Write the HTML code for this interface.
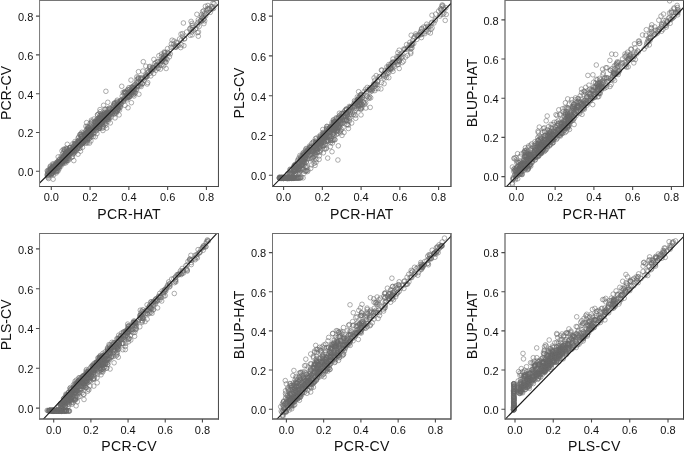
<!DOCTYPE html><html><head><meta charset="utf-8"><style>html,body{margin:0;padding:0;background:#fff;overflow:hidden}svg{display:block;will-change:transform}text{font-family:"Liberation Sans", sans-serif}</style></head><body>
<svg width="685" height="453" viewBox="0 0 685 453">
<rect width="685" height="453" fill="#fff"/>
<clipPath id="c0"><rect x="39.55" y="0.45" width="178.90" height="186.05"/></clipPath>
<g clip-path="url(#c0)">
<path d="M77.0 140.2a2.3 2.3 0 1 0 4.6 0a2.3 2.3 0 1 0-4.6 0M125.3 96.9a2.3 2.3 0 1 0 4.6 0a2.3 2.3 0 1 0-4.6 0M189.9 25.5a2.3 2.3 0 1 0 4.6 0a2.3 2.3 0 1 0-4.6 0M151.5 67.7a2.3 2.3 0 1 0 4.6 0a2.3 2.3 0 1 0-4.6 0M54.6 167.3a2.3 2.3 0 1 0 4.6 0a2.3 2.3 0 1 0-4.6 0M62.2 159.2a2.3 2.3 0 1 0 4.6 0a2.3 2.3 0 1 0-4.6 0M95.1 126.6a2.3 2.3 0 1 0 4.6 0a2.3 2.3 0 1 0-4.6 0M76.0 146.8a2.3 2.3 0 1 0 4.6 0a2.3 2.3 0 1 0-4.6 0M67.7 147.5a2.3 2.3 0 1 0 4.6 0a2.3 2.3 0 1 0-4.6 0M66.4 150.8a2.3 2.3 0 1 0 4.6 0a2.3 2.3 0 1 0-4.6 0M121.7 93.7a2.3 2.3 0 1 0 4.6 0a2.3 2.3 0 1 0-4.6 0M84.5 137.0a2.3 2.3 0 1 0 4.6 0a2.3 2.3 0 1 0-4.6 0M53.3 171.7a2.3 2.3 0 1 0 4.6 0a2.3 2.3 0 1 0-4.6 0M199.3 14.7a2.3 2.3 0 1 0 4.6 0a2.3 2.3 0 1 0-4.6 0M199.0 16.9a2.3 2.3 0 1 0 4.6 0a2.3 2.3 0 1 0-4.6 0M75.6 145.8a2.3 2.3 0 1 0 4.6 0a2.3 2.3 0 1 0-4.6 0M70.9 149.0a2.3 2.3 0 1 0 4.6 0a2.3 2.3 0 1 0-4.6 0M48.1 166.1a2.3 2.3 0 1 0 4.6 0a2.3 2.3 0 1 0-4.6 0M48.3 169.3a2.3 2.3 0 1 0 4.6 0a2.3 2.3 0 1 0-4.6 0M136.1 78.6a2.3 2.3 0 1 0 4.6 0a2.3 2.3 0 1 0-4.6 0M52.6 170.0a2.3 2.3 0 1 0 4.6 0a2.3 2.3 0 1 0-4.6 0M80.1 143.5a2.3 2.3 0 1 0 4.6 0a2.3 2.3 0 1 0-4.6 0M108.5 112.3a2.3 2.3 0 1 0 4.6 0a2.3 2.3 0 1 0-4.6 0M97.9 111.7a2.3 2.3 0 1 0 4.6 0a2.3 2.3 0 1 0-4.6 0M132.0 88.6a2.3 2.3 0 1 0 4.6 0a2.3 2.3 0 1 0-4.6 0M159.2 60.3a2.3 2.3 0 1 0 4.6 0a2.3 2.3 0 1 0-4.6 0M60.7 161.3a2.3 2.3 0 1 0 4.6 0a2.3 2.3 0 1 0-4.6 0M110.2 107.0a2.3 2.3 0 1 0 4.6 0a2.3 2.3 0 1 0-4.6 0M55.3 164.2a2.3 2.3 0 1 0 4.6 0a2.3 2.3 0 1 0-4.6 0M108.8 108.8a2.3 2.3 0 1 0 4.6 0a2.3 2.3 0 1 0-4.6 0M68.1 147.8a2.3 2.3 0 1 0 4.6 0a2.3 2.3 0 1 0-4.6 0M103.4 109.5a2.3 2.3 0 1 0 4.6 0a2.3 2.3 0 1 0-4.6 0M49.4 172.7a2.3 2.3 0 1 0 4.6 0a2.3 2.3 0 1 0-4.6 0M201.3 10.8a2.3 2.3 0 1 0 4.6 0a2.3 2.3 0 1 0-4.6 0M63.1 153.9a2.3 2.3 0 1 0 4.6 0a2.3 2.3 0 1 0-4.6 0M129.2 91.0a2.3 2.3 0 1 0 4.6 0a2.3 2.3 0 1 0-4.6 0M122.9 92.4a2.3 2.3 0 1 0 4.6 0a2.3 2.3 0 1 0-4.6 0M105.8 121.3a2.3 2.3 0 1 0 4.6 0a2.3 2.3 0 1 0-4.6 0M201.7 18.6a2.3 2.3 0 1 0 4.6 0a2.3 2.3 0 1 0-4.6 0M85.4 142.8a2.3 2.3 0 1 0 4.6 0a2.3 2.3 0 1 0-4.6 0M68.7 152.4a2.3 2.3 0 1 0 4.6 0a2.3 2.3 0 1 0-4.6 0M62.8 159.2a2.3 2.3 0 1 0 4.6 0a2.3 2.3 0 1 0-4.6 0M62.2 149.2a2.3 2.3 0 1 0 4.6 0a2.3 2.3 0 1 0-4.6 0M112.4 108.3a2.3 2.3 0 1 0 4.6 0a2.3 2.3 0 1 0-4.6 0M59.3 161.5a2.3 2.3 0 1 0 4.6 0a2.3 2.3 0 1 0-4.6 0M72.5 145.2a2.3 2.3 0 1 0 4.6 0a2.3 2.3 0 1 0-4.6 0M86.1 134.8a2.3 2.3 0 1 0 4.6 0a2.3 2.3 0 1 0-4.6 0M112.6 102.7a2.3 2.3 0 1 0 4.6 0a2.3 2.3 0 1 0-4.6 0M205.5 9.9a2.3 2.3 0 1 0 4.6 0a2.3 2.3 0 1 0-4.6 0M179.1 40.2a2.3 2.3 0 1 0 4.6 0a2.3 2.3 0 1 0-4.6 0M70.2 149.1a2.3 2.3 0 1 0 4.6 0a2.3 2.3 0 1 0-4.6 0M134.8 81.9a2.3 2.3 0 1 0 4.6 0a2.3 2.3 0 1 0-4.6 0M167.1 56.8a2.3 2.3 0 1 0 4.6 0a2.3 2.3 0 1 0-4.6 0M89.3 131.3a2.3 2.3 0 1 0 4.6 0a2.3 2.3 0 1 0-4.6 0M55.7 167.2a2.3 2.3 0 1 0 4.6 0a2.3 2.3 0 1 0-4.6 0M87.2 138.4a2.3 2.3 0 1 0 4.6 0a2.3 2.3 0 1 0-4.6 0M145.3 70.2a2.3 2.3 0 1 0 4.6 0a2.3 2.3 0 1 0-4.6 0M49.3 173.1a2.3 2.3 0 1 0 4.6 0a2.3 2.3 0 1 0-4.6 0M119.9 96.1a2.3 2.3 0 1 0 4.6 0a2.3 2.3 0 1 0-4.6 0M81.5 142.3a2.3 2.3 0 1 0 4.6 0a2.3 2.3 0 1 0-4.6 0M91.0 127.4a2.3 2.3 0 1 0 4.6 0a2.3 2.3 0 1 0-4.6 0M138.5 82.3a2.3 2.3 0 1 0 4.6 0a2.3 2.3 0 1 0-4.6 0M56.8 168.9a2.3 2.3 0 1 0 4.6 0a2.3 2.3 0 1 0-4.6 0M105.8 113.1a2.3 2.3 0 1 0 4.6 0a2.3 2.3 0 1 0-4.6 0M92.3 121.6a2.3 2.3 0 1 0 4.6 0a2.3 2.3 0 1 0-4.6 0M50.4 167.9a2.3 2.3 0 1 0 4.6 0a2.3 2.3 0 1 0-4.6 0M64.7 148.8a2.3 2.3 0 1 0 4.6 0a2.3 2.3 0 1 0-4.6 0M88.8 134.8a2.3 2.3 0 1 0 4.6 0a2.3 2.3 0 1 0-4.6 0M71.3 149.6a2.3 2.3 0 1 0 4.6 0a2.3 2.3 0 1 0-4.6 0M93.1 125.6a2.3 2.3 0 1 0 4.6 0a2.3 2.3 0 1 0-4.6 0M54.0 164.0a2.3 2.3 0 1 0 4.6 0a2.3 2.3 0 1 0-4.6 0M55.8 164.1a2.3 2.3 0 1 0 4.6 0a2.3 2.3 0 1 0-4.6 0M133.1 92.8a2.3 2.3 0 1 0 4.6 0a2.3 2.3 0 1 0-4.6 0M51.6 168.8a2.3 2.3 0 1 0 4.6 0a2.3 2.3 0 1 0-4.6 0M50.2 168.9a2.3 2.3 0 1 0 4.6 0a2.3 2.3 0 1 0-4.6 0M148.7 70.2a2.3 2.3 0 1 0 4.6 0a2.3 2.3 0 1 0-4.6 0M64.4 152.3a2.3 2.3 0 1 0 4.6 0a2.3 2.3 0 1 0-4.6 0M148.1 68.1a2.3 2.3 0 1 0 4.6 0a2.3 2.3 0 1 0-4.6 0M209.9 8.9a2.3 2.3 0 1 0 4.6 0a2.3 2.3 0 1 0-4.6 0M169.0 44.0a2.3 2.3 0 1 0 4.6 0a2.3 2.3 0 1 0-4.6 0M85.8 135.1a2.3 2.3 0 1 0 4.6 0a2.3 2.3 0 1 0-4.6 0M127.4 89.2a2.3 2.3 0 1 0 4.6 0a2.3 2.3 0 1 0-4.6 0M66.8 155.0a2.3 2.3 0 1 0 4.6 0a2.3 2.3 0 1 0-4.6 0M125.0 90.9a2.3 2.3 0 1 0 4.6 0a2.3 2.3 0 1 0-4.6 0M102.8 117.8a2.3 2.3 0 1 0 4.6 0a2.3 2.3 0 1 0-4.6 0M108.8 112.8a2.3 2.3 0 1 0 4.6 0a2.3 2.3 0 1 0-4.6 0M76.5 140.0a2.3 2.3 0 1 0 4.6 0a2.3 2.3 0 1 0-4.6 0M95.4 114.8a2.3 2.3 0 1 0 4.6 0a2.3 2.3 0 1 0-4.6 0M97.4 127.0a2.3 2.3 0 1 0 4.6 0a2.3 2.3 0 1 0-4.6 0M114.9 100.2a2.3 2.3 0 1 0 4.6 0a2.3 2.3 0 1 0-4.6 0M100.4 122.6a2.3 2.3 0 1 0 4.6 0a2.3 2.3 0 1 0-4.6 0M110.4 112.3a2.3 2.3 0 1 0 4.6 0a2.3 2.3 0 1 0-4.6 0M104.3 128.1a2.3 2.3 0 1 0 4.6 0a2.3 2.3 0 1 0-4.6 0M93.6 130.0a2.3 2.3 0 1 0 4.6 0a2.3 2.3 0 1 0-4.6 0M174.5 45.6a2.3 2.3 0 1 0 4.6 0a2.3 2.3 0 1 0-4.6 0M161.1 57.8a2.3 2.3 0 1 0 4.6 0a2.3 2.3 0 1 0-4.6 0M99.3 118.9a2.3 2.3 0 1 0 4.6 0a2.3 2.3 0 1 0-4.6 0M189.8 34.9a2.3 2.3 0 1 0 4.6 0a2.3 2.3 0 1 0-4.6 0M57.9 161.8a2.3 2.3 0 1 0 4.6 0a2.3 2.3 0 1 0-4.6 0M55.9 156.9a2.3 2.3 0 1 0 4.6 0a2.3 2.3 0 1 0-4.6 0M82.6 137.2a2.3 2.3 0 1 0 4.6 0a2.3 2.3 0 1 0-4.6 0M107.7 109.1a2.3 2.3 0 1 0 4.6 0a2.3 2.3 0 1 0-4.6 0M104.0 116.1a2.3 2.3 0 1 0 4.6 0a2.3 2.3 0 1 0-4.6 0M58.9 162.5a2.3 2.3 0 1 0 4.6 0a2.3 2.3 0 1 0-4.6 0M52.3 168.6a2.3 2.3 0 1 0 4.6 0a2.3 2.3 0 1 0-4.6 0M96.0 121.1a2.3 2.3 0 1 0 4.6 0a2.3 2.3 0 1 0-4.6 0M188.8 21.4a2.3 2.3 0 1 0 4.6 0a2.3 2.3 0 1 0-4.6 0M178.7 34.1a2.3 2.3 0 1 0 4.6 0a2.3 2.3 0 1 0-4.6 0M99.8 122.8a2.3 2.3 0 1 0 4.6 0a2.3 2.3 0 1 0-4.6 0M75.8 138.1a2.3 2.3 0 1 0 4.6 0a2.3 2.3 0 1 0-4.6 0M81.8 139.6a2.3 2.3 0 1 0 4.6 0a2.3 2.3 0 1 0-4.6 0M60.3 158.3a2.3 2.3 0 1 0 4.6 0a2.3 2.3 0 1 0-4.6 0M96.5 122.1a2.3 2.3 0 1 0 4.6 0a2.3 2.3 0 1 0-4.6 0M85.4 135.1a2.3 2.3 0 1 0 4.6 0a2.3 2.3 0 1 0-4.6 0M80.0 136.1a2.3 2.3 0 1 0 4.6 0a2.3 2.3 0 1 0-4.6 0M50.3 171.2a2.3 2.3 0 1 0 4.6 0a2.3 2.3 0 1 0-4.6 0M61.2 155.8a2.3 2.3 0 1 0 4.6 0a2.3 2.3 0 1 0-4.6 0M59.4 158.1a2.3 2.3 0 1 0 4.6 0a2.3 2.3 0 1 0-4.6 0M67.4 147.9a2.3 2.3 0 1 0 4.6 0a2.3 2.3 0 1 0-4.6 0M106.1 109.9a2.3 2.3 0 1 0 4.6 0a2.3 2.3 0 1 0-4.6 0M83.0 140.9a2.3 2.3 0 1 0 4.6 0a2.3 2.3 0 1 0-4.6 0M103.6 91.3a2.3 2.3 0 1 0 4.6 0a2.3 2.3 0 1 0-4.6 0M101.6 116.4a2.3 2.3 0 1 0 4.6 0a2.3 2.3 0 1 0-4.6 0M85.8 134.3a2.3 2.3 0 1 0 4.6 0a2.3 2.3 0 1 0-4.6 0M117.8 101.4a2.3 2.3 0 1 0 4.6 0a2.3 2.3 0 1 0-4.6 0M47.1 173.1a2.3 2.3 0 1 0 4.6 0a2.3 2.3 0 1 0-4.6 0M102.2 118.4a2.3 2.3 0 1 0 4.6 0a2.3 2.3 0 1 0-4.6 0M189.4 32.1a2.3 2.3 0 1 0 4.6 0a2.3 2.3 0 1 0-4.6 0M202.4 20.8a2.3 2.3 0 1 0 4.6 0a2.3 2.3 0 1 0-4.6 0M50.2 171.1a2.3 2.3 0 1 0 4.6 0a2.3 2.3 0 1 0-4.6 0M59.3 161.5a2.3 2.3 0 1 0 4.6 0a2.3 2.3 0 1 0-4.6 0M65.8 158.1a2.3 2.3 0 1 0 4.6 0a2.3 2.3 0 1 0-4.6 0M84.8 136.5a2.3 2.3 0 1 0 4.6 0a2.3 2.3 0 1 0-4.6 0M144.2 75.5a2.3 2.3 0 1 0 4.6 0a2.3 2.3 0 1 0-4.6 0M66.7 150.5a2.3 2.3 0 1 0 4.6 0a2.3 2.3 0 1 0-4.6 0M96.9 119.1a2.3 2.3 0 1 0 4.6 0a2.3 2.3 0 1 0-4.6 0M70.3 150.7a2.3 2.3 0 1 0 4.6 0a2.3 2.3 0 1 0-4.6 0M52.4 166.5a2.3 2.3 0 1 0 4.6 0a2.3 2.3 0 1 0-4.6 0M57.2 159.6a2.3 2.3 0 1 0 4.6 0a2.3 2.3 0 1 0-4.6 0M65.9 160.4a2.3 2.3 0 1 0 4.6 0a2.3 2.3 0 1 0-4.6 0M60.4 159.9a2.3 2.3 0 1 0 4.6 0a2.3 2.3 0 1 0-4.6 0M48.6 174.5a2.3 2.3 0 1 0 4.6 0a2.3 2.3 0 1 0-4.6 0M111.1 105.9a2.3 2.3 0 1 0 4.6 0a2.3 2.3 0 1 0-4.6 0M83.7 136.2a2.3 2.3 0 1 0 4.6 0a2.3 2.3 0 1 0-4.6 0M89.1 120.2a2.3 2.3 0 1 0 4.6 0a2.3 2.3 0 1 0-4.6 0M63.2 152.1a2.3 2.3 0 1 0 4.6 0a2.3 2.3 0 1 0-4.6 0M100.3 120.8a2.3 2.3 0 1 0 4.6 0a2.3 2.3 0 1 0-4.6 0M134.9 86.3a2.3 2.3 0 1 0 4.6 0a2.3 2.3 0 1 0-4.6 0M72.1 147.8a2.3 2.3 0 1 0 4.6 0a2.3 2.3 0 1 0-4.6 0M52.5 165.8a2.3 2.3 0 1 0 4.6 0a2.3 2.3 0 1 0-4.6 0M95.6 121.5a2.3 2.3 0 1 0 4.6 0a2.3 2.3 0 1 0-4.6 0M181.6 45.7a2.3 2.3 0 1 0 4.6 0a2.3 2.3 0 1 0-4.6 0M64.8 153.8a2.3 2.3 0 1 0 4.6 0a2.3 2.3 0 1 0-4.6 0M63.4 161.4a2.3 2.3 0 1 0 4.6 0a2.3 2.3 0 1 0-4.6 0M148.9 70.3a2.3 2.3 0 1 0 4.6 0a2.3 2.3 0 1 0-4.6 0M169.8 40.2a2.3 2.3 0 1 0 4.6 0a2.3 2.3 0 1 0-4.6 0M150.2 69.5a2.3 2.3 0 1 0 4.6 0a2.3 2.3 0 1 0-4.6 0M51.0 169.9a2.3 2.3 0 1 0 4.6 0a2.3 2.3 0 1 0-4.6 0M86.3 129.4a2.3 2.3 0 1 0 4.6 0a2.3 2.3 0 1 0-4.6 0M135.8 78.9a2.3 2.3 0 1 0 4.6 0a2.3 2.3 0 1 0-4.6 0M54.8 168.6a2.3 2.3 0 1 0 4.6 0a2.3 2.3 0 1 0-4.6 0M116.0 105.2a2.3 2.3 0 1 0 4.6 0a2.3 2.3 0 1 0-4.6 0M83.8 133.3a2.3 2.3 0 1 0 4.6 0a2.3 2.3 0 1 0-4.6 0M82.4 134.0a2.3 2.3 0 1 0 4.6 0a2.3 2.3 0 1 0-4.6 0M100.9 125.8a2.3 2.3 0 1 0 4.6 0a2.3 2.3 0 1 0-4.6 0M51.5 169.4a2.3 2.3 0 1 0 4.6 0a2.3 2.3 0 1 0-4.6 0M106.7 116.8a2.3 2.3 0 1 0 4.6 0a2.3 2.3 0 1 0-4.6 0M55.3 170.6a2.3 2.3 0 1 0 4.6 0a2.3 2.3 0 1 0-4.6 0M54.4 162.8a2.3 2.3 0 1 0 4.6 0a2.3 2.3 0 1 0-4.6 0M94.6 133.6a2.3 2.3 0 1 0 4.6 0a2.3 2.3 0 1 0-4.6 0M130.7 88.7a2.3 2.3 0 1 0 4.6 0a2.3 2.3 0 1 0-4.6 0M69.5 151.0a2.3 2.3 0 1 0 4.6 0a2.3 2.3 0 1 0-4.6 0M80.6 142.5a2.3 2.3 0 1 0 4.6 0a2.3 2.3 0 1 0-4.6 0M121.1 99.6a2.3 2.3 0 1 0 4.6 0a2.3 2.3 0 1 0-4.6 0M55.6 161.5a2.3 2.3 0 1 0 4.6 0a2.3 2.3 0 1 0-4.6 0M72.8 143.4a2.3 2.3 0 1 0 4.6 0a2.3 2.3 0 1 0-4.6 0M154.9 64.9a2.3 2.3 0 1 0 4.6 0a2.3 2.3 0 1 0-4.6 0M73.3 147.7a2.3 2.3 0 1 0 4.6 0a2.3 2.3 0 1 0-4.6 0M129.9 87.7a2.3 2.3 0 1 0 4.6 0a2.3 2.3 0 1 0-4.6 0M131.8 87.8a2.3 2.3 0 1 0 4.6 0a2.3 2.3 0 1 0-4.6 0M101.6 119.9a2.3 2.3 0 1 0 4.6 0a2.3 2.3 0 1 0-4.6 0M53.7 164.3a2.3 2.3 0 1 0 4.6 0a2.3 2.3 0 1 0-4.6 0M70.1 150.6a2.3 2.3 0 1 0 4.6 0a2.3 2.3 0 1 0-4.6 0M181.1 23.0a2.3 2.3 0 1 0 4.6 0a2.3 2.3 0 1 0-4.6 0M86.1 128.6a2.3 2.3 0 1 0 4.6 0a2.3 2.3 0 1 0-4.6 0M49.4 170.0a2.3 2.3 0 1 0 4.6 0a2.3 2.3 0 1 0-4.6 0M84.9 140.7a2.3 2.3 0 1 0 4.6 0a2.3 2.3 0 1 0-4.6 0M85.1 132.6a2.3 2.3 0 1 0 4.6 0a2.3 2.3 0 1 0-4.6 0M56.6 167.6a2.3 2.3 0 1 0 4.6 0a2.3 2.3 0 1 0-4.6 0M108.0 122.9a2.3 2.3 0 1 0 4.6 0a2.3 2.3 0 1 0-4.6 0M92.5 132.2a2.3 2.3 0 1 0 4.6 0a2.3 2.3 0 1 0-4.6 0M78.2 151.2a2.3 2.3 0 1 0 4.6 0a2.3 2.3 0 1 0-4.6 0M51.0 165.3a2.3 2.3 0 1 0 4.6 0a2.3 2.3 0 1 0-4.6 0M115.9 109.2a2.3 2.3 0 1 0 4.6 0a2.3 2.3 0 1 0-4.6 0M62.5 160.0a2.3 2.3 0 1 0 4.6 0a2.3 2.3 0 1 0-4.6 0M127.7 91.8a2.3 2.3 0 1 0 4.6 0a2.3 2.3 0 1 0-4.6 0M57.2 159.4a2.3 2.3 0 1 0 4.6 0a2.3 2.3 0 1 0-4.6 0M115.0 105.6a2.3 2.3 0 1 0 4.6 0a2.3 2.3 0 1 0-4.6 0M102.0 114.2a2.3 2.3 0 1 0 4.6 0a2.3 2.3 0 1 0-4.6 0M103.6 119.6a2.3 2.3 0 1 0 4.6 0a2.3 2.3 0 1 0-4.6 0M45.6 176.1a2.3 2.3 0 1 0 4.6 0a2.3 2.3 0 1 0-4.6 0M60.5 153.6a2.3 2.3 0 1 0 4.6 0a2.3 2.3 0 1 0-4.6 0M57.9 161.9a2.3 2.3 0 1 0 4.6 0a2.3 2.3 0 1 0-4.6 0M147.3 67.0a2.3 2.3 0 1 0 4.6 0a2.3 2.3 0 1 0-4.6 0M97.7 115.3a2.3 2.3 0 1 0 4.6 0a2.3 2.3 0 1 0-4.6 0M97.3 126.2a2.3 2.3 0 1 0 4.6 0a2.3 2.3 0 1 0-4.6 0M62.7 160.6a2.3 2.3 0 1 0 4.6 0a2.3 2.3 0 1 0-4.6 0M145.9 71.9a2.3 2.3 0 1 0 4.6 0a2.3 2.3 0 1 0-4.6 0M52.9 167.8a2.3 2.3 0 1 0 4.6 0a2.3 2.3 0 1 0-4.6 0M124.8 96.0a2.3 2.3 0 1 0 4.6 0a2.3 2.3 0 1 0-4.6 0M85.4 138.2a2.3 2.3 0 1 0 4.6 0a2.3 2.3 0 1 0-4.6 0M119.0 100.6a2.3 2.3 0 1 0 4.6 0a2.3 2.3 0 1 0-4.6 0M211.2 -0.6a2.3 2.3 0 1 0 4.6 0a2.3 2.3 0 1 0-4.6 0M118.1 100.6a2.3 2.3 0 1 0 4.6 0a2.3 2.3 0 1 0-4.6 0M78.7 144.7a2.3 2.3 0 1 0 4.6 0a2.3 2.3 0 1 0-4.6 0M127.1 96.8a2.3 2.3 0 1 0 4.6 0a2.3 2.3 0 1 0-4.6 0M88.8 130.5a2.3 2.3 0 1 0 4.6 0a2.3 2.3 0 1 0-4.6 0M94.6 123.8a2.3 2.3 0 1 0 4.6 0a2.3 2.3 0 1 0-4.6 0M84.2 137.6a2.3 2.3 0 1 0 4.6 0a2.3 2.3 0 1 0-4.6 0M93.1 128.6a2.3 2.3 0 1 0 4.6 0a2.3 2.3 0 1 0-4.6 0M72.5 148.9a2.3 2.3 0 1 0 4.6 0a2.3 2.3 0 1 0-4.6 0M137.8 84.0a2.3 2.3 0 1 0 4.6 0a2.3 2.3 0 1 0-4.6 0M61.9 163.2a2.3 2.3 0 1 0 4.6 0a2.3 2.3 0 1 0-4.6 0M75.9 142.5a2.3 2.3 0 1 0 4.6 0a2.3 2.3 0 1 0-4.6 0M60.0 161.5a2.3 2.3 0 1 0 4.6 0a2.3 2.3 0 1 0-4.6 0M64.7 152.0a2.3 2.3 0 1 0 4.6 0a2.3 2.3 0 1 0-4.6 0M49.6 171.5a2.3 2.3 0 1 0 4.6 0a2.3 2.3 0 1 0-4.6 0M55.6 171.2a2.3 2.3 0 1 0 4.6 0a2.3 2.3 0 1 0-4.6 0M76.6 142.3a2.3 2.3 0 1 0 4.6 0a2.3 2.3 0 1 0-4.6 0M76.4 137.1a2.3 2.3 0 1 0 4.6 0a2.3 2.3 0 1 0-4.6 0M180.3 33.7a2.3 2.3 0 1 0 4.6 0a2.3 2.3 0 1 0-4.6 0M104.8 112.1a2.3 2.3 0 1 0 4.6 0a2.3 2.3 0 1 0-4.6 0M165.3 48.6a2.3 2.3 0 1 0 4.6 0a2.3 2.3 0 1 0-4.6 0M125.0 97.3a2.3 2.3 0 1 0 4.6 0a2.3 2.3 0 1 0-4.6 0M70.0 150.2a2.3 2.3 0 1 0 4.6 0a2.3 2.3 0 1 0-4.6 0M61.1 149.4a2.3 2.3 0 1 0 4.6 0a2.3 2.3 0 1 0-4.6 0M121.2 98.4a2.3 2.3 0 1 0 4.6 0a2.3 2.3 0 1 0-4.6 0M89.8 131.1a2.3 2.3 0 1 0 4.6 0a2.3 2.3 0 1 0-4.6 0M46.3 178.5a2.3 2.3 0 1 0 4.6 0a2.3 2.3 0 1 0-4.6 0M140.5 71.1a2.3 2.3 0 1 0 4.6 0a2.3 2.3 0 1 0-4.6 0M56.1 163.0a2.3 2.3 0 1 0 4.6 0a2.3 2.3 0 1 0-4.6 0M134.4 89.5a2.3 2.3 0 1 0 4.6 0a2.3 2.3 0 1 0-4.6 0M111.8 103.9a2.3 2.3 0 1 0 4.6 0a2.3 2.3 0 1 0-4.6 0M70.1 147.4a2.3 2.3 0 1 0 4.6 0a2.3 2.3 0 1 0-4.6 0M201.6 23.6a2.3 2.3 0 1 0 4.6 0a2.3 2.3 0 1 0-4.6 0M97.0 120.4a2.3 2.3 0 1 0 4.6 0a2.3 2.3 0 1 0-4.6 0M85.1 126.3a2.3 2.3 0 1 0 4.6 0a2.3 2.3 0 1 0-4.6 0M198.3 20.9a2.3 2.3 0 1 0 4.6 0a2.3 2.3 0 1 0-4.6 0M53.0 167.6a2.3 2.3 0 1 0 4.6 0a2.3 2.3 0 1 0-4.6 0M51.3 164.0a2.3 2.3 0 1 0 4.6 0a2.3 2.3 0 1 0-4.6 0M114.8 106.1a2.3 2.3 0 1 0 4.6 0a2.3 2.3 0 1 0-4.6 0M60.1 164.0a2.3 2.3 0 1 0 4.6 0a2.3 2.3 0 1 0-4.6 0M162.1 52.8a2.3 2.3 0 1 0 4.6 0a2.3 2.3 0 1 0-4.6 0M102.2 122.2a2.3 2.3 0 1 0 4.6 0a2.3 2.3 0 1 0-4.6 0M87.2 143.1a2.3 2.3 0 1 0 4.6 0a2.3 2.3 0 1 0-4.6 0M177.3 39.0a2.3 2.3 0 1 0 4.6 0a2.3 2.3 0 1 0-4.6 0M106.6 108.4a2.3 2.3 0 1 0 4.6 0a2.3 2.3 0 1 0-4.6 0M50.2 170.8a2.3 2.3 0 1 0 4.6 0a2.3 2.3 0 1 0-4.6 0M168.6 47.3a2.3 2.3 0 1 0 4.6 0a2.3 2.3 0 1 0-4.6 0M96.1 118.4a2.3 2.3 0 1 0 4.6 0a2.3 2.3 0 1 0-4.6 0M80.3 140.8a2.3 2.3 0 1 0 4.6 0a2.3 2.3 0 1 0-4.6 0M88.0 134.0a2.3 2.3 0 1 0 4.6 0a2.3 2.3 0 1 0-4.6 0M162.4 59.2a2.3 2.3 0 1 0 4.6 0a2.3 2.3 0 1 0-4.6 0M45.0 170.7a2.3 2.3 0 1 0 4.6 0a2.3 2.3 0 1 0-4.6 0M97.0 119.2a2.3 2.3 0 1 0 4.6 0a2.3 2.3 0 1 0-4.6 0M50.8 168.9a2.3 2.3 0 1 0 4.6 0a2.3 2.3 0 1 0-4.6 0M125.4 96.1a2.3 2.3 0 1 0 4.6 0a2.3 2.3 0 1 0-4.6 0M124.5 99.9a2.3 2.3 0 1 0 4.6 0a2.3 2.3 0 1 0-4.6 0M100.2 124.1a2.3 2.3 0 1 0 4.6 0a2.3 2.3 0 1 0-4.6 0M81.1 142.5a2.3 2.3 0 1 0 4.6 0a2.3 2.3 0 1 0-4.6 0M207.9 12.4a2.3 2.3 0 1 0 4.6 0a2.3 2.3 0 1 0-4.6 0M133.0 84.5a2.3 2.3 0 1 0 4.6 0a2.3 2.3 0 1 0-4.6 0M50.7 173.0a2.3 2.3 0 1 0 4.6 0a2.3 2.3 0 1 0-4.6 0M135.6 86.0a2.3 2.3 0 1 0 4.6 0a2.3 2.3 0 1 0-4.6 0M46.6 172.7a2.3 2.3 0 1 0 4.6 0a2.3 2.3 0 1 0-4.6 0M91.2 128.8a2.3 2.3 0 1 0 4.6 0a2.3 2.3 0 1 0-4.6 0M201.2 19.4a2.3 2.3 0 1 0 4.6 0a2.3 2.3 0 1 0-4.6 0M160.0 59.6a2.3 2.3 0 1 0 4.6 0a2.3 2.3 0 1 0-4.6 0M138.2 78.2a2.3 2.3 0 1 0 4.6 0a2.3 2.3 0 1 0-4.6 0M107.4 108.0a2.3 2.3 0 1 0 4.6 0a2.3 2.3 0 1 0-4.6 0M50.2 167.3a2.3 2.3 0 1 0 4.6 0a2.3 2.3 0 1 0-4.6 0M88.9 136.6a2.3 2.3 0 1 0 4.6 0a2.3 2.3 0 1 0-4.6 0M79.8 142.3a2.3 2.3 0 1 0 4.6 0a2.3 2.3 0 1 0-4.6 0M211.3 8.4a2.3 2.3 0 1 0 4.6 0a2.3 2.3 0 1 0-4.6 0M85.9 127.6a2.3 2.3 0 1 0 4.6 0a2.3 2.3 0 1 0-4.6 0M165.0 59.2a2.3 2.3 0 1 0 4.6 0a2.3 2.3 0 1 0-4.6 0M139.4 79.4a2.3 2.3 0 1 0 4.6 0a2.3 2.3 0 1 0-4.6 0M174.1 42.3a2.3 2.3 0 1 0 4.6 0a2.3 2.3 0 1 0-4.6 0M182.2 38.5a2.3 2.3 0 1 0 4.6 0a2.3 2.3 0 1 0-4.6 0M55.6 161.5a2.3 2.3 0 1 0 4.6 0a2.3 2.3 0 1 0-4.6 0M156.6 55.7a2.3 2.3 0 1 0 4.6 0a2.3 2.3 0 1 0-4.6 0M162.3 60.9a2.3 2.3 0 1 0 4.6 0a2.3 2.3 0 1 0-4.6 0M90.9 125.3a2.3 2.3 0 1 0 4.6 0a2.3 2.3 0 1 0-4.6 0M156.1 68.3a2.3 2.3 0 1 0 4.6 0a2.3 2.3 0 1 0-4.6 0M196.2 32.0a2.3 2.3 0 1 0 4.6 0a2.3 2.3 0 1 0-4.6 0M105.7 119.2a2.3 2.3 0 1 0 4.6 0a2.3 2.3 0 1 0-4.6 0M82.1 134.1a2.3 2.3 0 1 0 4.6 0a2.3 2.3 0 1 0-4.6 0M87.8 123.6a2.3 2.3 0 1 0 4.6 0a2.3 2.3 0 1 0-4.6 0M91.3 132.9a2.3 2.3 0 1 0 4.6 0a2.3 2.3 0 1 0-4.6 0M122.6 98.0a2.3 2.3 0 1 0 4.6 0a2.3 2.3 0 1 0-4.6 0M79.5 142.7a2.3 2.3 0 1 0 4.6 0a2.3 2.3 0 1 0-4.6 0M93.4 127.7a2.3 2.3 0 1 0 4.6 0a2.3 2.3 0 1 0-4.6 0M114.2 104.6a2.3 2.3 0 1 0 4.6 0a2.3 2.3 0 1 0-4.6 0M78.9 141.1a2.3 2.3 0 1 0 4.6 0a2.3 2.3 0 1 0-4.6 0M70.6 151.4a2.3 2.3 0 1 0 4.6 0a2.3 2.3 0 1 0-4.6 0M179.3 44.9a2.3 2.3 0 1 0 4.6 0a2.3 2.3 0 1 0-4.6 0M69.6 151.9a2.3 2.3 0 1 0 4.6 0a2.3 2.3 0 1 0-4.6 0M195.5 22.4a2.3 2.3 0 1 0 4.6 0a2.3 2.3 0 1 0-4.6 0M87.9 135.4a2.3 2.3 0 1 0 4.6 0a2.3 2.3 0 1 0-4.6 0M72.7 141.5a2.3 2.3 0 1 0 4.6 0a2.3 2.3 0 1 0-4.6 0M132.2 85.0a2.3 2.3 0 1 0 4.6 0a2.3 2.3 0 1 0-4.6 0M188.0 28.2a2.3 2.3 0 1 0 4.6 0a2.3 2.3 0 1 0-4.6 0M109.6 114.3a2.3 2.3 0 1 0 4.6 0a2.3 2.3 0 1 0-4.6 0M54.2 170.8a2.3 2.3 0 1 0 4.6 0a2.3 2.3 0 1 0-4.6 0M87.8 130.2a2.3 2.3 0 1 0 4.6 0a2.3 2.3 0 1 0-4.6 0M96.9 128.2a2.3 2.3 0 1 0 4.6 0a2.3 2.3 0 1 0-4.6 0M123.5 92.2a2.3 2.3 0 1 0 4.6 0a2.3 2.3 0 1 0-4.6 0M141.0 61.7a2.3 2.3 0 1 0 4.6 0a2.3 2.3 0 1 0-4.6 0M65.2 156.0a2.3 2.3 0 1 0 4.6 0a2.3 2.3 0 1 0-4.6 0M60.2 159.0a2.3 2.3 0 1 0 4.6 0a2.3 2.3 0 1 0-4.6 0M95.2 114.8a2.3 2.3 0 1 0 4.6 0a2.3 2.3 0 1 0-4.6 0M111.8 113.9a2.3 2.3 0 1 0 4.6 0a2.3 2.3 0 1 0-4.6 0M79.5 138.5a2.3 2.3 0 1 0 4.6 0a2.3 2.3 0 1 0-4.6 0M126.7 87.6a2.3 2.3 0 1 0 4.6 0a2.3 2.3 0 1 0-4.6 0M85.7 138.3a2.3 2.3 0 1 0 4.6 0a2.3 2.3 0 1 0-4.6 0M127.8 96.4a2.3 2.3 0 1 0 4.6 0a2.3 2.3 0 1 0-4.6 0M78.3 143.2a2.3 2.3 0 1 0 4.6 0a2.3 2.3 0 1 0-4.6 0M100.4 120.3a2.3 2.3 0 1 0 4.6 0a2.3 2.3 0 1 0-4.6 0M87.5 131.9a2.3 2.3 0 1 0 4.6 0a2.3 2.3 0 1 0-4.6 0M67.2 151.5a2.3 2.3 0 1 0 4.6 0a2.3 2.3 0 1 0-4.6 0M101.8 124.4a2.3 2.3 0 1 0 4.6 0a2.3 2.3 0 1 0-4.6 0M82.7 141.5a2.3 2.3 0 1 0 4.6 0a2.3 2.3 0 1 0-4.6 0M68.5 152.3a2.3 2.3 0 1 0 4.6 0a2.3 2.3 0 1 0-4.6 0M199.5 21.2a2.3 2.3 0 1 0 4.6 0a2.3 2.3 0 1 0-4.6 0M78.6 145.0a2.3 2.3 0 1 0 4.6 0a2.3 2.3 0 1 0-4.6 0M205.2 8.5a2.3 2.3 0 1 0 4.6 0a2.3 2.3 0 1 0-4.6 0M50.9 171.1a2.3 2.3 0 1 0 4.6 0a2.3 2.3 0 1 0-4.6 0M122.2 92.3a2.3 2.3 0 1 0 4.6 0a2.3 2.3 0 1 0-4.6 0M90.1 128.1a2.3 2.3 0 1 0 4.6 0a2.3 2.3 0 1 0-4.6 0M137.8 85.6a2.3 2.3 0 1 0 4.6 0a2.3 2.3 0 1 0-4.6 0M152.2 63.9a2.3 2.3 0 1 0 4.6 0a2.3 2.3 0 1 0-4.6 0M87.0 129.8a2.3 2.3 0 1 0 4.6 0a2.3 2.3 0 1 0-4.6 0M160.0 64.5a2.3 2.3 0 1 0 4.6 0a2.3 2.3 0 1 0-4.6 0M61.1 156.6a2.3 2.3 0 1 0 4.6 0a2.3 2.3 0 1 0-4.6 0M143.2 75.1a2.3 2.3 0 1 0 4.6 0a2.3 2.3 0 1 0-4.6 0M101.8 113.2a2.3 2.3 0 1 0 4.6 0a2.3 2.3 0 1 0-4.6 0M92.6 125.8a2.3 2.3 0 1 0 4.6 0a2.3 2.3 0 1 0-4.6 0M51.3 167.0a2.3 2.3 0 1 0 4.6 0a2.3 2.3 0 1 0-4.6 0M97.8 124.3a2.3 2.3 0 1 0 4.6 0a2.3 2.3 0 1 0-4.6 0M113.3 107.3a2.3 2.3 0 1 0 4.6 0a2.3 2.3 0 1 0-4.6 0M51.3 174.8a2.3 2.3 0 1 0 4.6 0a2.3 2.3 0 1 0-4.6 0M84.3 135.5a2.3 2.3 0 1 0 4.6 0a2.3 2.3 0 1 0-4.6 0M84.0 132.7a2.3 2.3 0 1 0 4.6 0a2.3 2.3 0 1 0-4.6 0M98.9 119.3a2.3 2.3 0 1 0 4.6 0a2.3 2.3 0 1 0-4.6 0M74.5 149.1a2.3 2.3 0 1 0 4.6 0a2.3 2.3 0 1 0-4.6 0M67.0 151.4a2.3 2.3 0 1 0 4.6 0a2.3 2.3 0 1 0-4.6 0M110.3 109.3a2.3 2.3 0 1 0 4.6 0a2.3 2.3 0 1 0-4.6 0M116.8 114.9a2.3 2.3 0 1 0 4.6 0a2.3 2.3 0 1 0-4.6 0M117.4 106.4a2.3 2.3 0 1 0 4.6 0a2.3 2.3 0 1 0-4.6 0M52.1 169.4a2.3 2.3 0 1 0 4.6 0a2.3 2.3 0 1 0-4.6 0M103.1 119.3a2.3 2.3 0 1 0 4.6 0a2.3 2.3 0 1 0-4.6 0M161.5 57.9a2.3 2.3 0 1 0 4.6 0a2.3 2.3 0 1 0-4.6 0M81.8 135.6a2.3 2.3 0 1 0 4.6 0a2.3 2.3 0 1 0-4.6 0M144.9 76.4a2.3 2.3 0 1 0 4.6 0a2.3 2.3 0 1 0-4.6 0M178.4 47.6a2.3 2.3 0 1 0 4.6 0a2.3 2.3 0 1 0-4.6 0M200.2 18.0a2.3 2.3 0 1 0 4.6 0a2.3 2.3 0 1 0-4.6 0M83.1 139.8a2.3 2.3 0 1 0 4.6 0a2.3 2.3 0 1 0-4.6 0M120.8 92.5a2.3 2.3 0 1 0 4.6 0a2.3 2.3 0 1 0-4.6 0M163.6 62.2a2.3 2.3 0 1 0 4.6 0a2.3 2.3 0 1 0-4.6 0M79.3 136.2a2.3 2.3 0 1 0 4.6 0a2.3 2.3 0 1 0-4.6 0M90.4 129.8a2.3 2.3 0 1 0 4.6 0a2.3 2.3 0 1 0-4.6 0M171.8 41.1a2.3 2.3 0 1 0 4.6 0a2.3 2.3 0 1 0-4.6 0M58.4 164.3a2.3 2.3 0 1 0 4.6 0a2.3 2.3 0 1 0-4.6 0M63.5 156.0a2.3 2.3 0 1 0 4.6 0a2.3 2.3 0 1 0-4.6 0M134.5 82.8a2.3 2.3 0 1 0 4.6 0a2.3 2.3 0 1 0-4.6 0M102.6 113.9a2.3 2.3 0 1 0 4.6 0a2.3 2.3 0 1 0-4.6 0M55.9 168.2a2.3 2.3 0 1 0 4.6 0a2.3 2.3 0 1 0-4.6 0M108.5 112.3a2.3 2.3 0 1 0 4.6 0a2.3 2.3 0 1 0-4.6 0M57.4 161.4a2.3 2.3 0 1 0 4.6 0a2.3 2.3 0 1 0-4.6 0M133.7 89.4a2.3 2.3 0 1 0 4.6 0a2.3 2.3 0 1 0-4.6 0M71.0 146.5a2.3 2.3 0 1 0 4.6 0a2.3 2.3 0 1 0-4.6 0M83.5 136.2a2.3 2.3 0 1 0 4.6 0a2.3 2.3 0 1 0-4.6 0M161.3 55.1a2.3 2.3 0 1 0 4.6 0a2.3 2.3 0 1 0-4.6 0M80.5 143.4a2.3 2.3 0 1 0 4.6 0a2.3 2.3 0 1 0-4.6 0M108.8 117.2a2.3 2.3 0 1 0 4.6 0a2.3 2.3 0 1 0-4.6 0M64.0 158.9a2.3 2.3 0 1 0 4.6 0a2.3 2.3 0 1 0-4.6 0M54.2 164.0a2.3 2.3 0 1 0 4.6 0a2.3 2.3 0 1 0-4.6 0M155.1 61.5a2.3 2.3 0 1 0 4.6 0a2.3 2.3 0 1 0-4.6 0M86.0 132.1a2.3 2.3 0 1 0 4.6 0a2.3 2.3 0 1 0-4.6 0M129.4 90.6a2.3 2.3 0 1 0 4.6 0a2.3 2.3 0 1 0-4.6 0M61.5 152.0a2.3 2.3 0 1 0 4.6 0a2.3 2.3 0 1 0-4.6 0M114.8 107.1a2.3 2.3 0 1 0 4.6 0a2.3 2.3 0 1 0-4.6 0M52.0 170.8a2.3 2.3 0 1 0 4.6 0a2.3 2.3 0 1 0-4.6 0M83.7 143.4a2.3 2.3 0 1 0 4.6 0a2.3 2.3 0 1 0-4.6 0M57.4 166.1a2.3 2.3 0 1 0 4.6 0a2.3 2.3 0 1 0-4.6 0M117.5 104.5a2.3 2.3 0 1 0 4.6 0a2.3 2.3 0 1 0-4.6 0M160.9 58.1a2.3 2.3 0 1 0 4.6 0a2.3 2.3 0 1 0-4.6 0M145.5 72.9a2.3 2.3 0 1 0 4.6 0a2.3 2.3 0 1 0-4.6 0M95.8 127.0a2.3 2.3 0 1 0 4.6 0a2.3 2.3 0 1 0-4.6 0M101.5 114.7a2.3 2.3 0 1 0 4.6 0a2.3 2.3 0 1 0-4.6 0M67.4 147.6a2.3 2.3 0 1 0 4.6 0a2.3 2.3 0 1 0-4.6 0M70.3 149.2a2.3 2.3 0 1 0 4.6 0a2.3 2.3 0 1 0-4.6 0M168.0 53.9a2.3 2.3 0 1 0 4.6 0a2.3 2.3 0 1 0-4.6 0M159.2 60.9a2.3 2.3 0 1 0 4.6 0a2.3 2.3 0 1 0-4.6 0M61.5 157.1a2.3 2.3 0 1 0 4.6 0a2.3 2.3 0 1 0-4.6 0M196.0 36.2a2.3 2.3 0 1 0 4.6 0a2.3 2.3 0 1 0-4.6 0M93.4 127.3a2.3 2.3 0 1 0 4.6 0a2.3 2.3 0 1 0-4.6 0M127.0 96.7a2.3 2.3 0 1 0 4.6 0a2.3 2.3 0 1 0-4.6 0M100.5 121.8a2.3 2.3 0 1 0 4.6 0a2.3 2.3 0 1 0-4.6 0M117.9 106.3a2.3 2.3 0 1 0 4.6 0a2.3 2.3 0 1 0-4.6 0M96.6 118.1a2.3 2.3 0 1 0 4.6 0a2.3 2.3 0 1 0-4.6 0M74.3 145.3a2.3 2.3 0 1 0 4.6 0a2.3 2.3 0 1 0-4.6 0M88.2 135.3a2.3 2.3 0 1 0 4.6 0a2.3 2.3 0 1 0-4.6 0M58.8 156.4a2.3 2.3 0 1 0 4.6 0a2.3 2.3 0 1 0-4.6 0M136.6 94.2a2.3 2.3 0 1 0 4.6 0a2.3 2.3 0 1 0-4.6 0M159.2 54.1a2.3 2.3 0 1 0 4.6 0a2.3 2.3 0 1 0-4.6 0M49.0 173.6a2.3 2.3 0 1 0 4.6 0a2.3 2.3 0 1 0-4.6 0M139.0 78.6a2.3 2.3 0 1 0 4.6 0a2.3 2.3 0 1 0-4.6 0M132.1 91.4a2.3 2.3 0 1 0 4.6 0a2.3 2.3 0 1 0-4.6 0M110.7 109.7a2.3 2.3 0 1 0 4.6 0a2.3 2.3 0 1 0-4.6 0M153.6 62.5a2.3 2.3 0 1 0 4.6 0a2.3 2.3 0 1 0-4.6 0M67.9 151.0a2.3 2.3 0 1 0 4.6 0a2.3 2.3 0 1 0-4.6 0M96.9 127.8a2.3 2.3 0 1 0 4.6 0a2.3 2.3 0 1 0-4.6 0M163.3 55.3a2.3 2.3 0 1 0 4.6 0a2.3 2.3 0 1 0-4.6 0M104.8 118.4a2.3 2.3 0 1 0 4.6 0a2.3 2.3 0 1 0-4.6 0M117.2 110.1a2.3 2.3 0 1 0 4.6 0a2.3 2.3 0 1 0-4.6 0M80.2 147.3a2.3 2.3 0 1 0 4.6 0a2.3 2.3 0 1 0-4.6 0M76.5 142.7a2.3 2.3 0 1 0 4.6 0a2.3 2.3 0 1 0-4.6 0M122.6 97.9a2.3 2.3 0 1 0 4.6 0a2.3 2.3 0 1 0-4.6 0M116.4 103.1a2.3 2.3 0 1 0 4.6 0a2.3 2.3 0 1 0-4.6 0M87.2 134.3a2.3 2.3 0 1 0 4.6 0a2.3 2.3 0 1 0-4.6 0M66.5 153.6a2.3 2.3 0 1 0 4.6 0a2.3 2.3 0 1 0-4.6 0M131.7 96.0a2.3 2.3 0 1 0 4.6 0a2.3 2.3 0 1 0-4.6 0M75.1 143.8a2.3 2.3 0 1 0 4.6 0a2.3 2.3 0 1 0-4.6 0M68.5 152.8a2.3 2.3 0 1 0 4.6 0a2.3 2.3 0 1 0-4.6 0M48.1 169.6a2.3 2.3 0 1 0 4.6 0a2.3 2.3 0 1 0-4.6 0M101.3 115.4a2.3 2.3 0 1 0 4.6 0a2.3 2.3 0 1 0-4.6 0M144.9 84.0a2.3 2.3 0 1 0 4.6 0a2.3 2.3 0 1 0-4.6 0M145.4 82.5a2.3 2.3 0 1 0 4.6 0a2.3 2.3 0 1 0-4.6 0M50.8 179.2a2.3 2.3 0 1 0 4.6 0a2.3 2.3 0 1 0-4.6 0M52.5 168.2a2.3 2.3 0 1 0 4.6 0a2.3 2.3 0 1 0-4.6 0M94.0 127.0a2.3 2.3 0 1 0 4.6 0a2.3 2.3 0 1 0-4.6 0M68.2 153.0a2.3 2.3 0 1 0 4.6 0a2.3 2.3 0 1 0-4.6 0M56.6 164.7a2.3 2.3 0 1 0 4.6 0a2.3 2.3 0 1 0-4.6 0M87.3 138.3a2.3 2.3 0 1 0 4.6 0a2.3 2.3 0 1 0-4.6 0M124.4 95.2a2.3 2.3 0 1 0 4.6 0a2.3 2.3 0 1 0-4.6 0M195.1 32.6a2.3 2.3 0 1 0 4.6 0a2.3 2.3 0 1 0-4.6 0M65.6 153.3a2.3 2.3 0 1 0 4.6 0a2.3 2.3 0 1 0-4.6 0M80.4 142.5a2.3 2.3 0 1 0 4.6 0a2.3 2.3 0 1 0-4.6 0M97.2 126.4a2.3 2.3 0 1 0 4.6 0a2.3 2.3 0 1 0-4.6 0M187.8 35.3a2.3 2.3 0 1 0 4.6 0a2.3 2.3 0 1 0-4.6 0M159.1 56.8a2.3 2.3 0 1 0 4.6 0a2.3 2.3 0 1 0-4.6 0M77.4 148.1a2.3 2.3 0 1 0 4.6 0a2.3 2.3 0 1 0-4.6 0M166.5 53.4a2.3 2.3 0 1 0 4.6 0a2.3 2.3 0 1 0-4.6 0M135.0 87.1a2.3 2.3 0 1 0 4.6 0a2.3 2.3 0 1 0-4.6 0M126.6 95.2a2.3 2.3 0 1 0 4.6 0a2.3 2.3 0 1 0-4.6 0M174.4 43.0a2.3 2.3 0 1 0 4.6 0a2.3 2.3 0 1 0-4.6 0M113.8 102.8a2.3 2.3 0 1 0 4.6 0a2.3 2.3 0 1 0-4.6 0M129.4 94.5a2.3 2.3 0 1 0 4.6 0a2.3 2.3 0 1 0-4.6 0M104.1 115.3a2.3 2.3 0 1 0 4.6 0a2.3 2.3 0 1 0-4.6 0M147.6 73.4a2.3 2.3 0 1 0 4.6 0a2.3 2.3 0 1 0-4.6 0M64.3 151.8a2.3 2.3 0 1 0 4.6 0a2.3 2.3 0 1 0-4.6 0M67.7 150.4a2.3 2.3 0 1 0 4.6 0a2.3 2.3 0 1 0-4.6 0M102.0 118.3a2.3 2.3 0 1 0 4.6 0a2.3 2.3 0 1 0-4.6 0M87.9 130.1a2.3 2.3 0 1 0 4.6 0a2.3 2.3 0 1 0-4.6 0M52.5 165.0a2.3 2.3 0 1 0 4.6 0a2.3 2.3 0 1 0-4.6 0M118.3 102.4a2.3 2.3 0 1 0 4.6 0a2.3 2.3 0 1 0-4.6 0M95.0 118.8a2.3 2.3 0 1 0 4.6 0a2.3 2.3 0 1 0-4.6 0M93.2 122.4a2.3 2.3 0 1 0 4.6 0a2.3 2.3 0 1 0-4.6 0M70.9 152.4a2.3 2.3 0 1 0 4.6 0a2.3 2.3 0 1 0-4.6 0M79.8 143.6a2.3 2.3 0 1 0 4.6 0a2.3 2.3 0 1 0-4.6 0M76.4 145.8a2.3 2.3 0 1 0 4.6 0a2.3 2.3 0 1 0-4.6 0M59.8 161.9a2.3 2.3 0 1 0 4.6 0a2.3 2.3 0 1 0-4.6 0M87.9 130.3a2.3 2.3 0 1 0 4.6 0a2.3 2.3 0 1 0-4.6 0M204.1 10.3a2.3 2.3 0 1 0 4.6 0a2.3 2.3 0 1 0-4.6 0M67.8 154.1a2.3 2.3 0 1 0 4.6 0a2.3 2.3 0 1 0-4.6 0M51.1 166.0a2.3 2.3 0 1 0 4.6 0a2.3 2.3 0 1 0-4.6 0M95.0 125.1a2.3 2.3 0 1 0 4.6 0a2.3 2.3 0 1 0-4.6 0M64.8 149.2a2.3 2.3 0 1 0 4.6 0a2.3 2.3 0 1 0-4.6 0M136.4 82.1a2.3 2.3 0 1 0 4.6 0a2.3 2.3 0 1 0-4.6 0M99.6 119.3a2.3 2.3 0 1 0 4.6 0a2.3 2.3 0 1 0-4.6 0M83.3 134.4a2.3 2.3 0 1 0 4.6 0a2.3 2.3 0 1 0-4.6 0M101.0 116.6a2.3 2.3 0 1 0 4.6 0a2.3 2.3 0 1 0-4.6 0M125.8 90.0a2.3 2.3 0 1 0 4.6 0a2.3 2.3 0 1 0-4.6 0M75.7 154.2a2.3 2.3 0 1 0 4.6 0a2.3 2.3 0 1 0-4.6 0M138.8 86.5a2.3 2.3 0 1 0 4.6 0a2.3 2.3 0 1 0-4.6 0M101.6 119.5a2.3 2.3 0 1 0 4.6 0a2.3 2.3 0 1 0-4.6 0M103.6 116.1a2.3 2.3 0 1 0 4.6 0a2.3 2.3 0 1 0-4.6 0M45.1 174.3a2.3 2.3 0 1 0 4.6 0a2.3 2.3 0 1 0-4.6 0M60.6 162.0a2.3 2.3 0 1 0 4.6 0a2.3 2.3 0 1 0-4.6 0M136.0 77.4a2.3 2.3 0 1 0 4.6 0a2.3 2.3 0 1 0-4.6 0M98.7 116.4a2.3 2.3 0 1 0 4.6 0a2.3 2.3 0 1 0-4.6 0M128.5 92.9a2.3 2.3 0 1 0 4.6 0a2.3 2.3 0 1 0-4.6 0M85.6 134.0a2.3 2.3 0 1 0 4.6 0a2.3 2.3 0 1 0-4.6 0M97.0 128.5a2.3 2.3 0 1 0 4.6 0a2.3 2.3 0 1 0-4.6 0M45.4 171.4a2.3 2.3 0 1 0 4.6 0a2.3 2.3 0 1 0-4.6 0M123.4 93.0a2.3 2.3 0 1 0 4.6 0a2.3 2.3 0 1 0-4.6 0M77.9 141.4a2.3 2.3 0 1 0 4.6 0a2.3 2.3 0 1 0-4.6 0M63.6 155.6a2.3 2.3 0 1 0 4.6 0a2.3 2.3 0 1 0-4.6 0M75.7 142.9a2.3 2.3 0 1 0 4.6 0a2.3 2.3 0 1 0-4.6 0M88.2 136.0a2.3 2.3 0 1 0 4.6 0a2.3 2.3 0 1 0-4.6 0M159.7 61.3a2.3 2.3 0 1 0 4.6 0a2.3 2.3 0 1 0-4.6 0M70.4 150.5a2.3 2.3 0 1 0 4.6 0a2.3 2.3 0 1 0-4.6 0M50.2 164.1a2.3 2.3 0 1 0 4.6 0a2.3 2.3 0 1 0-4.6 0M92.6 127.4a2.3 2.3 0 1 0 4.6 0a2.3 2.3 0 1 0-4.6 0M62.3 155.3a2.3 2.3 0 1 0 4.6 0a2.3 2.3 0 1 0-4.6 0M44.8 175.3a2.3 2.3 0 1 0 4.6 0a2.3 2.3 0 1 0-4.6 0M119.4 86.3a2.3 2.3 0 1 0 4.6 0a2.3 2.3 0 1 0-4.6 0M114.6 101.4a2.3 2.3 0 1 0 4.6 0a2.3 2.3 0 1 0-4.6 0M65.9 155.0a2.3 2.3 0 1 0 4.6 0a2.3 2.3 0 1 0-4.6 0M78.7 136.7a2.3 2.3 0 1 0 4.6 0a2.3 2.3 0 1 0-4.6 0M94.6 122.2a2.3 2.3 0 1 0 4.6 0a2.3 2.3 0 1 0-4.6 0M61.3 157.7a2.3 2.3 0 1 0 4.6 0a2.3 2.3 0 1 0-4.6 0M196.0 19.8a2.3 2.3 0 1 0 4.6 0a2.3 2.3 0 1 0-4.6 0M49.2 173.7a2.3 2.3 0 1 0 4.6 0a2.3 2.3 0 1 0-4.6 0M84.7 139.4a2.3 2.3 0 1 0 4.6 0a2.3 2.3 0 1 0-4.6 0M103.6 125.3a2.3 2.3 0 1 0 4.6 0a2.3 2.3 0 1 0-4.6 0M202.2 13.2a2.3 2.3 0 1 0 4.6 0a2.3 2.3 0 1 0-4.6 0M97.6 119.0a2.3 2.3 0 1 0 4.6 0a2.3 2.3 0 1 0-4.6 0M92.6 128.0a2.3 2.3 0 1 0 4.6 0a2.3 2.3 0 1 0-4.6 0M83.1 135.5a2.3 2.3 0 1 0 4.6 0a2.3 2.3 0 1 0-4.6 0M119.2 99.6a2.3 2.3 0 1 0 4.6 0a2.3 2.3 0 1 0-4.6 0M89.4 132.0a2.3 2.3 0 1 0 4.6 0a2.3 2.3 0 1 0-4.6 0M84.3 122.6a2.3 2.3 0 1 0 4.6 0a2.3 2.3 0 1 0-4.6 0M157.9 63.6a2.3 2.3 0 1 0 4.6 0a2.3 2.3 0 1 0-4.6 0M94.0 121.0a2.3 2.3 0 1 0 4.6 0a2.3 2.3 0 1 0-4.6 0M56.9 162.0a2.3 2.3 0 1 0 4.6 0a2.3 2.3 0 1 0-4.6 0M153.4 65.6a2.3 2.3 0 1 0 4.6 0a2.3 2.3 0 1 0-4.6 0M99.2 116.7a2.3 2.3 0 1 0 4.6 0a2.3 2.3 0 1 0-4.6 0M125.8 97.0a2.3 2.3 0 1 0 4.6 0a2.3 2.3 0 1 0-4.6 0M79.4 139.7a2.3 2.3 0 1 0 4.6 0a2.3 2.3 0 1 0-4.6 0M97.8 118.0a2.3 2.3 0 1 0 4.6 0a2.3 2.3 0 1 0-4.6 0M111.8 103.4a2.3 2.3 0 1 0 4.6 0a2.3 2.3 0 1 0-4.6 0M106.7 115.4a2.3 2.3 0 1 0 4.6 0a2.3 2.3 0 1 0-4.6 0M196.9 26.4a2.3 2.3 0 1 0 4.6 0a2.3 2.3 0 1 0-4.6 0M114.0 113.0a2.3 2.3 0 1 0 4.6 0a2.3 2.3 0 1 0-4.6 0M114.4 107.9a2.3 2.3 0 1 0 4.6 0a2.3 2.3 0 1 0-4.6 0M162.6 55.9a2.3 2.3 0 1 0 4.6 0a2.3 2.3 0 1 0-4.6 0M131.1 86.1a2.3 2.3 0 1 0 4.6 0a2.3 2.3 0 1 0-4.6 0M97.7 109.6a2.3 2.3 0 1 0 4.6 0a2.3 2.3 0 1 0-4.6 0M130.5 89.0a2.3 2.3 0 1 0 4.6 0a2.3 2.3 0 1 0-4.6 0M61.4 160.8a2.3 2.3 0 1 0 4.6 0a2.3 2.3 0 1 0-4.6 0M62.5 161.1a2.3 2.3 0 1 0 4.6 0a2.3 2.3 0 1 0-4.6 0M201.4 15.9a2.3 2.3 0 1 0 4.6 0a2.3 2.3 0 1 0-4.6 0M70.1 156.7a2.3 2.3 0 1 0 4.6 0a2.3 2.3 0 1 0-4.6 0M50.1 168.0a2.3 2.3 0 1 0 4.6 0a2.3 2.3 0 1 0-4.6 0M60.9 159.6a2.3 2.3 0 1 0 4.6 0a2.3 2.3 0 1 0-4.6 0M134.4 79.8a2.3 2.3 0 1 0 4.6 0a2.3 2.3 0 1 0-4.6 0M69.5 157.2a2.3 2.3 0 1 0 4.6 0a2.3 2.3 0 1 0-4.6 0M49.2 168.1a2.3 2.3 0 1 0 4.6 0a2.3 2.3 0 1 0-4.6 0M111.9 111.2a2.3 2.3 0 1 0 4.6 0a2.3 2.3 0 1 0-4.6 0M195.0 25.7a2.3 2.3 0 1 0 4.6 0a2.3 2.3 0 1 0-4.6 0M105.6 116.8a2.3 2.3 0 1 0 4.6 0a2.3 2.3 0 1 0-4.6 0M107.1 117.6a2.3 2.3 0 1 0 4.6 0a2.3 2.3 0 1 0-4.6 0M139.7 83.7a2.3 2.3 0 1 0 4.6 0a2.3 2.3 0 1 0-4.6 0M88.6 140.9a2.3 2.3 0 1 0 4.6 0a2.3 2.3 0 1 0-4.6 0M96.7 119.7a2.3 2.3 0 1 0 4.6 0a2.3 2.3 0 1 0-4.6 0M82.4 134.1a2.3 2.3 0 1 0 4.6 0a2.3 2.3 0 1 0-4.6 0M149.0 71.8a2.3 2.3 0 1 0 4.6 0a2.3 2.3 0 1 0-4.6 0M139.8 83.9a2.3 2.3 0 1 0 4.6 0a2.3 2.3 0 1 0-4.6 0M135.7 86.0a2.3 2.3 0 1 0 4.6 0a2.3 2.3 0 1 0-4.6 0M84.7 136.1a2.3 2.3 0 1 0 4.6 0a2.3 2.3 0 1 0-4.6 0M84.6 134.3a2.3 2.3 0 1 0 4.6 0a2.3 2.3 0 1 0-4.6 0M68.6 153.1a2.3 2.3 0 1 0 4.6 0a2.3 2.3 0 1 0-4.6 0M66.1 153.7a2.3 2.3 0 1 0 4.6 0a2.3 2.3 0 1 0-4.6 0M165.8 53.2a2.3 2.3 0 1 0 4.6 0a2.3 2.3 0 1 0-4.6 0M114.6 111.3a2.3 2.3 0 1 0 4.6 0a2.3 2.3 0 1 0-4.6 0M45.8 172.2a2.3 2.3 0 1 0 4.6 0a2.3 2.3 0 1 0-4.6 0M203.6 13.6a2.3 2.3 0 1 0 4.6 0a2.3 2.3 0 1 0-4.6 0M122.7 105.4a2.3 2.3 0 1 0 4.6 0a2.3 2.3 0 1 0-4.6 0M87.0 134.2a2.3 2.3 0 1 0 4.6 0a2.3 2.3 0 1 0-4.6 0M86.6 132.2a2.3 2.3 0 1 0 4.6 0a2.3 2.3 0 1 0-4.6 0M52.6 166.4a2.3 2.3 0 1 0 4.6 0a2.3 2.3 0 1 0-4.6 0M74.4 144.3a2.3 2.3 0 1 0 4.6 0a2.3 2.3 0 1 0-4.6 0M85.5 139.2a2.3 2.3 0 1 0 4.6 0a2.3 2.3 0 1 0-4.6 0M77.5 148.3a2.3 2.3 0 1 0 4.6 0a2.3 2.3 0 1 0-4.6 0M109.7 112.2a2.3 2.3 0 1 0 4.6 0a2.3 2.3 0 1 0-4.6 0M150.3 67.8a2.3 2.3 0 1 0 4.6 0a2.3 2.3 0 1 0-4.6 0M72.1 148.4a2.3 2.3 0 1 0 4.6 0a2.3 2.3 0 1 0-4.6 0M126.2 97.8a2.3 2.3 0 1 0 4.6 0a2.3 2.3 0 1 0-4.6 0M205.6 5.5a2.3 2.3 0 1 0 4.6 0a2.3 2.3 0 1 0-4.6 0M102.9 118.2a2.3 2.3 0 1 0 4.6 0a2.3 2.3 0 1 0-4.6 0M71.3 146.3a2.3 2.3 0 1 0 4.6 0a2.3 2.3 0 1 0-4.6 0M72.2 150.9a2.3 2.3 0 1 0 4.6 0a2.3 2.3 0 1 0-4.6 0M105.9 117.6a2.3 2.3 0 1 0 4.6 0a2.3 2.3 0 1 0-4.6 0M85.8 138.0a2.3 2.3 0 1 0 4.6 0a2.3 2.3 0 1 0-4.6 0M88.1 126.2a2.3 2.3 0 1 0 4.6 0a2.3 2.3 0 1 0-4.6 0M59.8 162.9a2.3 2.3 0 1 0 4.6 0a2.3 2.3 0 1 0-4.6 0M194.6 14.3a2.3 2.3 0 1 0 4.6 0a2.3 2.3 0 1 0-4.6 0M121.3 101.3a2.3 2.3 0 1 0 4.6 0a2.3 2.3 0 1 0-4.6 0M77.4 141.5a2.3 2.3 0 1 0 4.6 0a2.3 2.3 0 1 0-4.6 0M63.2 153.1a2.3 2.3 0 1 0 4.6 0a2.3 2.3 0 1 0-4.6 0M146.8 71.3a2.3 2.3 0 1 0 4.6 0a2.3 2.3 0 1 0-4.6 0M129.8 92.0a2.3 2.3 0 1 0 4.6 0a2.3 2.3 0 1 0-4.6 0M78.9 135.7a2.3 2.3 0 1 0 4.6 0a2.3 2.3 0 1 0-4.6 0M87.5 134.2a2.3 2.3 0 1 0 4.6 0a2.3 2.3 0 1 0-4.6 0M143.1 77.1a2.3 2.3 0 1 0 4.6 0a2.3 2.3 0 1 0-4.6 0M75.0 141.6a2.3 2.3 0 1 0 4.6 0a2.3 2.3 0 1 0-4.6 0M95.9 121.0a2.3 2.3 0 1 0 4.6 0a2.3 2.3 0 1 0-4.6 0M112.2 104.2a2.3 2.3 0 1 0 4.6 0a2.3 2.3 0 1 0-4.6 0M95.4 122.8a2.3 2.3 0 1 0 4.6 0a2.3 2.3 0 1 0-4.6 0M99.3 123.2a2.3 2.3 0 1 0 4.6 0a2.3 2.3 0 1 0-4.6 0M98.7 114.7a2.3 2.3 0 1 0 4.6 0a2.3 2.3 0 1 0-4.6 0M67.3 152.3a2.3 2.3 0 1 0 4.6 0a2.3 2.3 0 1 0-4.6 0M90.9 136.6a2.3 2.3 0 1 0 4.6 0a2.3 2.3 0 1 0-4.6 0M45.7 177.5a2.3 2.3 0 1 0 4.6 0a2.3 2.3 0 1 0-4.6 0M62.4 150.7a2.3 2.3 0 1 0 4.6 0a2.3 2.3 0 1 0-4.6 0M111.3 111.8a2.3 2.3 0 1 0 4.6 0a2.3 2.3 0 1 0-4.6 0M116.5 102.8a2.3 2.3 0 1 0 4.6 0a2.3 2.3 0 1 0-4.6 0M106.6 119.1a2.3 2.3 0 1 0 4.6 0a2.3 2.3 0 1 0-4.6 0M49.7 168.1a2.3 2.3 0 1 0 4.6 0a2.3 2.3 0 1 0-4.6 0M96.4 125.9a2.3 2.3 0 1 0 4.6 0a2.3 2.3 0 1 0-4.6 0M105.2 112.6a2.3 2.3 0 1 0 4.6 0a2.3 2.3 0 1 0-4.6 0M79.4 138.3a2.3 2.3 0 1 0 4.6 0a2.3 2.3 0 1 0-4.6 0M106.7 113.4a2.3 2.3 0 1 0 4.6 0a2.3 2.3 0 1 0-4.6 0M71.6 151.0a2.3 2.3 0 1 0 4.6 0a2.3 2.3 0 1 0-4.6 0M130.1 92.7a2.3 2.3 0 1 0 4.6 0a2.3 2.3 0 1 0-4.6 0M72.7 148.2a2.3 2.3 0 1 0 4.6 0a2.3 2.3 0 1 0-4.6 0M163.8 68.5a2.3 2.3 0 1 0 4.6 0a2.3 2.3 0 1 0-4.6 0M54.0 172.9a2.3 2.3 0 1 0 4.6 0a2.3 2.3 0 1 0-4.6 0M111.9 105.5a2.3 2.3 0 1 0 4.6 0a2.3 2.3 0 1 0-4.6 0M105.9 114.8a2.3 2.3 0 1 0 4.6 0a2.3 2.3 0 1 0-4.6 0M77.7 145.3a2.3 2.3 0 1 0 4.6 0a2.3 2.3 0 1 0-4.6 0M156.1 61.7a2.3 2.3 0 1 0 4.6 0a2.3 2.3 0 1 0-4.6 0M58.5 166.4a2.3 2.3 0 1 0 4.6 0a2.3 2.3 0 1 0-4.6 0M76.1 146.3a2.3 2.3 0 1 0 4.6 0a2.3 2.3 0 1 0-4.6 0M94.6 123.3a2.3 2.3 0 1 0 4.6 0a2.3 2.3 0 1 0-4.6 0M180.5 36.2a2.3 2.3 0 1 0 4.6 0a2.3 2.3 0 1 0-4.6 0M143.5 66.2a2.3 2.3 0 1 0 4.6 0a2.3 2.3 0 1 0-4.6 0M161.8 57.0a2.3 2.3 0 1 0 4.6 0a2.3 2.3 0 1 0-4.6 0M189.8 23.4a2.3 2.3 0 1 0 4.6 0a2.3 2.3 0 1 0-4.6 0M93.8 127.3a2.3 2.3 0 1 0 4.6 0a2.3 2.3 0 1 0-4.6 0M141.0 78.6a2.3 2.3 0 1 0 4.6 0a2.3 2.3 0 1 0-4.6 0M173.8 47.2a2.3 2.3 0 1 0 4.6 0a2.3 2.3 0 1 0-4.6 0M151.4 73.4a2.3 2.3 0 1 0 4.6 0a2.3 2.3 0 1 0-4.6 0M81.8 140.5a2.3 2.3 0 1 0 4.6 0a2.3 2.3 0 1 0-4.6 0M46.8 174.7a2.3 2.3 0 1 0 4.6 0a2.3 2.3 0 1 0-4.6 0M122.4 91.6a2.3 2.3 0 1 0 4.6 0a2.3 2.3 0 1 0-4.6 0M92.8 126.9a2.3 2.3 0 1 0 4.6 0a2.3 2.3 0 1 0-4.6 0M76.1 141.2a2.3 2.3 0 1 0 4.6 0a2.3 2.3 0 1 0-4.6 0M148.5 75.9a2.3 2.3 0 1 0 4.6 0a2.3 2.3 0 1 0-4.6 0M93.3 125.3a2.3 2.3 0 1 0 4.6 0a2.3 2.3 0 1 0-4.6 0M81.2 133.0a2.3 2.3 0 1 0 4.6 0a2.3 2.3 0 1 0-4.6 0M114.1 110.1a2.3 2.3 0 1 0 4.6 0a2.3 2.3 0 1 0-4.6 0M66.3 158.0a2.3 2.3 0 1 0 4.6 0a2.3 2.3 0 1 0-4.6 0M130.6 87.2a2.3 2.3 0 1 0 4.6 0a2.3 2.3 0 1 0-4.6 0M158.1 69.1a2.3 2.3 0 1 0 4.6 0a2.3 2.3 0 1 0-4.6 0M73.2 146.8a2.3 2.3 0 1 0 4.6 0a2.3 2.3 0 1 0-4.6 0M54.5 164.2a2.3 2.3 0 1 0 4.6 0a2.3 2.3 0 1 0-4.6 0M62.5 149.8a2.3 2.3 0 1 0 4.6 0a2.3 2.3 0 1 0-4.6 0M131.1 94.7a2.3 2.3 0 1 0 4.6 0a2.3 2.3 0 1 0-4.6 0M59.7 158.0a2.3 2.3 0 1 0 4.6 0a2.3 2.3 0 1 0-4.6 0M89.4 124.0a2.3 2.3 0 1 0 4.6 0a2.3 2.3 0 1 0-4.6 0M88.1 130.6a2.3 2.3 0 1 0 4.6 0a2.3 2.3 0 1 0-4.6 0M115.1 107.4a2.3 2.3 0 1 0 4.6 0a2.3 2.3 0 1 0-4.6 0M45.6 175.4a2.3 2.3 0 1 0 4.6 0a2.3 2.3 0 1 0-4.6 0M100.6 130.5a2.3 2.3 0 1 0 4.6 0a2.3 2.3 0 1 0-4.6 0M99.0 122.5a2.3 2.3 0 1 0 4.6 0a2.3 2.3 0 1 0-4.6 0M104.8 116.5a2.3 2.3 0 1 0 4.6 0a2.3 2.3 0 1 0-4.6 0M75.4 148.4a2.3 2.3 0 1 0 4.6 0a2.3 2.3 0 1 0-4.6 0M155.4 68.0a2.3 2.3 0 1 0 4.6 0a2.3 2.3 0 1 0-4.6 0M64.1 154.2a2.3 2.3 0 1 0 4.6 0a2.3 2.3 0 1 0-4.6 0M121.2 100.5a2.3 2.3 0 1 0 4.6 0a2.3 2.3 0 1 0-4.6 0M79.0 141.0a2.3 2.3 0 1 0 4.6 0a2.3 2.3 0 1 0-4.6 0M87.3 131.2a2.3 2.3 0 1 0 4.6 0a2.3 2.3 0 1 0-4.6 0M72.2 152.4a2.3 2.3 0 1 0 4.6 0a2.3 2.3 0 1 0-4.6 0M105.5 102.3a2.3 2.3 0 1 0 4.6 0a2.3 2.3 0 1 0-4.6 0M85.1 129.4a2.3 2.3 0 1 0 4.6 0a2.3 2.3 0 1 0-4.6 0M106.7 112.6a2.3 2.3 0 1 0 4.6 0a2.3 2.3 0 1 0-4.6 0M56.8 161.9a2.3 2.3 0 1 0 4.6 0a2.3 2.3 0 1 0-4.6 0M51.2 169.8a2.3 2.3 0 1 0 4.6 0a2.3 2.3 0 1 0-4.6 0M69.9 150.2a2.3 2.3 0 1 0 4.6 0a2.3 2.3 0 1 0-4.6 0M151.9 68.8a2.3 2.3 0 1 0 4.6 0a2.3 2.3 0 1 0-4.6 0M73.5 150.3a2.3 2.3 0 1 0 4.6 0a2.3 2.3 0 1 0-4.6 0M70.5 143.8a2.3 2.3 0 1 0 4.6 0a2.3 2.3 0 1 0-4.6 0M69.5 149.6a2.3 2.3 0 1 0 4.6 0a2.3 2.3 0 1 0-4.6 0M79.4 140.5a2.3 2.3 0 1 0 4.6 0a2.3 2.3 0 1 0-4.6 0M65.1 157.3a2.3 2.3 0 1 0 4.6 0a2.3 2.3 0 1 0-4.6 0M63.6 162.8a2.3 2.3 0 1 0 4.6 0a2.3 2.3 0 1 0-4.6 0M210.0 6.8a2.3 2.3 0 1 0 4.6 0a2.3 2.3 0 1 0-4.6 0M84.2 142.0a2.3 2.3 0 1 0 4.6 0a2.3 2.3 0 1 0-4.6 0M94.6 120.6a2.3 2.3 0 1 0 4.6 0a2.3 2.3 0 1 0-4.6 0M84.6 130.9a2.3 2.3 0 1 0 4.6 0a2.3 2.3 0 1 0-4.6 0M78.7 134.5a2.3 2.3 0 1 0 4.6 0a2.3 2.3 0 1 0-4.6 0M101.3 127.5a2.3 2.3 0 1 0 4.6 0a2.3 2.3 0 1 0-4.6 0M103.3 123.5a2.3 2.3 0 1 0 4.6 0a2.3 2.3 0 1 0-4.6 0M124.1 92.7a2.3 2.3 0 1 0 4.6 0a2.3 2.3 0 1 0-4.6 0M54.5 166.1a2.3 2.3 0 1 0 4.6 0a2.3 2.3 0 1 0-4.6 0M102.8 119.4a2.3 2.3 0 1 0 4.6 0a2.3 2.3 0 1 0-4.6 0M57.5 161.0a2.3 2.3 0 1 0 4.6 0a2.3 2.3 0 1 0-4.6 0M72.0 143.8a2.3 2.3 0 1 0 4.6 0a2.3 2.3 0 1 0-4.6 0M184.3 32.0a2.3 2.3 0 1 0 4.6 0a2.3 2.3 0 1 0-4.6 0M132.0 93.6a2.3 2.3 0 1 0 4.6 0a2.3 2.3 0 1 0-4.6 0M70.8 154.1a2.3 2.3 0 1 0 4.6 0a2.3 2.3 0 1 0-4.6 0M94.4 119.8a2.3 2.3 0 1 0 4.6 0a2.3 2.3 0 1 0-4.6 0M162.8 52.8a2.3 2.3 0 1 0 4.6 0a2.3 2.3 0 1 0-4.6 0M67.0 153.3a2.3 2.3 0 1 0 4.6 0a2.3 2.3 0 1 0-4.6 0M49.7 171.4a2.3 2.3 0 1 0 4.6 0a2.3 2.3 0 1 0-4.6 0M92.7 122.2a2.3 2.3 0 1 0 4.6 0a2.3 2.3 0 1 0-4.6 0M58.9 162.6a2.3 2.3 0 1 0 4.6 0a2.3 2.3 0 1 0-4.6 0M64.6 153.3a2.3 2.3 0 1 0 4.6 0a2.3 2.3 0 1 0-4.6 0M104.0 113.4a2.3 2.3 0 1 0 4.6 0a2.3 2.3 0 1 0-4.6 0M83.6 126.3a2.3 2.3 0 1 0 4.6 0a2.3 2.3 0 1 0-4.6 0M132.2 89.5a2.3 2.3 0 1 0 4.6 0a2.3 2.3 0 1 0-4.6 0M62.5 157.6a2.3 2.3 0 1 0 4.6 0a2.3 2.3 0 1 0-4.6 0M200.3 11.7a2.3 2.3 0 1 0 4.6 0a2.3 2.3 0 1 0-4.6 0M71.5 160.6a2.3 2.3 0 1 0 4.6 0a2.3 2.3 0 1 0-4.6 0M86.0 127.9a2.3 2.3 0 1 0 4.6 0a2.3 2.3 0 1 0-4.6 0M95.0 121.0a2.3 2.3 0 1 0 4.6 0a2.3 2.3 0 1 0-4.6 0M118.6 103.8a2.3 2.3 0 1 0 4.6 0a2.3 2.3 0 1 0-4.6 0M115.3 102.2a2.3 2.3 0 1 0 4.6 0a2.3 2.3 0 1 0-4.6 0M127.4 91.5a2.3 2.3 0 1 0 4.6 0a2.3 2.3 0 1 0-4.6 0M110.0 113.4a2.3 2.3 0 1 0 4.6 0a2.3 2.3 0 1 0-4.6 0M144.3 76.6a2.3 2.3 0 1 0 4.6 0a2.3 2.3 0 1 0-4.6 0M56.3 162.5a2.3 2.3 0 1 0 4.6 0a2.3 2.3 0 1 0-4.6 0M158.7 65.3a2.3 2.3 0 1 0 4.6 0a2.3 2.3 0 1 0-4.6 0M48.2 167.9a2.3 2.3 0 1 0 4.6 0a2.3 2.3 0 1 0-4.6 0M165.2 52.2a2.3 2.3 0 1 0 4.6 0a2.3 2.3 0 1 0-4.6 0M189.8 29.5a2.3 2.3 0 1 0 4.6 0a2.3 2.3 0 1 0-4.6 0M88.9 130.0a2.3 2.3 0 1 0 4.6 0a2.3 2.3 0 1 0-4.6 0M45.4 173.6a2.3 2.3 0 1 0 4.6 0a2.3 2.3 0 1 0-4.6 0M61.0 159.0a2.3 2.3 0 1 0 4.6 0a2.3 2.3 0 1 0-4.6 0M89.2 121.7a2.3 2.3 0 1 0 4.6 0a2.3 2.3 0 1 0-4.6 0M131.3 89.5a2.3 2.3 0 1 0 4.6 0a2.3 2.3 0 1 0-4.6 0M78.8 133.9a2.3 2.3 0 1 0 4.6 0a2.3 2.3 0 1 0-4.6 0M85.6 137.2a2.3 2.3 0 1 0 4.6 0a2.3 2.3 0 1 0-4.6 0M47.9 166.9a2.3 2.3 0 1 0 4.6 0a2.3 2.3 0 1 0-4.6 0M210.7 3.0a2.3 2.3 0 1 0 4.6 0a2.3 2.3 0 1 0-4.6 0M161.9 52.0a2.3 2.3 0 1 0 4.6 0a2.3 2.3 0 1 0-4.6 0M83.4 138.0a2.3 2.3 0 1 0 4.6 0a2.3 2.3 0 1 0-4.6 0M193.1 29.0a2.3 2.3 0 1 0 4.6 0a2.3 2.3 0 1 0-4.6 0M53.9 162.7a2.3 2.3 0 1 0 4.6 0a2.3 2.3 0 1 0-4.6 0M48.1 171.5a2.3 2.3 0 1 0 4.6 0a2.3 2.3 0 1 0-4.6 0M112.4 113.6a2.3 2.3 0 1 0 4.6 0a2.3 2.3 0 1 0-4.6 0M73.6 144.3a2.3 2.3 0 1 0 4.6 0a2.3 2.3 0 1 0-4.6 0M58.1 162.3a2.3 2.3 0 1 0 4.6 0a2.3 2.3 0 1 0-4.6 0M94.3 125.3a2.3 2.3 0 1 0 4.6 0a2.3 2.3 0 1 0-4.6 0M64.5 160.2a2.3 2.3 0 1 0 4.6 0a2.3 2.3 0 1 0-4.6 0M64.5 154.4a2.3 2.3 0 1 0 4.6 0a2.3 2.3 0 1 0-4.6 0M54.8 166.6a2.3 2.3 0 1 0 4.6 0a2.3 2.3 0 1 0-4.6 0M116.1 108.1a2.3 2.3 0 1 0 4.6 0a2.3 2.3 0 1 0-4.6 0M80.9 139.7a2.3 2.3 0 1 0 4.6 0a2.3 2.3 0 1 0-4.6 0M61.8 159.5a2.3 2.3 0 1 0 4.6 0a2.3 2.3 0 1 0-4.6 0M77.5 134.7a2.3 2.3 0 1 0 4.6 0a2.3 2.3 0 1 0-4.6 0M80.9 140.0a2.3 2.3 0 1 0 4.6 0a2.3 2.3 0 1 0-4.6 0M96.7 113.6a2.3 2.3 0 1 0 4.6 0a2.3 2.3 0 1 0-4.6 0M99.1 121.1a2.3 2.3 0 1 0 4.6 0a2.3 2.3 0 1 0-4.6 0M88.3 129.3a2.3 2.3 0 1 0 4.6 0a2.3 2.3 0 1 0-4.6 0M99.1 115.1a2.3 2.3 0 1 0 4.6 0a2.3 2.3 0 1 0-4.6 0M130.9 92.9a2.3 2.3 0 1 0 4.6 0a2.3 2.3 0 1 0-4.6 0M64.0 148.2a2.3 2.3 0 1 0 4.6 0a2.3 2.3 0 1 0-4.6 0M99.5 122.5a2.3 2.3 0 1 0 4.6 0a2.3 2.3 0 1 0-4.6 0M64.1 153.4a2.3 2.3 0 1 0 4.6 0a2.3 2.3 0 1 0-4.6 0M49.3 174.9a2.3 2.3 0 1 0 4.6 0a2.3 2.3 0 1 0-4.6 0M71.0 148.4a2.3 2.3 0 1 0 4.6 0a2.3 2.3 0 1 0-4.6 0M105.0 114.0a2.3 2.3 0 1 0 4.6 0a2.3 2.3 0 1 0-4.6 0M136.2 71.7a2.3 2.3 0 1 0 4.6 0a2.3 2.3 0 1 0-4.6 0M141.6 80.2a2.3 2.3 0 1 0 4.6 0a2.3 2.3 0 1 0-4.6 0M106.1 116.8a2.3 2.3 0 1 0 4.6 0a2.3 2.3 0 1 0-4.6 0M176.1 45.6a2.3 2.3 0 1 0 4.6 0a2.3 2.3 0 1 0-4.6 0M147.5 66.4a2.3 2.3 0 1 0 4.6 0a2.3 2.3 0 1 0-4.6 0M52.0 169.8a2.3 2.3 0 1 0 4.6 0a2.3 2.3 0 1 0-4.6 0M59.9 157.1a2.3 2.3 0 1 0 4.6 0a2.3 2.3 0 1 0-4.6 0M98.0 124.2a2.3 2.3 0 1 0 4.6 0a2.3 2.3 0 1 0-4.6 0M50.4 170.2a2.3 2.3 0 1 0 4.6 0a2.3 2.3 0 1 0-4.6 0M103.8 114.3a2.3 2.3 0 1 0 4.6 0a2.3 2.3 0 1 0-4.6 0M104.9 109.3a2.3 2.3 0 1 0 4.6 0a2.3 2.3 0 1 0-4.6 0M84.4 133.6a2.3 2.3 0 1 0 4.6 0a2.3 2.3 0 1 0-4.6 0M88.3 134.1a2.3 2.3 0 1 0 4.6 0a2.3 2.3 0 1 0-4.6 0M134.5 76.9a2.3 2.3 0 1 0 4.6 0a2.3 2.3 0 1 0-4.6 0M100.1 114.7a2.3 2.3 0 1 0 4.6 0a2.3 2.3 0 1 0-4.6 0M85.2 132.8a2.3 2.3 0 1 0 4.6 0a2.3 2.3 0 1 0-4.6 0M128.7 80.1a2.3 2.3 0 1 0 4.6 0a2.3 2.3 0 1 0-4.6 0M105.5 115.2a2.3 2.3 0 1 0 4.6 0a2.3 2.3 0 1 0-4.6 0M93.6 122.9a2.3 2.3 0 1 0 4.6 0a2.3 2.3 0 1 0-4.6 0M116.0 109.0a2.3 2.3 0 1 0 4.6 0a2.3 2.3 0 1 0-4.6 0M64.1 156.6a2.3 2.3 0 1 0 4.6 0a2.3 2.3 0 1 0-4.6 0M63.7 154.4a2.3 2.3 0 1 0 4.6 0a2.3 2.3 0 1 0-4.6 0M115.2 104.7a2.3 2.3 0 1 0 4.6 0a2.3 2.3 0 1 0-4.6 0M103.7 117.0a2.3 2.3 0 1 0 4.6 0a2.3 2.3 0 1 0-4.6 0M131.0 91.4a2.3 2.3 0 1 0 4.6 0a2.3 2.3 0 1 0-4.6 0M198.0 20.8a2.3 2.3 0 1 0 4.6 0a2.3 2.3 0 1 0-4.6 0M113.5 112.0a2.3 2.3 0 1 0 4.6 0a2.3 2.3 0 1 0-4.6 0M116.0 105.7a2.3 2.3 0 1 0 4.6 0a2.3 2.3 0 1 0-4.6 0M104.7 114.3a2.3 2.3 0 1 0 4.6 0a2.3 2.3 0 1 0-4.6 0M113.1 111.6a2.3 2.3 0 1 0 4.6 0a2.3 2.3 0 1 0-4.6 0M187.5 29.0a2.3 2.3 0 1 0 4.6 0a2.3 2.3 0 1 0-4.6 0M65.1 155.8a2.3 2.3 0 1 0 4.6 0a2.3 2.3 0 1 0-4.6 0M189.9 27.4a2.3 2.3 0 1 0 4.6 0a2.3 2.3 0 1 0-4.6 0M106.6 111.1a2.3 2.3 0 1 0 4.6 0a2.3 2.3 0 1 0-4.6 0M203.5 15.7a2.3 2.3 0 1 0 4.6 0a2.3 2.3 0 1 0-4.6 0M160.1 60.8a2.3 2.3 0 1 0 4.6 0a2.3 2.3 0 1 0-4.6 0M88.2 132.7a2.3 2.3 0 1 0 4.6 0a2.3 2.3 0 1 0-4.6 0M161.4 65.8a2.3 2.3 0 1 0 4.6 0a2.3 2.3 0 1 0-4.6 0M93.0 136.8a2.3 2.3 0 1 0 4.6 0a2.3 2.3 0 1 0-4.6 0M170.8 46.9a2.3 2.3 0 1 0 4.6 0a2.3 2.3 0 1 0-4.6 0M84.6 128.8a2.3 2.3 0 1 0 4.6 0a2.3 2.3 0 1 0-4.6 0M102.7 112.5a2.3 2.3 0 1 0 4.6 0a2.3 2.3 0 1 0-4.6 0M66.5 154.3a2.3 2.3 0 1 0 4.6 0a2.3 2.3 0 1 0-4.6 0M63.4 155.6a2.3 2.3 0 1 0 4.6 0a2.3 2.3 0 1 0-4.6 0M59.7 150.9a2.3 2.3 0 1 0 4.6 0a2.3 2.3 0 1 0-4.6 0M126.9 95.3a2.3 2.3 0 1 0 4.6 0a2.3 2.3 0 1 0-4.6 0M86.1 127.2a2.3 2.3 0 1 0 4.6 0a2.3 2.3 0 1 0-4.6 0M173.2 47.1a2.3 2.3 0 1 0 4.6 0a2.3 2.3 0 1 0-4.6 0M134.5 85.0a2.3 2.3 0 1 0 4.6 0a2.3 2.3 0 1 0-4.6 0M127.5 92.2a2.3 2.3 0 1 0 4.6 0a2.3 2.3 0 1 0-4.6 0M51.5 167.1a2.3 2.3 0 1 0 4.6 0a2.3 2.3 0 1 0-4.6 0M79.7 140.3a2.3 2.3 0 1 0 4.6 0a2.3 2.3 0 1 0-4.6 0M115.8 106.4a2.3 2.3 0 1 0 4.6 0a2.3 2.3 0 1 0-4.6 0M62.0 160.7a2.3 2.3 0 1 0 4.6 0a2.3 2.3 0 1 0-4.6 0M66.9 156.2a2.3 2.3 0 1 0 4.6 0a2.3 2.3 0 1 0-4.6 0M111.2 109.5a2.3 2.3 0 1 0 4.6 0a2.3 2.3 0 1 0-4.6 0M83.7 130.7a2.3 2.3 0 1 0 4.6 0a2.3 2.3 0 1 0-4.6 0M161.1 58.6a2.3 2.3 0 1 0 4.6 0a2.3 2.3 0 1 0-4.6 0M89.4 122.4a2.3 2.3 0 1 0 4.6 0a2.3 2.3 0 1 0-4.6 0M104.8 120.3a2.3 2.3 0 1 0 4.6 0a2.3 2.3 0 1 0-4.6 0M82.8 136.8a2.3 2.3 0 1 0 4.6 0a2.3 2.3 0 1 0-4.6 0M49.7 167.3a2.3 2.3 0 1 0 4.6 0a2.3 2.3 0 1 0-4.6 0M67.0 149.6a2.3 2.3 0 1 0 4.6 0a2.3 2.3 0 1 0-4.6 0M64.8 160.8a2.3 2.3 0 1 0 4.6 0a2.3 2.3 0 1 0-4.6 0M60.5 160.5a2.3 2.3 0 1 0 4.6 0a2.3 2.3 0 1 0-4.6 0M194.7 24.4a2.3 2.3 0 1 0 4.6 0a2.3 2.3 0 1 0-4.6 0M203.1 6.3a2.3 2.3 0 1 0 4.6 0a2.3 2.3 0 1 0-4.6 0M161.2 58.5a2.3 2.3 0 1 0 4.6 0a2.3 2.3 0 1 0-4.6 0M115.0 110.3a2.3 2.3 0 1 0 4.6 0a2.3 2.3 0 1 0-4.6 0M84.7 135.0a2.3 2.3 0 1 0 4.6 0a2.3 2.3 0 1 0-4.6 0M118.5 104.4a2.3 2.3 0 1 0 4.6 0a2.3 2.3 0 1 0-4.6 0M72.7 144.3a2.3 2.3 0 1 0 4.6 0a2.3 2.3 0 1 0-4.6 0M122.9 98.8a2.3 2.3 0 1 0 4.6 0a2.3 2.3 0 1 0-4.6 0M76.8 144.9a2.3 2.3 0 1 0 4.6 0a2.3 2.3 0 1 0-4.6 0M125.7 107.8a2.3 2.3 0 1 0 4.6 0a2.3 2.3 0 1 0-4.6 0M125.4 89.5a2.3 2.3 0 1 0 4.6 0a2.3 2.3 0 1 0-4.6 0M143.6 77.4a2.3 2.3 0 1 0 4.6 0a2.3 2.3 0 1 0-4.6 0M96.4 123.1a2.3 2.3 0 1 0 4.6 0a2.3 2.3 0 1 0-4.6 0M91.7 119.0a2.3 2.3 0 1 0 4.6 0a2.3 2.3 0 1 0-4.6 0M89.2 134.1a2.3 2.3 0 1 0 4.6 0a2.3 2.3 0 1 0-4.6 0M150.3 67.5a2.3 2.3 0 1 0 4.6 0a2.3 2.3 0 1 0-4.6 0M95.9 122.1a2.3 2.3 0 1 0 4.6 0a2.3 2.3 0 1 0-4.6 0M67.4 158.9a2.3 2.3 0 1 0 4.6 0a2.3 2.3 0 1 0-4.6 0M70.8 153.7a2.3 2.3 0 1 0 4.6 0a2.3 2.3 0 1 0-4.6 0M61.2 157.4a2.3 2.3 0 1 0 4.6 0a2.3 2.3 0 1 0-4.6 0M208.9 6.6a2.3 2.3 0 1 0 4.6 0a2.3 2.3 0 1 0-4.6 0M73.4 143.5a2.3 2.3 0 1 0 4.6 0a2.3 2.3 0 1 0-4.6 0M79.5 132.3a2.3 2.3 0 1 0 4.6 0a2.3 2.3 0 1 0-4.6 0M57.0 166.1a2.3 2.3 0 1 0 4.6 0a2.3 2.3 0 1 0-4.6 0M115.5 109.3a2.3 2.3 0 1 0 4.6 0a2.3 2.3 0 1 0-4.6 0M86.4 131.7a2.3 2.3 0 1 0 4.6 0a2.3 2.3 0 1 0-4.6 0M107.9 112.3a2.3 2.3 0 1 0 4.6 0a2.3 2.3 0 1 0-4.6 0M206.6 8.8a2.3 2.3 0 1 0 4.6 0a2.3 2.3 0 1 0-4.6 0M66.8 154.2a2.3 2.3 0 1 0 4.6 0a2.3 2.3 0 1 0-4.6 0M151.6 59.4a2.3 2.3 0 1 0 4.6 0a2.3 2.3 0 1 0-4.6 0M130.3 86.9a2.3 2.3 0 1 0 4.6 0a2.3 2.3 0 1 0-4.6 0M80.1 141.6a2.3 2.3 0 1 0 4.6 0a2.3 2.3 0 1 0-4.6 0M59.0 161.9a2.3 2.3 0 1 0 4.6 0a2.3 2.3 0 1 0-4.6 0M48.9 168.4a2.3 2.3 0 1 0 4.6 0a2.3 2.3 0 1 0-4.6 0M104.2 119.4a2.3 2.3 0 1 0 4.6 0a2.3 2.3 0 1 0-4.6 0M200.0 17.7a2.3 2.3 0 1 0 4.6 0a2.3 2.3 0 1 0-4.6 0M60.9 159.5a2.3 2.3 0 1 0 4.6 0a2.3 2.3 0 1 0-4.6 0M207.0 8.5a2.3 2.3 0 1 0 4.6 0a2.3 2.3 0 1 0-4.6 0M64.1 155.5a2.3 2.3 0 1 0 4.6 0a2.3 2.3 0 1 0-4.6 0M76.2 144.2a2.3 2.3 0 1 0 4.6 0a2.3 2.3 0 1 0-4.6 0M182.3 38.9a2.3 2.3 0 1 0 4.6 0a2.3 2.3 0 1 0-4.6 0M129.1 102.7a2.3 2.3 0 1 0 4.6 0a2.3 2.3 0 1 0-4.6 0M100.9 116.7a2.3 2.3 0 1 0 4.6 0a2.3 2.3 0 1 0-4.6 0M99.3 113.6a2.3 2.3 0 1 0 4.6 0a2.3 2.3 0 1 0-4.6 0M107.9 113.7a2.3 2.3 0 1 0 4.6 0a2.3 2.3 0 1 0-4.6 0M157.7 62.2a2.3 2.3 0 1 0 4.6 0a2.3 2.3 0 1 0-4.6 0M90.8 134.2a2.3 2.3 0 1 0 4.6 0a2.3 2.3 0 1 0-4.6 0M171.5 44.2a2.3 2.3 0 1 0 4.6 0a2.3 2.3 0 1 0-4.6 0M63.0 153.6a2.3 2.3 0 1 0 4.6 0a2.3 2.3 0 1 0-4.6 0M49.6 173.0a2.3 2.3 0 1 0 4.6 0a2.3 2.3 0 1 0-4.6 0M97.2 117.5a2.3 2.3 0 1 0 4.6 0a2.3 2.3 0 1 0-4.6 0M57.8 162.7a2.3 2.3 0 1 0 4.6 0a2.3 2.3 0 1 0-4.6 0M51.7 166.8a2.3 2.3 0 1 0 4.6 0a2.3 2.3 0 1 0-4.6 0M59.0 160.6a2.3 2.3 0 1 0 4.6 0a2.3 2.3 0 1 0-4.6 0M65.0 144.3a2.3 2.3 0 1 0 4.6 0a2.3 2.3 0 1 0-4.6 0M46.3 169.9a2.3 2.3 0 1 0 4.6 0a2.3 2.3 0 1 0-4.6 0M127.1 93.0a2.3 2.3 0 1 0 4.6 0a2.3 2.3 0 1 0-4.6 0M163.8 58.5a2.3 2.3 0 1 0 4.6 0a2.3 2.3 0 1 0-4.6 0M104.7 113.4a2.3 2.3 0 1 0 4.6 0a2.3 2.3 0 1 0-4.6 0M98.1 121.5a2.3 2.3 0 1 0 4.6 0a2.3 2.3 0 1 0-4.6 0M56.2 161.3a2.3 2.3 0 1 0 4.6 0a2.3 2.3 0 1 0-4.6 0M153.5 70.3a2.3 2.3 0 1 0 4.6 0a2.3 2.3 0 1 0-4.6 0M129.1 92.5a2.3 2.3 0 1 0 4.6 0a2.3 2.3 0 1 0-4.6 0M119.3 101.2a2.3 2.3 0 1 0 4.6 0a2.3 2.3 0 1 0-4.6 0M125.6 93.3a2.3 2.3 0 1 0 4.6 0a2.3 2.3 0 1 0-4.6 0M124.5 98.0a2.3 2.3 0 1 0 4.6 0a2.3 2.3 0 1 0-4.6 0M84.7 134.4a2.3 2.3 0 1 0 4.6 0a2.3 2.3 0 1 0-4.6 0M101.3 105.3a2.3 2.3 0 1 0 4.6 0a2.3 2.3 0 1 0-4.6 0M83.4 134.8a2.3 2.3 0 1 0 4.6 0a2.3 2.3 0 1 0-4.6 0M47.7 169.5a2.3 2.3 0 1 0 4.6 0a2.3 2.3 0 1 0-4.6 0M99.9 117.4a2.3 2.3 0 1 0 4.6 0a2.3 2.3 0 1 0-4.6 0M49.7 171.2a2.3 2.3 0 1 0 4.6 0a2.3 2.3 0 1 0-4.6 0M58.1 163.3a2.3 2.3 0 1 0 4.6 0a2.3 2.3 0 1 0-4.6 0M53.6 171.1a2.3 2.3 0 1 0 4.6 0a2.3 2.3 0 1 0-4.6 0M154.2 65.5a2.3 2.3 0 1 0 4.6 0a2.3 2.3 0 1 0-4.6 0M129.1 87.2a2.3 2.3 0 1 0 4.6 0a2.3 2.3 0 1 0-4.6 0M86.7 129.2a2.3 2.3 0 1 0 4.6 0a2.3 2.3 0 1 0-4.6 0M129.5 90.6a2.3 2.3 0 1 0 4.6 0a2.3 2.3 0 1 0-4.6 0M59.5 161.5a2.3 2.3 0 1 0 4.6 0a2.3 2.3 0 1 0-4.6 0M47.8 173.4a2.3 2.3 0 1 0 4.6 0a2.3 2.3 0 1 0-4.6 0M163.4 61.9a2.3 2.3 0 1 0 4.6 0a2.3 2.3 0 1 0-4.6 0M58.0 162.6a2.3 2.3 0 1 0 4.6 0a2.3 2.3 0 1 0-4.6 0M103.2 115.5a2.3 2.3 0 1 0 4.6 0a2.3 2.3 0 1 0-4.6 0M63.6 160.8a2.3 2.3 0 1 0 4.6 0a2.3 2.3 0 1 0-4.6 0M85.8 130.4a2.3 2.3 0 1 0 4.6 0a2.3 2.3 0 1 0-4.6 0M94.9 126.3a2.3 2.3 0 1 0 4.6 0a2.3 2.3 0 1 0-4.6 0M81.6 141.1a2.3 2.3 0 1 0 4.6 0a2.3 2.3 0 1 0-4.6 0M53.8 164.8a2.3 2.3 0 1 0 4.6 0a2.3 2.3 0 1 0-4.6 0M78.0 134.4a2.3 2.3 0 1 0 4.6 0a2.3 2.3 0 1 0-4.6 0M70.8 149.4a2.3 2.3 0 1 0 4.6 0a2.3 2.3 0 1 0-4.6 0M98.9 115.7a2.3 2.3 0 1 0 4.6 0a2.3 2.3 0 1 0-4.6 0M199.1 20.4a2.3 2.3 0 1 0 4.6 0a2.3 2.3 0 1 0-4.6 0M118.0 107.4a2.3 2.3 0 1 0 4.6 0a2.3 2.3 0 1 0-4.6 0M112.7 108.4a2.3 2.3 0 1 0 4.6 0a2.3 2.3 0 1 0-4.6 0M102.6 109.1a2.3 2.3 0 1 0 4.6 0a2.3 2.3 0 1 0-4.6 0M154.8 65.9a2.3 2.3 0 1 0 4.6 0a2.3 2.3 0 1 0-4.6 0M99.7 128.3a2.3 2.3 0 1 0 4.6 0a2.3 2.3 0 1 0-4.6 0M76.2 143.1a2.3 2.3 0 1 0 4.6 0a2.3 2.3 0 1 0-4.6 0M72.0 150.5a2.3 2.3 0 1 0 4.6 0a2.3 2.3 0 1 0-4.6 0M73.1 151.8a2.3 2.3 0 1 0 4.6 0a2.3 2.3 0 1 0-4.6 0M140.2 83.5a2.3 2.3 0 1 0 4.6 0a2.3 2.3 0 1 0-4.6 0M143.5 76.2a2.3 2.3 0 1 0 4.6 0a2.3 2.3 0 1 0-4.6 0M97.6 125.6a2.3 2.3 0 1 0 4.6 0a2.3 2.3 0 1 0-4.6 0M67.7 153.7a2.3 2.3 0 1 0 4.6 0a2.3 2.3 0 1 0-4.6 0M54.6 167.0a2.3 2.3 0 1 0 4.6 0a2.3 2.3 0 1 0-4.6 0M97.3 128.0a2.3 2.3 0 1 0 4.6 0a2.3 2.3 0 1 0-4.6 0M47.4 170.0a2.3 2.3 0 1 0 4.6 0a2.3 2.3 0 1 0-4.6 0M173.3 46.6a2.3 2.3 0 1 0 4.6 0a2.3 2.3 0 1 0-4.6 0M58.1 164.3a2.3 2.3 0 1 0 4.6 0a2.3 2.3 0 1 0-4.6 0M91.2 130.5a2.3 2.3 0 1 0 4.6 0a2.3 2.3 0 1 0-4.6 0M63.0 157.9a2.3 2.3 0 1 0 4.6 0a2.3 2.3 0 1 0-4.6 0M127.0 93.2a2.3 2.3 0 1 0 4.6 0a2.3 2.3 0 1 0-4.6 0M102.6 114.4a2.3 2.3 0 1 0 4.6 0a2.3 2.3 0 1 0-4.6 0M94.3 130.5a2.3 2.3 0 1 0 4.6 0a2.3 2.3 0 1 0-4.6 0M73.1 146.8a2.3 2.3 0 1 0 4.6 0a2.3 2.3 0 1 0-4.6 0M96.2 128.3a2.3 2.3 0 1 0 4.6 0a2.3 2.3 0 1 0-4.6 0M51.6 169.8a2.3 2.3 0 1 0 4.6 0a2.3 2.3 0 1 0-4.6 0M191.2 30.3a2.3 2.3 0 1 0 4.6 0a2.3 2.3 0 1 0-4.6 0M58.6 162.5a2.3 2.3 0 1 0 4.6 0a2.3 2.3 0 1 0-4.6 0M75.9 140.9a2.3 2.3 0 1 0 4.6 0a2.3 2.3 0 1 0-4.6 0M76.5 141.8a2.3 2.3 0 1 0 4.6 0a2.3 2.3 0 1 0-4.6 0M112.7 117.9a2.3 2.3 0 1 0 4.6 0a2.3 2.3 0 1 0-4.6 0M49.4 173.3a2.3 2.3 0 1 0 4.6 0a2.3 2.3 0 1 0-4.6 0M211.8 3.7a2.3 2.3 0 1 0 4.6 0a2.3 2.3 0 1 0-4.6 0M53.2 165.3a2.3 2.3 0 1 0 4.6 0a2.3 2.3 0 1 0-4.6 0M139.7 77.5a2.3 2.3 0 1 0 4.6 0a2.3 2.3 0 1 0-4.6 0M75.4 148.0a2.3 2.3 0 1 0 4.6 0a2.3 2.3 0 1 0-4.6 0M59.8 163.1a2.3 2.3 0 1 0 4.6 0a2.3 2.3 0 1 0-4.6 0M98.4 120.9a2.3 2.3 0 1 0 4.6 0a2.3 2.3 0 1 0-4.6 0M64.4 153.9a2.3 2.3 0 1 0 4.6 0a2.3 2.3 0 1 0-4.6 0M65.0 153.8a2.3 2.3 0 1 0 4.6 0a2.3 2.3 0 1 0-4.6 0M150.1 69.0a2.3 2.3 0 1 0 4.6 0a2.3 2.3 0 1 0-4.6 0" fill="none" stroke="#6a6a6a" stroke-width="0.55"/>
</g>
<g clip-path="url(#c0)"><line x1="-6.87" y1="229.50" x2="283.98" y2="-61.50" stroke="#181818" stroke-width="1.1"/></g>
<line x1="39.55" y1="-0.05" x2="39.55" y2="187.05" stroke="#7a7a7a" stroke-width="1.00"/>
<line x1="218.45" y1="-0.05" x2="218.45" y2="187.05" stroke="#444" stroke-width="1.00"/>
<line x1="39.55" y1="0.45" x2="218.45" y2="0.45" stroke="#6e6e6e" stroke-width="1.00"/>
<line x1="39.55" y1="186.50" x2="218.45" y2="186.50" stroke="#484848" stroke-width="1.10"/>
<path d="M51.30 186.50v3.6M39.55 171.30h-3.6M90.08 186.50v3.6M39.55 132.50h-3.6M128.86 186.50v3.6M39.55 93.70h-3.6M167.64 186.50v3.6M39.55 54.90h-3.6M206.42 186.50v3.6M39.55 16.10h-3.6" stroke="#4a4a4a" stroke-width="1.1" fill="none"/>
<text x="51.30" y="201.10" font-size="11.0" fill="#111" text-anchor="middle">0.0</text>
<text x="33.25" y="176.15" font-size="11.0" fill="#111" text-anchor="end">0.0</text>
<text x="90.08" y="201.10" font-size="11.0" fill="#111" text-anchor="middle">0.2</text>
<text x="33.25" y="137.35" font-size="11.0" fill="#111" text-anchor="end">0.2</text>
<text x="128.86" y="201.10" font-size="11.0" fill="#111" text-anchor="middle">0.4</text>
<text x="33.25" y="98.55" font-size="11.0" fill="#111" text-anchor="end">0.4</text>
<text x="167.64" y="201.10" font-size="11.0" fill="#111" text-anchor="middle">0.6</text>
<text x="33.25" y="59.75" font-size="11.0" fill="#111" text-anchor="end">0.6</text>
<text x="206.42" y="201.10" font-size="11.0" fill="#111" text-anchor="middle">0.8</text>
<text x="33.25" y="20.95" font-size="11.0" fill="#111" text-anchor="end">0.8</text>
<text x="129.15" y="218.70" font-size="14.1" fill="#111" text-anchor="middle" letter-spacing="0.3">PCR-HAT</text>
<text transform="translate(11.25 92.97) rotate(-90)" font-size="14.1" fill="#111" text-anchor="middle">PCR-CV</text>
<clipPath id="c1"><rect x="272.50" y="0.45" width="178.45" height="186.05"/></clipPath>
<g clip-path="url(#c1)">
<path d="M285.8 177.8a2.3 2.3 0 1 0 4.6 0a2.3 2.3 0 1 0-4.6 0M306.2 150.9a2.3 2.3 0 1 0 4.6 0a2.3 2.3 0 1 0-4.6 0M278.5 178.0a2.3 2.3 0 1 0 4.6 0a2.3 2.3 0 1 0-4.6 0M354.9 105.5a2.3 2.3 0 1 0 4.6 0a2.3 2.3 0 1 0-4.6 0M329.5 130.3a2.3 2.3 0 1 0 4.6 0a2.3 2.3 0 1 0-4.6 0M439.9 4.9a2.3 2.3 0 1 0 4.6 0a2.3 2.3 0 1 0-4.6 0M289.3 177.7a2.3 2.3 0 1 0 4.6 0a2.3 2.3 0 1 0-4.6 0M309.8 149.2a2.3 2.3 0 1 0 4.6 0a2.3 2.3 0 1 0-4.6 0M319.2 140.9a2.3 2.3 0 1 0 4.6 0a2.3 2.3 0 1 0-4.6 0M340.3 119.3a2.3 2.3 0 1 0 4.6 0a2.3 2.3 0 1 0-4.6 0M415.0 35.3a2.3 2.3 0 1 0 4.6 0a2.3 2.3 0 1 0-4.6 0M321.4 135.6a2.3 2.3 0 1 0 4.6 0a2.3 2.3 0 1 0-4.6 0M320.0 145.6a2.3 2.3 0 1 0 4.6 0a2.3 2.3 0 1 0-4.6 0M336.8 121.1a2.3 2.3 0 1 0 4.6 0a2.3 2.3 0 1 0-4.6 0M396.7 60.8a2.3 2.3 0 1 0 4.6 0a2.3 2.3 0 1 0-4.6 0M317.5 147.4a2.3 2.3 0 1 0 4.6 0a2.3 2.3 0 1 0-4.6 0M285.7 177.7a2.3 2.3 0 1 0 4.6 0a2.3 2.3 0 1 0-4.6 0M341.2 116.9a2.3 2.3 0 1 0 4.6 0a2.3 2.3 0 1 0-4.6 0M313.7 162.3a2.3 2.3 0 1 0 4.6 0a2.3 2.3 0 1 0-4.6 0M396.9 68.5a2.3 2.3 0 1 0 4.6 0a2.3 2.3 0 1 0-4.6 0M292.9 173.2a2.3 2.3 0 1 0 4.6 0a2.3 2.3 0 1 0-4.6 0M296.7 163.5a2.3 2.3 0 1 0 4.6 0a2.3 2.3 0 1 0-4.6 0M333.7 122.8a2.3 2.3 0 1 0 4.6 0a2.3 2.3 0 1 0-4.6 0M283.7 177.8a2.3 2.3 0 1 0 4.6 0a2.3 2.3 0 1 0-4.6 0M314.5 149.8a2.3 2.3 0 1 0 4.6 0a2.3 2.3 0 1 0-4.6 0M337.4 127.7a2.3 2.3 0 1 0 4.6 0a2.3 2.3 0 1 0-4.6 0M297.2 173.0a2.3 2.3 0 1 0 4.6 0a2.3 2.3 0 1 0-4.6 0M355.9 101.3a2.3 2.3 0 1 0 4.6 0a2.3 2.3 0 1 0-4.6 0M410.3 40.6a2.3 2.3 0 1 0 4.6 0a2.3 2.3 0 1 0-4.6 0M365.0 87.4a2.3 2.3 0 1 0 4.6 0a2.3 2.3 0 1 0-4.6 0M291.7 171.5a2.3 2.3 0 1 0 4.6 0a2.3 2.3 0 1 0-4.6 0M301.5 157.4a2.3 2.3 0 1 0 4.6 0a2.3 2.3 0 1 0-4.6 0M335.0 124.9a2.3 2.3 0 1 0 4.6 0a2.3 2.3 0 1 0-4.6 0M283.4 178.1a2.3 2.3 0 1 0 4.6 0a2.3 2.3 0 1 0-4.6 0M334.1 121.7a2.3 2.3 0 1 0 4.6 0a2.3 2.3 0 1 0-4.6 0M283.1 177.8a2.3 2.3 0 1 0 4.6 0a2.3 2.3 0 1 0-4.6 0M375.4 80.9a2.3 2.3 0 1 0 4.6 0a2.3 2.3 0 1 0-4.6 0M325.7 131.8a2.3 2.3 0 1 0 4.6 0a2.3 2.3 0 1 0-4.6 0M305.2 150.8a2.3 2.3 0 1 0 4.6 0a2.3 2.3 0 1 0-4.6 0M313.8 147.8a2.3 2.3 0 1 0 4.6 0a2.3 2.3 0 1 0-4.6 0M329.6 128.5a2.3 2.3 0 1 0 4.6 0a2.3 2.3 0 1 0-4.6 0M345.7 117.2a2.3 2.3 0 1 0 4.6 0a2.3 2.3 0 1 0-4.6 0M305.0 153.4a2.3 2.3 0 1 0 4.6 0a2.3 2.3 0 1 0-4.6 0M353.9 103.6a2.3 2.3 0 1 0 4.6 0a2.3 2.3 0 1 0-4.6 0M317.7 137.8a2.3 2.3 0 1 0 4.6 0a2.3 2.3 0 1 0-4.6 0M281.4 178.1a2.3 2.3 0 1 0 4.6 0a2.3 2.3 0 1 0-4.6 0M289.2 169.9a2.3 2.3 0 1 0 4.6 0a2.3 2.3 0 1 0-4.6 0M348.5 109.9a2.3 2.3 0 1 0 4.6 0a2.3 2.3 0 1 0-4.6 0M341.1 114.0a2.3 2.3 0 1 0 4.6 0a2.3 2.3 0 1 0-4.6 0M307.5 155.2a2.3 2.3 0 1 0 4.6 0a2.3 2.3 0 1 0-4.6 0M301.6 160.5a2.3 2.3 0 1 0 4.6 0a2.3 2.3 0 1 0-4.6 0M355.9 101.0a2.3 2.3 0 1 0 4.6 0a2.3 2.3 0 1 0-4.6 0M279.9 177.7a2.3 2.3 0 1 0 4.6 0a2.3 2.3 0 1 0-4.6 0M294.0 178.1a2.3 2.3 0 1 0 4.6 0a2.3 2.3 0 1 0-4.6 0M285.6 178.3a2.3 2.3 0 1 0 4.6 0a2.3 2.3 0 1 0-4.6 0M299.3 160.7a2.3 2.3 0 1 0 4.6 0a2.3 2.3 0 1 0-4.6 0M356.4 108.5a2.3 2.3 0 1 0 4.6 0a2.3 2.3 0 1 0-4.6 0M313.8 147.8a2.3 2.3 0 1 0 4.6 0a2.3 2.3 0 1 0-4.6 0M367.2 89.8a2.3 2.3 0 1 0 4.6 0a2.3 2.3 0 1 0-4.6 0M296.0 168.9a2.3 2.3 0 1 0 4.6 0a2.3 2.3 0 1 0-4.6 0M443.9 14.4a2.3 2.3 0 1 0 4.6 0a2.3 2.3 0 1 0-4.6 0M289.7 178.0a2.3 2.3 0 1 0 4.6 0a2.3 2.3 0 1 0-4.6 0M286.5 178.1a2.3 2.3 0 1 0 4.6 0a2.3 2.3 0 1 0-4.6 0M345.4 121.8a2.3 2.3 0 1 0 4.6 0a2.3 2.3 0 1 0-4.6 0M330.0 129.7a2.3 2.3 0 1 0 4.6 0a2.3 2.3 0 1 0-4.6 0M289.8 173.8a2.3 2.3 0 1 0 4.6 0a2.3 2.3 0 1 0-4.6 0M294.7 177.9a2.3 2.3 0 1 0 4.6 0a2.3 2.3 0 1 0-4.6 0M322.0 134.4a2.3 2.3 0 1 0 4.6 0a2.3 2.3 0 1 0-4.6 0M330.9 133.7a2.3 2.3 0 1 0 4.6 0a2.3 2.3 0 1 0-4.6 0M351.6 114.3a2.3 2.3 0 1 0 4.6 0a2.3 2.3 0 1 0-4.6 0M323.9 135.4a2.3 2.3 0 1 0 4.6 0a2.3 2.3 0 1 0-4.6 0M331.5 121.9a2.3 2.3 0 1 0 4.6 0a2.3 2.3 0 1 0-4.6 0M282.1 177.7a2.3 2.3 0 1 0 4.6 0a2.3 2.3 0 1 0-4.6 0M373.9 75.6a2.3 2.3 0 1 0 4.6 0a2.3 2.3 0 1 0-4.6 0M314.5 145.4a2.3 2.3 0 1 0 4.6 0a2.3 2.3 0 1 0-4.6 0M428.7 29.4a2.3 2.3 0 1 0 4.6 0a2.3 2.3 0 1 0-4.6 0M328.2 127.5a2.3 2.3 0 1 0 4.6 0a2.3 2.3 0 1 0-4.6 0M440.6 14.4a2.3 2.3 0 1 0 4.6 0a2.3 2.3 0 1 0-4.6 0M328.4 140.6a2.3 2.3 0 1 0 4.6 0a2.3 2.3 0 1 0-4.6 0M318.5 139.0a2.3 2.3 0 1 0 4.6 0a2.3 2.3 0 1 0-4.6 0M386.5 66.3a2.3 2.3 0 1 0 4.6 0a2.3 2.3 0 1 0-4.6 0M432.9 19.1a2.3 2.3 0 1 0 4.6 0a2.3 2.3 0 1 0-4.6 0M308.4 168.4a2.3 2.3 0 1 0 4.6 0a2.3 2.3 0 1 0-4.6 0M336.0 120.8a2.3 2.3 0 1 0 4.6 0a2.3 2.3 0 1 0-4.6 0M305.3 171.5a2.3 2.3 0 1 0 4.6 0a2.3 2.3 0 1 0-4.6 0M279.4 178.3a2.3 2.3 0 1 0 4.6 0a2.3 2.3 0 1 0-4.6 0M334.9 123.7a2.3 2.3 0 1 0 4.6 0a2.3 2.3 0 1 0-4.6 0M304.6 167.8a2.3 2.3 0 1 0 4.6 0a2.3 2.3 0 1 0-4.6 0M339.1 129.5a2.3 2.3 0 1 0 4.6 0a2.3 2.3 0 1 0-4.6 0M359.7 104.6a2.3 2.3 0 1 0 4.6 0a2.3 2.3 0 1 0-4.6 0M291.8 177.8a2.3 2.3 0 1 0 4.6 0a2.3 2.3 0 1 0-4.6 0M324.9 133.8a2.3 2.3 0 1 0 4.6 0a2.3 2.3 0 1 0-4.6 0M367.5 87.6a2.3 2.3 0 1 0 4.6 0a2.3 2.3 0 1 0-4.6 0M302.9 157.8a2.3 2.3 0 1 0 4.6 0a2.3 2.3 0 1 0-4.6 0M284.1 177.6a2.3 2.3 0 1 0 4.6 0a2.3 2.3 0 1 0-4.6 0M296.4 166.5a2.3 2.3 0 1 0 4.6 0a2.3 2.3 0 1 0-4.6 0M324.5 129.4a2.3 2.3 0 1 0 4.6 0a2.3 2.3 0 1 0-4.6 0M325.4 158.1a2.3 2.3 0 1 0 4.6 0a2.3 2.3 0 1 0-4.6 0M322.7 135.9a2.3 2.3 0 1 0 4.6 0a2.3 2.3 0 1 0-4.6 0M338.1 121.1a2.3 2.3 0 1 0 4.6 0a2.3 2.3 0 1 0-4.6 0M345.2 115.1a2.3 2.3 0 1 0 4.6 0a2.3 2.3 0 1 0-4.6 0M281.5 178.4a2.3 2.3 0 1 0 4.6 0a2.3 2.3 0 1 0-4.6 0M395.0 64.7a2.3 2.3 0 1 0 4.6 0a2.3 2.3 0 1 0-4.6 0M312.0 156.0a2.3 2.3 0 1 0 4.6 0a2.3 2.3 0 1 0-4.6 0M301.9 158.8a2.3 2.3 0 1 0 4.6 0a2.3 2.3 0 1 0-4.6 0M286.8 178.2a2.3 2.3 0 1 0 4.6 0a2.3 2.3 0 1 0-4.6 0M339.2 117.5a2.3 2.3 0 1 0 4.6 0a2.3 2.3 0 1 0-4.6 0M292.9 178.1a2.3 2.3 0 1 0 4.6 0a2.3 2.3 0 1 0-4.6 0M333.8 125.2a2.3 2.3 0 1 0 4.6 0a2.3 2.3 0 1 0-4.6 0M301.2 161.3a2.3 2.3 0 1 0 4.6 0a2.3 2.3 0 1 0-4.6 0M311.3 145.8a2.3 2.3 0 1 0 4.6 0a2.3 2.3 0 1 0-4.6 0M299.6 165.6a2.3 2.3 0 1 0 4.6 0a2.3 2.3 0 1 0-4.6 0M333.9 117.8a2.3 2.3 0 1 0 4.6 0a2.3 2.3 0 1 0-4.6 0M305.5 158.5a2.3 2.3 0 1 0 4.6 0a2.3 2.3 0 1 0-4.6 0M289.4 178.5a2.3 2.3 0 1 0 4.6 0a2.3 2.3 0 1 0-4.6 0M311.6 147.4a2.3 2.3 0 1 0 4.6 0a2.3 2.3 0 1 0-4.6 0M288.9 177.7a2.3 2.3 0 1 0 4.6 0a2.3 2.3 0 1 0-4.6 0M323.6 137.3a2.3 2.3 0 1 0 4.6 0a2.3 2.3 0 1 0-4.6 0M368.4 89.4a2.3 2.3 0 1 0 4.6 0a2.3 2.3 0 1 0-4.6 0M330.1 143.0a2.3 2.3 0 1 0 4.6 0a2.3 2.3 0 1 0-4.6 0M328.0 127.0a2.3 2.3 0 1 0 4.6 0a2.3 2.3 0 1 0-4.6 0M283.7 177.4a2.3 2.3 0 1 0 4.6 0a2.3 2.3 0 1 0-4.6 0M287.7 178.0a2.3 2.3 0 1 0 4.6 0a2.3 2.3 0 1 0-4.6 0M310.7 142.3a2.3 2.3 0 1 0 4.6 0a2.3 2.3 0 1 0-4.6 0M282.6 177.9a2.3 2.3 0 1 0 4.6 0a2.3 2.3 0 1 0-4.6 0M300.4 157.0a2.3 2.3 0 1 0 4.6 0a2.3 2.3 0 1 0-4.6 0M303.9 157.4a2.3 2.3 0 1 0 4.6 0a2.3 2.3 0 1 0-4.6 0M332.6 139.8a2.3 2.3 0 1 0 4.6 0a2.3 2.3 0 1 0-4.6 0M305.0 152.4a2.3 2.3 0 1 0 4.6 0a2.3 2.3 0 1 0-4.6 0M296.5 163.1a2.3 2.3 0 1 0 4.6 0a2.3 2.3 0 1 0-4.6 0M326.9 135.5a2.3 2.3 0 1 0 4.6 0a2.3 2.3 0 1 0-4.6 0M381.8 78.1a2.3 2.3 0 1 0 4.6 0a2.3 2.3 0 1 0-4.6 0M356.2 99.5a2.3 2.3 0 1 0 4.6 0a2.3 2.3 0 1 0-4.6 0M398.6 57.9a2.3 2.3 0 1 0 4.6 0a2.3 2.3 0 1 0-4.6 0M349.4 123.0a2.3 2.3 0 1 0 4.6 0a2.3 2.3 0 1 0-4.6 0M371.8 84.7a2.3 2.3 0 1 0 4.6 0a2.3 2.3 0 1 0-4.6 0M314.3 143.1a2.3 2.3 0 1 0 4.6 0a2.3 2.3 0 1 0-4.6 0M323.6 132.7a2.3 2.3 0 1 0 4.6 0a2.3 2.3 0 1 0-4.6 0M338.0 117.5a2.3 2.3 0 1 0 4.6 0a2.3 2.3 0 1 0-4.6 0M327.5 128.4a2.3 2.3 0 1 0 4.6 0a2.3 2.3 0 1 0-4.6 0M384.5 66.9a2.3 2.3 0 1 0 4.6 0a2.3 2.3 0 1 0-4.6 0M281.2 178.1a2.3 2.3 0 1 0 4.6 0a2.3 2.3 0 1 0-4.6 0M399.8 62.6a2.3 2.3 0 1 0 4.6 0a2.3 2.3 0 1 0-4.6 0M359.1 108.9a2.3 2.3 0 1 0 4.6 0a2.3 2.3 0 1 0-4.6 0M277.4 178.0a2.3 2.3 0 1 0 4.6 0a2.3 2.3 0 1 0-4.6 0M334.0 125.4a2.3 2.3 0 1 0 4.6 0a2.3 2.3 0 1 0-4.6 0M344.9 124.5a2.3 2.3 0 1 0 4.6 0a2.3 2.3 0 1 0-4.6 0M284.5 177.6a2.3 2.3 0 1 0 4.6 0a2.3 2.3 0 1 0-4.6 0M281.6 177.8a2.3 2.3 0 1 0 4.6 0a2.3 2.3 0 1 0-4.6 0M321.0 133.9a2.3 2.3 0 1 0 4.6 0a2.3 2.3 0 1 0-4.6 0M301.7 173.4a2.3 2.3 0 1 0 4.6 0a2.3 2.3 0 1 0-4.6 0M285.3 178.3a2.3 2.3 0 1 0 4.6 0a2.3 2.3 0 1 0-4.6 0M405.5 47.7a2.3 2.3 0 1 0 4.6 0a2.3 2.3 0 1 0-4.6 0M302.0 154.0a2.3 2.3 0 1 0 4.6 0a2.3 2.3 0 1 0-4.6 0M329.4 126.8a2.3 2.3 0 1 0 4.6 0a2.3 2.3 0 1 0-4.6 0M287.9 177.8a2.3 2.3 0 1 0 4.6 0a2.3 2.3 0 1 0-4.6 0M369.6 87.7a2.3 2.3 0 1 0 4.6 0a2.3 2.3 0 1 0-4.6 0M385.9 72.0a2.3 2.3 0 1 0 4.6 0a2.3 2.3 0 1 0-4.6 0M323.2 135.9a2.3 2.3 0 1 0 4.6 0a2.3 2.3 0 1 0-4.6 0M329.0 127.3a2.3 2.3 0 1 0 4.6 0a2.3 2.3 0 1 0-4.6 0M424.3 29.7a2.3 2.3 0 1 0 4.6 0a2.3 2.3 0 1 0-4.6 0M324.2 148.1a2.3 2.3 0 1 0 4.6 0a2.3 2.3 0 1 0-4.6 0M288.9 178.0a2.3 2.3 0 1 0 4.6 0a2.3 2.3 0 1 0-4.6 0M292.9 165.4a2.3 2.3 0 1 0 4.6 0a2.3 2.3 0 1 0-4.6 0M302.1 155.1a2.3 2.3 0 1 0 4.6 0a2.3 2.3 0 1 0-4.6 0M327.9 126.5a2.3 2.3 0 1 0 4.6 0a2.3 2.3 0 1 0-4.6 0M325.5 131.2a2.3 2.3 0 1 0 4.6 0a2.3 2.3 0 1 0-4.6 0M293.1 167.6a2.3 2.3 0 1 0 4.6 0a2.3 2.3 0 1 0-4.6 0M429.8 27.9a2.3 2.3 0 1 0 4.6 0a2.3 2.3 0 1 0-4.6 0M391.4 62.0a2.3 2.3 0 1 0 4.6 0a2.3 2.3 0 1 0-4.6 0M329.9 124.0a2.3 2.3 0 1 0 4.6 0a2.3 2.3 0 1 0-4.6 0M291.7 169.2a2.3 2.3 0 1 0 4.6 0a2.3 2.3 0 1 0-4.6 0M298.7 168.8a2.3 2.3 0 1 0 4.6 0a2.3 2.3 0 1 0-4.6 0M342.9 116.9a2.3 2.3 0 1 0 4.6 0a2.3 2.3 0 1 0-4.6 0M329.7 151.7a2.3 2.3 0 1 0 4.6 0a2.3 2.3 0 1 0-4.6 0M301.0 154.3a2.3 2.3 0 1 0 4.6 0a2.3 2.3 0 1 0-4.6 0M317.1 148.5a2.3 2.3 0 1 0 4.6 0a2.3 2.3 0 1 0-4.6 0M278.4 177.5a2.3 2.3 0 1 0 4.6 0a2.3 2.3 0 1 0-4.6 0M310.8 157.7a2.3 2.3 0 1 0 4.6 0a2.3 2.3 0 1 0-4.6 0M373.5 85.0a2.3 2.3 0 1 0 4.6 0a2.3 2.3 0 1 0-4.6 0M286.3 177.6a2.3 2.3 0 1 0 4.6 0a2.3 2.3 0 1 0-4.6 0M340.3 120.7a2.3 2.3 0 1 0 4.6 0a2.3 2.3 0 1 0-4.6 0M282.6 177.8a2.3 2.3 0 1 0 4.6 0a2.3 2.3 0 1 0-4.6 0M357.5 100.4a2.3 2.3 0 1 0 4.6 0a2.3 2.3 0 1 0-4.6 0M300.3 168.8a2.3 2.3 0 1 0 4.6 0a2.3 2.3 0 1 0-4.6 0M285.4 173.6a2.3 2.3 0 1 0 4.6 0a2.3 2.3 0 1 0-4.6 0M285.4 177.9a2.3 2.3 0 1 0 4.6 0a2.3 2.3 0 1 0-4.6 0M308.2 151.5a2.3 2.3 0 1 0 4.6 0a2.3 2.3 0 1 0-4.6 0M339.4 116.8a2.3 2.3 0 1 0 4.6 0a2.3 2.3 0 1 0-4.6 0M344.7 124.5a2.3 2.3 0 1 0 4.6 0a2.3 2.3 0 1 0-4.6 0M299.0 159.8a2.3 2.3 0 1 0 4.6 0a2.3 2.3 0 1 0-4.6 0M332.7 122.1a2.3 2.3 0 1 0 4.6 0a2.3 2.3 0 1 0-4.6 0M358.7 95.8a2.3 2.3 0 1 0 4.6 0a2.3 2.3 0 1 0-4.6 0M438.3 14.5a2.3 2.3 0 1 0 4.6 0a2.3 2.3 0 1 0-4.6 0M293.5 170.5a2.3 2.3 0 1 0 4.6 0a2.3 2.3 0 1 0-4.6 0M291.4 178.0a2.3 2.3 0 1 0 4.6 0a2.3 2.3 0 1 0-4.6 0M343.5 112.9a2.3 2.3 0 1 0 4.6 0a2.3 2.3 0 1 0-4.6 0M338.7 122.3a2.3 2.3 0 1 0 4.6 0a2.3 2.3 0 1 0-4.6 0M322.9 137.6a2.3 2.3 0 1 0 4.6 0a2.3 2.3 0 1 0-4.6 0M279.9 178.1a2.3 2.3 0 1 0 4.6 0a2.3 2.3 0 1 0-4.6 0M345.7 112.4a2.3 2.3 0 1 0 4.6 0a2.3 2.3 0 1 0-4.6 0M288.2 169.1a2.3 2.3 0 1 0 4.6 0a2.3 2.3 0 1 0-4.6 0M336.1 117.9a2.3 2.3 0 1 0 4.6 0a2.3 2.3 0 1 0-4.6 0M312.7 165.4a2.3 2.3 0 1 0 4.6 0a2.3 2.3 0 1 0-4.6 0M344.3 109.3a2.3 2.3 0 1 0 4.6 0a2.3 2.3 0 1 0-4.6 0M375.5 81.9a2.3 2.3 0 1 0 4.6 0a2.3 2.3 0 1 0-4.6 0M303.6 159.0a2.3 2.3 0 1 0 4.6 0a2.3 2.3 0 1 0-4.6 0M341.5 116.2a2.3 2.3 0 1 0 4.6 0a2.3 2.3 0 1 0-4.6 0M370.3 89.1a2.3 2.3 0 1 0 4.6 0a2.3 2.3 0 1 0-4.6 0M309.8 157.9a2.3 2.3 0 1 0 4.6 0a2.3 2.3 0 1 0-4.6 0M283.3 178.0a2.3 2.3 0 1 0 4.6 0a2.3 2.3 0 1 0-4.6 0M287.8 173.5a2.3 2.3 0 1 0 4.6 0a2.3 2.3 0 1 0-4.6 0M354.4 101.8a2.3 2.3 0 1 0 4.6 0a2.3 2.3 0 1 0-4.6 0M277.3 178.3a2.3 2.3 0 1 0 4.6 0a2.3 2.3 0 1 0-4.6 0M371.2 84.1a2.3 2.3 0 1 0 4.6 0a2.3 2.3 0 1 0-4.6 0M309.8 152.3a2.3 2.3 0 1 0 4.6 0a2.3 2.3 0 1 0-4.6 0M312.9 154.5a2.3 2.3 0 1 0 4.6 0a2.3 2.3 0 1 0-4.6 0M443.6 7.7a2.3 2.3 0 1 0 4.6 0a2.3 2.3 0 1 0-4.6 0M300.7 162.9a2.3 2.3 0 1 0 4.6 0a2.3 2.3 0 1 0-4.6 0M290.9 177.8a2.3 2.3 0 1 0 4.6 0a2.3 2.3 0 1 0-4.6 0M321.7 134.0a2.3 2.3 0 1 0 4.6 0a2.3 2.3 0 1 0-4.6 0M367.8 88.8a2.3 2.3 0 1 0 4.6 0a2.3 2.3 0 1 0-4.6 0M352.3 103.9a2.3 2.3 0 1 0 4.6 0a2.3 2.3 0 1 0-4.6 0M327.0 136.0a2.3 2.3 0 1 0 4.6 0a2.3 2.3 0 1 0-4.6 0M362.5 104.2a2.3 2.3 0 1 0 4.6 0a2.3 2.3 0 1 0-4.6 0M346.3 110.2a2.3 2.3 0 1 0 4.6 0a2.3 2.3 0 1 0-4.6 0M283.6 178.3a2.3 2.3 0 1 0 4.6 0a2.3 2.3 0 1 0-4.6 0M440.6 5.7a2.3 2.3 0 1 0 4.6 0a2.3 2.3 0 1 0-4.6 0M310.5 150.5a2.3 2.3 0 1 0 4.6 0a2.3 2.3 0 1 0-4.6 0M357.2 104.2a2.3 2.3 0 1 0 4.6 0a2.3 2.3 0 1 0-4.6 0M298.1 170.5a2.3 2.3 0 1 0 4.6 0a2.3 2.3 0 1 0-4.6 0M315.3 152.0a2.3 2.3 0 1 0 4.6 0a2.3 2.3 0 1 0-4.6 0M308.7 146.1a2.3 2.3 0 1 0 4.6 0a2.3 2.3 0 1 0-4.6 0M291.9 167.8a2.3 2.3 0 1 0 4.6 0a2.3 2.3 0 1 0-4.6 0M361.0 102.1a2.3 2.3 0 1 0 4.6 0a2.3 2.3 0 1 0-4.6 0M358.0 106.0a2.3 2.3 0 1 0 4.6 0a2.3 2.3 0 1 0-4.6 0M338.9 116.7a2.3 2.3 0 1 0 4.6 0a2.3 2.3 0 1 0-4.6 0M306.1 156.4a2.3 2.3 0 1 0 4.6 0a2.3 2.3 0 1 0-4.6 0M358.2 109.3a2.3 2.3 0 1 0 4.6 0a2.3 2.3 0 1 0-4.6 0M315.6 143.0a2.3 2.3 0 1 0 4.6 0a2.3 2.3 0 1 0-4.6 0M299.8 156.4a2.3 2.3 0 1 0 4.6 0a2.3 2.3 0 1 0-4.6 0M277.1 178.1a2.3 2.3 0 1 0 4.6 0a2.3 2.3 0 1 0-4.6 0M291.0 178.3a2.3 2.3 0 1 0 4.6 0a2.3 2.3 0 1 0-4.6 0M298.2 177.3a2.3 2.3 0 1 0 4.6 0a2.3 2.3 0 1 0-4.6 0M294.0 170.8a2.3 2.3 0 1 0 4.6 0a2.3 2.3 0 1 0-4.6 0M301.5 165.6a2.3 2.3 0 1 0 4.6 0a2.3 2.3 0 1 0-4.6 0M386.6 72.6a2.3 2.3 0 1 0 4.6 0a2.3 2.3 0 1 0-4.6 0M390.6 63.5a2.3 2.3 0 1 0 4.6 0a2.3 2.3 0 1 0-4.6 0M325.5 140.7a2.3 2.3 0 1 0 4.6 0a2.3 2.3 0 1 0-4.6 0M395.6 52.7a2.3 2.3 0 1 0 4.6 0a2.3 2.3 0 1 0-4.6 0M389.8 62.6a2.3 2.3 0 1 0 4.6 0a2.3 2.3 0 1 0-4.6 0M329.9 140.5a2.3 2.3 0 1 0 4.6 0a2.3 2.3 0 1 0-4.6 0M299.5 165.4a2.3 2.3 0 1 0 4.6 0a2.3 2.3 0 1 0-4.6 0M277.1 177.2a2.3 2.3 0 1 0 4.6 0a2.3 2.3 0 1 0-4.6 0M413.4 33.9a2.3 2.3 0 1 0 4.6 0a2.3 2.3 0 1 0-4.6 0M292.1 165.4a2.3 2.3 0 1 0 4.6 0a2.3 2.3 0 1 0-4.6 0M365.9 97.6a2.3 2.3 0 1 0 4.6 0a2.3 2.3 0 1 0-4.6 0M305.7 151.8a2.3 2.3 0 1 0 4.6 0a2.3 2.3 0 1 0-4.6 0M352.2 100.7a2.3 2.3 0 1 0 4.6 0a2.3 2.3 0 1 0-4.6 0M356.2 99.1a2.3 2.3 0 1 0 4.6 0a2.3 2.3 0 1 0-4.6 0M305.3 149.1a2.3 2.3 0 1 0 4.6 0a2.3 2.3 0 1 0-4.6 0M299.0 160.3a2.3 2.3 0 1 0 4.6 0a2.3 2.3 0 1 0-4.6 0M396.2 64.4a2.3 2.3 0 1 0 4.6 0a2.3 2.3 0 1 0-4.6 0M280.2 178.0a2.3 2.3 0 1 0 4.6 0a2.3 2.3 0 1 0-4.6 0M355.3 102.1a2.3 2.3 0 1 0 4.6 0a2.3 2.3 0 1 0-4.6 0M285.4 177.9a2.3 2.3 0 1 0 4.6 0a2.3 2.3 0 1 0-4.6 0M304.0 170.8a2.3 2.3 0 1 0 4.6 0a2.3 2.3 0 1 0-4.6 0M284.7 177.8a2.3 2.3 0 1 0 4.6 0a2.3 2.3 0 1 0-4.6 0M335.0 123.4a2.3 2.3 0 1 0 4.6 0a2.3 2.3 0 1 0-4.6 0M320.8 137.0a2.3 2.3 0 1 0 4.6 0a2.3 2.3 0 1 0-4.6 0M331.2 132.5a2.3 2.3 0 1 0 4.6 0a2.3 2.3 0 1 0-4.6 0M312.5 149.2a2.3 2.3 0 1 0 4.6 0a2.3 2.3 0 1 0-4.6 0M347.2 110.3a2.3 2.3 0 1 0 4.6 0a2.3 2.3 0 1 0-4.6 0M419.1 34.6a2.3 2.3 0 1 0 4.6 0a2.3 2.3 0 1 0-4.6 0M421.4 27.0a2.3 2.3 0 1 0 4.6 0a2.3 2.3 0 1 0-4.6 0M318.3 150.3a2.3 2.3 0 1 0 4.6 0a2.3 2.3 0 1 0-4.6 0M369.7 91.0a2.3 2.3 0 1 0 4.6 0a2.3 2.3 0 1 0-4.6 0M439.2 9.6a2.3 2.3 0 1 0 4.6 0a2.3 2.3 0 1 0-4.6 0M364.3 96.1a2.3 2.3 0 1 0 4.6 0a2.3 2.3 0 1 0-4.6 0M332.5 122.0a2.3 2.3 0 1 0 4.6 0a2.3 2.3 0 1 0-4.6 0M343.9 112.9a2.3 2.3 0 1 0 4.6 0a2.3 2.3 0 1 0-4.6 0M334.2 134.5a2.3 2.3 0 1 0 4.6 0a2.3 2.3 0 1 0-4.6 0M347.7 107.5a2.3 2.3 0 1 0 4.6 0a2.3 2.3 0 1 0-4.6 0M312.0 151.1a2.3 2.3 0 1 0 4.6 0a2.3 2.3 0 1 0-4.6 0M290.5 178.3a2.3 2.3 0 1 0 4.6 0a2.3 2.3 0 1 0-4.6 0M279.2 177.4a2.3 2.3 0 1 0 4.6 0a2.3 2.3 0 1 0-4.6 0M394.7 61.3a2.3 2.3 0 1 0 4.6 0a2.3 2.3 0 1 0-4.6 0M311.8 163.3a2.3 2.3 0 1 0 4.6 0a2.3 2.3 0 1 0-4.6 0M334.1 128.2a2.3 2.3 0 1 0 4.6 0a2.3 2.3 0 1 0-4.6 0M303.9 148.5a2.3 2.3 0 1 0 4.6 0a2.3 2.3 0 1 0-4.6 0M324.4 128.7a2.3 2.3 0 1 0 4.6 0a2.3 2.3 0 1 0-4.6 0M438.2 8.7a2.3 2.3 0 1 0 4.6 0a2.3 2.3 0 1 0-4.6 0M317.9 138.9a2.3 2.3 0 1 0 4.6 0a2.3 2.3 0 1 0-4.6 0M429.3 22.4a2.3 2.3 0 1 0 4.6 0a2.3 2.3 0 1 0-4.6 0M298.5 158.7a2.3 2.3 0 1 0 4.6 0a2.3 2.3 0 1 0-4.6 0M329.9 130.0a2.3 2.3 0 1 0 4.6 0a2.3 2.3 0 1 0-4.6 0M295.7 170.2a2.3 2.3 0 1 0 4.6 0a2.3 2.3 0 1 0-4.6 0M319.2 138.5a2.3 2.3 0 1 0 4.6 0a2.3 2.3 0 1 0-4.6 0M331.2 139.1a2.3 2.3 0 1 0 4.6 0a2.3 2.3 0 1 0-4.6 0M307.2 146.0a2.3 2.3 0 1 0 4.6 0a2.3 2.3 0 1 0-4.6 0M297.1 169.4a2.3 2.3 0 1 0 4.6 0a2.3 2.3 0 1 0-4.6 0M438.6 9.9a2.3 2.3 0 1 0 4.6 0a2.3 2.3 0 1 0-4.6 0M326.1 129.2a2.3 2.3 0 1 0 4.6 0a2.3 2.3 0 1 0-4.6 0M314.0 140.4a2.3 2.3 0 1 0 4.6 0a2.3 2.3 0 1 0-4.6 0M347.0 106.4a2.3 2.3 0 1 0 4.6 0a2.3 2.3 0 1 0-4.6 0M283.5 178.1a2.3 2.3 0 1 0 4.6 0a2.3 2.3 0 1 0-4.6 0M367.8 90.1a2.3 2.3 0 1 0 4.6 0a2.3 2.3 0 1 0-4.6 0M303.2 156.9a2.3 2.3 0 1 0 4.6 0a2.3 2.3 0 1 0-4.6 0M315.7 148.3a2.3 2.3 0 1 0 4.6 0a2.3 2.3 0 1 0-4.6 0M290.5 177.9a2.3 2.3 0 1 0 4.6 0a2.3 2.3 0 1 0-4.6 0M298.0 177.9a2.3 2.3 0 1 0 4.6 0a2.3 2.3 0 1 0-4.6 0M332.4 129.5a2.3 2.3 0 1 0 4.6 0a2.3 2.3 0 1 0-4.6 0M291.2 170.0a2.3 2.3 0 1 0 4.6 0a2.3 2.3 0 1 0-4.6 0M442.9 20.4a2.3 2.3 0 1 0 4.6 0a2.3 2.3 0 1 0-4.6 0M326.0 135.7a2.3 2.3 0 1 0 4.6 0a2.3 2.3 0 1 0-4.6 0M409.5 45.4a2.3 2.3 0 1 0 4.6 0a2.3 2.3 0 1 0-4.6 0M407.8 48.5a2.3 2.3 0 1 0 4.6 0a2.3 2.3 0 1 0-4.6 0M331.1 125.0a2.3 2.3 0 1 0 4.6 0a2.3 2.3 0 1 0-4.6 0M332.2 121.3a2.3 2.3 0 1 0 4.6 0a2.3 2.3 0 1 0-4.6 0M391.4 64.8a2.3 2.3 0 1 0 4.6 0a2.3 2.3 0 1 0-4.6 0M331.4 120.2a2.3 2.3 0 1 0 4.6 0a2.3 2.3 0 1 0-4.6 0M332.2 135.1a2.3 2.3 0 1 0 4.6 0a2.3 2.3 0 1 0-4.6 0M352.1 112.4a2.3 2.3 0 1 0 4.6 0a2.3 2.3 0 1 0-4.6 0M285.4 177.4a2.3 2.3 0 1 0 4.6 0a2.3 2.3 0 1 0-4.6 0M319.5 140.8a2.3 2.3 0 1 0 4.6 0a2.3 2.3 0 1 0-4.6 0M285.1 178.4a2.3 2.3 0 1 0 4.6 0a2.3 2.3 0 1 0-4.6 0M293.0 165.5a2.3 2.3 0 1 0 4.6 0a2.3 2.3 0 1 0-4.6 0M431.6 23.1a2.3 2.3 0 1 0 4.6 0a2.3 2.3 0 1 0-4.6 0M307.1 147.6a2.3 2.3 0 1 0 4.6 0a2.3 2.3 0 1 0-4.6 0M299.8 165.3a2.3 2.3 0 1 0 4.6 0a2.3 2.3 0 1 0-4.6 0M426.0 32.0a2.3 2.3 0 1 0 4.6 0a2.3 2.3 0 1 0-4.6 0M289.9 177.9a2.3 2.3 0 1 0 4.6 0a2.3 2.3 0 1 0-4.6 0M286.2 178.0a2.3 2.3 0 1 0 4.6 0a2.3 2.3 0 1 0-4.6 0M343.9 109.0a2.3 2.3 0 1 0 4.6 0a2.3 2.3 0 1 0-4.6 0M290.8 177.9a2.3 2.3 0 1 0 4.6 0a2.3 2.3 0 1 0-4.6 0M302.2 162.9a2.3 2.3 0 1 0 4.6 0a2.3 2.3 0 1 0-4.6 0M374.8 84.6a2.3 2.3 0 1 0 4.6 0a2.3 2.3 0 1 0-4.6 0M301.7 154.0a2.3 2.3 0 1 0 4.6 0a2.3 2.3 0 1 0-4.6 0M335.7 129.0a2.3 2.3 0 1 0 4.6 0a2.3 2.3 0 1 0-4.6 0M334.1 118.5a2.3 2.3 0 1 0 4.6 0a2.3 2.3 0 1 0-4.6 0M328.6 136.1a2.3 2.3 0 1 0 4.6 0a2.3 2.3 0 1 0-4.6 0M282.1 177.8a2.3 2.3 0 1 0 4.6 0a2.3 2.3 0 1 0-4.6 0M369.4 90.2a2.3 2.3 0 1 0 4.6 0a2.3 2.3 0 1 0-4.6 0M344.5 119.3a2.3 2.3 0 1 0 4.6 0a2.3 2.3 0 1 0-4.6 0M286.0 178.4a2.3 2.3 0 1 0 4.6 0a2.3 2.3 0 1 0-4.6 0M320.0 136.9a2.3 2.3 0 1 0 4.6 0a2.3 2.3 0 1 0-4.6 0M316.8 159.4a2.3 2.3 0 1 0 4.6 0a2.3 2.3 0 1 0-4.6 0M388.4 69.4a2.3 2.3 0 1 0 4.6 0a2.3 2.3 0 1 0-4.6 0M303.3 154.3a2.3 2.3 0 1 0 4.6 0a2.3 2.3 0 1 0-4.6 0M358.2 99.8a2.3 2.3 0 1 0 4.6 0a2.3 2.3 0 1 0-4.6 0M357.8 100.1a2.3 2.3 0 1 0 4.6 0a2.3 2.3 0 1 0-4.6 0M330.7 140.3a2.3 2.3 0 1 0 4.6 0a2.3 2.3 0 1 0-4.6 0M331.0 119.9a2.3 2.3 0 1 0 4.6 0a2.3 2.3 0 1 0-4.6 0M307.7 147.7a2.3 2.3 0 1 0 4.6 0a2.3 2.3 0 1 0-4.6 0M336.8 124.8a2.3 2.3 0 1 0 4.6 0a2.3 2.3 0 1 0-4.6 0M298.7 160.4a2.3 2.3 0 1 0 4.6 0a2.3 2.3 0 1 0-4.6 0M340.7 127.5a2.3 2.3 0 1 0 4.6 0a2.3 2.3 0 1 0-4.6 0M428.1 33.0a2.3 2.3 0 1 0 4.6 0a2.3 2.3 0 1 0-4.6 0M361.8 103.0a2.3 2.3 0 1 0 4.6 0a2.3 2.3 0 1 0-4.6 0M332.4 139.5a2.3 2.3 0 1 0 4.6 0a2.3 2.3 0 1 0-4.6 0M422.4 33.7a2.3 2.3 0 1 0 4.6 0a2.3 2.3 0 1 0-4.6 0M315.1 141.9a2.3 2.3 0 1 0 4.6 0a2.3 2.3 0 1 0-4.6 0M313.1 146.2a2.3 2.3 0 1 0 4.6 0a2.3 2.3 0 1 0-4.6 0M419.5 28.4a2.3 2.3 0 1 0 4.6 0a2.3 2.3 0 1 0-4.6 0M285.2 178.2a2.3 2.3 0 1 0 4.6 0a2.3 2.3 0 1 0-4.6 0M353.3 103.2a2.3 2.3 0 1 0 4.6 0a2.3 2.3 0 1 0-4.6 0M302.2 171.2a2.3 2.3 0 1 0 4.6 0a2.3 2.3 0 1 0-4.6 0M334.8 131.3a2.3 2.3 0 1 0 4.6 0a2.3 2.3 0 1 0-4.6 0M320.6 133.0a2.3 2.3 0 1 0 4.6 0a2.3 2.3 0 1 0-4.6 0M284.3 177.8a2.3 2.3 0 1 0 4.6 0a2.3 2.3 0 1 0-4.6 0M433.4 14.1a2.3 2.3 0 1 0 4.6 0a2.3 2.3 0 1 0-4.6 0M348.4 106.7a2.3 2.3 0 1 0 4.6 0a2.3 2.3 0 1 0-4.6 0M409.8 43.9a2.3 2.3 0 1 0 4.6 0a2.3 2.3 0 1 0-4.6 0M375.7 88.6a2.3 2.3 0 1 0 4.6 0a2.3 2.3 0 1 0-4.6 0M284.1 177.8a2.3 2.3 0 1 0 4.6 0a2.3 2.3 0 1 0-4.6 0M307.2 149.8a2.3 2.3 0 1 0 4.6 0a2.3 2.3 0 1 0-4.6 0M286.9 178.0a2.3 2.3 0 1 0 4.6 0a2.3 2.3 0 1 0-4.6 0M415.9 35.7a2.3 2.3 0 1 0 4.6 0a2.3 2.3 0 1 0-4.6 0M316.4 141.6a2.3 2.3 0 1 0 4.6 0a2.3 2.3 0 1 0-4.6 0M291.2 177.4a2.3 2.3 0 1 0 4.6 0a2.3 2.3 0 1 0-4.6 0M299.7 159.2a2.3 2.3 0 1 0 4.6 0a2.3 2.3 0 1 0-4.6 0M300.9 157.1a2.3 2.3 0 1 0 4.6 0a2.3 2.3 0 1 0-4.6 0M360.0 97.4a2.3 2.3 0 1 0 4.6 0a2.3 2.3 0 1 0-4.6 0M294.0 168.0a2.3 2.3 0 1 0 4.6 0a2.3 2.3 0 1 0-4.6 0M349.6 107.2a2.3 2.3 0 1 0 4.6 0a2.3 2.3 0 1 0-4.6 0M346.9 118.5a2.3 2.3 0 1 0 4.6 0a2.3 2.3 0 1 0-4.6 0M335.6 160.0a2.3 2.3 0 1 0 4.6 0a2.3 2.3 0 1 0-4.6 0M388.1 68.4a2.3 2.3 0 1 0 4.6 0a2.3 2.3 0 1 0-4.6 0M296.7 166.9a2.3 2.3 0 1 0 4.6 0a2.3 2.3 0 1 0-4.6 0M419.2 29.2a2.3 2.3 0 1 0 4.6 0a2.3 2.3 0 1 0-4.6 0M300.7 157.2a2.3 2.3 0 1 0 4.6 0a2.3 2.3 0 1 0-4.6 0M284.8 178.0a2.3 2.3 0 1 0 4.6 0a2.3 2.3 0 1 0-4.6 0M327.9 140.3a2.3 2.3 0 1 0 4.6 0a2.3 2.3 0 1 0-4.6 0M337.1 120.5a2.3 2.3 0 1 0 4.6 0a2.3 2.3 0 1 0-4.6 0M338.8 124.4a2.3 2.3 0 1 0 4.6 0a2.3 2.3 0 1 0-4.6 0M278.0 178.3a2.3 2.3 0 1 0 4.6 0a2.3 2.3 0 1 0-4.6 0M309.4 154.5a2.3 2.3 0 1 0 4.6 0a2.3 2.3 0 1 0-4.6 0M300.8 177.9a2.3 2.3 0 1 0 4.6 0a2.3 2.3 0 1 0-4.6 0M363.4 102.7a2.3 2.3 0 1 0 4.6 0a2.3 2.3 0 1 0-4.6 0M320.0 138.9a2.3 2.3 0 1 0 4.6 0a2.3 2.3 0 1 0-4.6 0M304.5 166.4a2.3 2.3 0 1 0 4.6 0a2.3 2.3 0 1 0-4.6 0M351.7 103.3a2.3 2.3 0 1 0 4.6 0a2.3 2.3 0 1 0-4.6 0M322.5 139.8a2.3 2.3 0 1 0 4.6 0a2.3 2.3 0 1 0-4.6 0M411.5 43.5a2.3 2.3 0 1 0 4.6 0a2.3 2.3 0 1 0-4.6 0M296.2 169.9a2.3 2.3 0 1 0 4.6 0a2.3 2.3 0 1 0-4.6 0M381.8 83.7a2.3 2.3 0 1 0 4.6 0a2.3 2.3 0 1 0-4.6 0M358.1 95.0a2.3 2.3 0 1 0 4.6 0a2.3 2.3 0 1 0-4.6 0M360.2 97.3a2.3 2.3 0 1 0 4.6 0a2.3 2.3 0 1 0-4.6 0M340.0 123.6a2.3 2.3 0 1 0 4.6 0a2.3 2.3 0 1 0-4.6 0M320.2 139.9a2.3 2.3 0 1 0 4.6 0a2.3 2.3 0 1 0-4.6 0M315.0 149.9a2.3 2.3 0 1 0 4.6 0a2.3 2.3 0 1 0-4.6 0M379.6 70.1a2.3 2.3 0 1 0 4.6 0a2.3 2.3 0 1 0-4.6 0M295.3 162.1a2.3 2.3 0 1 0 4.6 0a2.3 2.3 0 1 0-4.6 0M281.0 178.6a2.3 2.3 0 1 0 4.6 0a2.3 2.3 0 1 0-4.6 0M368.4 97.8a2.3 2.3 0 1 0 4.6 0a2.3 2.3 0 1 0-4.6 0M297.6 155.5a2.3 2.3 0 1 0 4.6 0a2.3 2.3 0 1 0-4.6 0M322.3 140.3a2.3 2.3 0 1 0 4.6 0a2.3 2.3 0 1 0-4.6 0M322.3 133.9a2.3 2.3 0 1 0 4.6 0a2.3 2.3 0 1 0-4.6 0M284.9 177.6a2.3 2.3 0 1 0 4.6 0a2.3 2.3 0 1 0-4.6 0M328.0 146.7a2.3 2.3 0 1 0 4.6 0a2.3 2.3 0 1 0-4.6 0M287.4 173.7a2.3 2.3 0 1 0 4.6 0a2.3 2.3 0 1 0-4.6 0M358.9 94.3a2.3 2.3 0 1 0 4.6 0a2.3 2.3 0 1 0-4.6 0M317.0 155.9a2.3 2.3 0 1 0 4.6 0a2.3 2.3 0 1 0-4.6 0M352.7 101.6a2.3 2.3 0 1 0 4.6 0a2.3 2.3 0 1 0-4.6 0M280.7 177.9a2.3 2.3 0 1 0 4.6 0a2.3 2.3 0 1 0-4.6 0M372.2 83.8a2.3 2.3 0 1 0 4.6 0a2.3 2.3 0 1 0-4.6 0M436.3 11.1a2.3 2.3 0 1 0 4.6 0a2.3 2.3 0 1 0-4.6 0M294.3 165.4a2.3 2.3 0 1 0 4.6 0a2.3 2.3 0 1 0-4.6 0M344.2 115.2a2.3 2.3 0 1 0 4.6 0a2.3 2.3 0 1 0-4.6 0M378.6 88.9a2.3 2.3 0 1 0 4.6 0a2.3 2.3 0 1 0-4.6 0M303.8 170.9a2.3 2.3 0 1 0 4.6 0a2.3 2.3 0 1 0-4.6 0M296.8 178.1a2.3 2.3 0 1 0 4.6 0a2.3 2.3 0 1 0-4.6 0M426.3 26.8a2.3 2.3 0 1 0 4.6 0a2.3 2.3 0 1 0-4.6 0M321.3 145.5a2.3 2.3 0 1 0 4.6 0a2.3 2.3 0 1 0-4.6 0M295.6 164.2a2.3 2.3 0 1 0 4.6 0a2.3 2.3 0 1 0-4.6 0M335.4 124.4a2.3 2.3 0 1 0 4.6 0a2.3 2.3 0 1 0-4.6 0M286.8 178.1a2.3 2.3 0 1 0 4.6 0a2.3 2.3 0 1 0-4.6 0M321.7 135.7a2.3 2.3 0 1 0 4.6 0a2.3 2.3 0 1 0-4.6 0M290.8 177.8a2.3 2.3 0 1 0 4.6 0a2.3 2.3 0 1 0-4.6 0M302.2 161.6a2.3 2.3 0 1 0 4.6 0a2.3 2.3 0 1 0-4.6 0M408.7 45.5a2.3 2.3 0 1 0 4.6 0a2.3 2.3 0 1 0-4.6 0M301.1 161.1a2.3 2.3 0 1 0 4.6 0a2.3 2.3 0 1 0-4.6 0M318.8 136.3a2.3 2.3 0 1 0 4.6 0a2.3 2.3 0 1 0-4.6 0M323.2 143.7a2.3 2.3 0 1 0 4.6 0a2.3 2.3 0 1 0-4.6 0M324.9 137.0a2.3 2.3 0 1 0 4.6 0a2.3 2.3 0 1 0-4.6 0M299.3 164.5a2.3 2.3 0 1 0 4.6 0a2.3 2.3 0 1 0-4.6 0M360.5 95.3a2.3 2.3 0 1 0 4.6 0a2.3 2.3 0 1 0-4.6 0M290.5 178.1a2.3 2.3 0 1 0 4.6 0a2.3 2.3 0 1 0-4.6 0M286.3 178.0a2.3 2.3 0 1 0 4.6 0a2.3 2.3 0 1 0-4.6 0M356.5 100.6a2.3 2.3 0 1 0 4.6 0a2.3 2.3 0 1 0-4.6 0M356.5 106.6a2.3 2.3 0 1 0 4.6 0a2.3 2.3 0 1 0-4.6 0M297.7 178.0a2.3 2.3 0 1 0 4.6 0a2.3 2.3 0 1 0-4.6 0M337.6 118.4a2.3 2.3 0 1 0 4.6 0a2.3 2.3 0 1 0-4.6 0M300.1 156.0a2.3 2.3 0 1 0 4.6 0a2.3 2.3 0 1 0-4.6 0M338.2 121.2a2.3 2.3 0 1 0 4.6 0a2.3 2.3 0 1 0-4.6 0M283.3 178.1a2.3 2.3 0 1 0 4.6 0a2.3 2.3 0 1 0-4.6 0M328.1 139.1a2.3 2.3 0 1 0 4.6 0a2.3 2.3 0 1 0-4.6 0M315.2 144.7a2.3 2.3 0 1 0 4.6 0a2.3 2.3 0 1 0-4.6 0M352.9 105.7a2.3 2.3 0 1 0 4.6 0a2.3 2.3 0 1 0-4.6 0M334.9 121.9a2.3 2.3 0 1 0 4.6 0a2.3 2.3 0 1 0-4.6 0M358.3 108.4a2.3 2.3 0 1 0 4.6 0a2.3 2.3 0 1 0-4.6 0M359.8 104.3a2.3 2.3 0 1 0 4.6 0a2.3 2.3 0 1 0-4.6 0M289.4 177.9a2.3 2.3 0 1 0 4.6 0a2.3 2.3 0 1 0-4.6 0M287.5 177.8a2.3 2.3 0 1 0 4.6 0a2.3 2.3 0 1 0-4.6 0M317.8 152.1a2.3 2.3 0 1 0 4.6 0a2.3 2.3 0 1 0-4.6 0M364.3 91.3a2.3 2.3 0 1 0 4.6 0a2.3 2.3 0 1 0-4.6 0M289.6 173.6a2.3 2.3 0 1 0 4.6 0a2.3 2.3 0 1 0-4.6 0M336.6 127.2a2.3 2.3 0 1 0 4.6 0a2.3 2.3 0 1 0-4.6 0M303.8 155.8a2.3 2.3 0 1 0 4.6 0a2.3 2.3 0 1 0-4.6 0M322.6 138.0a2.3 2.3 0 1 0 4.6 0a2.3 2.3 0 1 0-4.6 0M332.0 130.3a2.3 2.3 0 1 0 4.6 0a2.3 2.3 0 1 0-4.6 0M300.7 153.0a2.3 2.3 0 1 0 4.6 0a2.3 2.3 0 1 0-4.6 0M309.3 164.9a2.3 2.3 0 1 0 4.6 0a2.3 2.3 0 1 0-4.6 0M353.0 110.6a2.3 2.3 0 1 0 4.6 0a2.3 2.3 0 1 0-4.6 0M317.5 141.2a2.3 2.3 0 1 0 4.6 0a2.3 2.3 0 1 0-4.6 0M341.7 132.5a2.3 2.3 0 1 0 4.6 0a2.3 2.3 0 1 0-4.6 0M295.4 178.0a2.3 2.3 0 1 0 4.6 0a2.3 2.3 0 1 0-4.6 0M293.3 165.3a2.3 2.3 0 1 0 4.6 0a2.3 2.3 0 1 0-4.6 0M280.3 178.1a2.3 2.3 0 1 0 4.6 0a2.3 2.3 0 1 0-4.6 0M408.5 52.0a2.3 2.3 0 1 0 4.6 0a2.3 2.3 0 1 0-4.6 0M314.2 146.3a2.3 2.3 0 1 0 4.6 0a2.3 2.3 0 1 0-4.6 0M355.4 105.6a2.3 2.3 0 1 0 4.6 0a2.3 2.3 0 1 0-4.6 0M327.3 131.1a2.3 2.3 0 1 0 4.6 0a2.3 2.3 0 1 0-4.6 0M342.2 116.0a2.3 2.3 0 1 0 4.6 0a2.3 2.3 0 1 0-4.6 0M278.8 177.7a2.3 2.3 0 1 0 4.6 0a2.3 2.3 0 1 0-4.6 0M297.5 165.7a2.3 2.3 0 1 0 4.6 0a2.3 2.3 0 1 0-4.6 0M277.3 177.3a2.3 2.3 0 1 0 4.6 0a2.3 2.3 0 1 0-4.6 0M384.5 73.5a2.3 2.3 0 1 0 4.6 0a2.3 2.3 0 1 0-4.6 0M285.7 178.1a2.3 2.3 0 1 0 4.6 0a2.3 2.3 0 1 0-4.6 0M286.4 178.3a2.3 2.3 0 1 0 4.6 0a2.3 2.3 0 1 0-4.6 0M292.4 177.6a2.3 2.3 0 1 0 4.6 0a2.3 2.3 0 1 0-4.6 0M366.9 89.4a2.3 2.3 0 1 0 4.6 0a2.3 2.3 0 1 0-4.6 0M321.9 133.0a2.3 2.3 0 1 0 4.6 0a2.3 2.3 0 1 0-4.6 0M307.7 146.7a2.3 2.3 0 1 0 4.6 0a2.3 2.3 0 1 0-4.6 0M390.5 62.1a2.3 2.3 0 1 0 4.6 0a2.3 2.3 0 1 0-4.6 0M318.4 143.1a2.3 2.3 0 1 0 4.6 0a2.3 2.3 0 1 0-4.6 0M373.8 83.5a2.3 2.3 0 1 0 4.6 0a2.3 2.3 0 1 0-4.6 0M330.8 131.5a2.3 2.3 0 1 0 4.6 0a2.3 2.3 0 1 0-4.6 0M408.9 35.2a2.3 2.3 0 1 0 4.6 0a2.3 2.3 0 1 0-4.6 0M315.6 141.3a2.3 2.3 0 1 0 4.6 0a2.3 2.3 0 1 0-4.6 0M310.2 151.5a2.3 2.3 0 1 0 4.6 0a2.3 2.3 0 1 0-4.6 0M283.1 177.9a2.3 2.3 0 1 0 4.6 0a2.3 2.3 0 1 0-4.6 0M318.0 145.0a2.3 2.3 0 1 0 4.6 0a2.3 2.3 0 1 0-4.6 0M315.0 152.4a2.3 2.3 0 1 0 4.6 0a2.3 2.3 0 1 0-4.6 0M335.9 121.4a2.3 2.3 0 1 0 4.6 0a2.3 2.3 0 1 0-4.6 0M314.1 148.6a2.3 2.3 0 1 0 4.6 0a2.3 2.3 0 1 0-4.6 0M384.2 77.5a2.3 2.3 0 1 0 4.6 0a2.3 2.3 0 1 0-4.6 0M289.2 171.8a2.3 2.3 0 1 0 4.6 0a2.3 2.3 0 1 0-4.6 0M295.0 178.1a2.3 2.3 0 1 0 4.6 0a2.3 2.3 0 1 0-4.6 0M379.2 82.6a2.3 2.3 0 1 0 4.6 0a2.3 2.3 0 1 0-4.6 0M285.4 177.5a2.3 2.3 0 1 0 4.6 0a2.3 2.3 0 1 0-4.6 0M288.1 173.3a2.3 2.3 0 1 0 4.6 0a2.3 2.3 0 1 0-4.6 0M379.1 70.2a2.3 2.3 0 1 0 4.6 0a2.3 2.3 0 1 0-4.6 0M294.4 167.5a2.3 2.3 0 1 0 4.6 0a2.3 2.3 0 1 0-4.6 0M387.8 66.9a2.3 2.3 0 1 0 4.6 0a2.3 2.3 0 1 0-4.6 0M306.8 150.9a2.3 2.3 0 1 0 4.6 0a2.3 2.3 0 1 0-4.6 0M334.8 119.0a2.3 2.3 0 1 0 4.6 0a2.3 2.3 0 1 0-4.6 0M339.7 135.4a2.3 2.3 0 1 0 4.6 0a2.3 2.3 0 1 0-4.6 0M329.4 129.6a2.3 2.3 0 1 0 4.6 0a2.3 2.3 0 1 0-4.6 0M324.2 134.3a2.3 2.3 0 1 0 4.6 0a2.3 2.3 0 1 0-4.6 0M356.3 91.7a2.3 2.3 0 1 0 4.6 0a2.3 2.3 0 1 0-4.6 0M367.9 107.4a2.3 2.3 0 1 0 4.6 0a2.3 2.3 0 1 0-4.6 0M289.4 173.8a2.3 2.3 0 1 0 4.6 0a2.3 2.3 0 1 0-4.6 0M429.7 15.2a2.3 2.3 0 1 0 4.6 0a2.3 2.3 0 1 0-4.6 0M367.3 96.7a2.3 2.3 0 1 0 4.6 0a2.3 2.3 0 1 0-4.6 0M319.1 144.1a2.3 2.3 0 1 0 4.6 0a2.3 2.3 0 1 0-4.6 0M295.3 160.3a2.3 2.3 0 1 0 4.6 0a2.3 2.3 0 1 0-4.6 0M324.3 128.2a2.3 2.3 0 1 0 4.6 0a2.3 2.3 0 1 0-4.6 0M300.8 161.7a2.3 2.3 0 1 0 4.6 0a2.3 2.3 0 1 0-4.6 0M390.7 59.0a2.3 2.3 0 1 0 4.6 0a2.3 2.3 0 1 0-4.6 0M328.4 127.1a2.3 2.3 0 1 0 4.6 0a2.3 2.3 0 1 0-4.6 0M331.2 124.3a2.3 2.3 0 1 0 4.6 0a2.3 2.3 0 1 0-4.6 0M310.5 151.3a2.3 2.3 0 1 0 4.6 0a2.3 2.3 0 1 0-4.6 0M328.8 127.9a2.3 2.3 0 1 0 4.6 0a2.3 2.3 0 1 0-4.6 0M303.7 149.2a2.3 2.3 0 1 0 4.6 0a2.3 2.3 0 1 0-4.6 0M414.5 39.4a2.3 2.3 0 1 0 4.6 0a2.3 2.3 0 1 0-4.6 0M313.4 146.8a2.3 2.3 0 1 0 4.6 0a2.3 2.3 0 1 0-4.6 0M386.5 77.7a2.3 2.3 0 1 0 4.6 0a2.3 2.3 0 1 0-4.6 0M326.9 132.5a2.3 2.3 0 1 0 4.6 0a2.3 2.3 0 1 0-4.6 0M437.6 16.1a2.3 2.3 0 1 0 4.6 0a2.3 2.3 0 1 0-4.6 0M291.0 177.6a2.3 2.3 0 1 0 4.6 0a2.3 2.3 0 1 0-4.6 0M313.3 142.4a2.3 2.3 0 1 0 4.6 0a2.3 2.3 0 1 0-4.6 0M388.0 65.9a2.3 2.3 0 1 0 4.6 0a2.3 2.3 0 1 0-4.6 0M286.5 178.2a2.3 2.3 0 1 0 4.6 0a2.3 2.3 0 1 0-4.6 0M324.8 131.2a2.3 2.3 0 1 0 4.6 0a2.3 2.3 0 1 0-4.6 0M309.3 143.7a2.3 2.3 0 1 0 4.6 0a2.3 2.3 0 1 0-4.6 0M342.5 110.7a2.3 2.3 0 1 0 4.6 0a2.3 2.3 0 1 0-4.6 0M288.8 177.5a2.3 2.3 0 1 0 4.6 0a2.3 2.3 0 1 0-4.6 0M326.7 128.9a2.3 2.3 0 1 0 4.6 0a2.3 2.3 0 1 0-4.6 0M295.3 167.3a2.3 2.3 0 1 0 4.6 0a2.3 2.3 0 1 0-4.6 0M365.0 96.3a2.3 2.3 0 1 0 4.6 0a2.3 2.3 0 1 0-4.6 0M373.3 88.6a2.3 2.3 0 1 0 4.6 0a2.3 2.3 0 1 0-4.6 0M390.4 68.9a2.3 2.3 0 1 0 4.6 0a2.3 2.3 0 1 0-4.6 0M369.9 88.5a2.3 2.3 0 1 0 4.6 0a2.3 2.3 0 1 0-4.6 0M324.0 141.1a2.3 2.3 0 1 0 4.6 0a2.3 2.3 0 1 0-4.6 0M291.1 178.2a2.3 2.3 0 1 0 4.6 0a2.3 2.3 0 1 0-4.6 0M286.3 178.3a2.3 2.3 0 1 0 4.6 0a2.3 2.3 0 1 0-4.6 0M304.7 155.4a2.3 2.3 0 1 0 4.6 0a2.3 2.3 0 1 0-4.6 0M309.4 159.0a2.3 2.3 0 1 0 4.6 0a2.3 2.3 0 1 0-4.6 0M366.8 98.4a2.3 2.3 0 1 0 4.6 0a2.3 2.3 0 1 0-4.6 0M320.5 138.8a2.3 2.3 0 1 0 4.6 0a2.3 2.3 0 1 0-4.6 0M395.9 56.8a2.3 2.3 0 1 0 4.6 0a2.3 2.3 0 1 0-4.6 0M290.9 177.6a2.3 2.3 0 1 0 4.6 0a2.3 2.3 0 1 0-4.6 0M285.5 178.0a2.3 2.3 0 1 0 4.6 0a2.3 2.3 0 1 0-4.6 0M295.1 169.6a2.3 2.3 0 1 0 4.6 0a2.3 2.3 0 1 0-4.6 0M363.5 108.0a2.3 2.3 0 1 0 4.6 0a2.3 2.3 0 1 0-4.6 0M330.8 126.7a2.3 2.3 0 1 0 4.6 0a2.3 2.3 0 1 0-4.6 0M396.2 60.0a2.3 2.3 0 1 0 4.6 0a2.3 2.3 0 1 0-4.6 0M330.6 134.4a2.3 2.3 0 1 0 4.6 0a2.3 2.3 0 1 0-4.6 0M327.4 128.7a2.3 2.3 0 1 0 4.6 0a2.3 2.3 0 1 0-4.6 0M324.6 126.4a2.3 2.3 0 1 0 4.6 0a2.3 2.3 0 1 0-4.6 0M288.4 173.5a2.3 2.3 0 1 0 4.6 0a2.3 2.3 0 1 0-4.6 0M324.7 141.2a2.3 2.3 0 1 0 4.6 0a2.3 2.3 0 1 0-4.6 0M321.1 152.8a2.3 2.3 0 1 0 4.6 0a2.3 2.3 0 1 0-4.6 0M277.9 178.1a2.3 2.3 0 1 0 4.6 0a2.3 2.3 0 1 0-4.6 0M410.1 43.8a2.3 2.3 0 1 0 4.6 0a2.3 2.3 0 1 0-4.6 0M335.4 130.6a2.3 2.3 0 1 0 4.6 0a2.3 2.3 0 1 0-4.6 0M339.0 113.6a2.3 2.3 0 1 0 4.6 0a2.3 2.3 0 1 0-4.6 0M357.2 104.9a2.3 2.3 0 1 0 4.6 0a2.3 2.3 0 1 0-4.6 0M312.8 149.1a2.3 2.3 0 1 0 4.6 0a2.3 2.3 0 1 0-4.6 0M283.2 177.3a2.3 2.3 0 1 0 4.6 0a2.3 2.3 0 1 0-4.6 0M347.7 107.3a2.3 2.3 0 1 0 4.6 0a2.3 2.3 0 1 0-4.6 0M347.1 120.9a2.3 2.3 0 1 0 4.6 0a2.3 2.3 0 1 0-4.6 0M346.8 109.4a2.3 2.3 0 1 0 4.6 0a2.3 2.3 0 1 0-4.6 0M320.7 135.9a2.3 2.3 0 1 0 4.6 0a2.3 2.3 0 1 0-4.6 0M335.5 133.4a2.3 2.3 0 1 0 4.6 0a2.3 2.3 0 1 0-4.6 0M277.7 177.7a2.3 2.3 0 1 0 4.6 0a2.3 2.3 0 1 0-4.6 0M292.7 164.6a2.3 2.3 0 1 0 4.6 0a2.3 2.3 0 1 0-4.6 0M304.0 162.1a2.3 2.3 0 1 0 4.6 0a2.3 2.3 0 1 0-4.6 0M286.3 177.6a2.3 2.3 0 1 0 4.6 0a2.3 2.3 0 1 0-4.6 0M328.6 129.6a2.3 2.3 0 1 0 4.6 0a2.3 2.3 0 1 0-4.6 0M396.8 58.1a2.3 2.3 0 1 0 4.6 0a2.3 2.3 0 1 0-4.6 0M285.2 177.5a2.3 2.3 0 1 0 4.6 0a2.3 2.3 0 1 0-4.6 0M383.2 75.8a2.3 2.3 0 1 0 4.6 0a2.3 2.3 0 1 0-4.6 0M331.1 134.0a2.3 2.3 0 1 0 4.6 0a2.3 2.3 0 1 0-4.6 0M359.3 98.7a2.3 2.3 0 1 0 4.6 0a2.3 2.3 0 1 0-4.6 0M342.9 113.0a2.3 2.3 0 1 0 4.6 0a2.3 2.3 0 1 0-4.6 0M358.2 98.0a2.3 2.3 0 1 0 4.6 0a2.3 2.3 0 1 0-4.6 0M289.4 177.8a2.3 2.3 0 1 0 4.6 0a2.3 2.3 0 1 0-4.6 0M287.3 173.5a2.3 2.3 0 1 0 4.6 0a2.3 2.3 0 1 0-4.6 0M292.6 178.1a2.3 2.3 0 1 0 4.6 0a2.3 2.3 0 1 0-4.6 0M325.4 131.3a2.3 2.3 0 1 0 4.6 0a2.3 2.3 0 1 0-4.6 0M336.0 145.8a2.3 2.3 0 1 0 4.6 0a2.3 2.3 0 1 0-4.6 0M287.1 178.4a2.3 2.3 0 1 0 4.6 0a2.3 2.3 0 1 0-4.6 0M322.3 136.5a2.3 2.3 0 1 0 4.6 0a2.3 2.3 0 1 0-4.6 0M418.4 31.3a2.3 2.3 0 1 0 4.6 0a2.3 2.3 0 1 0-4.6 0M287.6 178.4a2.3 2.3 0 1 0 4.6 0a2.3 2.3 0 1 0-4.6 0M409.7 47.8a2.3 2.3 0 1 0 4.6 0a2.3 2.3 0 1 0-4.6 0M333.3 127.9a2.3 2.3 0 1 0 4.6 0a2.3 2.3 0 1 0-4.6 0M282.5 177.7a2.3 2.3 0 1 0 4.6 0a2.3 2.3 0 1 0-4.6 0M394.8 58.5a2.3 2.3 0 1 0 4.6 0a2.3 2.3 0 1 0-4.6 0M281.7 178.3a2.3 2.3 0 1 0 4.6 0a2.3 2.3 0 1 0-4.6 0M342.9 119.5a2.3 2.3 0 1 0 4.6 0a2.3 2.3 0 1 0-4.6 0M311.7 160.2a2.3 2.3 0 1 0 4.6 0a2.3 2.3 0 1 0-4.6 0M344.1 120.5a2.3 2.3 0 1 0 4.6 0a2.3 2.3 0 1 0-4.6 0M323.9 135.5a2.3 2.3 0 1 0 4.6 0a2.3 2.3 0 1 0-4.6 0M331.1 123.9a2.3 2.3 0 1 0 4.6 0a2.3 2.3 0 1 0-4.6 0M339.3 117.7a2.3 2.3 0 1 0 4.6 0a2.3 2.3 0 1 0-4.6 0M316.6 141.4a2.3 2.3 0 1 0 4.6 0a2.3 2.3 0 1 0-4.6 0M298.6 156.3a2.3 2.3 0 1 0 4.6 0a2.3 2.3 0 1 0-4.6 0M285.4 178.2a2.3 2.3 0 1 0 4.6 0a2.3 2.3 0 1 0-4.6 0M346.1 128.5a2.3 2.3 0 1 0 4.6 0a2.3 2.3 0 1 0-4.6 0M320.6 134.9a2.3 2.3 0 1 0 4.6 0a2.3 2.3 0 1 0-4.6 0M343.7 109.5a2.3 2.3 0 1 0 4.6 0a2.3 2.3 0 1 0-4.6 0M313.5 152.3a2.3 2.3 0 1 0 4.6 0a2.3 2.3 0 1 0-4.6 0M343.3 117.4a2.3 2.3 0 1 0 4.6 0a2.3 2.3 0 1 0-4.6 0M292.2 171.1a2.3 2.3 0 1 0 4.6 0a2.3 2.3 0 1 0-4.6 0M300.2 163.0a2.3 2.3 0 1 0 4.6 0a2.3 2.3 0 1 0-4.6 0M372.5 90.6a2.3 2.3 0 1 0 4.6 0a2.3 2.3 0 1 0-4.6 0M290.4 171.5a2.3 2.3 0 1 0 4.6 0a2.3 2.3 0 1 0-4.6 0M417.7 33.1a2.3 2.3 0 1 0 4.6 0a2.3 2.3 0 1 0-4.6 0M289.6 177.9a2.3 2.3 0 1 0 4.6 0a2.3 2.3 0 1 0-4.6 0M318.8 146.1a2.3 2.3 0 1 0 4.6 0a2.3 2.3 0 1 0-4.6 0M277.1 178.2a2.3 2.3 0 1 0 4.6 0a2.3 2.3 0 1 0-4.6 0M323.5 148.9a2.3 2.3 0 1 0 4.6 0a2.3 2.3 0 1 0-4.6 0M322.1 148.9a2.3 2.3 0 1 0 4.6 0a2.3 2.3 0 1 0-4.6 0M312.2 152.8a2.3 2.3 0 1 0 4.6 0a2.3 2.3 0 1 0-4.6 0M309.4 150.8a2.3 2.3 0 1 0 4.6 0a2.3 2.3 0 1 0-4.6 0M300.3 161.5a2.3 2.3 0 1 0 4.6 0a2.3 2.3 0 1 0-4.6 0M345.2 115.0a2.3 2.3 0 1 0 4.6 0a2.3 2.3 0 1 0-4.6 0M322.4 137.8a2.3 2.3 0 1 0 4.6 0a2.3 2.3 0 1 0-4.6 0M355.5 102.0a2.3 2.3 0 1 0 4.6 0a2.3 2.3 0 1 0-4.6 0M420.6 33.5a2.3 2.3 0 1 0 4.6 0a2.3 2.3 0 1 0-4.6 0M321.0 136.3a2.3 2.3 0 1 0 4.6 0a2.3 2.3 0 1 0-4.6 0M285.2 178.1a2.3 2.3 0 1 0 4.6 0a2.3 2.3 0 1 0-4.6 0M329.9 128.4a2.3 2.3 0 1 0 4.6 0a2.3 2.3 0 1 0-4.6 0M301.5 155.4a2.3 2.3 0 1 0 4.6 0a2.3 2.3 0 1 0-4.6 0M289.8 177.6a2.3 2.3 0 1 0 4.6 0a2.3 2.3 0 1 0-4.6 0M316.7 141.9a2.3 2.3 0 1 0 4.6 0a2.3 2.3 0 1 0-4.6 0M339.0 122.9a2.3 2.3 0 1 0 4.6 0a2.3 2.3 0 1 0-4.6 0M335.0 128.3a2.3 2.3 0 1 0 4.6 0a2.3 2.3 0 1 0-4.6 0M291.7 178.1a2.3 2.3 0 1 0 4.6 0a2.3 2.3 0 1 0-4.6 0M331.8 127.0a2.3 2.3 0 1 0 4.6 0a2.3 2.3 0 1 0-4.6 0M425.3 26.3a2.3 2.3 0 1 0 4.6 0a2.3 2.3 0 1 0-4.6 0M327.1 132.4a2.3 2.3 0 1 0 4.6 0a2.3 2.3 0 1 0-4.6 0M291.6 166.5a2.3 2.3 0 1 0 4.6 0a2.3 2.3 0 1 0-4.6 0M320.5 129.5a2.3 2.3 0 1 0 4.6 0a2.3 2.3 0 1 0-4.6 0M305.0 151.0a2.3 2.3 0 1 0 4.6 0a2.3 2.3 0 1 0-4.6 0M348.1 107.7a2.3 2.3 0 1 0 4.6 0a2.3 2.3 0 1 0-4.6 0M288.5 177.7a2.3 2.3 0 1 0 4.6 0a2.3 2.3 0 1 0-4.6 0M300.3 159.9a2.3 2.3 0 1 0 4.6 0a2.3 2.3 0 1 0-4.6 0M306.0 149.8a2.3 2.3 0 1 0 4.6 0a2.3 2.3 0 1 0-4.6 0M294.1 166.8a2.3 2.3 0 1 0 4.6 0a2.3 2.3 0 1 0-4.6 0M344.4 120.5a2.3 2.3 0 1 0 4.6 0a2.3 2.3 0 1 0-4.6 0M331.8 130.4a2.3 2.3 0 1 0 4.6 0a2.3 2.3 0 1 0-4.6 0M427.7 26.5a2.3 2.3 0 1 0 4.6 0a2.3 2.3 0 1 0-4.6 0M308.1 147.7a2.3 2.3 0 1 0 4.6 0a2.3 2.3 0 1 0-4.6 0M278.9 177.6a2.3 2.3 0 1 0 4.6 0a2.3 2.3 0 1 0-4.6 0M297.1 164.0a2.3 2.3 0 1 0 4.6 0a2.3 2.3 0 1 0-4.6 0M356.5 97.5a2.3 2.3 0 1 0 4.6 0a2.3 2.3 0 1 0-4.6 0M357.2 96.8a2.3 2.3 0 1 0 4.6 0a2.3 2.3 0 1 0-4.6 0M332.6 128.5a2.3 2.3 0 1 0 4.6 0a2.3 2.3 0 1 0-4.6 0M305.6 153.5a2.3 2.3 0 1 0 4.6 0a2.3 2.3 0 1 0-4.6 0M371.8 77.9a2.3 2.3 0 1 0 4.6 0a2.3 2.3 0 1 0-4.6 0M353.4 118.3a2.3 2.3 0 1 0 4.6 0a2.3 2.3 0 1 0-4.6 0M298.8 159.6a2.3 2.3 0 1 0 4.6 0a2.3 2.3 0 1 0-4.6 0M298.4 157.9a2.3 2.3 0 1 0 4.6 0a2.3 2.3 0 1 0-4.6 0M336.5 116.5a2.3 2.3 0 1 0 4.6 0a2.3 2.3 0 1 0-4.6 0M352.6 107.1a2.3 2.3 0 1 0 4.6 0a2.3 2.3 0 1 0-4.6 0M313.2 138.6a2.3 2.3 0 1 0 4.6 0a2.3 2.3 0 1 0-4.6 0M285.6 177.9a2.3 2.3 0 1 0 4.6 0a2.3 2.3 0 1 0-4.6 0M288.7 173.8a2.3 2.3 0 1 0 4.6 0a2.3 2.3 0 1 0-4.6 0M340.8 122.3a2.3 2.3 0 1 0 4.6 0a2.3 2.3 0 1 0-4.6 0M314.9 143.9a2.3 2.3 0 1 0 4.6 0a2.3 2.3 0 1 0-4.6 0M283.6 177.7a2.3 2.3 0 1 0 4.6 0a2.3 2.3 0 1 0-4.6 0M412.2 36.8a2.3 2.3 0 1 0 4.6 0a2.3 2.3 0 1 0-4.6 0M301.8 163.1a2.3 2.3 0 1 0 4.6 0a2.3 2.3 0 1 0-4.6 0M296.2 177.9a2.3 2.3 0 1 0 4.6 0a2.3 2.3 0 1 0-4.6 0M332.3 133.1a2.3 2.3 0 1 0 4.6 0a2.3 2.3 0 1 0-4.6 0M325.5 139.8a2.3 2.3 0 1 0 4.6 0a2.3 2.3 0 1 0-4.6 0M317.9 139.8a2.3 2.3 0 1 0 4.6 0a2.3 2.3 0 1 0-4.6 0M291.1 169.1a2.3 2.3 0 1 0 4.6 0a2.3 2.3 0 1 0-4.6 0M373.2 84.6a2.3 2.3 0 1 0 4.6 0a2.3 2.3 0 1 0-4.6 0M280.3 177.7a2.3 2.3 0 1 0 4.6 0a2.3 2.3 0 1 0-4.6 0M297.9 166.2a2.3 2.3 0 1 0 4.6 0a2.3 2.3 0 1 0-4.6 0M392.8 62.1a2.3 2.3 0 1 0 4.6 0a2.3 2.3 0 1 0-4.6 0M280.0 177.1a2.3 2.3 0 1 0 4.6 0a2.3 2.3 0 1 0-4.6 0M289.1 177.4a2.3 2.3 0 1 0 4.6 0a2.3 2.3 0 1 0-4.6 0M329.3 138.2a2.3 2.3 0 1 0 4.6 0a2.3 2.3 0 1 0-4.6 0M280.9 178.1a2.3 2.3 0 1 0 4.6 0a2.3 2.3 0 1 0-4.6 0M388.6 68.4a2.3 2.3 0 1 0 4.6 0a2.3 2.3 0 1 0-4.6 0M324.5 134.9a2.3 2.3 0 1 0 4.6 0a2.3 2.3 0 1 0-4.6 0M296.1 177.8a2.3 2.3 0 1 0 4.6 0a2.3 2.3 0 1 0-4.6 0M304.0 162.0a2.3 2.3 0 1 0 4.6 0a2.3 2.3 0 1 0-4.6 0M313.9 142.6a2.3 2.3 0 1 0 4.6 0a2.3 2.3 0 1 0-4.6 0M441.1 7.9a2.3 2.3 0 1 0 4.6 0a2.3 2.3 0 1 0-4.6 0M302.9 150.8a2.3 2.3 0 1 0 4.6 0a2.3 2.3 0 1 0-4.6 0M344.2 109.9a2.3 2.3 0 1 0 4.6 0a2.3 2.3 0 1 0-4.6 0M287.6 169.6a2.3 2.3 0 1 0 4.6 0a2.3 2.3 0 1 0-4.6 0M332.6 128.8a2.3 2.3 0 1 0 4.6 0a2.3 2.3 0 1 0-4.6 0M361.9 91.4a2.3 2.3 0 1 0 4.6 0a2.3 2.3 0 1 0-4.6 0M325.3 135.0a2.3 2.3 0 1 0 4.6 0a2.3 2.3 0 1 0-4.6 0M277.2 177.8a2.3 2.3 0 1 0 4.6 0a2.3 2.3 0 1 0-4.6 0M327.3 132.7a2.3 2.3 0 1 0 4.6 0a2.3 2.3 0 1 0-4.6 0M334.0 127.2a2.3 2.3 0 1 0 4.6 0a2.3 2.3 0 1 0-4.6 0M423.3 31.4a2.3 2.3 0 1 0 4.6 0a2.3 2.3 0 1 0-4.6 0M355.1 99.6a2.3 2.3 0 1 0 4.6 0a2.3 2.3 0 1 0-4.6 0M314.0 143.8a2.3 2.3 0 1 0 4.6 0a2.3 2.3 0 1 0-4.6 0M317.8 145.9a2.3 2.3 0 1 0 4.6 0a2.3 2.3 0 1 0-4.6 0M284.7 178.6a2.3 2.3 0 1 0 4.6 0a2.3 2.3 0 1 0-4.6 0M346.1 125.1a2.3 2.3 0 1 0 4.6 0a2.3 2.3 0 1 0-4.6 0M309.3 147.3a2.3 2.3 0 1 0 4.6 0a2.3 2.3 0 1 0-4.6 0M409.0 48.5a2.3 2.3 0 1 0 4.6 0a2.3 2.3 0 1 0-4.6 0M417.8 34.7a2.3 2.3 0 1 0 4.6 0a2.3 2.3 0 1 0-4.6 0M413.8 35.4a2.3 2.3 0 1 0 4.6 0a2.3 2.3 0 1 0-4.6 0M355.2 99.6a2.3 2.3 0 1 0 4.6 0a2.3 2.3 0 1 0-4.6 0M281.6 178.2a2.3 2.3 0 1 0 4.6 0a2.3 2.3 0 1 0-4.6 0M291.9 165.8a2.3 2.3 0 1 0 4.6 0a2.3 2.3 0 1 0-4.6 0M296.5 158.1a2.3 2.3 0 1 0 4.6 0a2.3 2.3 0 1 0-4.6 0M338.2 123.4a2.3 2.3 0 1 0 4.6 0a2.3 2.3 0 1 0-4.6 0M296.6 168.7a2.3 2.3 0 1 0 4.6 0a2.3 2.3 0 1 0-4.6 0M312.2 146.7a2.3 2.3 0 1 0 4.6 0a2.3 2.3 0 1 0-4.6 0M391.9 66.5a2.3 2.3 0 1 0 4.6 0a2.3 2.3 0 1 0-4.6 0M287.9 173.0a2.3 2.3 0 1 0 4.6 0a2.3 2.3 0 1 0-4.6 0M298.1 163.5a2.3 2.3 0 1 0 4.6 0a2.3 2.3 0 1 0-4.6 0M388.9 68.5a2.3 2.3 0 1 0 4.6 0a2.3 2.3 0 1 0-4.6 0M338.2 130.7a2.3 2.3 0 1 0 4.6 0a2.3 2.3 0 1 0-4.6 0M291.0 170.8a2.3 2.3 0 1 0 4.6 0a2.3 2.3 0 1 0-4.6 0M396.9 50.2a2.3 2.3 0 1 0 4.6 0a2.3 2.3 0 1 0-4.6 0M332.1 124.5a2.3 2.3 0 1 0 4.6 0a2.3 2.3 0 1 0-4.6 0M343.8 120.3a2.3 2.3 0 1 0 4.6 0a2.3 2.3 0 1 0-4.6 0M359.5 107.3a2.3 2.3 0 1 0 4.6 0a2.3 2.3 0 1 0-4.6 0M335.7 127.9a2.3 2.3 0 1 0 4.6 0a2.3 2.3 0 1 0-4.6 0M307.6 149.5a2.3 2.3 0 1 0 4.6 0a2.3 2.3 0 1 0-4.6 0M336.8 131.4a2.3 2.3 0 1 0 4.6 0a2.3 2.3 0 1 0-4.6 0M401.4 49.1a2.3 2.3 0 1 0 4.6 0a2.3 2.3 0 1 0-4.6 0M317.7 139.1a2.3 2.3 0 1 0 4.6 0a2.3 2.3 0 1 0-4.6 0M363.3 89.3a2.3 2.3 0 1 0 4.6 0a2.3 2.3 0 1 0-4.6 0M319.6 142.6a2.3 2.3 0 1 0 4.6 0a2.3 2.3 0 1 0-4.6 0M400.1 56.8a2.3 2.3 0 1 0 4.6 0a2.3 2.3 0 1 0-4.6 0M424.4 24.2a2.3 2.3 0 1 0 4.6 0a2.3 2.3 0 1 0-4.6 0M344.4 114.1a2.3 2.3 0 1 0 4.6 0a2.3 2.3 0 1 0-4.6 0M350.3 112.2a2.3 2.3 0 1 0 4.6 0a2.3 2.3 0 1 0-4.6 0M405.2 55.4a2.3 2.3 0 1 0 4.6 0a2.3 2.3 0 1 0-4.6 0M402.5 49.2a2.3 2.3 0 1 0 4.6 0a2.3 2.3 0 1 0-4.6 0M386.6 68.7a2.3 2.3 0 1 0 4.6 0a2.3 2.3 0 1 0-4.6 0M302.3 158.8a2.3 2.3 0 1 0 4.6 0a2.3 2.3 0 1 0-4.6 0M311.1 156.8a2.3 2.3 0 1 0 4.6 0a2.3 2.3 0 1 0-4.6 0M284.4 178.2a2.3 2.3 0 1 0 4.6 0a2.3 2.3 0 1 0-4.6 0M287.0 177.7a2.3 2.3 0 1 0 4.6 0a2.3 2.3 0 1 0-4.6 0M382.6 70.9a2.3 2.3 0 1 0 4.6 0a2.3 2.3 0 1 0-4.6 0M407.1 45.0a2.3 2.3 0 1 0 4.6 0a2.3 2.3 0 1 0-4.6 0M305.4 150.7a2.3 2.3 0 1 0 4.6 0a2.3 2.3 0 1 0-4.6 0M328.3 142.7a2.3 2.3 0 1 0 4.6 0a2.3 2.3 0 1 0-4.6 0M350.6 105.6a2.3 2.3 0 1 0 4.6 0a2.3 2.3 0 1 0-4.6 0M282.4 177.6a2.3 2.3 0 1 0 4.6 0a2.3 2.3 0 1 0-4.6 0M326.6 129.3a2.3 2.3 0 1 0 4.6 0a2.3 2.3 0 1 0-4.6 0M284.9 177.5a2.3 2.3 0 1 0 4.6 0a2.3 2.3 0 1 0-4.6 0M314.2 145.1a2.3 2.3 0 1 0 4.6 0a2.3 2.3 0 1 0-4.6 0M300.8 159.4a2.3 2.3 0 1 0 4.6 0a2.3 2.3 0 1 0-4.6 0M313.0 143.0a2.3 2.3 0 1 0 4.6 0a2.3 2.3 0 1 0-4.6 0M281.7 177.5a2.3 2.3 0 1 0 4.6 0a2.3 2.3 0 1 0-4.6 0M293.7 163.9a2.3 2.3 0 1 0 4.6 0a2.3 2.3 0 1 0-4.6 0M411.4 38.1a2.3 2.3 0 1 0 4.6 0a2.3 2.3 0 1 0-4.6 0M284.9 178.2a2.3 2.3 0 1 0 4.6 0a2.3 2.3 0 1 0-4.6 0M281.2 178.3a2.3 2.3 0 1 0 4.6 0a2.3 2.3 0 1 0-4.6 0M293.6 173.3a2.3 2.3 0 1 0 4.6 0a2.3 2.3 0 1 0-4.6 0M278.2 178.2a2.3 2.3 0 1 0 4.6 0a2.3 2.3 0 1 0-4.6 0M316.7 151.6a2.3 2.3 0 1 0 4.6 0a2.3 2.3 0 1 0-4.6 0M385.1 70.5a2.3 2.3 0 1 0 4.6 0a2.3 2.3 0 1 0-4.6 0M343.9 112.7a2.3 2.3 0 1 0 4.6 0a2.3 2.3 0 1 0-4.6 0M429.6 23.1a2.3 2.3 0 1 0 4.6 0a2.3 2.3 0 1 0-4.6 0M381.6 76.3a2.3 2.3 0 1 0 4.6 0a2.3 2.3 0 1 0-4.6 0M327.6 127.5a2.3 2.3 0 1 0 4.6 0a2.3 2.3 0 1 0-4.6 0M395.0 62.3a2.3 2.3 0 1 0 4.6 0a2.3 2.3 0 1 0-4.6 0M299.1 161.3a2.3 2.3 0 1 0 4.6 0a2.3 2.3 0 1 0-4.6 0M316.8 143.7a2.3 2.3 0 1 0 4.6 0a2.3 2.3 0 1 0-4.6 0M282.3 178.1a2.3 2.3 0 1 0 4.6 0a2.3 2.3 0 1 0-4.6 0M336.5 126.0a2.3 2.3 0 1 0 4.6 0a2.3 2.3 0 1 0-4.6 0M325.7 132.2a2.3 2.3 0 1 0 4.6 0a2.3 2.3 0 1 0-4.6 0M307.8 158.4a2.3 2.3 0 1 0 4.6 0a2.3 2.3 0 1 0-4.6 0M320.8 132.3a2.3 2.3 0 1 0 4.6 0a2.3 2.3 0 1 0-4.6 0M344.5 113.0a2.3 2.3 0 1 0 4.6 0a2.3 2.3 0 1 0-4.6 0M404.3 44.6a2.3 2.3 0 1 0 4.6 0a2.3 2.3 0 1 0-4.6 0M399.7 53.8a2.3 2.3 0 1 0 4.6 0a2.3 2.3 0 1 0-4.6 0M320.9 146.7a2.3 2.3 0 1 0 4.6 0a2.3 2.3 0 1 0-4.6 0M376.9 76.6a2.3 2.3 0 1 0 4.6 0a2.3 2.3 0 1 0-4.6 0M348.2 117.3a2.3 2.3 0 1 0 4.6 0a2.3 2.3 0 1 0-4.6 0M316.7 143.6a2.3 2.3 0 1 0 4.6 0a2.3 2.3 0 1 0-4.6 0M372.3 86.5a2.3 2.3 0 1 0 4.6 0a2.3 2.3 0 1 0-4.6 0M319.9 140.0a2.3 2.3 0 1 0 4.6 0a2.3 2.3 0 1 0-4.6 0M337.1 113.2a2.3 2.3 0 1 0 4.6 0a2.3 2.3 0 1 0-4.6 0M328.7 130.2a2.3 2.3 0 1 0 4.6 0a2.3 2.3 0 1 0-4.6 0M331.5 121.9a2.3 2.3 0 1 0 4.6 0a2.3 2.3 0 1 0-4.6 0M281.8 177.6a2.3 2.3 0 1 0 4.6 0a2.3 2.3 0 1 0-4.6 0M284.0 178.1a2.3 2.3 0 1 0 4.6 0a2.3 2.3 0 1 0-4.6 0M299.2 177.3a2.3 2.3 0 1 0 4.6 0a2.3 2.3 0 1 0-4.6 0M293.5 177.9a2.3 2.3 0 1 0 4.6 0a2.3 2.3 0 1 0-4.6 0M296.7 159.7a2.3 2.3 0 1 0 4.6 0a2.3 2.3 0 1 0-4.6 0M304.7 154.5a2.3 2.3 0 1 0 4.6 0a2.3 2.3 0 1 0-4.6 0M303.7 152.5a2.3 2.3 0 1 0 4.6 0a2.3 2.3 0 1 0-4.6 0M286.2 174.0a2.3 2.3 0 1 0 4.6 0a2.3 2.3 0 1 0-4.6 0M334.1 126.3a2.3 2.3 0 1 0 4.6 0a2.3 2.3 0 1 0-4.6 0M350.6 107.2a2.3 2.3 0 1 0 4.6 0a2.3 2.3 0 1 0-4.6 0M358.7 114.9a2.3 2.3 0 1 0 4.6 0a2.3 2.3 0 1 0-4.6 0M381.2 74.1a2.3 2.3 0 1 0 4.6 0a2.3 2.3 0 1 0-4.6 0M332.8 122.9a2.3 2.3 0 1 0 4.6 0a2.3 2.3 0 1 0-4.6 0M357.3 102.9a2.3 2.3 0 1 0 4.6 0a2.3 2.3 0 1 0-4.6 0M368.0 91.8a2.3 2.3 0 1 0 4.6 0a2.3 2.3 0 1 0-4.6 0M288.6 178.0a2.3 2.3 0 1 0 4.6 0a2.3 2.3 0 1 0-4.6 0M396.9 61.5a2.3 2.3 0 1 0 4.6 0a2.3 2.3 0 1 0-4.6 0M346.0 111.6a2.3 2.3 0 1 0 4.6 0a2.3 2.3 0 1 0-4.6 0M388.8 63.8a2.3 2.3 0 1 0 4.6 0a2.3 2.3 0 1 0-4.6 0M296.9 171.9a2.3 2.3 0 1 0 4.6 0a2.3 2.3 0 1 0-4.6 0M341.1 117.2a2.3 2.3 0 1 0 4.6 0a2.3 2.3 0 1 0-4.6 0M306.0 150.6a2.3 2.3 0 1 0 4.6 0a2.3 2.3 0 1 0-4.6 0M333.9 125.9a2.3 2.3 0 1 0 4.6 0a2.3 2.3 0 1 0-4.6 0M302.9 166.7a2.3 2.3 0 1 0 4.6 0a2.3 2.3 0 1 0-4.6 0M332.5 122.0a2.3 2.3 0 1 0 4.6 0a2.3 2.3 0 1 0-4.6 0M322.3 136.5a2.3 2.3 0 1 0 4.6 0a2.3 2.3 0 1 0-4.6 0M372.6 80.5a2.3 2.3 0 1 0 4.6 0a2.3 2.3 0 1 0-4.6 0M292.6 170.6a2.3 2.3 0 1 0 4.6 0a2.3 2.3 0 1 0-4.6 0M338.0 132.8a2.3 2.3 0 1 0 4.6 0a2.3 2.3 0 1 0-4.6 0M287.1 178.0a2.3 2.3 0 1 0 4.6 0a2.3 2.3 0 1 0-4.6 0M318.3 135.0a2.3 2.3 0 1 0 4.6 0a2.3 2.3 0 1 0-4.6 0M330.5 129.7a2.3 2.3 0 1 0 4.6 0a2.3 2.3 0 1 0-4.6 0M327.6 128.6a2.3 2.3 0 1 0 4.6 0a2.3 2.3 0 1 0-4.6 0M397.8 54.2a2.3 2.3 0 1 0 4.6 0a2.3 2.3 0 1 0-4.6 0M404.6 49.2a2.3 2.3 0 1 0 4.6 0a2.3 2.3 0 1 0-4.6 0M403.3 57.0a2.3 2.3 0 1 0 4.6 0a2.3 2.3 0 1 0-4.6 0M377.2 77.2a2.3 2.3 0 1 0 4.6 0a2.3 2.3 0 1 0-4.6 0M390.7 71.3a2.3 2.3 0 1 0 4.6 0a2.3 2.3 0 1 0-4.6 0M281.7 177.6a2.3 2.3 0 1 0 4.6 0a2.3 2.3 0 1 0-4.6 0M386.3 69.7a2.3 2.3 0 1 0 4.6 0a2.3 2.3 0 1 0-4.6 0M327.1 137.0a2.3 2.3 0 1 0 4.6 0a2.3 2.3 0 1 0-4.6 0M394.6 56.7a2.3 2.3 0 1 0 4.6 0a2.3 2.3 0 1 0-4.6 0M311.3 141.8a2.3 2.3 0 1 0 4.6 0a2.3 2.3 0 1 0-4.6 0M309.1 151.1a2.3 2.3 0 1 0 4.6 0a2.3 2.3 0 1 0-4.6 0M305.8 159.0a2.3 2.3 0 1 0 4.6 0a2.3 2.3 0 1 0-4.6 0M305.6 170.0a2.3 2.3 0 1 0 4.6 0a2.3 2.3 0 1 0-4.6 0M296.0 173.6a2.3 2.3 0 1 0 4.6 0a2.3 2.3 0 1 0-4.6 0M419.1 37.6a2.3 2.3 0 1 0 4.6 0a2.3 2.3 0 1 0-4.6 0M333.9 127.5a2.3 2.3 0 1 0 4.6 0a2.3 2.3 0 1 0-4.6 0M299.7 164.0a2.3 2.3 0 1 0 4.6 0a2.3 2.3 0 1 0-4.6 0M358.7 94.6a2.3 2.3 0 1 0 4.6 0a2.3 2.3 0 1 0-4.6 0M408.4 53.6a2.3 2.3 0 1 0 4.6 0a2.3 2.3 0 1 0-4.6 0M352.4 106.2a2.3 2.3 0 1 0 4.6 0a2.3 2.3 0 1 0-4.6 0M302.7 158.8a2.3 2.3 0 1 0 4.6 0a2.3 2.3 0 1 0-4.6 0M314.2 138.1a2.3 2.3 0 1 0 4.6 0a2.3 2.3 0 1 0-4.6 0M303.7 151.4a2.3 2.3 0 1 0 4.6 0a2.3 2.3 0 1 0-4.6 0M339.8 113.4a2.3 2.3 0 1 0 4.6 0a2.3 2.3 0 1 0-4.6 0M423.3 27.2a2.3 2.3 0 1 0 4.6 0a2.3 2.3 0 1 0-4.6 0M294.3 168.3a2.3 2.3 0 1 0 4.6 0a2.3 2.3 0 1 0-4.6 0M316.9 136.4a2.3 2.3 0 1 0 4.6 0a2.3 2.3 0 1 0-4.6 0M332.1 122.1a2.3 2.3 0 1 0 4.6 0a2.3 2.3 0 1 0-4.6 0M356.1 105.6a2.3 2.3 0 1 0 4.6 0a2.3 2.3 0 1 0-4.6 0M291.0 172.8a2.3 2.3 0 1 0 4.6 0a2.3 2.3 0 1 0-4.6 0M301.4 154.8a2.3 2.3 0 1 0 4.6 0a2.3 2.3 0 1 0-4.6 0M303.1 171.0a2.3 2.3 0 1 0 4.6 0a2.3 2.3 0 1 0-4.6 0M297.8 167.5a2.3 2.3 0 1 0 4.6 0a2.3 2.3 0 1 0-4.6 0M332.0 124.2a2.3 2.3 0 1 0 4.6 0a2.3 2.3 0 1 0-4.6 0M356.9 99.4a2.3 2.3 0 1 0 4.6 0a2.3 2.3 0 1 0-4.6 0M285.0 177.3a2.3 2.3 0 1 0 4.6 0a2.3 2.3 0 1 0-4.6 0M323.6 133.3a2.3 2.3 0 1 0 4.6 0a2.3 2.3 0 1 0-4.6 0M315.9 143.7a2.3 2.3 0 1 0 4.6 0a2.3 2.3 0 1 0-4.6 0M349.1 114.5a2.3 2.3 0 1 0 4.6 0a2.3 2.3 0 1 0-4.6 0M381.2 75.2a2.3 2.3 0 1 0 4.6 0a2.3 2.3 0 1 0-4.6 0M419.0 31.9a2.3 2.3 0 1 0 4.6 0a2.3 2.3 0 1 0-4.6 0M284.0 178.0a2.3 2.3 0 1 0 4.6 0a2.3 2.3 0 1 0-4.6 0M433.0 20.4a2.3 2.3 0 1 0 4.6 0a2.3 2.3 0 1 0-4.6 0M324.6 126.5a2.3 2.3 0 1 0 4.6 0a2.3 2.3 0 1 0-4.6 0M322.0 142.0a2.3 2.3 0 1 0 4.6 0a2.3 2.3 0 1 0-4.6 0M307.4 149.5a2.3 2.3 0 1 0 4.6 0a2.3 2.3 0 1 0-4.6 0M319.4 138.2a2.3 2.3 0 1 0 4.6 0a2.3 2.3 0 1 0-4.6 0M409.1 45.1a2.3 2.3 0 1 0 4.6 0a2.3 2.3 0 1 0-4.6 0M284.4 177.7a2.3 2.3 0 1 0 4.6 0a2.3 2.3 0 1 0-4.6 0M311.8 153.6a2.3 2.3 0 1 0 4.6 0a2.3 2.3 0 1 0-4.6 0M317.2 141.1a2.3 2.3 0 1 0 4.6 0a2.3 2.3 0 1 0-4.6 0M334.1 130.7a2.3 2.3 0 1 0 4.6 0a2.3 2.3 0 1 0-4.6 0M328.3 128.5a2.3 2.3 0 1 0 4.6 0a2.3 2.3 0 1 0-4.6 0M389.5 67.3a2.3 2.3 0 1 0 4.6 0a2.3 2.3 0 1 0-4.6 0M321.4 142.2a2.3 2.3 0 1 0 4.6 0a2.3 2.3 0 1 0-4.6 0M282.6 177.5a2.3 2.3 0 1 0 4.6 0a2.3 2.3 0 1 0-4.6 0M401.2 61.2a2.3 2.3 0 1 0 4.6 0a2.3 2.3 0 1 0-4.6 0M385.8 67.8a2.3 2.3 0 1 0 4.6 0a2.3 2.3 0 1 0-4.6 0M344.2 113.3a2.3 2.3 0 1 0 4.6 0a2.3 2.3 0 1 0-4.6 0M322.6 145.4a2.3 2.3 0 1 0 4.6 0a2.3 2.3 0 1 0-4.6 0M441.7 9.4a2.3 2.3 0 1 0 4.6 0a2.3 2.3 0 1 0-4.6 0M287.5 177.8a2.3 2.3 0 1 0 4.6 0a2.3 2.3 0 1 0-4.6 0M301.1 169.2a2.3 2.3 0 1 0 4.6 0a2.3 2.3 0 1 0-4.6 0M313.1 142.2a2.3 2.3 0 1 0 4.6 0a2.3 2.3 0 1 0-4.6 0M288.0 177.9a2.3 2.3 0 1 0 4.6 0a2.3 2.3 0 1 0-4.6 0M325.6 141.6a2.3 2.3 0 1 0 4.6 0a2.3 2.3 0 1 0-4.6 0M291.5 177.5a2.3 2.3 0 1 0 4.6 0a2.3 2.3 0 1 0-4.6 0M441.7 13.0a2.3 2.3 0 1 0 4.6 0a2.3 2.3 0 1 0-4.6 0M319.0 143.1a2.3 2.3 0 1 0 4.6 0a2.3 2.3 0 1 0-4.6 0M348.2 112.2a2.3 2.3 0 1 0 4.6 0a2.3 2.3 0 1 0-4.6 0M281.8 177.4a2.3 2.3 0 1 0 4.6 0a2.3 2.3 0 1 0-4.6 0M336.4 117.9a2.3 2.3 0 1 0 4.6 0a2.3 2.3 0 1 0-4.6 0M342.1 119.8a2.3 2.3 0 1 0 4.6 0a2.3 2.3 0 1 0-4.6 0M358.0 101.9a2.3 2.3 0 1 0 4.6 0a2.3 2.3 0 1 0-4.6 0M341.6 112.2a2.3 2.3 0 1 0 4.6 0a2.3 2.3 0 1 0-4.6 0M358.3 104.4a2.3 2.3 0 1 0 4.6 0a2.3 2.3 0 1 0-4.6 0M317.5 139.0a2.3 2.3 0 1 0 4.6 0a2.3 2.3 0 1 0-4.6 0M354.4 108.5a2.3 2.3 0 1 0 4.6 0a2.3 2.3 0 1 0-4.6 0M299.7 164.9a2.3 2.3 0 1 0 4.6 0a2.3 2.3 0 1 0-4.6 0M416.2 35.4a2.3 2.3 0 1 0 4.6 0a2.3 2.3 0 1 0-4.6 0M337.5 115.4a2.3 2.3 0 1 0 4.6 0a2.3 2.3 0 1 0-4.6 0M439.6 6.3a2.3 2.3 0 1 0 4.6 0a2.3 2.3 0 1 0-4.6 0M315.0 149.1a2.3 2.3 0 1 0 4.6 0a2.3 2.3 0 1 0-4.6 0M326.8 128.7a2.3 2.3 0 1 0 4.6 0a2.3 2.3 0 1 0-4.6 0M299.4 159.1a2.3 2.3 0 1 0 4.6 0a2.3 2.3 0 1 0-4.6 0M315.8 146.8a2.3 2.3 0 1 0 4.6 0a2.3 2.3 0 1 0-4.6 0M347.4 115.0a2.3 2.3 0 1 0 4.6 0a2.3 2.3 0 1 0-4.6 0M295.5 172.8a2.3 2.3 0 1 0 4.6 0a2.3 2.3 0 1 0-4.6 0M361.6 102.0a2.3 2.3 0 1 0 4.6 0a2.3 2.3 0 1 0-4.6 0M310.4 153.8a2.3 2.3 0 1 0 4.6 0a2.3 2.3 0 1 0-4.6 0M278.2 178.3a2.3 2.3 0 1 0 4.6 0a2.3 2.3 0 1 0-4.6 0M402.7 49.3a2.3 2.3 0 1 0 4.6 0a2.3 2.3 0 1 0-4.6 0M292.1 171.3a2.3 2.3 0 1 0 4.6 0a2.3 2.3 0 1 0-4.6 0M313.8 154.9a2.3 2.3 0 1 0 4.6 0a2.3 2.3 0 1 0-4.6 0M301.1 153.0a2.3 2.3 0 1 0 4.6 0a2.3 2.3 0 1 0-4.6 0M353.2 115.3a2.3 2.3 0 1 0 4.6 0a2.3 2.3 0 1 0-4.6 0M329.7 122.6a2.3 2.3 0 1 0 4.6 0a2.3 2.3 0 1 0-4.6 0M355.3 104.8a2.3 2.3 0 1 0 4.6 0a2.3 2.3 0 1 0-4.6 0M279.1 178.4a2.3 2.3 0 1 0 4.6 0a2.3 2.3 0 1 0-4.6 0M397.0 60.3a2.3 2.3 0 1 0 4.6 0a2.3 2.3 0 1 0-4.6 0M407.6 42.3a2.3 2.3 0 1 0 4.6 0a2.3 2.3 0 1 0-4.6 0M313.7 159.7a2.3 2.3 0 1 0 4.6 0a2.3 2.3 0 1 0-4.6 0M334.7 124.7a2.3 2.3 0 1 0 4.6 0a2.3 2.3 0 1 0-4.6 0M287.8 177.6a2.3 2.3 0 1 0 4.6 0a2.3 2.3 0 1 0-4.6 0M306.2 151.8a2.3 2.3 0 1 0 4.6 0a2.3 2.3 0 1 0-4.6 0M291.7 169.6a2.3 2.3 0 1 0 4.6 0a2.3 2.3 0 1 0-4.6 0M340.3 113.8a2.3 2.3 0 1 0 4.6 0a2.3 2.3 0 1 0-4.6 0M284.5 177.7a2.3 2.3 0 1 0 4.6 0a2.3 2.3 0 1 0-4.6 0M317.6 137.5a2.3 2.3 0 1 0 4.6 0a2.3 2.3 0 1 0-4.6 0M308.3 148.6a2.3 2.3 0 1 0 4.6 0a2.3 2.3 0 1 0-4.6 0M287.5 177.6a2.3 2.3 0 1 0 4.6 0a2.3 2.3 0 1 0-4.6 0M331.4 127.1a2.3 2.3 0 1 0 4.6 0a2.3 2.3 0 1 0-4.6 0M397.5 56.0a2.3 2.3 0 1 0 4.6 0a2.3 2.3 0 1 0-4.6 0M297.2 161.9a2.3 2.3 0 1 0 4.6 0a2.3 2.3 0 1 0-4.6 0M386.5 64.6a2.3 2.3 0 1 0 4.6 0a2.3 2.3 0 1 0-4.6 0M355.0 97.0a2.3 2.3 0 1 0 4.6 0a2.3 2.3 0 1 0-4.6 0" fill="none" stroke="#6a6a6a" stroke-width="0.55"/>
</g>
<g clip-path="url(#c1)"><line x1="225.48" y1="235.00" x2="516.10" y2="-63.50" stroke="#181818" stroke-width="1.1"/></g>
<line x1="272.50" y1="-0.05" x2="272.50" y2="187.05" stroke="#727272" stroke-width="1.00"/>
<line x1="450.95" y1="-0.05" x2="450.95" y2="187.05" stroke="#505050" stroke-width="1.40"/>
<line x1="272.50" y1="0.45" x2="450.95" y2="0.45" stroke="#6e6e6e" stroke-width="1.00"/>
<line x1="272.50" y1="186.50" x2="450.95" y2="186.50" stroke="#484848" stroke-width="1.10"/>
<path d="M283.60 186.50v3.6M272.50 175.30h-3.6M322.35 186.50v3.6M272.50 135.50h-3.6M361.10 186.50v3.6M272.50 95.70h-3.6M399.85 186.50v3.6M272.50 55.90h-3.6M438.60 186.50v3.6M272.50 16.10h-3.6" stroke="#4a4a4a" stroke-width="1.1" fill="none"/>
<text x="283.60" y="201.10" font-size="11.0" fill="#111" text-anchor="middle">0.0</text>
<text x="266.20" y="180.15" font-size="11.0" fill="#111" text-anchor="end">0.0</text>
<text x="322.35" y="201.10" font-size="11.0" fill="#111" text-anchor="middle">0.2</text>
<text x="266.20" y="140.35" font-size="11.0" fill="#111" text-anchor="end">0.2</text>
<text x="361.10" y="201.10" font-size="11.0" fill="#111" text-anchor="middle">0.4</text>
<text x="266.20" y="100.55" font-size="11.0" fill="#111" text-anchor="end">0.4</text>
<text x="399.85" y="201.10" font-size="11.0" fill="#111" text-anchor="middle">0.6</text>
<text x="266.20" y="60.75" font-size="11.0" fill="#111" text-anchor="end">0.6</text>
<text x="438.60" y="201.10" font-size="11.0" fill="#111" text-anchor="middle">0.8</text>
<text x="266.20" y="20.95" font-size="11.0" fill="#111" text-anchor="end">0.8</text>
<text x="361.88" y="218.70" font-size="14.1" fill="#111" text-anchor="middle" letter-spacing="0.3">PCR-HAT</text>
<text transform="translate(244.20 92.97) rotate(-90)" font-size="14.1" fill="#111" text-anchor="middle">PLS-CV</text>
<clipPath id="c2"><rect x="505.00" y="0.45" width="178.50" height="186.05"/></clipPath>
<g clip-path="url(#c2)">
<path d="M587.8 98.7a2.3 2.3 0 1 0 4.6 0a2.3 2.3 0 1 0-4.6 0M608.8 84.5a2.3 2.3 0 1 0 4.6 0a2.3 2.3 0 1 0-4.6 0M568.4 115.5a2.3 2.3 0 1 0 4.6 0a2.3 2.3 0 1 0-4.6 0M643.9 46.1a2.3 2.3 0 1 0 4.6 0a2.3 2.3 0 1 0-4.6 0M565.0 126.1a2.3 2.3 0 1 0 4.6 0a2.3 2.3 0 1 0-4.6 0M574.7 105.5a2.3 2.3 0 1 0 4.6 0a2.3 2.3 0 1 0-4.6 0M570.4 108.8a2.3 2.3 0 1 0 4.6 0a2.3 2.3 0 1 0-4.6 0M616.6 62.3a2.3 2.3 0 1 0 4.6 0a2.3 2.3 0 1 0-4.6 0M568.4 121.5a2.3 2.3 0 1 0 4.6 0a2.3 2.3 0 1 0-4.6 0M525.0 161.6a2.3 2.3 0 1 0 4.6 0a2.3 2.3 0 1 0-4.6 0M565.1 113.5a2.3 2.3 0 1 0 4.6 0a2.3 2.3 0 1 0-4.6 0M526.5 166.9a2.3 2.3 0 1 0 4.6 0a2.3 2.3 0 1 0-4.6 0M561.3 131.1a2.3 2.3 0 1 0 4.6 0a2.3 2.3 0 1 0-4.6 0M575.7 105.3a2.3 2.3 0 1 0 4.6 0a2.3 2.3 0 1 0-4.6 0M531.0 158.1a2.3 2.3 0 1 0 4.6 0a2.3 2.3 0 1 0-4.6 0M610.1 76.6a2.3 2.3 0 1 0 4.6 0a2.3 2.3 0 1 0-4.6 0M554.2 139.3a2.3 2.3 0 1 0 4.6 0a2.3 2.3 0 1 0-4.6 0M517.2 168.6a2.3 2.3 0 1 0 4.6 0a2.3 2.3 0 1 0-4.6 0M596.4 93.7a2.3 2.3 0 1 0 4.6 0a2.3 2.3 0 1 0-4.6 0M572.1 114.8a2.3 2.3 0 1 0 4.6 0a2.3 2.3 0 1 0-4.6 0M513.2 177.9a2.3 2.3 0 1 0 4.6 0a2.3 2.3 0 1 0-4.6 0M549.7 141.3a2.3 2.3 0 1 0 4.6 0a2.3 2.3 0 1 0-4.6 0M523.0 164.1a2.3 2.3 0 1 0 4.6 0a2.3 2.3 0 1 0-4.6 0M562.3 124.6a2.3 2.3 0 1 0 4.6 0a2.3 2.3 0 1 0-4.6 0M513.0 170.2a2.3 2.3 0 1 0 4.6 0a2.3 2.3 0 1 0-4.6 0M595.3 96.9a2.3 2.3 0 1 0 4.6 0a2.3 2.3 0 1 0-4.6 0M525.2 166.0a2.3 2.3 0 1 0 4.6 0a2.3 2.3 0 1 0-4.6 0M526.0 169.1a2.3 2.3 0 1 0 4.6 0a2.3 2.3 0 1 0-4.6 0M560.3 133.4a2.3 2.3 0 1 0 4.6 0a2.3 2.3 0 1 0-4.6 0M563.1 113.2a2.3 2.3 0 1 0 4.6 0a2.3 2.3 0 1 0-4.6 0M593.8 79.3a2.3 2.3 0 1 0 4.6 0a2.3 2.3 0 1 0-4.6 0M562.6 123.4a2.3 2.3 0 1 0 4.6 0a2.3 2.3 0 1 0-4.6 0M650.6 32.9a2.3 2.3 0 1 0 4.6 0a2.3 2.3 0 1 0-4.6 0M566.4 125.2a2.3 2.3 0 1 0 4.6 0a2.3 2.3 0 1 0-4.6 0M583.4 92.7a2.3 2.3 0 1 0 4.6 0a2.3 2.3 0 1 0-4.6 0M629.2 49.3a2.3 2.3 0 1 0 4.6 0a2.3 2.3 0 1 0-4.6 0M545.5 141.6a2.3 2.3 0 1 0 4.6 0a2.3 2.3 0 1 0-4.6 0M565.3 127.3a2.3 2.3 0 1 0 4.6 0a2.3 2.3 0 1 0-4.6 0M649.0 27.5a2.3 2.3 0 1 0 4.6 0a2.3 2.3 0 1 0-4.6 0M540.8 148.2a2.3 2.3 0 1 0 4.6 0a2.3 2.3 0 1 0-4.6 0M534.9 143.7a2.3 2.3 0 1 0 4.6 0a2.3 2.3 0 1 0-4.6 0M585.7 98.1a2.3 2.3 0 1 0 4.6 0a2.3 2.3 0 1 0-4.6 0M526.3 146.0a2.3 2.3 0 1 0 4.6 0a2.3 2.3 0 1 0-4.6 0M590.6 74.8a2.3 2.3 0 1 0 4.6 0a2.3 2.3 0 1 0-4.6 0M571.5 104.3a2.3 2.3 0 1 0 4.6 0a2.3 2.3 0 1 0-4.6 0M611.7 73.4a2.3 2.3 0 1 0 4.6 0a2.3 2.3 0 1 0-4.6 0M627.8 59.0a2.3 2.3 0 1 0 4.6 0a2.3 2.3 0 1 0-4.6 0M522.6 156.5a2.3 2.3 0 1 0 4.6 0a2.3 2.3 0 1 0-4.6 0M585.2 103.1a2.3 2.3 0 1 0 4.6 0a2.3 2.3 0 1 0-4.6 0M526.7 158.7a2.3 2.3 0 1 0 4.6 0a2.3 2.3 0 1 0-4.6 0M513.2 171.2a2.3 2.3 0 1 0 4.6 0a2.3 2.3 0 1 0-4.6 0M524.3 165.4a2.3 2.3 0 1 0 4.6 0a2.3 2.3 0 1 0-4.6 0M566.4 122.6a2.3 2.3 0 1 0 4.6 0a2.3 2.3 0 1 0-4.6 0M572.5 114.8a2.3 2.3 0 1 0 4.6 0a2.3 2.3 0 1 0-4.6 0M515.7 173.0a2.3 2.3 0 1 0 4.6 0a2.3 2.3 0 1 0-4.6 0M512.5 174.5a2.3 2.3 0 1 0 4.6 0a2.3 2.3 0 1 0-4.6 0M542.1 137.6a2.3 2.3 0 1 0 4.6 0a2.3 2.3 0 1 0-4.6 0M537.2 147.0a2.3 2.3 0 1 0 4.6 0a2.3 2.3 0 1 0-4.6 0M577.9 95.8a2.3 2.3 0 1 0 4.6 0a2.3 2.3 0 1 0-4.6 0M536.4 156.2a2.3 2.3 0 1 0 4.6 0a2.3 2.3 0 1 0-4.6 0M519.2 171.4a2.3 2.3 0 1 0 4.6 0a2.3 2.3 0 1 0-4.6 0M581.8 108.0a2.3 2.3 0 1 0 4.6 0a2.3 2.3 0 1 0-4.6 0M542.3 131.1a2.3 2.3 0 1 0 4.6 0a2.3 2.3 0 1 0-4.6 0M521.6 163.4a2.3 2.3 0 1 0 4.6 0a2.3 2.3 0 1 0-4.6 0M525.0 159.5a2.3 2.3 0 1 0 4.6 0a2.3 2.3 0 1 0-4.6 0M517.5 167.0a2.3 2.3 0 1 0 4.6 0a2.3 2.3 0 1 0-4.6 0M586.7 98.4a2.3 2.3 0 1 0 4.6 0a2.3 2.3 0 1 0-4.6 0M543.4 135.6a2.3 2.3 0 1 0 4.6 0a2.3 2.3 0 1 0-4.6 0M536.3 152.4a2.3 2.3 0 1 0 4.6 0a2.3 2.3 0 1 0-4.6 0M537.6 151.3a2.3 2.3 0 1 0 4.6 0a2.3 2.3 0 1 0-4.6 0M517.8 167.1a2.3 2.3 0 1 0 4.6 0a2.3 2.3 0 1 0-4.6 0M548.1 144.8a2.3 2.3 0 1 0 4.6 0a2.3 2.3 0 1 0-4.6 0M523.1 157.1a2.3 2.3 0 1 0 4.6 0a2.3 2.3 0 1 0-4.6 0M552.8 132.4a2.3 2.3 0 1 0 4.6 0a2.3 2.3 0 1 0-4.6 0M547.4 134.1a2.3 2.3 0 1 0 4.6 0a2.3 2.3 0 1 0-4.6 0M567.0 125.0a2.3 2.3 0 1 0 4.6 0a2.3 2.3 0 1 0-4.6 0M538.4 152.3a2.3 2.3 0 1 0 4.6 0a2.3 2.3 0 1 0-4.6 0M603.8 85.1a2.3 2.3 0 1 0 4.6 0a2.3 2.3 0 1 0-4.6 0M557.0 130.3a2.3 2.3 0 1 0 4.6 0a2.3 2.3 0 1 0-4.6 0M519.6 169.1a2.3 2.3 0 1 0 4.6 0a2.3 2.3 0 1 0-4.6 0M562.2 128.3a2.3 2.3 0 1 0 4.6 0a2.3 2.3 0 1 0-4.6 0M521.2 162.1a2.3 2.3 0 1 0 4.6 0a2.3 2.3 0 1 0-4.6 0M550.3 139.4a2.3 2.3 0 1 0 4.6 0a2.3 2.3 0 1 0-4.6 0M663.8 25.4a2.3 2.3 0 1 0 4.6 0a2.3 2.3 0 1 0-4.6 0M520.6 164.9a2.3 2.3 0 1 0 4.6 0a2.3 2.3 0 1 0-4.6 0M567.6 119.0a2.3 2.3 0 1 0 4.6 0a2.3 2.3 0 1 0-4.6 0M567.6 113.0a2.3 2.3 0 1 0 4.6 0a2.3 2.3 0 1 0-4.6 0M644.9 42.2a2.3 2.3 0 1 0 4.6 0a2.3 2.3 0 1 0-4.6 0M625.6 58.8a2.3 2.3 0 1 0 4.6 0a2.3 2.3 0 1 0-4.6 0M559.7 122.9a2.3 2.3 0 1 0 4.6 0a2.3 2.3 0 1 0-4.6 0M636.1 52.0a2.3 2.3 0 1 0 4.6 0a2.3 2.3 0 1 0-4.6 0M565.5 119.7a2.3 2.3 0 1 0 4.6 0a2.3 2.3 0 1 0-4.6 0M628.5 57.5a2.3 2.3 0 1 0 4.6 0a2.3 2.3 0 1 0-4.6 0M528.0 158.8a2.3 2.3 0 1 0 4.6 0a2.3 2.3 0 1 0-4.6 0M568.3 119.7a2.3 2.3 0 1 0 4.6 0a2.3 2.3 0 1 0-4.6 0M537.8 152.6a2.3 2.3 0 1 0 4.6 0a2.3 2.3 0 1 0-4.6 0M528.3 164.3a2.3 2.3 0 1 0 4.6 0a2.3 2.3 0 1 0-4.6 0M592.6 87.0a2.3 2.3 0 1 0 4.6 0a2.3 2.3 0 1 0-4.6 0M518.8 164.2a2.3 2.3 0 1 0 4.6 0a2.3 2.3 0 1 0-4.6 0M559.7 126.6a2.3 2.3 0 1 0 4.6 0a2.3 2.3 0 1 0-4.6 0M574.5 110.2a2.3 2.3 0 1 0 4.6 0a2.3 2.3 0 1 0-4.6 0M562.1 130.2a2.3 2.3 0 1 0 4.6 0a2.3 2.3 0 1 0-4.6 0M543.9 120.8a2.3 2.3 0 1 0 4.6 0a2.3 2.3 0 1 0-4.6 0M589.2 97.6a2.3 2.3 0 1 0 4.6 0a2.3 2.3 0 1 0-4.6 0M590.4 104.6a2.3 2.3 0 1 0 4.6 0a2.3 2.3 0 1 0-4.6 0M539.0 153.6a2.3 2.3 0 1 0 4.6 0a2.3 2.3 0 1 0-4.6 0M669.8 12.4a2.3 2.3 0 1 0 4.6 0a2.3 2.3 0 1 0-4.6 0M542.5 135.6a2.3 2.3 0 1 0 4.6 0a2.3 2.3 0 1 0-4.6 0M671.6 8.9a2.3 2.3 0 1 0 4.6 0a2.3 2.3 0 1 0-4.6 0M550.5 136.3a2.3 2.3 0 1 0 4.6 0a2.3 2.3 0 1 0-4.6 0M551.6 134.7a2.3 2.3 0 1 0 4.6 0a2.3 2.3 0 1 0-4.6 0M596.8 88.6a2.3 2.3 0 1 0 4.6 0a2.3 2.3 0 1 0-4.6 0M542.5 146.6a2.3 2.3 0 1 0 4.6 0a2.3 2.3 0 1 0-4.6 0M622.5 56.6a2.3 2.3 0 1 0 4.6 0a2.3 2.3 0 1 0-4.6 0M536.2 152.4a2.3 2.3 0 1 0 4.6 0a2.3 2.3 0 1 0-4.6 0M620.6 66.3a2.3 2.3 0 1 0 4.6 0a2.3 2.3 0 1 0-4.6 0M591.6 89.6a2.3 2.3 0 1 0 4.6 0a2.3 2.3 0 1 0-4.6 0M645.7 40.2a2.3 2.3 0 1 0 4.6 0a2.3 2.3 0 1 0-4.6 0M517.0 171.7a2.3 2.3 0 1 0 4.6 0a2.3 2.3 0 1 0-4.6 0M594.8 84.2a2.3 2.3 0 1 0 4.6 0a2.3 2.3 0 1 0-4.6 0M545.6 132.9a2.3 2.3 0 1 0 4.6 0a2.3 2.3 0 1 0-4.6 0M656.5 20.2a2.3 2.3 0 1 0 4.6 0a2.3 2.3 0 1 0-4.6 0M517.5 169.1a2.3 2.3 0 1 0 4.6 0a2.3 2.3 0 1 0-4.6 0M543.0 139.8a2.3 2.3 0 1 0 4.6 0a2.3 2.3 0 1 0-4.6 0M524.2 158.8a2.3 2.3 0 1 0 4.6 0a2.3 2.3 0 1 0-4.6 0M615.2 70.0a2.3 2.3 0 1 0 4.6 0a2.3 2.3 0 1 0-4.6 0M582.6 103.6a2.3 2.3 0 1 0 4.6 0a2.3 2.3 0 1 0-4.6 0M519.0 166.0a2.3 2.3 0 1 0 4.6 0a2.3 2.3 0 1 0-4.6 0M563.2 114.4a2.3 2.3 0 1 0 4.6 0a2.3 2.3 0 1 0-4.6 0M535.1 146.4a2.3 2.3 0 1 0 4.6 0a2.3 2.3 0 1 0-4.6 0M514.1 170.6a2.3 2.3 0 1 0 4.6 0a2.3 2.3 0 1 0-4.6 0M591.9 91.4a2.3 2.3 0 1 0 4.6 0a2.3 2.3 0 1 0-4.6 0M579.5 106.1a2.3 2.3 0 1 0 4.6 0a2.3 2.3 0 1 0-4.6 0M564.4 119.9a2.3 2.3 0 1 0 4.6 0a2.3 2.3 0 1 0-4.6 0M641.8 49.0a2.3 2.3 0 1 0 4.6 0a2.3 2.3 0 1 0-4.6 0M525.5 157.2a2.3 2.3 0 1 0 4.6 0a2.3 2.3 0 1 0-4.6 0M571.2 116.6a2.3 2.3 0 1 0 4.6 0a2.3 2.3 0 1 0-4.6 0M547.0 146.0a2.3 2.3 0 1 0 4.6 0a2.3 2.3 0 1 0-4.6 0M527.0 160.8a2.3 2.3 0 1 0 4.6 0a2.3 2.3 0 1 0-4.6 0M584.2 103.5a2.3 2.3 0 1 0 4.6 0a2.3 2.3 0 1 0-4.6 0M527.6 164.8a2.3 2.3 0 1 0 4.6 0a2.3 2.3 0 1 0-4.6 0M528.5 166.1a2.3 2.3 0 1 0 4.6 0a2.3 2.3 0 1 0-4.6 0M521.7 165.0a2.3 2.3 0 1 0 4.6 0a2.3 2.3 0 1 0-4.6 0M658.0 27.9a2.3 2.3 0 1 0 4.6 0a2.3 2.3 0 1 0-4.6 0M547.4 133.8a2.3 2.3 0 1 0 4.6 0a2.3 2.3 0 1 0-4.6 0M652.5 26.9a2.3 2.3 0 1 0 4.6 0a2.3 2.3 0 1 0-4.6 0M604.3 87.1a2.3 2.3 0 1 0 4.6 0a2.3 2.3 0 1 0-4.6 0M538.2 138.4a2.3 2.3 0 1 0 4.6 0a2.3 2.3 0 1 0-4.6 0M551.2 139.8a2.3 2.3 0 1 0 4.6 0a2.3 2.3 0 1 0-4.6 0M623.7 55.9a2.3 2.3 0 1 0 4.6 0a2.3 2.3 0 1 0-4.6 0M593.3 83.0a2.3 2.3 0 1 0 4.6 0a2.3 2.3 0 1 0-4.6 0M615.0 61.8a2.3 2.3 0 1 0 4.6 0a2.3 2.3 0 1 0-4.6 0M550.0 134.7a2.3 2.3 0 1 0 4.6 0a2.3 2.3 0 1 0-4.6 0M561.7 124.1a2.3 2.3 0 1 0 4.6 0a2.3 2.3 0 1 0-4.6 0M542.7 140.6a2.3 2.3 0 1 0 4.6 0a2.3 2.3 0 1 0-4.6 0M661.4 20.4a2.3 2.3 0 1 0 4.6 0a2.3 2.3 0 1 0-4.6 0M619.9 62.8a2.3 2.3 0 1 0 4.6 0a2.3 2.3 0 1 0-4.6 0M535.5 137.7a2.3 2.3 0 1 0 4.6 0a2.3 2.3 0 1 0-4.6 0M565.2 124.0a2.3 2.3 0 1 0 4.6 0a2.3 2.3 0 1 0-4.6 0M627.6 58.6a2.3 2.3 0 1 0 4.6 0a2.3 2.3 0 1 0-4.6 0M571.7 109.3a2.3 2.3 0 1 0 4.6 0a2.3 2.3 0 1 0-4.6 0M512.3 170.4a2.3 2.3 0 1 0 4.6 0a2.3 2.3 0 1 0-4.6 0M566.5 117.1a2.3 2.3 0 1 0 4.6 0a2.3 2.3 0 1 0-4.6 0M541.9 144.4a2.3 2.3 0 1 0 4.6 0a2.3 2.3 0 1 0-4.6 0M536.1 145.4a2.3 2.3 0 1 0 4.6 0a2.3 2.3 0 1 0-4.6 0M534.8 149.7a2.3 2.3 0 1 0 4.6 0a2.3 2.3 0 1 0-4.6 0M548.0 137.4a2.3 2.3 0 1 0 4.6 0a2.3 2.3 0 1 0-4.6 0M578.9 99.1a2.3 2.3 0 1 0 4.6 0a2.3 2.3 0 1 0-4.6 0M648.1 38.1a2.3 2.3 0 1 0 4.6 0a2.3 2.3 0 1 0-4.6 0M530.0 159.3a2.3 2.3 0 1 0 4.6 0a2.3 2.3 0 1 0-4.6 0M596.6 87.8a2.3 2.3 0 1 0 4.6 0a2.3 2.3 0 1 0-4.6 0M559.4 129.1a2.3 2.3 0 1 0 4.6 0a2.3 2.3 0 1 0-4.6 0M550.5 131.4a2.3 2.3 0 1 0 4.6 0a2.3 2.3 0 1 0-4.6 0M521.7 152.7a2.3 2.3 0 1 0 4.6 0a2.3 2.3 0 1 0-4.6 0M572.3 113.3a2.3 2.3 0 1 0 4.6 0a2.3 2.3 0 1 0-4.6 0M540.6 149.3a2.3 2.3 0 1 0 4.6 0a2.3 2.3 0 1 0-4.6 0M522.9 166.8a2.3 2.3 0 1 0 4.6 0a2.3 2.3 0 1 0-4.6 0M526.3 154.9a2.3 2.3 0 1 0 4.6 0a2.3 2.3 0 1 0-4.6 0M546.0 138.5a2.3 2.3 0 1 0 4.6 0a2.3 2.3 0 1 0-4.6 0M518.8 165.7a2.3 2.3 0 1 0 4.6 0a2.3 2.3 0 1 0-4.6 0M579.8 103.6a2.3 2.3 0 1 0 4.6 0a2.3 2.3 0 1 0-4.6 0M587.5 89.1a2.3 2.3 0 1 0 4.6 0a2.3 2.3 0 1 0-4.6 0M579.7 114.4a2.3 2.3 0 1 0 4.6 0a2.3 2.3 0 1 0-4.6 0M579.1 107.8a2.3 2.3 0 1 0 4.6 0a2.3 2.3 0 1 0-4.6 0M577.8 102.5a2.3 2.3 0 1 0 4.6 0a2.3 2.3 0 1 0-4.6 0M611.0 71.7a2.3 2.3 0 1 0 4.6 0a2.3 2.3 0 1 0-4.6 0M565.0 114.8a2.3 2.3 0 1 0 4.6 0a2.3 2.3 0 1 0-4.6 0M524.9 169.9a2.3 2.3 0 1 0 4.6 0a2.3 2.3 0 1 0-4.6 0M559.4 124.5a2.3 2.3 0 1 0 4.6 0a2.3 2.3 0 1 0-4.6 0M676.4 10.2a2.3 2.3 0 1 0 4.6 0a2.3 2.3 0 1 0-4.6 0M524.7 160.0a2.3 2.3 0 1 0 4.6 0a2.3 2.3 0 1 0-4.6 0M589.7 98.7a2.3 2.3 0 1 0 4.6 0a2.3 2.3 0 1 0-4.6 0M527.5 158.9a2.3 2.3 0 1 0 4.6 0a2.3 2.3 0 1 0-4.6 0M628.5 49.1a2.3 2.3 0 1 0 4.6 0a2.3 2.3 0 1 0-4.6 0M539.7 150.7a2.3 2.3 0 1 0 4.6 0a2.3 2.3 0 1 0-4.6 0M520.1 168.5a2.3 2.3 0 1 0 4.6 0a2.3 2.3 0 1 0-4.6 0M610.8 79.1a2.3 2.3 0 1 0 4.6 0a2.3 2.3 0 1 0-4.6 0M604.6 77.8a2.3 2.3 0 1 0 4.6 0a2.3 2.3 0 1 0-4.6 0M571.8 104.3a2.3 2.3 0 1 0 4.6 0a2.3 2.3 0 1 0-4.6 0M555.4 131.4a2.3 2.3 0 1 0 4.6 0a2.3 2.3 0 1 0-4.6 0M593.1 87.6a2.3 2.3 0 1 0 4.6 0a2.3 2.3 0 1 0-4.6 0M625.8 59.7a2.3 2.3 0 1 0 4.6 0a2.3 2.3 0 1 0-4.6 0M675.7 11.4a2.3 2.3 0 1 0 4.6 0a2.3 2.3 0 1 0-4.6 0M557.6 130.7a2.3 2.3 0 1 0 4.6 0a2.3 2.3 0 1 0-4.6 0M535.6 140.2a2.3 2.3 0 1 0 4.6 0a2.3 2.3 0 1 0-4.6 0M522.3 168.2a2.3 2.3 0 1 0 4.6 0a2.3 2.3 0 1 0-4.6 0M528.6 158.3a2.3 2.3 0 1 0 4.6 0a2.3 2.3 0 1 0-4.6 0M615.9 74.5a2.3 2.3 0 1 0 4.6 0a2.3 2.3 0 1 0-4.6 0M597.2 78.4a2.3 2.3 0 1 0 4.6 0a2.3 2.3 0 1 0-4.6 0M593.0 92.5a2.3 2.3 0 1 0 4.6 0a2.3 2.3 0 1 0-4.6 0M549.3 140.9a2.3 2.3 0 1 0 4.6 0a2.3 2.3 0 1 0-4.6 0M526.5 161.2a2.3 2.3 0 1 0 4.6 0a2.3 2.3 0 1 0-4.6 0M565.2 107.9a2.3 2.3 0 1 0 4.6 0a2.3 2.3 0 1 0-4.6 0M548.8 124.4a2.3 2.3 0 1 0 4.6 0a2.3 2.3 0 1 0-4.6 0M522.1 166.0a2.3 2.3 0 1 0 4.6 0a2.3 2.3 0 1 0-4.6 0M599.5 83.3a2.3 2.3 0 1 0 4.6 0a2.3 2.3 0 1 0-4.6 0M591.2 94.7a2.3 2.3 0 1 0 4.6 0a2.3 2.3 0 1 0-4.6 0M640.2 35.0a2.3 2.3 0 1 0 4.6 0a2.3 2.3 0 1 0-4.6 0M547.3 132.8a2.3 2.3 0 1 0 4.6 0a2.3 2.3 0 1 0-4.6 0M536.7 151.6a2.3 2.3 0 1 0 4.6 0a2.3 2.3 0 1 0-4.6 0M562.7 107.8a2.3 2.3 0 1 0 4.6 0a2.3 2.3 0 1 0-4.6 0M584.9 105.0a2.3 2.3 0 1 0 4.6 0a2.3 2.3 0 1 0-4.6 0M599.8 81.5a2.3 2.3 0 1 0 4.6 0a2.3 2.3 0 1 0-4.6 0M604.7 67.7a2.3 2.3 0 1 0 4.6 0a2.3 2.3 0 1 0-4.6 0M535.3 154.0a2.3 2.3 0 1 0 4.6 0a2.3 2.3 0 1 0-4.6 0M529.9 162.5a2.3 2.3 0 1 0 4.6 0a2.3 2.3 0 1 0-4.6 0M523.8 155.7a2.3 2.3 0 1 0 4.6 0a2.3 2.3 0 1 0-4.6 0M515.3 153.7a2.3 2.3 0 1 0 4.6 0a2.3 2.3 0 1 0-4.6 0M523.5 167.9a2.3 2.3 0 1 0 4.6 0a2.3 2.3 0 1 0-4.6 0M609.4 54.1a2.3 2.3 0 1 0 4.6 0a2.3 2.3 0 1 0-4.6 0M523.2 161.3a2.3 2.3 0 1 0 4.6 0a2.3 2.3 0 1 0-4.6 0M648.9 28.5a2.3 2.3 0 1 0 4.6 0a2.3 2.3 0 1 0-4.6 0M612.4 74.4a2.3 2.3 0 1 0 4.6 0a2.3 2.3 0 1 0-4.6 0M566.7 117.0a2.3 2.3 0 1 0 4.6 0a2.3 2.3 0 1 0-4.6 0M521.8 151.9a2.3 2.3 0 1 0 4.6 0a2.3 2.3 0 1 0-4.6 0M575.9 98.9a2.3 2.3 0 1 0 4.6 0a2.3 2.3 0 1 0-4.6 0M515.5 162.2a2.3 2.3 0 1 0 4.6 0a2.3 2.3 0 1 0-4.6 0M562.4 116.7a2.3 2.3 0 1 0 4.6 0a2.3 2.3 0 1 0-4.6 0M535.7 152.0a2.3 2.3 0 1 0 4.6 0a2.3 2.3 0 1 0-4.6 0M565.9 107.9a2.3 2.3 0 1 0 4.6 0a2.3 2.3 0 1 0-4.6 0M675.5 12.6a2.3 2.3 0 1 0 4.6 0a2.3 2.3 0 1 0-4.6 0M655.9 31.7a2.3 2.3 0 1 0 4.6 0a2.3 2.3 0 1 0-4.6 0M589.0 90.3a2.3 2.3 0 1 0 4.6 0a2.3 2.3 0 1 0-4.6 0M517.3 169.9a2.3 2.3 0 1 0 4.6 0a2.3 2.3 0 1 0-4.6 0M548.3 140.5a2.3 2.3 0 1 0 4.6 0a2.3 2.3 0 1 0-4.6 0M561.5 127.4a2.3 2.3 0 1 0 4.6 0a2.3 2.3 0 1 0-4.6 0M521.8 159.3a2.3 2.3 0 1 0 4.6 0a2.3 2.3 0 1 0-4.6 0M615.7 72.4a2.3 2.3 0 1 0 4.6 0a2.3 2.3 0 1 0-4.6 0M533.4 156.1a2.3 2.3 0 1 0 4.6 0a2.3 2.3 0 1 0-4.6 0M518.3 169.2a2.3 2.3 0 1 0 4.6 0a2.3 2.3 0 1 0-4.6 0M545.1 129.8a2.3 2.3 0 1 0 4.6 0a2.3 2.3 0 1 0-4.6 0M575.9 106.1a2.3 2.3 0 1 0 4.6 0a2.3 2.3 0 1 0-4.6 0M527.0 166.0a2.3 2.3 0 1 0 4.6 0a2.3 2.3 0 1 0-4.6 0M532.2 150.3a2.3 2.3 0 1 0 4.6 0a2.3 2.3 0 1 0-4.6 0M562.3 121.5a2.3 2.3 0 1 0 4.6 0a2.3 2.3 0 1 0-4.6 0M566.6 119.7a2.3 2.3 0 1 0 4.6 0a2.3 2.3 0 1 0-4.6 0M542.2 139.9a2.3 2.3 0 1 0 4.6 0a2.3 2.3 0 1 0-4.6 0M539.1 138.6a2.3 2.3 0 1 0 4.6 0a2.3 2.3 0 1 0-4.6 0M547.8 140.2a2.3 2.3 0 1 0 4.6 0a2.3 2.3 0 1 0-4.6 0M524.5 165.5a2.3 2.3 0 1 0 4.6 0a2.3 2.3 0 1 0-4.6 0M571.7 106.0a2.3 2.3 0 1 0 4.6 0a2.3 2.3 0 1 0-4.6 0M514.1 176.2a2.3 2.3 0 1 0 4.6 0a2.3 2.3 0 1 0-4.6 0M668.6 19.1a2.3 2.3 0 1 0 4.6 0a2.3 2.3 0 1 0-4.6 0M560.7 127.4a2.3 2.3 0 1 0 4.6 0a2.3 2.3 0 1 0-4.6 0M581.2 101.0a2.3 2.3 0 1 0 4.6 0a2.3 2.3 0 1 0-4.6 0M536.8 148.0a2.3 2.3 0 1 0 4.6 0a2.3 2.3 0 1 0-4.6 0M522.1 167.7a2.3 2.3 0 1 0 4.6 0a2.3 2.3 0 1 0-4.6 0M637.4 43.3a2.3 2.3 0 1 0 4.6 0a2.3 2.3 0 1 0-4.6 0M532.9 159.7a2.3 2.3 0 1 0 4.6 0a2.3 2.3 0 1 0-4.6 0M516.8 162.6a2.3 2.3 0 1 0 4.6 0a2.3 2.3 0 1 0-4.6 0M528.7 152.9a2.3 2.3 0 1 0 4.6 0a2.3 2.3 0 1 0-4.6 0M516.1 162.4a2.3 2.3 0 1 0 4.6 0a2.3 2.3 0 1 0-4.6 0M582.2 91.6a2.3 2.3 0 1 0 4.6 0a2.3 2.3 0 1 0-4.6 0M614.8 67.5a2.3 2.3 0 1 0 4.6 0a2.3 2.3 0 1 0-4.6 0M526.1 157.3a2.3 2.3 0 1 0 4.6 0a2.3 2.3 0 1 0-4.6 0M513.7 157.6a2.3 2.3 0 1 0 4.6 0a2.3 2.3 0 1 0-4.6 0M557.2 132.9a2.3 2.3 0 1 0 4.6 0a2.3 2.3 0 1 0-4.6 0M564.2 131.1a2.3 2.3 0 1 0 4.6 0a2.3 2.3 0 1 0-4.6 0M634.0 52.6a2.3 2.3 0 1 0 4.6 0a2.3 2.3 0 1 0-4.6 0M538.4 153.2a2.3 2.3 0 1 0 4.6 0a2.3 2.3 0 1 0-4.6 0M542.0 127.8a2.3 2.3 0 1 0 4.6 0a2.3 2.3 0 1 0-4.6 0M551.8 131.5a2.3 2.3 0 1 0 4.6 0a2.3 2.3 0 1 0-4.6 0M622.7 66.2a2.3 2.3 0 1 0 4.6 0a2.3 2.3 0 1 0-4.6 0M548.5 139.9a2.3 2.3 0 1 0 4.6 0a2.3 2.3 0 1 0-4.6 0M522.1 156.9a2.3 2.3 0 1 0 4.6 0a2.3 2.3 0 1 0-4.6 0M519.7 166.9a2.3 2.3 0 1 0 4.6 0a2.3 2.3 0 1 0-4.6 0M592.5 96.5a2.3 2.3 0 1 0 4.6 0a2.3 2.3 0 1 0-4.6 0M671.6 16.9a2.3 2.3 0 1 0 4.6 0a2.3 2.3 0 1 0-4.6 0M555.6 134.4a2.3 2.3 0 1 0 4.6 0a2.3 2.3 0 1 0-4.6 0M618.6 64.9a2.3 2.3 0 1 0 4.6 0a2.3 2.3 0 1 0-4.6 0M542.0 151.5a2.3 2.3 0 1 0 4.6 0a2.3 2.3 0 1 0-4.6 0M562.7 119.7a2.3 2.3 0 1 0 4.6 0a2.3 2.3 0 1 0-4.6 0M551.7 133.3a2.3 2.3 0 1 0 4.6 0a2.3 2.3 0 1 0-4.6 0M588.1 94.0a2.3 2.3 0 1 0 4.6 0a2.3 2.3 0 1 0-4.6 0M528.9 156.8a2.3 2.3 0 1 0 4.6 0a2.3 2.3 0 1 0-4.6 0M552.7 131.5a2.3 2.3 0 1 0 4.6 0a2.3 2.3 0 1 0-4.6 0M524.1 160.5a2.3 2.3 0 1 0 4.6 0a2.3 2.3 0 1 0-4.6 0M513.9 168.4a2.3 2.3 0 1 0 4.6 0a2.3 2.3 0 1 0-4.6 0M561.4 121.2a2.3 2.3 0 1 0 4.6 0a2.3 2.3 0 1 0-4.6 0M612.3 80.4a2.3 2.3 0 1 0 4.6 0a2.3 2.3 0 1 0-4.6 0M515.6 166.4a2.3 2.3 0 1 0 4.6 0a2.3 2.3 0 1 0-4.6 0M538.3 152.9a2.3 2.3 0 1 0 4.6 0a2.3 2.3 0 1 0-4.6 0M522.2 164.4a2.3 2.3 0 1 0 4.6 0a2.3 2.3 0 1 0-4.6 0M513.9 168.0a2.3 2.3 0 1 0 4.6 0a2.3 2.3 0 1 0-4.6 0M518.0 164.4a2.3 2.3 0 1 0 4.6 0a2.3 2.3 0 1 0-4.6 0M596.4 96.5a2.3 2.3 0 1 0 4.6 0a2.3 2.3 0 1 0-4.6 0M565.4 125.5a2.3 2.3 0 1 0 4.6 0a2.3 2.3 0 1 0-4.6 0M556.1 129.2a2.3 2.3 0 1 0 4.6 0a2.3 2.3 0 1 0-4.6 0M564.0 108.0a2.3 2.3 0 1 0 4.6 0a2.3 2.3 0 1 0-4.6 0M627.6 56.3a2.3 2.3 0 1 0 4.6 0a2.3 2.3 0 1 0-4.6 0M547.0 134.1a2.3 2.3 0 1 0 4.6 0a2.3 2.3 0 1 0-4.6 0M671.5 16.6a2.3 2.3 0 1 0 4.6 0a2.3 2.3 0 1 0-4.6 0M538.7 149.0a2.3 2.3 0 1 0 4.6 0a2.3 2.3 0 1 0-4.6 0M564.8 117.7a2.3 2.3 0 1 0 4.6 0a2.3 2.3 0 1 0-4.6 0M520.4 171.2a2.3 2.3 0 1 0 4.6 0a2.3 2.3 0 1 0-4.6 0M573.0 99.8a2.3 2.3 0 1 0 4.6 0a2.3 2.3 0 1 0-4.6 0M573.2 97.9a2.3 2.3 0 1 0 4.6 0a2.3 2.3 0 1 0-4.6 0M664.9 21.5a2.3 2.3 0 1 0 4.6 0a2.3 2.3 0 1 0-4.6 0M611.0 73.2a2.3 2.3 0 1 0 4.6 0a2.3 2.3 0 1 0-4.6 0M537.6 148.8a2.3 2.3 0 1 0 4.6 0a2.3 2.3 0 1 0-4.6 0M549.8 143.0a2.3 2.3 0 1 0 4.6 0a2.3 2.3 0 1 0-4.6 0M525.9 147.6a2.3 2.3 0 1 0 4.6 0a2.3 2.3 0 1 0-4.6 0M519.1 168.2a2.3 2.3 0 1 0 4.6 0a2.3 2.3 0 1 0-4.6 0M538.5 145.6a2.3 2.3 0 1 0 4.6 0a2.3 2.3 0 1 0-4.6 0M541.6 149.8a2.3 2.3 0 1 0 4.6 0a2.3 2.3 0 1 0-4.6 0M553.3 137.3a2.3 2.3 0 1 0 4.6 0a2.3 2.3 0 1 0-4.6 0M551.2 134.2a2.3 2.3 0 1 0 4.6 0a2.3 2.3 0 1 0-4.6 0M584.9 90.9a2.3 2.3 0 1 0 4.6 0a2.3 2.3 0 1 0-4.6 0M617.0 70.3a2.3 2.3 0 1 0 4.6 0a2.3 2.3 0 1 0-4.6 0M675.4 14.8a2.3 2.3 0 1 0 4.6 0a2.3 2.3 0 1 0-4.6 0M517.3 168.8a2.3 2.3 0 1 0 4.6 0a2.3 2.3 0 1 0-4.6 0M510.7 179.4a2.3 2.3 0 1 0 4.6 0a2.3 2.3 0 1 0-4.6 0M540.5 140.0a2.3 2.3 0 1 0 4.6 0a2.3 2.3 0 1 0-4.6 0M574.5 107.7a2.3 2.3 0 1 0 4.6 0a2.3 2.3 0 1 0-4.6 0M517.8 156.5a2.3 2.3 0 1 0 4.6 0a2.3 2.3 0 1 0-4.6 0M563.0 128.7a2.3 2.3 0 1 0 4.6 0a2.3 2.3 0 1 0-4.6 0M538.1 149.7a2.3 2.3 0 1 0 4.6 0a2.3 2.3 0 1 0-4.6 0M554.5 125.7a2.3 2.3 0 1 0 4.6 0a2.3 2.3 0 1 0-4.6 0M550.4 142.9a2.3 2.3 0 1 0 4.6 0a2.3 2.3 0 1 0-4.6 0M675.7 -1.7a2.3 2.3 0 1 0 4.6 0a2.3 2.3 0 1 0-4.6 0M592.4 97.0a2.3 2.3 0 1 0 4.6 0a2.3 2.3 0 1 0-4.6 0M560.8 125.7a2.3 2.3 0 1 0 4.6 0a2.3 2.3 0 1 0-4.6 0M538.2 144.4a2.3 2.3 0 1 0 4.6 0a2.3 2.3 0 1 0-4.6 0M517.9 173.2a2.3 2.3 0 1 0 4.6 0a2.3 2.3 0 1 0-4.6 0M582.9 103.7a2.3 2.3 0 1 0 4.6 0a2.3 2.3 0 1 0-4.6 0M524.4 150.2a2.3 2.3 0 1 0 4.6 0a2.3 2.3 0 1 0-4.6 0M532.0 145.3a2.3 2.3 0 1 0 4.6 0a2.3 2.3 0 1 0-4.6 0M539.6 144.3a2.3 2.3 0 1 0 4.6 0a2.3 2.3 0 1 0-4.6 0M647.8 40.4a2.3 2.3 0 1 0 4.6 0a2.3 2.3 0 1 0-4.6 0M511.5 171.3a2.3 2.3 0 1 0 4.6 0a2.3 2.3 0 1 0-4.6 0M563.1 119.5a2.3 2.3 0 1 0 4.6 0a2.3 2.3 0 1 0-4.6 0M604.7 81.7a2.3 2.3 0 1 0 4.6 0a2.3 2.3 0 1 0-4.6 0M562.8 114.4a2.3 2.3 0 1 0 4.6 0a2.3 2.3 0 1 0-4.6 0M667.8 23.3a2.3 2.3 0 1 0 4.6 0a2.3 2.3 0 1 0-4.6 0M571.9 112.0a2.3 2.3 0 1 0 4.6 0a2.3 2.3 0 1 0-4.6 0M516.8 165.4a2.3 2.3 0 1 0 4.6 0a2.3 2.3 0 1 0-4.6 0M528.2 154.5a2.3 2.3 0 1 0 4.6 0a2.3 2.3 0 1 0-4.6 0M604.2 77.8a2.3 2.3 0 1 0 4.6 0a2.3 2.3 0 1 0-4.6 0M577.6 108.5a2.3 2.3 0 1 0 4.6 0a2.3 2.3 0 1 0-4.6 0M577.8 102.2a2.3 2.3 0 1 0 4.6 0a2.3 2.3 0 1 0-4.6 0M537.6 152.0a2.3 2.3 0 1 0 4.6 0a2.3 2.3 0 1 0-4.6 0M599.2 84.4a2.3 2.3 0 1 0 4.6 0a2.3 2.3 0 1 0-4.6 0M622.7 54.0a2.3 2.3 0 1 0 4.6 0a2.3 2.3 0 1 0-4.6 0M565.9 122.1a2.3 2.3 0 1 0 4.6 0a2.3 2.3 0 1 0-4.6 0M528.2 155.6a2.3 2.3 0 1 0 4.6 0a2.3 2.3 0 1 0-4.6 0M663.7 20.4a2.3 2.3 0 1 0 4.6 0a2.3 2.3 0 1 0-4.6 0M539.5 143.0a2.3 2.3 0 1 0 4.6 0a2.3 2.3 0 1 0-4.6 0M560.4 128.0a2.3 2.3 0 1 0 4.6 0a2.3 2.3 0 1 0-4.6 0M535.8 131.1a2.3 2.3 0 1 0 4.6 0a2.3 2.3 0 1 0-4.6 0M534.2 152.8a2.3 2.3 0 1 0 4.6 0a2.3 2.3 0 1 0-4.6 0M656.7 29.1a2.3 2.3 0 1 0 4.6 0a2.3 2.3 0 1 0-4.6 0M510.8 178.7a2.3 2.3 0 1 0 4.6 0a2.3 2.3 0 1 0-4.6 0M572.1 113.5a2.3 2.3 0 1 0 4.6 0a2.3 2.3 0 1 0-4.6 0M537.4 152.2a2.3 2.3 0 1 0 4.6 0a2.3 2.3 0 1 0-4.6 0M538.3 153.1a2.3 2.3 0 1 0 4.6 0a2.3 2.3 0 1 0-4.6 0M546.5 140.0a2.3 2.3 0 1 0 4.6 0a2.3 2.3 0 1 0-4.6 0M536.0 132.5a2.3 2.3 0 1 0 4.6 0a2.3 2.3 0 1 0-4.6 0M571.4 104.8a2.3 2.3 0 1 0 4.6 0a2.3 2.3 0 1 0-4.6 0M633.0 59.5a2.3 2.3 0 1 0 4.6 0a2.3 2.3 0 1 0-4.6 0M518.5 168.0a2.3 2.3 0 1 0 4.6 0a2.3 2.3 0 1 0-4.6 0M539.0 152.4a2.3 2.3 0 1 0 4.6 0a2.3 2.3 0 1 0-4.6 0M575.7 107.9a2.3 2.3 0 1 0 4.6 0a2.3 2.3 0 1 0-4.6 0M534.9 151.2a2.3 2.3 0 1 0 4.6 0a2.3 2.3 0 1 0-4.6 0M596.4 93.3a2.3 2.3 0 1 0 4.6 0a2.3 2.3 0 1 0-4.6 0M519.8 167.7a2.3 2.3 0 1 0 4.6 0a2.3 2.3 0 1 0-4.6 0M602.6 77.9a2.3 2.3 0 1 0 4.6 0a2.3 2.3 0 1 0-4.6 0M594.0 65.0a2.3 2.3 0 1 0 4.6 0a2.3 2.3 0 1 0-4.6 0M536.3 140.3a2.3 2.3 0 1 0 4.6 0a2.3 2.3 0 1 0-4.6 0M566.1 119.1a2.3 2.3 0 1 0 4.6 0a2.3 2.3 0 1 0-4.6 0M528.5 145.2a2.3 2.3 0 1 0 4.6 0a2.3 2.3 0 1 0-4.6 0M589.8 89.5a2.3 2.3 0 1 0 4.6 0a2.3 2.3 0 1 0-4.6 0M571.8 124.5a2.3 2.3 0 1 0 4.6 0a2.3 2.3 0 1 0-4.6 0M565.8 123.2a2.3 2.3 0 1 0 4.6 0a2.3 2.3 0 1 0-4.6 0M547.3 141.8a2.3 2.3 0 1 0 4.6 0a2.3 2.3 0 1 0-4.6 0M660.6 29.3a2.3 2.3 0 1 0 4.6 0a2.3 2.3 0 1 0-4.6 0M519.4 173.7a2.3 2.3 0 1 0 4.6 0a2.3 2.3 0 1 0-4.6 0M647.5 33.7a2.3 2.3 0 1 0 4.6 0a2.3 2.3 0 1 0-4.6 0M519.8 169.5a2.3 2.3 0 1 0 4.6 0a2.3 2.3 0 1 0-4.6 0M590.4 90.4a2.3 2.3 0 1 0 4.6 0a2.3 2.3 0 1 0-4.6 0M565.4 98.9a2.3 2.3 0 1 0 4.6 0a2.3 2.3 0 1 0-4.6 0M581.6 105.5a2.3 2.3 0 1 0 4.6 0a2.3 2.3 0 1 0-4.6 0M673.4 12.5a2.3 2.3 0 1 0 4.6 0a2.3 2.3 0 1 0-4.6 0M661.2 14.1a2.3 2.3 0 1 0 4.6 0a2.3 2.3 0 1 0-4.6 0M597.7 81.9a2.3 2.3 0 1 0 4.6 0a2.3 2.3 0 1 0-4.6 0M587.6 93.7a2.3 2.3 0 1 0 4.6 0a2.3 2.3 0 1 0-4.6 0M671.2 -1.4a2.3 2.3 0 1 0 4.6 0a2.3 2.3 0 1 0-4.6 0M595.1 90.8a2.3 2.3 0 1 0 4.6 0a2.3 2.3 0 1 0-4.6 0M613.0 74.5a2.3 2.3 0 1 0 4.6 0a2.3 2.3 0 1 0-4.6 0M671.8 7.9a2.3 2.3 0 1 0 4.6 0a2.3 2.3 0 1 0-4.6 0M565.6 120.2a2.3 2.3 0 1 0 4.6 0a2.3 2.3 0 1 0-4.6 0M568.5 121.0a2.3 2.3 0 1 0 4.6 0a2.3 2.3 0 1 0-4.6 0M569.2 119.2a2.3 2.3 0 1 0 4.6 0a2.3 2.3 0 1 0-4.6 0M544.8 148.0a2.3 2.3 0 1 0 4.6 0a2.3 2.3 0 1 0-4.6 0M586.6 85.2a2.3 2.3 0 1 0 4.6 0a2.3 2.3 0 1 0-4.6 0M544.9 116.0a2.3 2.3 0 1 0 4.6 0a2.3 2.3 0 1 0-4.6 0M564.1 116.1a2.3 2.3 0 1 0 4.6 0a2.3 2.3 0 1 0-4.6 0M555.6 135.3a2.3 2.3 0 1 0 4.6 0a2.3 2.3 0 1 0-4.6 0M537.9 144.7a2.3 2.3 0 1 0 4.6 0a2.3 2.3 0 1 0-4.6 0M517.3 169.3a2.3 2.3 0 1 0 4.6 0a2.3 2.3 0 1 0-4.6 0M514.4 173.5a2.3 2.3 0 1 0 4.6 0a2.3 2.3 0 1 0-4.6 0M522.7 155.7a2.3 2.3 0 1 0 4.6 0a2.3 2.3 0 1 0-4.6 0M565.9 109.2a2.3 2.3 0 1 0 4.6 0a2.3 2.3 0 1 0-4.6 0M566.9 104.0a2.3 2.3 0 1 0 4.6 0a2.3 2.3 0 1 0-4.6 0M565.3 113.3a2.3 2.3 0 1 0 4.6 0a2.3 2.3 0 1 0-4.6 0M533.6 145.4a2.3 2.3 0 1 0 4.6 0a2.3 2.3 0 1 0-4.6 0M597.8 93.6a2.3 2.3 0 1 0 4.6 0a2.3 2.3 0 1 0-4.6 0M559.5 119.5a2.3 2.3 0 1 0 4.6 0a2.3 2.3 0 1 0-4.6 0M655.0 33.3a2.3 2.3 0 1 0 4.6 0a2.3 2.3 0 1 0-4.6 0M675.1 9.7a2.3 2.3 0 1 0 4.6 0a2.3 2.3 0 1 0-4.6 0M517.8 161.6a2.3 2.3 0 1 0 4.6 0a2.3 2.3 0 1 0-4.6 0M535.6 140.7a2.3 2.3 0 1 0 4.6 0a2.3 2.3 0 1 0-4.6 0M533.6 151.1a2.3 2.3 0 1 0 4.6 0a2.3 2.3 0 1 0-4.6 0M591.2 87.4a2.3 2.3 0 1 0 4.6 0a2.3 2.3 0 1 0-4.6 0M543.3 145.0a2.3 2.3 0 1 0 4.6 0a2.3 2.3 0 1 0-4.6 0M563.1 102.8a2.3 2.3 0 1 0 4.6 0a2.3 2.3 0 1 0-4.6 0M606.3 80.7a2.3 2.3 0 1 0 4.6 0a2.3 2.3 0 1 0-4.6 0M540.8 142.2a2.3 2.3 0 1 0 4.6 0a2.3 2.3 0 1 0-4.6 0M616.2 70.9a2.3 2.3 0 1 0 4.6 0a2.3 2.3 0 1 0-4.6 0M559.6 126.3a2.3 2.3 0 1 0 4.6 0a2.3 2.3 0 1 0-4.6 0M550.2 138.5a2.3 2.3 0 1 0 4.6 0a2.3 2.3 0 1 0-4.6 0M622.8 61.9a2.3 2.3 0 1 0 4.6 0a2.3 2.3 0 1 0-4.6 0M554.9 138.0a2.3 2.3 0 1 0 4.6 0a2.3 2.3 0 1 0-4.6 0M540.6 145.3a2.3 2.3 0 1 0 4.6 0a2.3 2.3 0 1 0-4.6 0M524.9 167.1a2.3 2.3 0 1 0 4.6 0a2.3 2.3 0 1 0-4.6 0M569.5 102.7a2.3 2.3 0 1 0 4.6 0a2.3 2.3 0 1 0-4.6 0M541.0 142.2a2.3 2.3 0 1 0 4.6 0a2.3 2.3 0 1 0-4.6 0M523.0 160.0a2.3 2.3 0 1 0 4.6 0a2.3 2.3 0 1 0-4.6 0M515.3 174.3a2.3 2.3 0 1 0 4.6 0a2.3 2.3 0 1 0-4.6 0M524.0 156.7a2.3 2.3 0 1 0 4.6 0a2.3 2.3 0 1 0-4.6 0M560.9 129.4a2.3 2.3 0 1 0 4.6 0a2.3 2.3 0 1 0-4.6 0M572.0 108.5a2.3 2.3 0 1 0 4.6 0a2.3 2.3 0 1 0-4.6 0M514.1 171.2a2.3 2.3 0 1 0 4.6 0a2.3 2.3 0 1 0-4.6 0M530.5 155.5a2.3 2.3 0 1 0 4.6 0a2.3 2.3 0 1 0-4.6 0M521.1 165.3a2.3 2.3 0 1 0 4.6 0a2.3 2.3 0 1 0-4.6 0M615.1 62.8a2.3 2.3 0 1 0 4.6 0a2.3 2.3 0 1 0-4.6 0M614.2 63.5a2.3 2.3 0 1 0 4.6 0a2.3 2.3 0 1 0-4.6 0M615.3 66.4a2.3 2.3 0 1 0 4.6 0a2.3 2.3 0 1 0-4.6 0M598.3 86.0a2.3 2.3 0 1 0 4.6 0a2.3 2.3 0 1 0-4.6 0M544.8 142.8a2.3 2.3 0 1 0 4.6 0a2.3 2.3 0 1 0-4.6 0M539.9 142.4a2.3 2.3 0 1 0 4.6 0a2.3 2.3 0 1 0-4.6 0M565.7 128.1a2.3 2.3 0 1 0 4.6 0a2.3 2.3 0 1 0-4.6 0M579.3 92.6a2.3 2.3 0 1 0 4.6 0a2.3 2.3 0 1 0-4.6 0M599.0 88.0a2.3 2.3 0 1 0 4.6 0a2.3 2.3 0 1 0-4.6 0M632.2 43.9a2.3 2.3 0 1 0 4.6 0a2.3 2.3 0 1 0-4.6 0M595.1 79.7a2.3 2.3 0 1 0 4.6 0a2.3 2.3 0 1 0-4.6 0M549.8 128.9a2.3 2.3 0 1 0 4.6 0a2.3 2.3 0 1 0-4.6 0M632.8 47.9a2.3 2.3 0 1 0 4.6 0a2.3 2.3 0 1 0-4.6 0M548.1 138.9a2.3 2.3 0 1 0 4.6 0a2.3 2.3 0 1 0-4.6 0M584.4 96.9a2.3 2.3 0 1 0 4.6 0a2.3 2.3 0 1 0-4.6 0M519.4 174.4a2.3 2.3 0 1 0 4.6 0a2.3 2.3 0 1 0-4.6 0M661.1 23.2a2.3 2.3 0 1 0 4.6 0a2.3 2.3 0 1 0-4.6 0M551.0 142.5a2.3 2.3 0 1 0 4.6 0a2.3 2.3 0 1 0-4.6 0M582.9 100.2a2.3 2.3 0 1 0 4.6 0a2.3 2.3 0 1 0-4.6 0M546.4 134.6a2.3 2.3 0 1 0 4.6 0a2.3 2.3 0 1 0-4.6 0M667.2 13.0a2.3 2.3 0 1 0 4.6 0a2.3 2.3 0 1 0-4.6 0M529.0 154.3a2.3 2.3 0 1 0 4.6 0a2.3 2.3 0 1 0-4.6 0M537.6 144.9a2.3 2.3 0 1 0 4.6 0a2.3 2.3 0 1 0-4.6 0M625.3 52.2a2.3 2.3 0 1 0 4.6 0a2.3 2.3 0 1 0-4.6 0M537.7 148.0a2.3 2.3 0 1 0 4.6 0a2.3 2.3 0 1 0-4.6 0M605.9 78.1a2.3 2.3 0 1 0 4.6 0a2.3 2.3 0 1 0-4.6 0M573.0 113.7a2.3 2.3 0 1 0 4.6 0a2.3 2.3 0 1 0-4.6 0M524.1 165.1a2.3 2.3 0 1 0 4.6 0a2.3 2.3 0 1 0-4.6 0M547.9 135.9a2.3 2.3 0 1 0 4.6 0a2.3 2.3 0 1 0-4.6 0M527.3 154.2a2.3 2.3 0 1 0 4.6 0a2.3 2.3 0 1 0-4.6 0M536.0 155.2a2.3 2.3 0 1 0 4.6 0a2.3 2.3 0 1 0-4.6 0M539.4 150.6a2.3 2.3 0 1 0 4.6 0a2.3 2.3 0 1 0-4.6 0M631.9 56.4a2.3 2.3 0 1 0 4.6 0a2.3 2.3 0 1 0-4.6 0M644.0 29.7a2.3 2.3 0 1 0 4.6 0a2.3 2.3 0 1 0-4.6 0M624.6 54.2a2.3 2.3 0 1 0 4.6 0a2.3 2.3 0 1 0-4.6 0M562.9 128.3a2.3 2.3 0 1 0 4.6 0a2.3 2.3 0 1 0-4.6 0M522.8 152.4a2.3 2.3 0 1 0 4.6 0a2.3 2.3 0 1 0-4.6 0M523.2 168.9a2.3 2.3 0 1 0 4.6 0a2.3 2.3 0 1 0-4.6 0M522.5 170.0a2.3 2.3 0 1 0 4.6 0a2.3 2.3 0 1 0-4.6 0M602.2 88.3a2.3 2.3 0 1 0 4.6 0a2.3 2.3 0 1 0-4.6 0M528.0 154.9a2.3 2.3 0 1 0 4.6 0a2.3 2.3 0 1 0-4.6 0M607.6 60.4a2.3 2.3 0 1 0 4.6 0a2.3 2.3 0 1 0-4.6 0M526.9 155.2a2.3 2.3 0 1 0 4.6 0a2.3 2.3 0 1 0-4.6 0M604.5 79.2a2.3 2.3 0 1 0 4.6 0a2.3 2.3 0 1 0-4.6 0M546.1 142.5a2.3 2.3 0 1 0 4.6 0a2.3 2.3 0 1 0-4.6 0M540.4 144.3a2.3 2.3 0 1 0 4.6 0a2.3 2.3 0 1 0-4.6 0M571.0 120.0a2.3 2.3 0 1 0 4.6 0a2.3 2.3 0 1 0-4.6 0M519.3 164.7a2.3 2.3 0 1 0 4.6 0a2.3 2.3 0 1 0-4.6 0M673.9 12.8a2.3 2.3 0 1 0 4.6 0a2.3 2.3 0 1 0-4.6 0M534.9 156.3a2.3 2.3 0 1 0 4.6 0a2.3 2.3 0 1 0-4.6 0M515.5 169.4a2.3 2.3 0 1 0 4.6 0a2.3 2.3 0 1 0-4.6 0M538.2 137.5a2.3 2.3 0 1 0 4.6 0a2.3 2.3 0 1 0-4.6 0M520.1 162.9a2.3 2.3 0 1 0 4.6 0a2.3 2.3 0 1 0-4.6 0M516.8 172.6a2.3 2.3 0 1 0 4.6 0a2.3 2.3 0 1 0-4.6 0M518.3 174.0a2.3 2.3 0 1 0 4.6 0a2.3 2.3 0 1 0-4.6 0M514.8 176.1a2.3 2.3 0 1 0 4.6 0a2.3 2.3 0 1 0-4.6 0M573.8 115.7a2.3 2.3 0 1 0 4.6 0a2.3 2.3 0 1 0-4.6 0M597.6 92.9a2.3 2.3 0 1 0 4.6 0a2.3 2.3 0 1 0-4.6 0M561.6 125.6a2.3 2.3 0 1 0 4.6 0a2.3 2.3 0 1 0-4.6 0M543.1 142.7a2.3 2.3 0 1 0 4.6 0a2.3 2.3 0 1 0-4.6 0M612.3 73.4a2.3 2.3 0 1 0 4.6 0a2.3 2.3 0 1 0-4.6 0M547.1 137.1a2.3 2.3 0 1 0 4.6 0a2.3 2.3 0 1 0-4.6 0M588.1 96.1a2.3 2.3 0 1 0 4.6 0a2.3 2.3 0 1 0-4.6 0M566.6 118.6a2.3 2.3 0 1 0 4.6 0a2.3 2.3 0 1 0-4.6 0M545.6 141.5a2.3 2.3 0 1 0 4.6 0a2.3 2.3 0 1 0-4.6 0M569.1 115.3a2.3 2.3 0 1 0 4.6 0a2.3 2.3 0 1 0-4.6 0M517.1 170.9a2.3 2.3 0 1 0 4.6 0a2.3 2.3 0 1 0-4.6 0M532.6 151.2a2.3 2.3 0 1 0 4.6 0a2.3 2.3 0 1 0-4.6 0M545.9 142.6a2.3 2.3 0 1 0 4.6 0a2.3 2.3 0 1 0-4.6 0M535.2 147.0a2.3 2.3 0 1 0 4.6 0a2.3 2.3 0 1 0-4.6 0M582.0 109.2a2.3 2.3 0 1 0 4.6 0a2.3 2.3 0 1 0-4.6 0M595.7 90.0a2.3 2.3 0 1 0 4.6 0a2.3 2.3 0 1 0-4.6 0M512.0 158.0a2.3 2.3 0 1 0 4.6 0a2.3 2.3 0 1 0-4.6 0M575.9 107.3a2.3 2.3 0 1 0 4.6 0a2.3 2.3 0 1 0-4.6 0M571.3 106.6a2.3 2.3 0 1 0 4.6 0a2.3 2.3 0 1 0-4.6 0M565.6 115.0a2.3 2.3 0 1 0 4.6 0a2.3 2.3 0 1 0-4.6 0M553.7 114.7a2.3 2.3 0 1 0 4.6 0a2.3 2.3 0 1 0-4.6 0M567.1 115.7a2.3 2.3 0 1 0 4.6 0a2.3 2.3 0 1 0-4.6 0M555.9 128.7a2.3 2.3 0 1 0 4.6 0a2.3 2.3 0 1 0-4.6 0M558.6 132.5a2.3 2.3 0 1 0 4.6 0a2.3 2.3 0 1 0-4.6 0M513.8 174.6a2.3 2.3 0 1 0 4.6 0a2.3 2.3 0 1 0-4.6 0M675.1 12.9a2.3 2.3 0 1 0 4.6 0a2.3 2.3 0 1 0-4.6 0M580.4 104.2a2.3 2.3 0 1 0 4.6 0a2.3 2.3 0 1 0-4.6 0M546.5 135.1a2.3 2.3 0 1 0 4.6 0a2.3 2.3 0 1 0-4.6 0M561.2 126.6a2.3 2.3 0 1 0 4.6 0a2.3 2.3 0 1 0-4.6 0M523.9 163.9a2.3 2.3 0 1 0 4.6 0a2.3 2.3 0 1 0-4.6 0M578.8 104.7a2.3 2.3 0 1 0 4.6 0a2.3 2.3 0 1 0-4.6 0M570.5 115.2a2.3 2.3 0 1 0 4.6 0a2.3 2.3 0 1 0-4.6 0M629.9 56.7a2.3 2.3 0 1 0 4.6 0a2.3 2.3 0 1 0-4.6 0M596.4 86.6a2.3 2.3 0 1 0 4.6 0a2.3 2.3 0 1 0-4.6 0M537.7 144.8a2.3 2.3 0 1 0 4.6 0a2.3 2.3 0 1 0-4.6 0M667.3 0.8a2.3 2.3 0 1 0 4.6 0a2.3 2.3 0 1 0-4.6 0M542.1 144.0a2.3 2.3 0 1 0 4.6 0a2.3 2.3 0 1 0-4.6 0M536.3 155.9a2.3 2.3 0 1 0 4.6 0a2.3 2.3 0 1 0-4.6 0M534.1 149.7a2.3 2.3 0 1 0 4.6 0a2.3 2.3 0 1 0-4.6 0M523.1 154.3a2.3 2.3 0 1 0 4.6 0a2.3 2.3 0 1 0-4.6 0M627.9 54.7a2.3 2.3 0 1 0 4.6 0a2.3 2.3 0 1 0-4.6 0M524.8 152.2a2.3 2.3 0 1 0 4.6 0a2.3 2.3 0 1 0-4.6 0M631.2 54.2a2.3 2.3 0 1 0 4.6 0a2.3 2.3 0 1 0-4.6 0M512.7 174.9a2.3 2.3 0 1 0 4.6 0a2.3 2.3 0 1 0-4.6 0M530.8 159.3a2.3 2.3 0 1 0 4.6 0a2.3 2.3 0 1 0-4.6 0M557.7 115.0a2.3 2.3 0 1 0 4.6 0a2.3 2.3 0 1 0-4.6 0M551.9 137.8a2.3 2.3 0 1 0 4.6 0a2.3 2.3 0 1 0-4.6 0M656.8 30.1a2.3 2.3 0 1 0 4.6 0a2.3 2.3 0 1 0-4.6 0M540.8 149.7a2.3 2.3 0 1 0 4.6 0a2.3 2.3 0 1 0-4.6 0M547.8 142.0a2.3 2.3 0 1 0 4.6 0a2.3 2.3 0 1 0-4.6 0M526.1 162.8a2.3 2.3 0 1 0 4.6 0a2.3 2.3 0 1 0-4.6 0M659.3 26.4a2.3 2.3 0 1 0 4.6 0a2.3 2.3 0 1 0-4.6 0M643.6 35.3a2.3 2.3 0 1 0 4.6 0a2.3 2.3 0 1 0-4.6 0M551.2 132.0a2.3 2.3 0 1 0 4.6 0a2.3 2.3 0 1 0-4.6 0M510.1 167.0a2.3 2.3 0 1 0 4.6 0a2.3 2.3 0 1 0-4.6 0M595.8 83.0a2.3 2.3 0 1 0 4.6 0a2.3 2.3 0 1 0-4.6 0M557.8 129.3a2.3 2.3 0 1 0 4.6 0a2.3 2.3 0 1 0-4.6 0M653.3 30.2a2.3 2.3 0 1 0 4.6 0a2.3 2.3 0 1 0-4.6 0M584.2 96.9a2.3 2.3 0 1 0 4.6 0a2.3 2.3 0 1 0-4.6 0M540.1 146.5a2.3 2.3 0 1 0 4.6 0a2.3 2.3 0 1 0-4.6 0M612.4 73.4a2.3 2.3 0 1 0 4.6 0a2.3 2.3 0 1 0-4.6 0M514.1 174.5a2.3 2.3 0 1 0 4.6 0a2.3 2.3 0 1 0-4.6 0M526.8 154.9a2.3 2.3 0 1 0 4.6 0a2.3 2.3 0 1 0-4.6 0M575.3 106.4a2.3 2.3 0 1 0 4.6 0a2.3 2.3 0 1 0-4.6 0M526.7 164.6a2.3 2.3 0 1 0 4.6 0a2.3 2.3 0 1 0-4.6 0M542.2 141.4a2.3 2.3 0 1 0 4.6 0a2.3 2.3 0 1 0-4.6 0M520.2 165.8a2.3 2.3 0 1 0 4.6 0a2.3 2.3 0 1 0-4.6 0M575.8 98.4a2.3 2.3 0 1 0 4.6 0a2.3 2.3 0 1 0-4.6 0M519.8 168.3a2.3 2.3 0 1 0 4.6 0a2.3 2.3 0 1 0-4.6 0M525.6 154.4a2.3 2.3 0 1 0 4.6 0a2.3 2.3 0 1 0-4.6 0M511.7 169.0a2.3 2.3 0 1 0 4.6 0a2.3 2.3 0 1 0-4.6 0M582.8 102.6a2.3 2.3 0 1 0 4.6 0a2.3 2.3 0 1 0-4.6 0M537.6 147.3a2.3 2.3 0 1 0 4.6 0a2.3 2.3 0 1 0-4.6 0M548.5 137.3a2.3 2.3 0 1 0 4.6 0a2.3 2.3 0 1 0-4.6 0M552.4 134.8a2.3 2.3 0 1 0 4.6 0a2.3 2.3 0 1 0-4.6 0M588.9 94.2a2.3 2.3 0 1 0 4.6 0a2.3 2.3 0 1 0-4.6 0M515.2 173.1a2.3 2.3 0 1 0 4.6 0a2.3 2.3 0 1 0-4.6 0M554.3 122.0a2.3 2.3 0 1 0 4.6 0a2.3 2.3 0 1 0-4.6 0M546.2 126.7a2.3 2.3 0 1 0 4.6 0a2.3 2.3 0 1 0-4.6 0M557.7 128.9a2.3 2.3 0 1 0 4.6 0a2.3 2.3 0 1 0-4.6 0M584.9 97.4a2.3 2.3 0 1 0 4.6 0a2.3 2.3 0 1 0-4.6 0M517.6 174.1a2.3 2.3 0 1 0 4.6 0a2.3 2.3 0 1 0-4.6 0M557.5 114.3a2.3 2.3 0 1 0 4.6 0a2.3 2.3 0 1 0-4.6 0M547.8 131.8a2.3 2.3 0 1 0 4.6 0a2.3 2.3 0 1 0-4.6 0M586.0 93.3a2.3 2.3 0 1 0 4.6 0a2.3 2.3 0 1 0-4.6 0M613.7 64.8a2.3 2.3 0 1 0 4.6 0a2.3 2.3 0 1 0-4.6 0M520.0 163.9a2.3 2.3 0 1 0 4.6 0a2.3 2.3 0 1 0-4.6 0M524.5 164.7a2.3 2.3 0 1 0 4.6 0a2.3 2.3 0 1 0-4.6 0M528.3 160.5a2.3 2.3 0 1 0 4.6 0a2.3 2.3 0 1 0-4.6 0M565.5 120.6a2.3 2.3 0 1 0 4.6 0a2.3 2.3 0 1 0-4.6 0M558.8 133.8a2.3 2.3 0 1 0 4.6 0a2.3 2.3 0 1 0-4.6 0M561.2 122.7a2.3 2.3 0 1 0 4.6 0a2.3 2.3 0 1 0-4.6 0M607.9 70.2a2.3 2.3 0 1 0 4.6 0a2.3 2.3 0 1 0-4.6 0M541.9 138.9a2.3 2.3 0 1 0 4.6 0a2.3 2.3 0 1 0-4.6 0M659.3 24.2a2.3 2.3 0 1 0 4.6 0a2.3 2.3 0 1 0-4.6 0M533.6 156.7a2.3 2.3 0 1 0 4.6 0a2.3 2.3 0 1 0-4.6 0M537.6 146.7a2.3 2.3 0 1 0 4.6 0a2.3 2.3 0 1 0-4.6 0M512.0 168.8a2.3 2.3 0 1 0 4.6 0a2.3 2.3 0 1 0-4.6 0M614.4 65.0a2.3 2.3 0 1 0 4.6 0a2.3 2.3 0 1 0-4.6 0M635.4 50.8a2.3 2.3 0 1 0 4.6 0a2.3 2.3 0 1 0-4.6 0M532.8 157.8a2.3 2.3 0 1 0 4.6 0a2.3 2.3 0 1 0-4.6 0M576.7 103.2a2.3 2.3 0 1 0 4.6 0a2.3 2.3 0 1 0-4.6 0M557.0 135.4a2.3 2.3 0 1 0 4.6 0a2.3 2.3 0 1 0-4.6 0M594.8 89.7a2.3 2.3 0 1 0 4.6 0a2.3 2.3 0 1 0-4.6 0M652.3 34.2a2.3 2.3 0 1 0 4.6 0a2.3 2.3 0 1 0-4.6 0M601.2 82.9a2.3 2.3 0 1 0 4.6 0a2.3 2.3 0 1 0-4.6 0M545.6 143.1a2.3 2.3 0 1 0 4.6 0a2.3 2.3 0 1 0-4.6 0M529.4 155.7a2.3 2.3 0 1 0 4.6 0a2.3 2.3 0 1 0-4.6 0M584.4 100.6a2.3 2.3 0 1 0 4.6 0a2.3 2.3 0 1 0-4.6 0M531.0 154.7a2.3 2.3 0 1 0 4.6 0a2.3 2.3 0 1 0-4.6 0M552.5 138.3a2.3 2.3 0 1 0 4.6 0a2.3 2.3 0 1 0-4.6 0M541.1 128.6a2.3 2.3 0 1 0 4.6 0a2.3 2.3 0 1 0-4.6 0M587.8 100.6a2.3 2.3 0 1 0 4.6 0a2.3 2.3 0 1 0-4.6 0M521.9 160.3a2.3 2.3 0 1 0 4.6 0a2.3 2.3 0 1 0-4.6 0M617.0 71.3a2.3 2.3 0 1 0 4.6 0a2.3 2.3 0 1 0-4.6 0M576.1 101.3a2.3 2.3 0 1 0 4.6 0a2.3 2.3 0 1 0-4.6 0M532.4 156.3a2.3 2.3 0 1 0 4.6 0a2.3 2.3 0 1 0-4.6 0M521.0 160.9a2.3 2.3 0 1 0 4.6 0a2.3 2.3 0 1 0-4.6 0M655.1 30.2a2.3 2.3 0 1 0 4.6 0a2.3 2.3 0 1 0-4.6 0M540.7 146.2a2.3 2.3 0 1 0 4.6 0a2.3 2.3 0 1 0-4.6 0M557.6 135.3a2.3 2.3 0 1 0 4.6 0a2.3 2.3 0 1 0-4.6 0M515.0 166.9a2.3 2.3 0 1 0 4.6 0a2.3 2.3 0 1 0-4.6 0M588.4 100.5a2.3 2.3 0 1 0 4.6 0a2.3 2.3 0 1 0-4.6 0M536.9 136.0a2.3 2.3 0 1 0 4.6 0a2.3 2.3 0 1 0-4.6 0M594.2 85.2a2.3 2.3 0 1 0 4.6 0a2.3 2.3 0 1 0-4.6 0M590.5 90.9a2.3 2.3 0 1 0 4.6 0a2.3 2.3 0 1 0-4.6 0M646.3 38.1a2.3 2.3 0 1 0 4.6 0a2.3 2.3 0 1 0-4.6 0M550.7 124.4a2.3 2.3 0 1 0 4.6 0a2.3 2.3 0 1 0-4.6 0M511.0 177.3a2.3 2.3 0 1 0 4.6 0a2.3 2.3 0 1 0-4.6 0M519.9 174.5a2.3 2.3 0 1 0 4.6 0a2.3 2.3 0 1 0-4.6 0M565.5 126.0a2.3 2.3 0 1 0 4.6 0a2.3 2.3 0 1 0-4.6 0M555.6 123.8a2.3 2.3 0 1 0 4.6 0a2.3 2.3 0 1 0-4.6 0M518.3 172.0a2.3 2.3 0 1 0 4.6 0a2.3 2.3 0 1 0-4.6 0M583.3 102.7a2.3 2.3 0 1 0 4.6 0a2.3 2.3 0 1 0-4.6 0M541.1 142.2a2.3 2.3 0 1 0 4.6 0a2.3 2.3 0 1 0-4.6 0M574.0 102.8a2.3 2.3 0 1 0 4.6 0a2.3 2.3 0 1 0-4.6 0M525.6 168.9a2.3 2.3 0 1 0 4.6 0a2.3 2.3 0 1 0-4.6 0M532.6 141.8a2.3 2.3 0 1 0 4.6 0a2.3 2.3 0 1 0-4.6 0M532.7 150.2a2.3 2.3 0 1 0 4.6 0a2.3 2.3 0 1 0-4.6 0M581.6 91.2a2.3 2.3 0 1 0 4.6 0a2.3 2.3 0 1 0-4.6 0M513.6 176.6a2.3 2.3 0 1 0 4.6 0a2.3 2.3 0 1 0-4.6 0M581.1 108.0a2.3 2.3 0 1 0 4.6 0a2.3 2.3 0 1 0-4.6 0M515.4 178.7a2.3 2.3 0 1 0 4.6 0a2.3 2.3 0 1 0-4.6 0M565.2 116.6a2.3 2.3 0 1 0 4.6 0a2.3 2.3 0 1 0-4.6 0M526.9 161.6a2.3 2.3 0 1 0 4.6 0a2.3 2.3 0 1 0-4.6 0M664.9 23.1a2.3 2.3 0 1 0 4.6 0a2.3 2.3 0 1 0-4.6 0M510.1 184.3a2.3 2.3 0 1 0 4.6 0a2.3 2.3 0 1 0-4.6 0M585.6 75.4a2.3 2.3 0 1 0 4.6 0a2.3 2.3 0 1 0-4.6 0M542.0 142.9a2.3 2.3 0 1 0 4.6 0a2.3 2.3 0 1 0-4.6 0M542.4 147.4a2.3 2.3 0 1 0 4.6 0a2.3 2.3 0 1 0-4.6 0M562.5 121.3a2.3 2.3 0 1 0 4.6 0a2.3 2.3 0 1 0-4.6 0M611.2 73.1a2.3 2.3 0 1 0 4.6 0a2.3 2.3 0 1 0-4.6 0M575.5 107.2a2.3 2.3 0 1 0 4.6 0a2.3 2.3 0 1 0-4.6 0M560.2 108.8a2.3 2.3 0 1 0 4.6 0a2.3 2.3 0 1 0-4.6 0M578.8 103.7a2.3 2.3 0 1 0 4.6 0a2.3 2.3 0 1 0-4.6 0M528.5 156.6a2.3 2.3 0 1 0 4.6 0a2.3 2.3 0 1 0-4.6 0M600.4 87.5a2.3 2.3 0 1 0 4.6 0a2.3 2.3 0 1 0-4.6 0M648.0 36.8a2.3 2.3 0 1 0 4.6 0a2.3 2.3 0 1 0-4.6 0M624.7 61.6a2.3 2.3 0 1 0 4.6 0a2.3 2.3 0 1 0-4.6 0M569.2 110.1a2.3 2.3 0 1 0 4.6 0a2.3 2.3 0 1 0-4.6 0M524.2 156.3a2.3 2.3 0 1 0 4.6 0a2.3 2.3 0 1 0-4.6 0M517.8 172.0a2.3 2.3 0 1 0 4.6 0a2.3 2.3 0 1 0-4.6 0M597.9 82.9a2.3 2.3 0 1 0 4.6 0a2.3 2.3 0 1 0-4.6 0M591.9 94.3a2.3 2.3 0 1 0 4.6 0a2.3 2.3 0 1 0-4.6 0M565.1 125.9a2.3 2.3 0 1 0 4.6 0a2.3 2.3 0 1 0-4.6 0M612.0 66.0a2.3 2.3 0 1 0 4.6 0a2.3 2.3 0 1 0-4.6 0M575.6 107.6a2.3 2.3 0 1 0 4.6 0a2.3 2.3 0 1 0-4.6 0M586.9 92.8a2.3 2.3 0 1 0 4.6 0a2.3 2.3 0 1 0-4.6 0M599.0 87.0a2.3 2.3 0 1 0 4.6 0a2.3 2.3 0 1 0-4.6 0M538.8 146.3a2.3 2.3 0 1 0 4.6 0a2.3 2.3 0 1 0-4.6 0M630.6 59.2a2.3 2.3 0 1 0 4.6 0a2.3 2.3 0 1 0-4.6 0M636.2 41.1a2.3 2.3 0 1 0 4.6 0a2.3 2.3 0 1 0-4.6 0M529.2 162.3a2.3 2.3 0 1 0 4.6 0a2.3 2.3 0 1 0-4.6 0M569.6 99.6a2.3 2.3 0 1 0 4.6 0a2.3 2.3 0 1 0-4.6 0M518.1 164.5a2.3 2.3 0 1 0 4.6 0a2.3 2.3 0 1 0-4.6 0M559.5 133.6a2.3 2.3 0 1 0 4.6 0a2.3 2.3 0 1 0-4.6 0M567.3 116.0a2.3 2.3 0 1 0 4.6 0a2.3 2.3 0 1 0-4.6 0M569.1 114.4a2.3 2.3 0 1 0 4.6 0a2.3 2.3 0 1 0-4.6 0M566.8 120.1a2.3 2.3 0 1 0 4.6 0a2.3 2.3 0 1 0-4.6 0M552.9 127.0a2.3 2.3 0 1 0 4.6 0a2.3 2.3 0 1 0-4.6 0M596.4 86.6a2.3 2.3 0 1 0 4.6 0a2.3 2.3 0 1 0-4.6 0M530.1 157.9a2.3 2.3 0 1 0 4.6 0a2.3 2.3 0 1 0-4.6 0M610.4 75.5a2.3 2.3 0 1 0 4.6 0a2.3 2.3 0 1 0-4.6 0M581.3 104.8a2.3 2.3 0 1 0 4.6 0a2.3 2.3 0 1 0-4.6 0M574.5 111.3a2.3 2.3 0 1 0 4.6 0a2.3 2.3 0 1 0-4.6 0M547.7 131.9a2.3 2.3 0 1 0 4.6 0a2.3 2.3 0 1 0-4.6 0M534.8 157.2a2.3 2.3 0 1 0 4.6 0a2.3 2.3 0 1 0-4.6 0M647.0 44.9a2.3 2.3 0 1 0 4.6 0a2.3 2.3 0 1 0-4.6 0M535.7 148.5a2.3 2.3 0 1 0 4.6 0a2.3 2.3 0 1 0-4.6 0M513.9 160.0a2.3 2.3 0 1 0 4.6 0a2.3 2.3 0 1 0-4.6 0M547.3 136.0a2.3 2.3 0 1 0 4.6 0a2.3 2.3 0 1 0-4.6 0M595.4 86.2a2.3 2.3 0 1 0 4.6 0a2.3 2.3 0 1 0-4.6 0M553.1 132.6a2.3 2.3 0 1 0 4.6 0a2.3 2.3 0 1 0-4.6 0M517.8 168.0a2.3 2.3 0 1 0 4.6 0a2.3 2.3 0 1 0-4.6 0M613.4 54.4a2.3 2.3 0 1 0 4.6 0a2.3 2.3 0 1 0-4.6 0M550.9 133.9a2.3 2.3 0 1 0 4.6 0a2.3 2.3 0 1 0-4.6 0M524.9 165.2a2.3 2.3 0 1 0 4.6 0a2.3 2.3 0 1 0-4.6 0M523.1 147.8a2.3 2.3 0 1 0 4.6 0a2.3 2.3 0 1 0-4.6 0M530.0 161.3a2.3 2.3 0 1 0 4.6 0a2.3 2.3 0 1 0-4.6 0M532.6 147.8a2.3 2.3 0 1 0 4.6 0a2.3 2.3 0 1 0-4.6 0M525.8 159.8a2.3 2.3 0 1 0 4.6 0a2.3 2.3 0 1 0-4.6 0M529.9 150.9a2.3 2.3 0 1 0 4.6 0a2.3 2.3 0 1 0-4.6 0M553.8 127.9a2.3 2.3 0 1 0 4.6 0a2.3 2.3 0 1 0-4.6 0M536.1 155.3a2.3 2.3 0 1 0 4.6 0a2.3 2.3 0 1 0-4.6 0M519.2 154.0a2.3 2.3 0 1 0 4.6 0a2.3 2.3 0 1 0-4.6 0M662.8 25.4a2.3 2.3 0 1 0 4.6 0a2.3 2.3 0 1 0-4.6 0M652.7 34.9a2.3 2.3 0 1 0 4.6 0a2.3 2.3 0 1 0-4.6 0M659.3 31.2a2.3 2.3 0 1 0 4.6 0a2.3 2.3 0 1 0-4.6 0M625.9 59.1a2.3 2.3 0 1 0 4.6 0a2.3 2.3 0 1 0-4.6 0M573.4 108.7a2.3 2.3 0 1 0 4.6 0a2.3 2.3 0 1 0-4.6 0M549.5 130.1a2.3 2.3 0 1 0 4.6 0a2.3 2.3 0 1 0-4.6 0M562.7 112.9a2.3 2.3 0 1 0 4.6 0a2.3 2.3 0 1 0-4.6 0M648.9 33.4a2.3 2.3 0 1 0 4.6 0a2.3 2.3 0 1 0-4.6 0M536.5 143.7a2.3 2.3 0 1 0 4.6 0a2.3 2.3 0 1 0-4.6 0M546.4 143.4a2.3 2.3 0 1 0 4.6 0a2.3 2.3 0 1 0-4.6 0M541.1 145.1a2.3 2.3 0 1 0 4.6 0a2.3 2.3 0 1 0-4.6 0M556.2 129.7a2.3 2.3 0 1 0 4.6 0a2.3 2.3 0 1 0-4.6 0M631.5 62.9a2.3 2.3 0 1 0 4.6 0a2.3 2.3 0 1 0-4.6 0M556.7 123.8a2.3 2.3 0 1 0 4.6 0a2.3 2.3 0 1 0-4.6 0M531.2 147.0a2.3 2.3 0 1 0 4.6 0a2.3 2.3 0 1 0-4.6 0M532.7 160.0a2.3 2.3 0 1 0 4.6 0a2.3 2.3 0 1 0-4.6 0M518.9 164.2a2.3 2.3 0 1 0 4.6 0a2.3 2.3 0 1 0-4.6 0M550.0 139.1a2.3 2.3 0 1 0 4.6 0a2.3 2.3 0 1 0-4.6 0M524.6 153.7a2.3 2.3 0 1 0 4.6 0a2.3 2.3 0 1 0-4.6 0M563.3 126.8a2.3 2.3 0 1 0 4.6 0a2.3 2.3 0 1 0-4.6 0M537.5 141.9a2.3 2.3 0 1 0 4.6 0a2.3 2.3 0 1 0-4.6 0M547.0 137.4a2.3 2.3 0 1 0 4.6 0a2.3 2.3 0 1 0-4.6 0M608.3 70.3a2.3 2.3 0 1 0 4.6 0a2.3 2.3 0 1 0-4.6 0M597.3 84.0a2.3 2.3 0 1 0 4.6 0a2.3 2.3 0 1 0-4.6 0M595.4 87.7a2.3 2.3 0 1 0 4.6 0a2.3 2.3 0 1 0-4.6 0M620.2 59.0a2.3 2.3 0 1 0 4.6 0a2.3 2.3 0 1 0-4.6 0M558.0 122.7a2.3 2.3 0 1 0 4.6 0a2.3 2.3 0 1 0-4.6 0M528.0 150.3a2.3 2.3 0 1 0 4.6 0a2.3 2.3 0 1 0-4.6 0M670.2 18.3a2.3 2.3 0 1 0 4.6 0a2.3 2.3 0 1 0-4.6 0M545.9 136.3a2.3 2.3 0 1 0 4.6 0a2.3 2.3 0 1 0-4.6 0M627.3 55.7a2.3 2.3 0 1 0 4.6 0a2.3 2.3 0 1 0-4.6 0M674.8 5.4a2.3 2.3 0 1 0 4.6 0a2.3 2.3 0 1 0-4.6 0M578.1 110.6a2.3 2.3 0 1 0 4.6 0a2.3 2.3 0 1 0-4.6 0M514.0 168.3a2.3 2.3 0 1 0 4.6 0a2.3 2.3 0 1 0-4.6 0M541.0 139.5a2.3 2.3 0 1 0 4.6 0a2.3 2.3 0 1 0-4.6 0M600.5 82.8a2.3 2.3 0 1 0 4.6 0a2.3 2.3 0 1 0-4.6 0M562.7 124.7a2.3 2.3 0 1 0 4.6 0a2.3 2.3 0 1 0-4.6 0M545.2 135.5a2.3 2.3 0 1 0 4.6 0a2.3 2.3 0 1 0-4.6 0M514.5 162.8a2.3 2.3 0 1 0 4.6 0a2.3 2.3 0 1 0-4.6 0M542.7 135.4a2.3 2.3 0 1 0 4.6 0a2.3 2.3 0 1 0-4.6 0M539.6 152.6a2.3 2.3 0 1 0 4.6 0a2.3 2.3 0 1 0-4.6 0M528.7 148.7a2.3 2.3 0 1 0 4.6 0a2.3 2.3 0 1 0-4.6 0M634.2 53.9a2.3 2.3 0 1 0 4.6 0a2.3 2.3 0 1 0-4.6 0M580.4 109.2a2.3 2.3 0 1 0 4.6 0a2.3 2.3 0 1 0-4.6 0M519.6 166.7a2.3 2.3 0 1 0 4.6 0a2.3 2.3 0 1 0-4.6 0M516.2 171.8a2.3 2.3 0 1 0 4.6 0a2.3 2.3 0 1 0-4.6 0M519.8 163.5a2.3 2.3 0 1 0 4.6 0a2.3 2.3 0 1 0-4.6 0M591.6 94.4a2.3 2.3 0 1 0 4.6 0a2.3 2.3 0 1 0-4.6 0M590.4 97.9a2.3 2.3 0 1 0 4.6 0a2.3 2.3 0 1 0-4.6 0M545.3 135.6a2.3 2.3 0 1 0 4.6 0a2.3 2.3 0 1 0-4.6 0M526.2 168.0a2.3 2.3 0 1 0 4.6 0a2.3 2.3 0 1 0-4.6 0M546.9 137.5a2.3 2.3 0 1 0 4.6 0a2.3 2.3 0 1 0-4.6 0M522.7 150.5a2.3 2.3 0 1 0 4.6 0a2.3 2.3 0 1 0-4.6 0M571.0 110.7a2.3 2.3 0 1 0 4.6 0a2.3 2.3 0 1 0-4.6 0M517.9 173.4a2.3 2.3 0 1 0 4.6 0a2.3 2.3 0 1 0-4.6 0M668.8 12.6a2.3 2.3 0 1 0 4.6 0a2.3 2.3 0 1 0-4.6 0M611.4 74.8a2.3 2.3 0 1 0 4.6 0a2.3 2.3 0 1 0-4.6 0M599.0 90.1a2.3 2.3 0 1 0 4.6 0a2.3 2.3 0 1 0-4.6 0M608.7 78.3a2.3 2.3 0 1 0 4.6 0a2.3 2.3 0 1 0-4.6 0M517.4 171.0a2.3 2.3 0 1 0 4.6 0a2.3 2.3 0 1 0-4.6 0M548.0 134.9a2.3 2.3 0 1 0 4.6 0a2.3 2.3 0 1 0-4.6 0M619.7 63.7a2.3 2.3 0 1 0 4.6 0a2.3 2.3 0 1 0-4.6 0M548.0 141.4a2.3 2.3 0 1 0 4.6 0a2.3 2.3 0 1 0-4.6 0M637.0 41.2a2.3 2.3 0 1 0 4.6 0a2.3 2.3 0 1 0-4.6 0M528.5 157.2a2.3 2.3 0 1 0 4.6 0a2.3 2.3 0 1 0-4.6 0M557.6 133.7a2.3 2.3 0 1 0 4.6 0a2.3 2.3 0 1 0-4.6 0M565.3 116.1a2.3 2.3 0 1 0 4.6 0a2.3 2.3 0 1 0-4.6 0M528.0 164.8a2.3 2.3 0 1 0 4.6 0a2.3 2.3 0 1 0-4.6 0M550.2 134.7a2.3 2.3 0 1 0 4.6 0a2.3 2.3 0 1 0-4.6 0M567.1 121.8a2.3 2.3 0 1 0 4.6 0a2.3 2.3 0 1 0-4.6 0M544.1 142.6a2.3 2.3 0 1 0 4.6 0a2.3 2.3 0 1 0-4.6 0M644.4 44.0a2.3 2.3 0 1 0 4.6 0a2.3 2.3 0 1 0-4.6 0M675.2 7.5a2.3 2.3 0 1 0 4.6 0a2.3 2.3 0 1 0-4.6 0M601.0 73.0a2.3 2.3 0 1 0 4.6 0a2.3 2.3 0 1 0-4.6 0M567.8 121.0a2.3 2.3 0 1 0 4.6 0a2.3 2.3 0 1 0-4.6 0M609.2 79.8a2.3 2.3 0 1 0 4.6 0a2.3 2.3 0 1 0-4.6 0M535.4 143.6a2.3 2.3 0 1 0 4.6 0a2.3 2.3 0 1 0-4.6 0M595.8 83.9a2.3 2.3 0 1 0 4.6 0a2.3 2.3 0 1 0-4.6 0M542.1 131.7a2.3 2.3 0 1 0 4.6 0a2.3 2.3 0 1 0-4.6 0M509.9 183.0a2.3 2.3 0 1 0 4.6 0a2.3 2.3 0 1 0-4.6 0M666.8 17.6a2.3 2.3 0 1 0 4.6 0a2.3 2.3 0 1 0-4.6 0M623.7 64.6a2.3 2.3 0 1 0 4.6 0a2.3 2.3 0 1 0-4.6 0M543.7 140.8a2.3 2.3 0 1 0 4.6 0a2.3 2.3 0 1 0-4.6 0M564.9 127.1a2.3 2.3 0 1 0 4.6 0a2.3 2.3 0 1 0-4.6 0M571.7 112.3a2.3 2.3 0 1 0 4.6 0a2.3 2.3 0 1 0-4.6 0M533.3 153.5a2.3 2.3 0 1 0 4.6 0a2.3 2.3 0 1 0-4.6 0M591.2 82.3a2.3 2.3 0 1 0 4.6 0a2.3 2.3 0 1 0-4.6 0M583.4 87.3a2.3 2.3 0 1 0 4.6 0a2.3 2.3 0 1 0-4.6 0M570.3 106.6a2.3 2.3 0 1 0 4.6 0a2.3 2.3 0 1 0-4.6 0M532.6 148.1a2.3 2.3 0 1 0 4.6 0a2.3 2.3 0 1 0-4.6 0M523.8 152.8a2.3 2.3 0 1 0 4.6 0a2.3 2.3 0 1 0-4.6 0M570.9 116.3a2.3 2.3 0 1 0 4.6 0a2.3 2.3 0 1 0-4.6 0M595.7 92.1a2.3 2.3 0 1 0 4.6 0a2.3 2.3 0 1 0-4.6 0M579.2 89.1a2.3 2.3 0 1 0 4.6 0a2.3 2.3 0 1 0-4.6 0M560.7 124.4a2.3 2.3 0 1 0 4.6 0a2.3 2.3 0 1 0-4.6 0M544.3 144.5a2.3 2.3 0 1 0 4.6 0a2.3 2.3 0 1 0-4.6 0M575.2 101.5a2.3 2.3 0 1 0 4.6 0a2.3 2.3 0 1 0-4.6 0M558.1 136.0a2.3 2.3 0 1 0 4.6 0a2.3 2.3 0 1 0-4.6 0M572.0 118.3a2.3 2.3 0 1 0 4.6 0a2.3 2.3 0 1 0-4.6 0M546.3 142.8a2.3 2.3 0 1 0 4.6 0a2.3 2.3 0 1 0-4.6 0M581.8 102.9a2.3 2.3 0 1 0 4.6 0a2.3 2.3 0 1 0-4.6 0M538.7 146.5a2.3 2.3 0 1 0 4.6 0a2.3 2.3 0 1 0-4.6 0M549.0 134.9a2.3 2.3 0 1 0 4.6 0a2.3 2.3 0 1 0-4.6 0M534.0 153.1a2.3 2.3 0 1 0 4.6 0a2.3 2.3 0 1 0-4.6 0M602.4 78.2a2.3 2.3 0 1 0 4.6 0a2.3 2.3 0 1 0-4.6 0M541.3 149.4a2.3 2.3 0 1 0 4.6 0a2.3 2.3 0 1 0-4.6 0M548.5 136.9a2.3 2.3 0 1 0 4.6 0a2.3 2.3 0 1 0-4.6 0M516.0 171.9a2.3 2.3 0 1 0 4.6 0a2.3 2.3 0 1 0-4.6 0M593.8 93.3a2.3 2.3 0 1 0 4.6 0a2.3 2.3 0 1 0-4.6 0M531.6 152.4a2.3 2.3 0 1 0 4.6 0a2.3 2.3 0 1 0-4.6 0M523.4 161.8a2.3 2.3 0 1 0 4.6 0a2.3 2.3 0 1 0-4.6 0M527.7 153.5a2.3 2.3 0 1 0 4.6 0a2.3 2.3 0 1 0-4.6 0M543.1 150.2a2.3 2.3 0 1 0 4.6 0a2.3 2.3 0 1 0-4.6 0M561.1 120.5a2.3 2.3 0 1 0 4.6 0a2.3 2.3 0 1 0-4.6 0M577.5 113.3a2.3 2.3 0 1 0 4.6 0a2.3 2.3 0 1 0-4.6 0M536.2 152.7a2.3 2.3 0 1 0 4.6 0a2.3 2.3 0 1 0-4.6 0M649.2 31.4a2.3 2.3 0 1 0 4.6 0a2.3 2.3 0 1 0-4.6 0M636.9 43.5a2.3 2.3 0 1 0 4.6 0a2.3 2.3 0 1 0-4.6 0M523.0 165.0a2.3 2.3 0 1 0 4.6 0a2.3 2.3 0 1 0-4.6 0M511.1 178.6a2.3 2.3 0 1 0 4.6 0a2.3 2.3 0 1 0-4.6 0M646.3 41.7a2.3 2.3 0 1 0 4.6 0a2.3 2.3 0 1 0-4.6 0M556.1 120.9a2.3 2.3 0 1 0 4.6 0a2.3 2.3 0 1 0-4.6 0M521.5 166.4a2.3 2.3 0 1 0 4.6 0a2.3 2.3 0 1 0-4.6 0M666.6 18.3a2.3 2.3 0 1 0 4.6 0a2.3 2.3 0 1 0-4.6 0M515.0 173.4a2.3 2.3 0 1 0 4.6 0a2.3 2.3 0 1 0-4.6 0M538.9 145.6a2.3 2.3 0 1 0 4.6 0a2.3 2.3 0 1 0-4.6 0M534.4 146.7a2.3 2.3 0 1 0 4.6 0a2.3 2.3 0 1 0-4.6 0M521.4 167.8a2.3 2.3 0 1 0 4.6 0a2.3 2.3 0 1 0-4.6 0M537.7 139.8a2.3 2.3 0 1 0 4.6 0a2.3 2.3 0 1 0-4.6 0M581.6 101.2a2.3 2.3 0 1 0 4.6 0a2.3 2.3 0 1 0-4.6 0M545.0 136.3a2.3 2.3 0 1 0 4.6 0a2.3 2.3 0 1 0-4.6 0M539.0 145.9a2.3 2.3 0 1 0 4.6 0a2.3 2.3 0 1 0-4.6 0M555.5 130.0a2.3 2.3 0 1 0 4.6 0a2.3 2.3 0 1 0-4.6 0M626.8 58.3a2.3 2.3 0 1 0 4.6 0a2.3 2.3 0 1 0-4.6 0M540.7 136.5a2.3 2.3 0 1 0 4.6 0a2.3 2.3 0 1 0-4.6 0M567.2 129.4a2.3 2.3 0 1 0 4.6 0a2.3 2.3 0 1 0-4.6 0M527.4 161.6a2.3 2.3 0 1 0 4.6 0a2.3 2.3 0 1 0-4.6 0M522.7 150.9a2.3 2.3 0 1 0 4.6 0a2.3 2.3 0 1 0-4.6 0M560.9 111.6a2.3 2.3 0 1 0 4.6 0a2.3 2.3 0 1 0-4.6 0M614.2 73.4a2.3 2.3 0 1 0 4.6 0a2.3 2.3 0 1 0-4.6 0M540.4 145.8a2.3 2.3 0 1 0 4.6 0a2.3 2.3 0 1 0-4.6 0M600.6 80.6a2.3 2.3 0 1 0 4.6 0a2.3 2.3 0 1 0-4.6 0M552.8 134.7a2.3 2.3 0 1 0 4.6 0a2.3 2.3 0 1 0-4.6 0M668.4 19.7a2.3 2.3 0 1 0 4.6 0a2.3 2.3 0 1 0-4.6 0M548.9 127.6a2.3 2.3 0 1 0 4.6 0a2.3 2.3 0 1 0-4.6 0M555.0 129.4a2.3 2.3 0 1 0 4.6 0a2.3 2.3 0 1 0-4.6 0M559.3 128.5a2.3 2.3 0 1 0 4.6 0a2.3 2.3 0 1 0-4.6 0M553.7 134.5a2.3 2.3 0 1 0 4.6 0a2.3 2.3 0 1 0-4.6 0M518.4 170.4a2.3 2.3 0 1 0 4.6 0a2.3 2.3 0 1 0-4.6 0M555.4 125.7a2.3 2.3 0 1 0 4.6 0a2.3 2.3 0 1 0-4.6 0M533.4 143.4a2.3 2.3 0 1 0 4.6 0a2.3 2.3 0 1 0-4.6 0M567.5 114.2a2.3 2.3 0 1 0 4.6 0a2.3 2.3 0 1 0-4.6 0M511.7 158.6a2.3 2.3 0 1 0 4.6 0a2.3 2.3 0 1 0-4.6 0M559.1 132.7a2.3 2.3 0 1 0 4.6 0a2.3 2.3 0 1 0-4.6 0M566.4 119.8a2.3 2.3 0 1 0 4.6 0a2.3 2.3 0 1 0-4.6 0M551.9 122.3a2.3 2.3 0 1 0 4.6 0a2.3 2.3 0 1 0-4.6 0M596.0 89.1a2.3 2.3 0 1 0 4.6 0a2.3 2.3 0 1 0-4.6 0M537.0 152.1a2.3 2.3 0 1 0 4.6 0a2.3 2.3 0 1 0-4.6 0M540.3 151.0a2.3 2.3 0 1 0 4.6 0a2.3 2.3 0 1 0-4.6 0M597.1 87.9a2.3 2.3 0 1 0 4.6 0a2.3 2.3 0 1 0-4.6 0M520.5 165.2a2.3 2.3 0 1 0 4.6 0a2.3 2.3 0 1 0-4.6 0M600.3 69.2a2.3 2.3 0 1 0 4.6 0a2.3 2.3 0 1 0-4.6 0M600.6 74.7a2.3 2.3 0 1 0 4.6 0a2.3 2.3 0 1 0-4.6 0M558.0 130.4a2.3 2.3 0 1 0 4.6 0a2.3 2.3 0 1 0-4.6 0M578.5 102.1a2.3 2.3 0 1 0 4.6 0a2.3 2.3 0 1 0-4.6 0M597.4 85.4a2.3 2.3 0 1 0 4.6 0a2.3 2.3 0 1 0-4.6 0M592.4 97.5a2.3 2.3 0 1 0 4.6 0a2.3 2.3 0 1 0-4.6 0M539.9 132.4a2.3 2.3 0 1 0 4.6 0a2.3 2.3 0 1 0-4.6 0M559.4 122.9a2.3 2.3 0 1 0 4.6 0a2.3 2.3 0 1 0-4.6 0M598.0 79.9a2.3 2.3 0 1 0 4.6 0a2.3 2.3 0 1 0-4.6 0M531.9 152.8a2.3 2.3 0 1 0 4.6 0a2.3 2.3 0 1 0-4.6 0M524.3 166.4a2.3 2.3 0 1 0 4.6 0a2.3 2.3 0 1 0-4.6 0M566.3 116.2a2.3 2.3 0 1 0 4.6 0a2.3 2.3 0 1 0-4.6 0M566.2 126.5a2.3 2.3 0 1 0 4.6 0a2.3 2.3 0 1 0-4.6 0M664.6 21.9a2.3 2.3 0 1 0 4.6 0a2.3 2.3 0 1 0-4.6 0M603.5 67.8a2.3 2.3 0 1 0 4.6 0a2.3 2.3 0 1 0-4.6 0M647.4 38.2a2.3 2.3 0 1 0 4.6 0a2.3 2.3 0 1 0-4.6 0M669.1 11.1a2.3 2.3 0 1 0 4.6 0a2.3 2.3 0 1 0-4.6 0M529.2 156.2a2.3 2.3 0 1 0 4.6 0a2.3 2.3 0 1 0-4.6 0M570.5 107.7a2.3 2.3 0 1 0 4.6 0a2.3 2.3 0 1 0-4.6 0M609.8 68.6a2.3 2.3 0 1 0 4.6 0a2.3 2.3 0 1 0-4.6 0M588.0 96.6a2.3 2.3 0 1 0 4.6 0a2.3 2.3 0 1 0-4.6 0M607.6 86.5a2.3 2.3 0 1 0 4.6 0a2.3 2.3 0 1 0-4.6 0M532.8 157.2a2.3 2.3 0 1 0 4.6 0a2.3 2.3 0 1 0-4.6 0M551.5 139.8a2.3 2.3 0 1 0 4.6 0a2.3 2.3 0 1 0-4.6 0M554.8 115.6a2.3 2.3 0 1 0 4.6 0a2.3 2.3 0 1 0-4.6 0M628.9 54.9a2.3 2.3 0 1 0 4.6 0a2.3 2.3 0 1 0-4.6 0M545.1 146.2a2.3 2.3 0 1 0 4.6 0a2.3 2.3 0 1 0-4.6 0M533.4 148.3a2.3 2.3 0 1 0 4.6 0a2.3 2.3 0 1 0-4.6 0M518.8 163.7a2.3 2.3 0 1 0 4.6 0a2.3 2.3 0 1 0-4.6 0M599.0 88.5a2.3 2.3 0 1 0 4.6 0a2.3 2.3 0 1 0-4.6 0M537.6 145.3a2.3 2.3 0 1 0 4.6 0a2.3 2.3 0 1 0-4.6 0M564.4 111.7a2.3 2.3 0 1 0 4.6 0a2.3 2.3 0 1 0-4.6 0M537.0 127.1a2.3 2.3 0 1 0 4.6 0a2.3 2.3 0 1 0-4.6 0M513.8 169.5a2.3 2.3 0 1 0 4.6 0a2.3 2.3 0 1 0-4.6 0M513.2 179.6a2.3 2.3 0 1 0 4.6 0a2.3 2.3 0 1 0-4.6 0M664.0 27.1a2.3 2.3 0 1 0 4.6 0a2.3 2.3 0 1 0-4.6 0M555.5 129.3a2.3 2.3 0 1 0 4.6 0a2.3 2.3 0 1 0-4.6 0M529.4 143.9a2.3 2.3 0 1 0 4.6 0a2.3 2.3 0 1 0-4.6 0M612.7 68.7a2.3 2.3 0 1 0 4.6 0a2.3 2.3 0 1 0-4.6 0M556.5 109.8a2.3 2.3 0 1 0 4.6 0a2.3 2.3 0 1 0-4.6 0M581.6 94.6a2.3 2.3 0 1 0 4.6 0a2.3 2.3 0 1 0-4.6 0M558.8 124.0a2.3 2.3 0 1 0 4.6 0a2.3 2.3 0 1 0-4.6 0M547.5 140.8a2.3 2.3 0 1 0 4.6 0a2.3 2.3 0 1 0-4.6 0M517.7 164.5a2.3 2.3 0 1 0 4.6 0a2.3 2.3 0 1 0-4.6 0M547.6 144.8a2.3 2.3 0 1 0 4.6 0a2.3 2.3 0 1 0-4.6 0M537.3 152.9a2.3 2.3 0 1 0 4.6 0a2.3 2.3 0 1 0-4.6 0M601.4 87.0a2.3 2.3 0 1 0 4.6 0a2.3 2.3 0 1 0-4.6 0M658.7 16.1a2.3 2.3 0 1 0 4.6 0a2.3 2.3 0 1 0-4.6 0M547.2 130.4a2.3 2.3 0 1 0 4.6 0a2.3 2.3 0 1 0-4.6 0M649.5 24.8a2.3 2.3 0 1 0 4.6 0a2.3 2.3 0 1 0-4.6 0M545.4 146.0a2.3 2.3 0 1 0 4.6 0a2.3 2.3 0 1 0-4.6 0M526.9 161.4a2.3 2.3 0 1 0 4.6 0a2.3 2.3 0 1 0-4.6 0M551.9 129.5a2.3 2.3 0 1 0 4.6 0a2.3 2.3 0 1 0-4.6 0M577.4 111.9a2.3 2.3 0 1 0 4.6 0a2.3 2.3 0 1 0-4.6 0M595.6 85.3a2.3 2.3 0 1 0 4.6 0a2.3 2.3 0 1 0-4.6 0M555.7 123.4a2.3 2.3 0 1 0 4.6 0a2.3 2.3 0 1 0-4.6 0M615.1 73.2a2.3 2.3 0 1 0 4.6 0a2.3 2.3 0 1 0-4.6 0M517.7 167.2a2.3 2.3 0 1 0 4.6 0a2.3 2.3 0 1 0-4.6 0M527.9 155.4a2.3 2.3 0 1 0 4.6 0a2.3 2.3 0 1 0-4.6 0M543.7 149.8a2.3 2.3 0 1 0 4.6 0a2.3 2.3 0 1 0-4.6 0M570.3 107.4a2.3 2.3 0 1 0 4.6 0a2.3 2.3 0 1 0-4.6 0M624.2 67.1a2.3 2.3 0 1 0 4.6 0a2.3 2.3 0 1 0-4.6 0M562.8 132.5a2.3 2.3 0 1 0 4.6 0a2.3 2.3 0 1 0-4.6 0M536.2 142.9a2.3 2.3 0 1 0 4.6 0a2.3 2.3 0 1 0-4.6 0M599.2 86.4a2.3 2.3 0 1 0 4.6 0a2.3 2.3 0 1 0-4.6 0M526.3 159.3a2.3 2.3 0 1 0 4.6 0a2.3 2.3 0 1 0-4.6 0M626.0 60.4a2.3 2.3 0 1 0 4.6 0a2.3 2.3 0 1 0-4.6 0M549.9 139.6a2.3 2.3 0 1 0 4.6 0a2.3 2.3 0 1 0-4.6 0M568.8 112.4a2.3 2.3 0 1 0 4.6 0a2.3 2.3 0 1 0-4.6 0M533.0 149.8a2.3 2.3 0 1 0 4.6 0a2.3 2.3 0 1 0-4.6 0M573.4 108.1a2.3 2.3 0 1 0 4.6 0a2.3 2.3 0 1 0-4.6 0M570.1 120.2a2.3 2.3 0 1 0 4.6 0a2.3 2.3 0 1 0-4.6 0M659.5 24.9a2.3 2.3 0 1 0 4.6 0a2.3 2.3 0 1 0-4.6 0M625.9 66.9a2.3 2.3 0 1 0 4.6 0a2.3 2.3 0 1 0-4.6 0M541.1 146.1a2.3 2.3 0 1 0 4.6 0a2.3 2.3 0 1 0-4.6 0M544.7 142.3a2.3 2.3 0 1 0 4.6 0a2.3 2.3 0 1 0-4.6 0M547.9 137.5a2.3 2.3 0 1 0 4.6 0a2.3 2.3 0 1 0-4.6 0" fill="none" stroke="#6a6a6a" stroke-width="0.55"/>
</g>
<g clip-path="url(#c2)"><line x1="458.27" y1="235.37" x2="748.90" y2="-58.48" stroke="#181818" stroke-width="1.1"/></g>
<line x1="505.00" y1="-0.05" x2="505.00" y2="187.05" stroke="#888" stroke-width="1.60"/>
<line x1="683.50" y1="-0.05" x2="683.50" y2="187.05" stroke="#3a3a3a" stroke-width="1.00"/>
<line x1="505.00" y1="0.45" x2="683.50" y2="0.45" stroke="#6e6e6e" stroke-width="1.00"/>
<line x1="505.00" y1="186.50" x2="683.50" y2="186.50" stroke="#484848" stroke-width="1.10"/>
<path d="M516.40 186.50v3.6M505.00 176.60h-3.6M555.15 186.50v3.6M505.00 137.42h-3.6M593.90 186.50v3.6M505.00 98.24h-3.6M632.65 186.50v3.6M505.00 59.06h-3.6M671.40 186.50v3.6M505.00 19.88h-3.6" stroke="#4a4a4a" stroke-width="1.1" fill="none"/>
<text x="516.40" y="201.10" font-size="11.0" fill="#111" text-anchor="middle">0.0</text>
<text x="498.70" y="181.45" font-size="11.0" fill="#111" text-anchor="end">0.0</text>
<text x="555.15" y="201.10" font-size="11.0" fill="#111" text-anchor="middle">0.2</text>
<text x="498.70" y="142.27" font-size="11.0" fill="#111" text-anchor="end">0.2</text>
<text x="593.90" y="201.10" font-size="11.0" fill="#111" text-anchor="middle">0.4</text>
<text x="498.70" y="103.09" font-size="11.0" fill="#111" text-anchor="end">0.4</text>
<text x="632.65" y="201.10" font-size="11.0" fill="#111" text-anchor="middle">0.6</text>
<text x="498.70" y="63.91" font-size="11.0" fill="#111" text-anchor="end">0.6</text>
<text x="671.40" y="201.10" font-size="11.0" fill="#111" text-anchor="middle">0.8</text>
<text x="498.70" y="24.73" font-size="11.0" fill="#111" text-anchor="end">0.8</text>
<text x="594.40" y="218.70" font-size="14.1" fill="#111" text-anchor="middle" letter-spacing="0.3">PCR-HAT</text>
<text transform="translate(476.70 92.97) rotate(-90)" font-size="14.1" fill="#111" text-anchor="middle">BLUP-HAT</text>
<clipPath id="c3"><rect x="39.55" y="233.50" width="178.90" height="185.50"/></clipPath>
<g clip-path="url(#c3)">
<path d="M165.2 285.3a2.3 2.3 0 1 0 4.6 0a2.3 2.3 0 1 0-4.6 0M49.0 410.8a2.3 2.3 0 1 0 4.6 0a2.3 2.3 0 1 0-4.6 0M60.9 403.0a2.3 2.3 0 1 0 4.6 0a2.3 2.3 0 1 0-4.6 0M114.5 338.8a2.3 2.3 0 1 0 4.6 0a2.3 2.3 0 1 0-4.6 0M154.6 301.4a2.3 2.3 0 1 0 4.6 0a2.3 2.3 0 1 0-4.6 0M105.2 349.9a2.3 2.3 0 1 0 4.6 0a2.3 2.3 0 1 0-4.6 0M49.0 410.7a2.3 2.3 0 1 0 4.6 0a2.3 2.3 0 1 0-4.6 0M64.3 410.4a2.3 2.3 0 1 0 4.6 0a2.3 2.3 0 1 0-4.6 0M178.7 273.7a2.3 2.3 0 1 0 4.6 0a2.3 2.3 0 1 0-4.6 0M145.6 314.3a2.3 2.3 0 1 0 4.6 0a2.3 2.3 0 1 0-4.6 0M162.0 291.1a2.3 2.3 0 1 0 4.6 0a2.3 2.3 0 1 0-4.6 0M85.8 372.0a2.3 2.3 0 1 0 4.6 0a2.3 2.3 0 1 0-4.6 0M116.4 335.2a2.3 2.3 0 1 0 4.6 0a2.3 2.3 0 1 0-4.6 0M200.6 247.3a2.3 2.3 0 1 0 4.6 0a2.3 2.3 0 1 0-4.6 0M100.7 353.3a2.3 2.3 0 1 0 4.6 0a2.3 2.3 0 1 0-4.6 0M141.6 312.6a2.3 2.3 0 1 0 4.6 0a2.3 2.3 0 1 0-4.6 0M101.7 359.7a2.3 2.3 0 1 0 4.6 0a2.3 2.3 0 1 0-4.6 0M55.3 410.1a2.3 2.3 0 1 0 4.6 0a2.3 2.3 0 1 0-4.6 0M201.0 245.9a2.3 2.3 0 1 0 4.6 0a2.3 2.3 0 1 0-4.6 0M59.7 403.6a2.3 2.3 0 1 0 4.6 0a2.3 2.3 0 1 0-4.6 0M84.0 374.9a2.3 2.3 0 1 0 4.6 0a2.3 2.3 0 1 0-4.6 0M57.3 410.3a2.3 2.3 0 1 0 4.6 0a2.3 2.3 0 1 0-4.6 0M95.2 374.2a2.3 2.3 0 1 0 4.6 0a2.3 2.3 0 1 0-4.6 0M122.5 331.3a2.3 2.3 0 1 0 4.6 0a2.3 2.3 0 1 0-4.6 0M109.5 347.0a2.3 2.3 0 1 0 4.6 0a2.3 2.3 0 1 0-4.6 0M113.9 352.9a2.3 2.3 0 1 0 4.6 0a2.3 2.3 0 1 0-4.6 0M143.1 313.4a2.3 2.3 0 1 0 4.6 0a2.3 2.3 0 1 0-4.6 0M125.7 327.1a2.3 2.3 0 1 0 4.6 0a2.3 2.3 0 1 0-4.6 0M134.0 329.0a2.3 2.3 0 1 0 4.6 0a2.3 2.3 0 1 0-4.6 0M196.9 253.0a2.3 2.3 0 1 0 4.6 0a2.3 2.3 0 1 0-4.6 0M177.5 273.9a2.3 2.3 0 1 0 4.6 0a2.3 2.3 0 1 0-4.6 0M92.7 365.7a2.3 2.3 0 1 0 4.6 0a2.3 2.3 0 1 0-4.6 0M70.7 398.4a2.3 2.3 0 1 0 4.6 0a2.3 2.3 0 1 0-4.6 0M84.3 378.0a2.3 2.3 0 1 0 4.6 0a2.3 2.3 0 1 0-4.6 0M200.2 247.9a2.3 2.3 0 1 0 4.6 0a2.3 2.3 0 1 0-4.6 0M99.7 369.2a2.3 2.3 0 1 0 4.6 0a2.3 2.3 0 1 0-4.6 0M133.9 326.1a2.3 2.3 0 1 0 4.6 0a2.3 2.3 0 1 0-4.6 0M63.2 400.6a2.3 2.3 0 1 0 4.6 0a2.3 2.3 0 1 0-4.6 0M115.3 349.8a2.3 2.3 0 1 0 4.6 0a2.3 2.3 0 1 0-4.6 0M148.8 312.1a2.3 2.3 0 1 0 4.6 0a2.3 2.3 0 1 0-4.6 0M165.1 286.7a2.3 2.3 0 1 0 4.6 0a2.3 2.3 0 1 0-4.6 0M83.0 381.5a2.3 2.3 0 1 0 4.6 0a2.3 2.3 0 1 0-4.6 0M175.4 274.6a2.3 2.3 0 1 0 4.6 0a2.3 2.3 0 1 0-4.6 0M96.5 363.6a2.3 2.3 0 1 0 4.6 0a2.3 2.3 0 1 0-4.6 0M80.2 379.7a2.3 2.3 0 1 0 4.6 0a2.3 2.3 0 1 0-4.6 0M149.7 313.3a2.3 2.3 0 1 0 4.6 0a2.3 2.3 0 1 0-4.6 0M117.7 339.4a2.3 2.3 0 1 0 4.6 0a2.3 2.3 0 1 0-4.6 0M84.8 373.9a2.3 2.3 0 1 0 4.6 0a2.3 2.3 0 1 0-4.6 0M85.9 377.6a2.3 2.3 0 1 0 4.6 0a2.3 2.3 0 1 0-4.6 0M97.7 359.8a2.3 2.3 0 1 0 4.6 0a2.3 2.3 0 1 0-4.6 0M63.9 401.6a2.3 2.3 0 1 0 4.6 0a2.3 2.3 0 1 0-4.6 0M73.0 392.9a2.3 2.3 0 1 0 4.6 0a2.3 2.3 0 1 0-4.6 0M95.4 366.1a2.3 2.3 0 1 0 4.6 0a2.3 2.3 0 1 0-4.6 0M76.1 384.8a2.3 2.3 0 1 0 4.6 0a2.3 2.3 0 1 0-4.6 0M80.3 379.0a2.3 2.3 0 1 0 4.6 0a2.3 2.3 0 1 0-4.6 0M55.9 410.9a2.3 2.3 0 1 0 4.6 0a2.3 2.3 0 1 0-4.6 0M108.7 347.4a2.3 2.3 0 1 0 4.6 0a2.3 2.3 0 1 0-4.6 0M62.5 403.1a2.3 2.3 0 1 0 4.6 0a2.3 2.3 0 1 0-4.6 0M69.9 399.0a2.3 2.3 0 1 0 4.6 0a2.3 2.3 0 1 0-4.6 0M84.9 374.6a2.3 2.3 0 1 0 4.6 0a2.3 2.3 0 1 0-4.6 0M71.0 388.5a2.3 2.3 0 1 0 4.6 0a2.3 2.3 0 1 0-4.6 0M80.9 383.2a2.3 2.3 0 1 0 4.6 0a2.3 2.3 0 1 0-4.6 0M88.2 372.3a2.3 2.3 0 1 0 4.6 0a2.3 2.3 0 1 0-4.6 0M95.9 365.5a2.3 2.3 0 1 0 4.6 0a2.3 2.3 0 1 0-4.6 0M151.0 301.4a2.3 2.3 0 1 0 4.6 0a2.3 2.3 0 1 0-4.6 0M115.1 352.5a2.3 2.3 0 1 0 4.6 0a2.3 2.3 0 1 0-4.6 0M78.1 383.6a2.3 2.3 0 1 0 4.6 0a2.3 2.3 0 1 0-4.6 0M64.9 396.0a2.3 2.3 0 1 0 4.6 0a2.3 2.3 0 1 0-4.6 0M47.1 410.8a2.3 2.3 0 1 0 4.6 0a2.3 2.3 0 1 0-4.6 0M155.3 307.9a2.3 2.3 0 1 0 4.6 0a2.3 2.3 0 1 0-4.6 0M66.8 394.4a2.3 2.3 0 1 0 4.6 0a2.3 2.3 0 1 0-4.6 0M134.0 322.8a2.3 2.3 0 1 0 4.6 0a2.3 2.3 0 1 0-4.6 0M74.3 391.2a2.3 2.3 0 1 0 4.6 0a2.3 2.3 0 1 0-4.6 0M123.8 332.0a2.3 2.3 0 1 0 4.6 0a2.3 2.3 0 1 0-4.6 0M180.3 271.1a2.3 2.3 0 1 0 4.6 0a2.3 2.3 0 1 0-4.6 0M54.5 410.8a2.3 2.3 0 1 0 4.6 0a2.3 2.3 0 1 0-4.6 0M70.2 391.1a2.3 2.3 0 1 0 4.6 0a2.3 2.3 0 1 0-4.6 0M94.9 382.8a2.3 2.3 0 1 0 4.6 0a2.3 2.3 0 1 0-4.6 0M84.1 369.6a2.3 2.3 0 1 0 4.6 0a2.3 2.3 0 1 0-4.6 0M72.9 392.4a2.3 2.3 0 1 0 4.6 0a2.3 2.3 0 1 0-4.6 0M61.5 405.2a2.3 2.3 0 1 0 4.6 0a2.3 2.3 0 1 0-4.6 0M154.2 300.5a2.3 2.3 0 1 0 4.6 0a2.3 2.3 0 1 0-4.6 0M90.2 368.4a2.3 2.3 0 1 0 4.6 0a2.3 2.3 0 1 0-4.6 0M66.2 392.6a2.3 2.3 0 1 0 4.6 0a2.3 2.3 0 1 0-4.6 0M75.5 383.2a2.3 2.3 0 1 0 4.6 0a2.3 2.3 0 1 0-4.6 0M99.2 364.6a2.3 2.3 0 1 0 4.6 0a2.3 2.3 0 1 0-4.6 0M49.0 410.8a2.3 2.3 0 1 0 4.6 0a2.3 2.3 0 1 0-4.6 0M129.9 329.4a2.3 2.3 0 1 0 4.6 0a2.3 2.3 0 1 0-4.6 0M101.5 367.6a2.3 2.3 0 1 0 4.6 0a2.3 2.3 0 1 0-4.6 0M105.4 364.3a2.3 2.3 0 1 0 4.6 0a2.3 2.3 0 1 0-4.6 0M51.3 411.2a2.3 2.3 0 1 0 4.6 0a2.3 2.3 0 1 0-4.6 0M139.9 321.0a2.3 2.3 0 1 0 4.6 0a2.3 2.3 0 1 0-4.6 0M59.4 410.6a2.3 2.3 0 1 0 4.6 0a2.3 2.3 0 1 0-4.6 0M116.7 343.7a2.3 2.3 0 1 0 4.6 0a2.3 2.3 0 1 0-4.6 0M163.9 289.3a2.3 2.3 0 1 0 4.6 0a2.3 2.3 0 1 0-4.6 0M96.6 360.9a2.3 2.3 0 1 0 4.6 0a2.3 2.3 0 1 0-4.6 0M180.0 273.2a2.3 2.3 0 1 0 4.6 0a2.3 2.3 0 1 0-4.6 0M95.3 361.3a2.3 2.3 0 1 0 4.6 0a2.3 2.3 0 1 0-4.6 0M116.0 357.2a2.3 2.3 0 1 0 4.6 0a2.3 2.3 0 1 0-4.6 0M48.9 410.8a2.3 2.3 0 1 0 4.6 0a2.3 2.3 0 1 0-4.6 0M53.6 411.0a2.3 2.3 0 1 0 4.6 0a2.3 2.3 0 1 0-4.6 0M89.8 365.7a2.3 2.3 0 1 0 4.6 0a2.3 2.3 0 1 0-4.6 0M132.9 323.8a2.3 2.3 0 1 0 4.6 0a2.3 2.3 0 1 0-4.6 0M93.4 366.1a2.3 2.3 0 1 0 4.6 0a2.3 2.3 0 1 0-4.6 0M163.3 289.4a2.3 2.3 0 1 0 4.6 0a2.3 2.3 0 1 0-4.6 0M114.6 344.5a2.3 2.3 0 1 0 4.6 0a2.3 2.3 0 1 0-4.6 0M105.9 351.2a2.3 2.3 0 1 0 4.6 0a2.3 2.3 0 1 0-4.6 0M107.0 352.9a2.3 2.3 0 1 0 4.6 0a2.3 2.3 0 1 0-4.6 0M158.1 297.5a2.3 2.3 0 1 0 4.6 0a2.3 2.3 0 1 0-4.6 0M148.6 307.4a2.3 2.3 0 1 0 4.6 0a2.3 2.3 0 1 0-4.6 0M98.1 370.3a2.3 2.3 0 1 0 4.6 0a2.3 2.3 0 1 0-4.6 0M166.9 287.0a2.3 2.3 0 1 0 4.6 0a2.3 2.3 0 1 0-4.6 0M160.7 292.7a2.3 2.3 0 1 0 4.6 0a2.3 2.3 0 1 0-4.6 0M83.7 374.0a2.3 2.3 0 1 0 4.6 0a2.3 2.3 0 1 0-4.6 0M156.6 297.1a2.3 2.3 0 1 0 4.6 0a2.3 2.3 0 1 0-4.6 0M82.4 376.2a2.3 2.3 0 1 0 4.6 0a2.3 2.3 0 1 0-4.6 0M64.2 397.2a2.3 2.3 0 1 0 4.6 0a2.3 2.3 0 1 0-4.6 0M62.4 411.1a2.3 2.3 0 1 0 4.6 0a2.3 2.3 0 1 0-4.6 0M109.5 348.1a2.3 2.3 0 1 0 4.6 0a2.3 2.3 0 1 0-4.6 0M95.0 371.9a2.3 2.3 0 1 0 4.6 0a2.3 2.3 0 1 0-4.6 0M95.7 364.6a2.3 2.3 0 1 0 4.6 0a2.3 2.3 0 1 0-4.6 0M114.0 344.4a2.3 2.3 0 1 0 4.6 0a2.3 2.3 0 1 0-4.6 0M54.4 410.7a2.3 2.3 0 1 0 4.6 0a2.3 2.3 0 1 0-4.6 0M58.0 404.4a2.3 2.3 0 1 0 4.6 0a2.3 2.3 0 1 0-4.6 0M125.7 328.6a2.3 2.3 0 1 0 4.6 0a2.3 2.3 0 1 0-4.6 0M161.5 296.1a2.3 2.3 0 1 0 4.6 0a2.3 2.3 0 1 0-4.6 0M58.1 410.1a2.3 2.3 0 1 0 4.6 0a2.3 2.3 0 1 0-4.6 0M55.0 410.7a2.3 2.3 0 1 0 4.6 0a2.3 2.3 0 1 0-4.6 0M102.9 364.1a2.3 2.3 0 1 0 4.6 0a2.3 2.3 0 1 0-4.6 0M90.8 372.4a2.3 2.3 0 1 0 4.6 0a2.3 2.3 0 1 0-4.6 0M99.1 357.7a2.3 2.3 0 1 0 4.6 0a2.3 2.3 0 1 0-4.6 0M91.4 369.8a2.3 2.3 0 1 0 4.6 0a2.3 2.3 0 1 0-4.6 0M63.5 401.4a2.3 2.3 0 1 0 4.6 0a2.3 2.3 0 1 0-4.6 0M119.7 343.7a2.3 2.3 0 1 0 4.6 0a2.3 2.3 0 1 0-4.6 0M57.8 410.8a2.3 2.3 0 1 0 4.6 0a2.3 2.3 0 1 0-4.6 0M94.9 362.9a2.3 2.3 0 1 0 4.6 0a2.3 2.3 0 1 0-4.6 0M77.9 381.8a2.3 2.3 0 1 0 4.6 0a2.3 2.3 0 1 0-4.6 0M99.3 365.6a2.3 2.3 0 1 0 4.6 0a2.3 2.3 0 1 0-4.6 0M59.3 410.7a2.3 2.3 0 1 0 4.6 0a2.3 2.3 0 1 0-4.6 0M50.8 410.6a2.3 2.3 0 1 0 4.6 0a2.3 2.3 0 1 0-4.6 0M81.3 376.6a2.3 2.3 0 1 0 4.6 0a2.3 2.3 0 1 0-4.6 0M51.7 410.4a2.3 2.3 0 1 0 4.6 0a2.3 2.3 0 1 0-4.6 0M50.4 410.0a2.3 2.3 0 1 0 4.6 0a2.3 2.3 0 1 0-4.6 0M58.1 403.8a2.3 2.3 0 1 0 4.6 0a2.3 2.3 0 1 0-4.6 0M60.7 404.8a2.3 2.3 0 1 0 4.6 0a2.3 2.3 0 1 0-4.6 0M66.5 397.2a2.3 2.3 0 1 0 4.6 0a2.3 2.3 0 1 0-4.6 0M84.3 381.6a2.3 2.3 0 1 0 4.6 0a2.3 2.3 0 1 0-4.6 0M70.4 395.8a2.3 2.3 0 1 0 4.6 0a2.3 2.3 0 1 0-4.6 0M78.2 385.7a2.3 2.3 0 1 0 4.6 0a2.3 2.3 0 1 0-4.6 0M73.1 393.4a2.3 2.3 0 1 0 4.6 0a2.3 2.3 0 1 0-4.6 0M105.1 348.9a2.3 2.3 0 1 0 4.6 0a2.3 2.3 0 1 0-4.6 0M99.7 357.6a2.3 2.3 0 1 0 4.6 0a2.3 2.3 0 1 0-4.6 0M101.2 364.8a2.3 2.3 0 1 0 4.6 0a2.3 2.3 0 1 0-4.6 0M121.3 332.0a2.3 2.3 0 1 0 4.6 0a2.3 2.3 0 1 0-4.6 0M60.3 405.5a2.3 2.3 0 1 0 4.6 0a2.3 2.3 0 1 0-4.6 0M117.6 338.1a2.3 2.3 0 1 0 4.6 0a2.3 2.3 0 1 0-4.6 0M89.6 373.7a2.3 2.3 0 1 0 4.6 0a2.3 2.3 0 1 0-4.6 0M82.5 380.7a2.3 2.3 0 1 0 4.6 0a2.3 2.3 0 1 0-4.6 0M204.4 241.6a2.3 2.3 0 1 0 4.6 0a2.3 2.3 0 1 0-4.6 0M65.9 397.1a2.3 2.3 0 1 0 4.6 0a2.3 2.3 0 1 0-4.6 0M132.5 332.4a2.3 2.3 0 1 0 4.6 0a2.3 2.3 0 1 0-4.6 0M111.5 342.6a2.3 2.3 0 1 0 4.6 0a2.3 2.3 0 1 0-4.6 0M72.1 393.0a2.3 2.3 0 1 0 4.6 0a2.3 2.3 0 1 0-4.6 0M65.2 394.4a2.3 2.3 0 1 0 4.6 0a2.3 2.3 0 1 0-4.6 0M50.8 410.5a2.3 2.3 0 1 0 4.6 0a2.3 2.3 0 1 0-4.6 0M151.2 304.8a2.3 2.3 0 1 0 4.6 0a2.3 2.3 0 1 0-4.6 0M128.0 326.4a2.3 2.3 0 1 0 4.6 0a2.3 2.3 0 1 0-4.6 0M58.2 410.7a2.3 2.3 0 1 0 4.6 0a2.3 2.3 0 1 0-4.6 0M161.7 292.2a2.3 2.3 0 1 0 4.6 0a2.3 2.3 0 1 0-4.6 0M68.7 392.2a2.3 2.3 0 1 0 4.6 0a2.3 2.3 0 1 0-4.6 0M83.4 387.6a2.3 2.3 0 1 0 4.6 0a2.3 2.3 0 1 0-4.6 0M104.0 356.6a2.3 2.3 0 1 0 4.6 0a2.3 2.3 0 1 0-4.6 0M178.1 270.9a2.3 2.3 0 1 0 4.6 0a2.3 2.3 0 1 0-4.6 0M84.7 378.3a2.3 2.3 0 1 0 4.6 0a2.3 2.3 0 1 0-4.6 0M58.0 410.9a2.3 2.3 0 1 0 4.6 0a2.3 2.3 0 1 0-4.6 0M115.6 342.8a2.3 2.3 0 1 0 4.6 0a2.3 2.3 0 1 0-4.6 0M86.6 389.8a2.3 2.3 0 1 0 4.6 0a2.3 2.3 0 1 0-4.6 0M64.3 410.9a2.3 2.3 0 1 0 4.6 0a2.3 2.3 0 1 0-4.6 0M99.9 363.0a2.3 2.3 0 1 0 4.6 0a2.3 2.3 0 1 0-4.6 0M73.4 388.9a2.3 2.3 0 1 0 4.6 0a2.3 2.3 0 1 0-4.6 0M77.7 381.0a2.3 2.3 0 1 0 4.6 0a2.3 2.3 0 1 0-4.6 0M93.7 368.7a2.3 2.3 0 1 0 4.6 0a2.3 2.3 0 1 0-4.6 0M86.2 373.6a2.3 2.3 0 1 0 4.6 0a2.3 2.3 0 1 0-4.6 0M62.3 399.6a2.3 2.3 0 1 0 4.6 0a2.3 2.3 0 1 0-4.6 0M85.4 382.4a2.3 2.3 0 1 0 4.6 0a2.3 2.3 0 1 0-4.6 0M89.7 371.9a2.3 2.3 0 1 0 4.6 0a2.3 2.3 0 1 0-4.6 0M74.1 380.1a2.3 2.3 0 1 0 4.6 0a2.3 2.3 0 1 0-4.6 0M163.9 287.8a2.3 2.3 0 1 0 4.6 0a2.3 2.3 0 1 0-4.6 0M73.9 384.6a2.3 2.3 0 1 0 4.6 0a2.3 2.3 0 1 0-4.6 0M149.4 308.9a2.3 2.3 0 1 0 4.6 0a2.3 2.3 0 1 0-4.6 0M66.5 400.0a2.3 2.3 0 1 0 4.6 0a2.3 2.3 0 1 0-4.6 0M184.8 264.9a2.3 2.3 0 1 0 4.6 0a2.3 2.3 0 1 0-4.6 0M108.8 347.9a2.3 2.3 0 1 0 4.6 0a2.3 2.3 0 1 0-4.6 0M52.9 410.6a2.3 2.3 0 1 0 4.6 0a2.3 2.3 0 1 0-4.6 0M167.3 284.8a2.3 2.3 0 1 0 4.6 0a2.3 2.3 0 1 0-4.6 0M97.1 357.3a2.3 2.3 0 1 0 4.6 0a2.3 2.3 0 1 0-4.6 0M112.4 346.2a2.3 2.3 0 1 0 4.6 0a2.3 2.3 0 1 0-4.6 0M58.2 411.0a2.3 2.3 0 1 0 4.6 0a2.3 2.3 0 1 0-4.6 0M55.4 410.3a2.3 2.3 0 1 0 4.6 0a2.3 2.3 0 1 0-4.6 0M205.3 240.9a2.3 2.3 0 1 0 4.6 0a2.3 2.3 0 1 0-4.6 0M127.0 331.5a2.3 2.3 0 1 0 4.6 0a2.3 2.3 0 1 0-4.6 0M75.0 391.4a2.3 2.3 0 1 0 4.6 0a2.3 2.3 0 1 0-4.6 0M86.9 375.2a2.3 2.3 0 1 0 4.6 0a2.3 2.3 0 1 0-4.6 0M92.4 369.4a2.3 2.3 0 1 0 4.6 0a2.3 2.3 0 1 0-4.6 0M84.1 377.5a2.3 2.3 0 1 0 4.6 0a2.3 2.3 0 1 0-4.6 0M86.5 371.2a2.3 2.3 0 1 0 4.6 0a2.3 2.3 0 1 0-4.6 0M116.5 338.6a2.3 2.3 0 1 0 4.6 0a2.3 2.3 0 1 0-4.6 0M74.3 382.9a2.3 2.3 0 1 0 4.6 0a2.3 2.3 0 1 0-4.6 0M119.3 339.1a2.3 2.3 0 1 0 4.6 0a2.3 2.3 0 1 0-4.6 0M63.9 396.3a2.3 2.3 0 1 0 4.6 0a2.3 2.3 0 1 0-4.6 0M72.8 381.3a2.3 2.3 0 1 0 4.6 0a2.3 2.3 0 1 0-4.6 0M99.5 371.5a2.3 2.3 0 1 0 4.6 0a2.3 2.3 0 1 0-4.6 0M103.6 354.5a2.3 2.3 0 1 0 4.6 0a2.3 2.3 0 1 0-4.6 0M54.6 410.3a2.3 2.3 0 1 0 4.6 0a2.3 2.3 0 1 0-4.6 0M56.8 410.4a2.3 2.3 0 1 0 4.6 0a2.3 2.3 0 1 0-4.6 0M114.5 341.9a2.3 2.3 0 1 0 4.6 0a2.3 2.3 0 1 0-4.6 0M107.6 358.1a2.3 2.3 0 1 0 4.6 0a2.3 2.3 0 1 0-4.6 0M72.1 390.1a2.3 2.3 0 1 0 4.6 0a2.3 2.3 0 1 0-4.6 0M86.8 377.5a2.3 2.3 0 1 0 4.6 0a2.3 2.3 0 1 0-4.6 0M169.3 279.1a2.3 2.3 0 1 0 4.6 0a2.3 2.3 0 1 0-4.6 0M50.5 410.9a2.3 2.3 0 1 0 4.6 0a2.3 2.3 0 1 0-4.6 0M87.4 373.3a2.3 2.3 0 1 0 4.6 0a2.3 2.3 0 1 0-4.6 0M85.7 375.1a2.3 2.3 0 1 0 4.6 0a2.3 2.3 0 1 0-4.6 0M99.0 364.3a2.3 2.3 0 1 0 4.6 0a2.3 2.3 0 1 0-4.6 0M113.9 355.8a2.3 2.3 0 1 0 4.6 0a2.3 2.3 0 1 0-4.6 0M114.9 347.6a2.3 2.3 0 1 0 4.6 0a2.3 2.3 0 1 0-4.6 0M51.5 410.2a2.3 2.3 0 1 0 4.6 0a2.3 2.3 0 1 0-4.6 0M123.5 343.4a2.3 2.3 0 1 0 4.6 0a2.3 2.3 0 1 0-4.6 0M176.3 274.7a2.3 2.3 0 1 0 4.6 0a2.3 2.3 0 1 0-4.6 0M55.2 410.8a2.3 2.3 0 1 0 4.6 0a2.3 2.3 0 1 0-4.6 0M82.9 375.1a2.3 2.3 0 1 0 4.6 0a2.3 2.3 0 1 0-4.6 0M75.3 382.0a2.3 2.3 0 1 0 4.6 0a2.3 2.3 0 1 0-4.6 0M82.7 385.3a2.3 2.3 0 1 0 4.6 0a2.3 2.3 0 1 0-4.6 0M167.8 286.1a2.3 2.3 0 1 0 4.6 0a2.3 2.3 0 1 0-4.6 0M176.1 274.9a2.3 2.3 0 1 0 4.6 0a2.3 2.3 0 1 0-4.6 0M157.6 299.7a2.3 2.3 0 1 0 4.6 0a2.3 2.3 0 1 0-4.6 0M104.7 360.3a2.3 2.3 0 1 0 4.6 0a2.3 2.3 0 1 0-4.6 0M50.3 410.5a2.3 2.3 0 1 0 4.6 0a2.3 2.3 0 1 0-4.6 0M106.7 355.3a2.3 2.3 0 1 0 4.6 0a2.3 2.3 0 1 0-4.6 0M56.1 410.9a2.3 2.3 0 1 0 4.6 0a2.3 2.3 0 1 0-4.6 0M162.9 295.7a2.3 2.3 0 1 0 4.6 0a2.3 2.3 0 1 0-4.6 0M62.1 397.7a2.3 2.3 0 1 0 4.6 0a2.3 2.3 0 1 0-4.6 0M69.5 388.7a2.3 2.3 0 1 0 4.6 0a2.3 2.3 0 1 0-4.6 0M100.4 372.1a2.3 2.3 0 1 0 4.6 0a2.3 2.3 0 1 0-4.6 0M61.2 401.7a2.3 2.3 0 1 0 4.6 0a2.3 2.3 0 1 0-4.6 0M155.5 300.3a2.3 2.3 0 1 0 4.6 0a2.3 2.3 0 1 0-4.6 0M101.7 359.2a2.3 2.3 0 1 0 4.6 0a2.3 2.3 0 1 0-4.6 0M92.2 369.4a2.3 2.3 0 1 0 4.6 0a2.3 2.3 0 1 0-4.6 0M61.7 401.4a2.3 2.3 0 1 0 4.6 0a2.3 2.3 0 1 0-4.6 0M139.5 316.4a2.3 2.3 0 1 0 4.6 0a2.3 2.3 0 1 0-4.6 0M76.5 380.6a2.3 2.3 0 1 0 4.6 0a2.3 2.3 0 1 0-4.6 0M129.9 325.8a2.3 2.3 0 1 0 4.6 0a2.3 2.3 0 1 0-4.6 0M81.6 394.4a2.3 2.3 0 1 0 4.6 0a2.3 2.3 0 1 0-4.6 0M78.5 389.0a2.3 2.3 0 1 0 4.6 0a2.3 2.3 0 1 0-4.6 0M55.8 410.3a2.3 2.3 0 1 0 4.6 0a2.3 2.3 0 1 0-4.6 0M184.8 270.4a2.3 2.3 0 1 0 4.6 0a2.3 2.3 0 1 0-4.6 0M130.8 324.5a2.3 2.3 0 1 0 4.6 0a2.3 2.3 0 1 0-4.6 0M69.3 394.1a2.3 2.3 0 1 0 4.6 0a2.3 2.3 0 1 0-4.6 0M99.2 360.8a2.3 2.3 0 1 0 4.6 0a2.3 2.3 0 1 0-4.6 0M147.0 306.3a2.3 2.3 0 1 0 4.6 0a2.3 2.3 0 1 0-4.6 0M122.4 338.7a2.3 2.3 0 1 0 4.6 0a2.3 2.3 0 1 0-4.6 0M115.5 343.3a2.3 2.3 0 1 0 4.6 0a2.3 2.3 0 1 0-4.6 0M148.6 301.9a2.3 2.3 0 1 0 4.6 0a2.3 2.3 0 1 0-4.6 0M167.6 283.8a2.3 2.3 0 1 0 4.6 0a2.3 2.3 0 1 0-4.6 0M64.8 397.6a2.3 2.3 0 1 0 4.6 0a2.3 2.3 0 1 0-4.6 0M153.6 299.0a2.3 2.3 0 1 0 4.6 0a2.3 2.3 0 1 0-4.6 0M65.6 404.0a2.3 2.3 0 1 0 4.6 0a2.3 2.3 0 1 0-4.6 0M72.3 387.1a2.3 2.3 0 1 0 4.6 0a2.3 2.3 0 1 0-4.6 0M65.8 401.9a2.3 2.3 0 1 0 4.6 0a2.3 2.3 0 1 0-4.6 0M125.5 329.2a2.3 2.3 0 1 0 4.6 0a2.3 2.3 0 1 0-4.6 0M77.4 388.9a2.3 2.3 0 1 0 4.6 0a2.3 2.3 0 1 0-4.6 0M115.3 349.1a2.3 2.3 0 1 0 4.6 0a2.3 2.3 0 1 0-4.6 0M64.9 398.1a2.3 2.3 0 1 0 4.6 0a2.3 2.3 0 1 0-4.6 0M189.0 262.5a2.3 2.3 0 1 0 4.6 0a2.3 2.3 0 1 0-4.6 0M98.6 369.0a2.3 2.3 0 1 0 4.6 0a2.3 2.3 0 1 0-4.6 0M98.4 365.2a2.3 2.3 0 1 0 4.6 0a2.3 2.3 0 1 0-4.6 0M149.3 308.2a2.3 2.3 0 1 0 4.6 0a2.3 2.3 0 1 0-4.6 0M57.5 410.5a2.3 2.3 0 1 0 4.6 0a2.3 2.3 0 1 0-4.6 0M59.4 410.4a2.3 2.3 0 1 0 4.6 0a2.3 2.3 0 1 0-4.6 0M50.9 411.1a2.3 2.3 0 1 0 4.6 0a2.3 2.3 0 1 0-4.6 0M79.9 382.1a2.3 2.3 0 1 0 4.6 0a2.3 2.3 0 1 0-4.6 0M105.3 347.8a2.3 2.3 0 1 0 4.6 0a2.3 2.3 0 1 0-4.6 0M100.5 365.2a2.3 2.3 0 1 0 4.6 0a2.3 2.3 0 1 0-4.6 0M50.4 410.8a2.3 2.3 0 1 0 4.6 0a2.3 2.3 0 1 0-4.6 0M66.7 411.3a2.3 2.3 0 1 0 4.6 0a2.3 2.3 0 1 0-4.6 0M70.9 399.1a2.3 2.3 0 1 0 4.6 0a2.3 2.3 0 1 0-4.6 0M107.4 359.5a2.3 2.3 0 1 0 4.6 0a2.3 2.3 0 1 0-4.6 0M109.8 344.3a2.3 2.3 0 1 0 4.6 0a2.3 2.3 0 1 0-4.6 0M144.6 313.4a2.3 2.3 0 1 0 4.6 0a2.3 2.3 0 1 0-4.6 0M91.4 369.2a2.3 2.3 0 1 0 4.6 0a2.3 2.3 0 1 0-4.6 0M178.9 274.6a2.3 2.3 0 1 0 4.6 0a2.3 2.3 0 1 0-4.6 0M65.8 406.6a2.3 2.3 0 1 0 4.6 0a2.3 2.3 0 1 0-4.6 0M101.5 355.3a2.3 2.3 0 1 0 4.6 0a2.3 2.3 0 1 0-4.6 0M50.8 411.2a2.3 2.3 0 1 0 4.6 0a2.3 2.3 0 1 0-4.6 0M94.7 377.8a2.3 2.3 0 1 0 4.6 0a2.3 2.3 0 1 0-4.6 0M114.3 346.8a2.3 2.3 0 1 0 4.6 0a2.3 2.3 0 1 0-4.6 0M133.5 328.0a2.3 2.3 0 1 0 4.6 0a2.3 2.3 0 1 0-4.6 0M100.5 364.6a2.3 2.3 0 1 0 4.6 0a2.3 2.3 0 1 0-4.6 0M66.5 410.8a2.3 2.3 0 1 0 4.6 0a2.3 2.3 0 1 0-4.6 0M125.3 336.6a2.3 2.3 0 1 0 4.6 0a2.3 2.3 0 1 0-4.6 0M62.3 411.2a2.3 2.3 0 1 0 4.6 0a2.3 2.3 0 1 0-4.6 0M140.7 318.0a2.3 2.3 0 1 0 4.6 0a2.3 2.3 0 1 0-4.6 0M73.7 391.0a2.3 2.3 0 1 0 4.6 0a2.3 2.3 0 1 0-4.6 0M137.4 317.7a2.3 2.3 0 1 0 4.6 0a2.3 2.3 0 1 0-4.6 0M149.6 303.4a2.3 2.3 0 1 0 4.6 0a2.3 2.3 0 1 0-4.6 0M78.4 389.4a2.3 2.3 0 1 0 4.6 0a2.3 2.3 0 1 0-4.6 0M206.1 240.9a2.3 2.3 0 1 0 4.6 0a2.3 2.3 0 1 0-4.6 0M101.6 362.4a2.3 2.3 0 1 0 4.6 0a2.3 2.3 0 1 0-4.6 0M91.0 364.3a2.3 2.3 0 1 0 4.6 0a2.3 2.3 0 1 0-4.6 0M96.9 365.7a2.3 2.3 0 1 0 4.6 0a2.3 2.3 0 1 0-4.6 0M68.7 398.1a2.3 2.3 0 1 0 4.6 0a2.3 2.3 0 1 0-4.6 0M105.9 359.3a2.3 2.3 0 1 0 4.6 0a2.3 2.3 0 1 0-4.6 0M132.3 336.3a2.3 2.3 0 1 0 4.6 0a2.3 2.3 0 1 0-4.6 0M59.1 411.3a2.3 2.3 0 1 0 4.6 0a2.3 2.3 0 1 0-4.6 0M192.3 258.7a2.3 2.3 0 1 0 4.6 0a2.3 2.3 0 1 0-4.6 0M71.3 387.2a2.3 2.3 0 1 0 4.6 0a2.3 2.3 0 1 0-4.6 0M86.0 375.5a2.3 2.3 0 1 0 4.6 0a2.3 2.3 0 1 0-4.6 0M184.7 269.2a2.3 2.3 0 1 0 4.6 0a2.3 2.3 0 1 0-4.6 0M51.1 410.4a2.3 2.3 0 1 0 4.6 0a2.3 2.3 0 1 0-4.6 0M123.4 331.1a2.3 2.3 0 1 0 4.6 0a2.3 2.3 0 1 0-4.6 0M111.9 351.8a2.3 2.3 0 1 0 4.6 0a2.3 2.3 0 1 0-4.6 0M94.2 362.7a2.3 2.3 0 1 0 4.6 0a2.3 2.3 0 1 0-4.6 0M54.2 410.6a2.3 2.3 0 1 0 4.6 0a2.3 2.3 0 1 0-4.6 0M102.9 351.9a2.3 2.3 0 1 0 4.6 0a2.3 2.3 0 1 0-4.6 0M103.0 362.1a2.3 2.3 0 1 0 4.6 0a2.3 2.3 0 1 0-4.6 0M91.9 370.7a2.3 2.3 0 1 0 4.6 0a2.3 2.3 0 1 0-4.6 0M56.1 410.6a2.3 2.3 0 1 0 4.6 0a2.3 2.3 0 1 0-4.6 0M60.3 410.9a2.3 2.3 0 1 0 4.6 0a2.3 2.3 0 1 0-4.6 0M138.9 315.2a2.3 2.3 0 1 0 4.6 0a2.3 2.3 0 1 0-4.6 0M76.3 380.8a2.3 2.3 0 1 0 4.6 0a2.3 2.3 0 1 0-4.6 0M91.9 378.4a2.3 2.3 0 1 0 4.6 0a2.3 2.3 0 1 0-4.6 0M87.3 373.8a2.3 2.3 0 1 0 4.6 0a2.3 2.3 0 1 0-4.6 0M131.4 329.6a2.3 2.3 0 1 0 4.6 0a2.3 2.3 0 1 0-4.6 0M62.9 405.8a2.3 2.3 0 1 0 4.6 0a2.3 2.3 0 1 0-4.6 0M99.4 357.0a2.3 2.3 0 1 0 4.6 0a2.3 2.3 0 1 0-4.6 0M59.9 410.3a2.3 2.3 0 1 0 4.6 0a2.3 2.3 0 1 0-4.6 0M104.4 359.2a2.3 2.3 0 1 0 4.6 0a2.3 2.3 0 1 0-4.6 0M75.0 401.8a2.3 2.3 0 1 0 4.6 0a2.3 2.3 0 1 0-4.6 0M99.5 362.7a2.3 2.3 0 1 0 4.6 0a2.3 2.3 0 1 0-4.6 0M153.0 301.2a2.3 2.3 0 1 0 4.6 0a2.3 2.3 0 1 0-4.6 0M105.1 350.2a2.3 2.3 0 1 0 4.6 0a2.3 2.3 0 1 0-4.6 0M97.7 358.5a2.3 2.3 0 1 0 4.6 0a2.3 2.3 0 1 0-4.6 0M128.1 335.5a2.3 2.3 0 1 0 4.6 0a2.3 2.3 0 1 0-4.6 0M59.4 405.3a2.3 2.3 0 1 0 4.6 0a2.3 2.3 0 1 0-4.6 0M91.6 372.3a2.3 2.3 0 1 0 4.6 0a2.3 2.3 0 1 0-4.6 0M71.7 390.4a2.3 2.3 0 1 0 4.6 0a2.3 2.3 0 1 0-4.6 0M82.9 374.9a2.3 2.3 0 1 0 4.6 0a2.3 2.3 0 1 0-4.6 0M104.6 355.3a2.3 2.3 0 1 0 4.6 0a2.3 2.3 0 1 0-4.6 0M78.8 379.3a2.3 2.3 0 1 0 4.6 0a2.3 2.3 0 1 0-4.6 0M143.4 311.0a2.3 2.3 0 1 0 4.6 0a2.3 2.3 0 1 0-4.6 0M50.7 410.8a2.3 2.3 0 1 0 4.6 0a2.3 2.3 0 1 0-4.6 0M50.3 410.4a2.3 2.3 0 1 0 4.6 0a2.3 2.3 0 1 0-4.6 0M51.3 411.0a2.3 2.3 0 1 0 4.6 0a2.3 2.3 0 1 0-4.6 0M144.8 319.2a2.3 2.3 0 1 0 4.6 0a2.3 2.3 0 1 0-4.6 0M63.0 410.5a2.3 2.3 0 1 0 4.6 0a2.3 2.3 0 1 0-4.6 0M108.1 349.8a2.3 2.3 0 1 0 4.6 0a2.3 2.3 0 1 0-4.6 0M50.9 410.7a2.3 2.3 0 1 0 4.6 0a2.3 2.3 0 1 0-4.6 0M53.8 410.5a2.3 2.3 0 1 0 4.6 0a2.3 2.3 0 1 0-4.6 0M109.4 356.2a2.3 2.3 0 1 0 4.6 0a2.3 2.3 0 1 0-4.6 0M78.6 378.5a2.3 2.3 0 1 0 4.6 0a2.3 2.3 0 1 0-4.6 0M53.4 410.7a2.3 2.3 0 1 0 4.6 0a2.3 2.3 0 1 0-4.6 0M98.7 364.8a2.3 2.3 0 1 0 4.6 0a2.3 2.3 0 1 0-4.6 0M159.0 297.5a2.3 2.3 0 1 0 4.6 0a2.3 2.3 0 1 0-4.6 0M49.6 410.8a2.3 2.3 0 1 0 4.6 0a2.3 2.3 0 1 0-4.6 0M115.5 340.9a2.3 2.3 0 1 0 4.6 0a2.3 2.3 0 1 0-4.6 0M101.1 356.8a2.3 2.3 0 1 0 4.6 0a2.3 2.3 0 1 0-4.6 0M128.5 340.0a2.3 2.3 0 1 0 4.6 0a2.3 2.3 0 1 0-4.6 0M124.3 330.5a2.3 2.3 0 1 0 4.6 0a2.3 2.3 0 1 0-4.6 0M67.9 394.1a2.3 2.3 0 1 0 4.6 0a2.3 2.3 0 1 0-4.6 0M172.9 281.4a2.3 2.3 0 1 0 4.6 0a2.3 2.3 0 1 0-4.6 0M126.3 338.5a2.3 2.3 0 1 0 4.6 0a2.3 2.3 0 1 0-4.6 0M77.3 377.8a2.3 2.3 0 1 0 4.6 0a2.3 2.3 0 1 0-4.6 0M139.7 320.7a2.3 2.3 0 1 0 4.6 0a2.3 2.3 0 1 0-4.6 0M116.3 346.6a2.3 2.3 0 1 0 4.6 0a2.3 2.3 0 1 0-4.6 0M86.2 373.0a2.3 2.3 0 1 0 4.6 0a2.3 2.3 0 1 0-4.6 0M89.9 369.5a2.3 2.3 0 1 0 4.6 0a2.3 2.3 0 1 0-4.6 0M60.0 410.8a2.3 2.3 0 1 0 4.6 0a2.3 2.3 0 1 0-4.6 0M66.9 404.3a2.3 2.3 0 1 0 4.6 0a2.3 2.3 0 1 0-4.6 0M64.4 410.5a2.3 2.3 0 1 0 4.6 0a2.3 2.3 0 1 0-4.6 0M130.7 332.7a2.3 2.3 0 1 0 4.6 0a2.3 2.3 0 1 0-4.6 0M55.0 410.8a2.3 2.3 0 1 0 4.6 0a2.3 2.3 0 1 0-4.6 0M69.3 402.4a2.3 2.3 0 1 0 4.6 0a2.3 2.3 0 1 0-4.6 0M107.1 351.5a2.3 2.3 0 1 0 4.6 0a2.3 2.3 0 1 0-4.6 0M98.3 360.9a2.3 2.3 0 1 0 4.6 0a2.3 2.3 0 1 0-4.6 0M103.8 356.0a2.3 2.3 0 1 0 4.6 0a2.3 2.3 0 1 0-4.6 0M70.2 390.6a2.3 2.3 0 1 0 4.6 0a2.3 2.3 0 1 0-4.6 0M71.1 384.8a2.3 2.3 0 1 0 4.6 0a2.3 2.3 0 1 0-4.6 0M118.0 338.4a2.3 2.3 0 1 0 4.6 0a2.3 2.3 0 1 0-4.6 0M125.5 333.3a2.3 2.3 0 1 0 4.6 0a2.3 2.3 0 1 0-4.6 0M104.3 368.1a2.3 2.3 0 1 0 4.6 0a2.3 2.3 0 1 0-4.6 0M108.8 348.5a2.3 2.3 0 1 0 4.6 0a2.3 2.3 0 1 0-4.6 0M159.8 291.0a2.3 2.3 0 1 0 4.6 0a2.3 2.3 0 1 0-4.6 0M173.1 276.8a2.3 2.3 0 1 0 4.6 0a2.3 2.3 0 1 0-4.6 0M125.7 339.4a2.3 2.3 0 1 0 4.6 0a2.3 2.3 0 1 0-4.6 0M153.9 298.7a2.3 2.3 0 1 0 4.6 0a2.3 2.3 0 1 0-4.6 0M60.3 402.7a2.3 2.3 0 1 0 4.6 0a2.3 2.3 0 1 0-4.6 0M68.7 393.6a2.3 2.3 0 1 0 4.6 0a2.3 2.3 0 1 0-4.6 0M99.4 358.6a2.3 2.3 0 1 0 4.6 0a2.3 2.3 0 1 0-4.6 0M100.2 356.3a2.3 2.3 0 1 0 4.6 0a2.3 2.3 0 1 0-4.6 0M197.6 252.3a2.3 2.3 0 1 0 4.6 0a2.3 2.3 0 1 0-4.6 0M116.2 338.7a2.3 2.3 0 1 0 4.6 0a2.3 2.3 0 1 0-4.6 0M82.5 384.0a2.3 2.3 0 1 0 4.6 0a2.3 2.3 0 1 0-4.6 0M90.1 371.8a2.3 2.3 0 1 0 4.6 0a2.3 2.3 0 1 0-4.6 0M173.4 277.4a2.3 2.3 0 1 0 4.6 0a2.3 2.3 0 1 0-4.6 0M79.8 389.0a2.3 2.3 0 1 0 4.6 0a2.3 2.3 0 1 0-4.6 0M69.7 404.2a2.3 2.3 0 1 0 4.6 0a2.3 2.3 0 1 0-4.6 0M121.1 336.0a2.3 2.3 0 1 0 4.6 0a2.3 2.3 0 1 0-4.6 0M78.3 382.1a2.3 2.3 0 1 0 4.6 0a2.3 2.3 0 1 0-4.6 0M138.6 313.1a2.3 2.3 0 1 0 4.6 0a2.3 2.3 0 1 0-4.6 0M188.7 260.3a2.3 2.3 0 1 0 4.6 0a2.3 2.3 0 1 0-4.6 0M73.4 390.6a2.3 2.3 0 1 0 4.6 0a2.3 2.3 0 1 0-4.6 0M69.2 392.5a2.3 2.3 0 1 0 4.6 0a2.3 2.3 0 1 0-4.6 0M97.4 363.7a2.3 2.3 0 1 0 4.6 0a2.3 2.3 0 1 0-4.6 0M47.0 410.8a2.3 2.3 0 1 0 4.6 0a2.3 2.3 0 1 0-4.6 0M74.3 387.2a2.3 2.3 0 1 0 4.6 0a2.3 2.3 0 1 0-4.6 0M45.7 410.6a2.3 2.3 0 1 0 4.6 0a2.3 2.3 0 1 0-4.6 0M108.0 353.4a2.3 2.3 0 1 0 4.6 0a2.3 2.3 0 1 0-4.6 0M185.7 261.4a2.3 2.3 0 1 0 4.6 0a2.3 2.3 0 1 0-4.6 0M88.5 367.2a2.3 2.3 0 1 0 4.6 0a2.3 2.3 0 1 0-4.6 0M161.9 290.0a2.3 2.3 0 1 0 4.6 0a2.3 2.3 0 1 0-4.6 0M139.6 311.0a2.3 2.3 0 1 0 4.6 0a2.3 2.3 0 1 0-4.6 0M153.0 299.8a2.3 2.3 0 1 0 4.6 0a2.3 2.3 0 1 0-4.6 0M101.5 355.6a2.3 2.3 0 1 0 4.6 0a2.3 2.3 0 1 0-4.6 0M120.5 349.7a2.3 2.3 0 1 0 4.6 0a2.3 2.3 0 1 0-4.6 0M107.6 352.2a2.3 2.3 0 1 0 4.6 0a2.3 2.3 0 1 0-4.6 0M106.7 344.6a2.3 2.3 0 1 0 4.6 0a2.3 2.3 0 1 0-4.6 0M76.4 381.6a2.3 2.3 0 1 0 4.6 0a2.3 2.3 0 1 0-4.6 0M70.8 389.0a2.3 2.3 0 1 0 4.6 0a2.3 2.3 0 1 0-4.6 0M68.0 400.1a2.3 2.3 0 1 0 4.6 0a2.3 2.3 0 1 0-4.6 0M195.5 254.1a2.3 2.3 0 1 0 4.6 0a2.3 2.3 0 1 0-4.6 0M59.9 411.1a2.3 2.3 0 1 0 4.6 0a2.3 2.3 0 1 0-4.6 0M140.6 309.7a2.3 2.3 0 1 0 4.6 0a2.3 2.3 0 1 0-4.6 0M147.2 306.8a2.3 2.3 0 1 0 4.6 0a2.3 2.3 0 1 0-4.6 0M92.5 370.5a2.3 2.3 0 1 0 4.6 0a2.3 2.3 0 1 0-4.6 0M91.3 378.2a2.3 2.3 0 1 0 4.6 0a2.3 2.3 0 1 0-4.6 0M101.0 362.2a2.3 2.3 0 1 0 4.6 0a2.3 2.3 0 1 0-4.6 0M93.5 369.5a2.3 2.3 0 1 0 4.6 0a2.3 2.3 0 1 0-4.6 0M77.3 380.5a2.3 2.3 0 1 0 4.6 0a2.3 2.3 0 1 0-4.6 0M111.5 348.9a2.3 2.3 0 1 0 4.6 0a2.3 2.3 0 1 0-4.6 0M83.2 381.9a2.3 2.3 0 1 0 4.6 0a2.3 2.3 0 1 0-4.6 0M81.5 384.4a2.3 2.3 0 1 0 4.6 0a2.3 2.3 0 1 0-4.6 0M140.5 311.6a2.3 2.3 0 1 0 4.6 0a2.3 2.3 0 1 0-4.6 0M75.7 386.9a2.3 2.3 0 1 0 4.6 0a2.3 2.3 0 1 0-4.6 0M133.0 321.9a2.3 2.3 0 1 0 4.6 0a2.3 2.3 0 1 0-4.6 0M76.6 392.3a2.3 2.3 0 1 0 4.6 0a2.3 2.3 0 1 0-4.6 0M56.9 410.7a2.3 2.3 0 1 0 4.6 0a2.3 2.3 0 1 0-4.6 0M96.1 360.4a2.3 2.3 0 1 0 4.6 0a2.3 2.3 0 1 0-4.6 0M75.1 390.1a2.3 2.3 0 1 0 4.6 0a2.3 2.3 0 1 0-4.6 0M95.6 358.0a2.3 2.3 0 1 0 4.6 0a2.3 2.3 0 1 0-4.6 0M94.3 362.9a2.3 2.3 0 1 0 4.6 0a2.3 2.3 0 1 0-4.6 0M93.9 364.9a2.3 2.3 0 1 0 4.6 0a2.3 2.3 0 1 0-4.6 0M58.8 406.3a2.3 2.3 0 1 0 4.6 0a2.3 2.3 0 1 0-4.6 0M111.4 344.1a2.3 2.3 0 1 0 4.6 0a2.3 2.3 0 1 0-4.6 0M59.2 404.0a2.3 2.3 0 1 0 4.6 0a2.3 2.3 0 1 0-4.6 0M72.0 393.2a2.3 2.3 0 1 0 4.6 0a2.3 2.3 0 1 0-4.6 0M152.6 302.9a2.3 2.3 0 1 0 4.6 0a2.3 2.3 0 1 0-4.6 0M89.8 366.0a2.3 2.3 0 1 0 4.6 0a2.3 2.3 0 1 0-4.6 0M74.9 394.0a2.3 2.3 0 1 0 4.6 0a2.3 2.3 0 1 0-4.6 0M46.1 410.9a2.3 2.3 0 1 0 4.6 0a2.3 2.3 0 1 0-4.6 0M49.5 410.3a2.3 2.3 0 1 0 4.6 0a2.3 2.3 0 1 0-4.6 0M158.1 295.8a2.3 2.3 0 1 0 4.6 0a2.3 2.3 0 1 0-4.6 0M97.5 368.0a2.3 2.3 0 1 0 4.6 0a2.3 2.3 0 1 0-4.6 0M161.2 293.9a2.3 2.3 0 1 0 4.6 0a2.3 2.3 0 1 0-4.6 0M64.2 398.3a2.3 2.3 0 1 0 4.6 0a2.3 2.3 0 1 0-4.6 0M59.7 403.7a2.3 2.3 0 1 0 4.6 0a2.3 2.3 0 1 0-4.6 0M71.9 400.1a2.3 2.3 0 1 0 4.6 0a2.3 2.3 0 1 0-4.6 0M52.7 410.5a2.3 2.3 0 1 0 4.6 0a2.3 2.3 0 1 0-4.6 0M115.5 347.2a2.3 2.3 0 1 0 4.6 0a2.3 2.3 0 1 0-4.6 0M111.8 343.0a2.3 2.3 0 1 0 4.6 0a2.3 2.3 0 1 0-4.6 0M93.0 368.7a2.3 2.3 0 1 0 4.6 0a2.3 2.3 0 1 0-4.6 0M108.7 350.0a2.3 2.3 0 1 0 4.6 0a2.3 2.3 0 1 0-4.6 0M79.8 392.7a2.3 2.3 0 1 0 4.6 0a2.3 2.3 0 1 0-4.6 0M64.4 399.5a2.3 2.3 0 1 0 4.6 0a2.3 2.3 0 1 0-4.6 0M72.1 388.4a2.3 2.3 0 1 0 4.6 0a2.3 2.3 0 1 0-4.6 0M85.9 374.5a2.3 2.3 0 1 0 4.6 0a2.3 2.3 0 1 0-4.6 0M92.8 373.9a2.3 2.3 0 1 0 4.6 0a2.3 2.3 0 1 0-4.6 0M118.2 335.7a2.3 2.3 0 1 0 4.6 0a2.3 2.3 0 1 0-4.6 0M52.4 410.8a2.3 2.3 0 1 0 4.6 0a2.3 2.3 0 1 0-4.6 0M95.8 364.6a2.3 2.3 0 1 0 4.6 0a2.3 2.3 0 1 0-4.6 0M79.1 382.1a2.3 2.3 0 1 0 4.6 0a2.3 2.3 0 1 0-4.6 0M53.7 410.5a2.3 2.3 0 1 0 4.6 0a2.3 2.3 0 1 0-4.6 0M84.6 373.6a2.3 2.3 0 1 0 4.6 0a2.3 2.3 0 1 0-4.6 0M56.3 410.4a2.3 2.3 0 1 0 4.6 0a2.3 2.3 0 1 0-4.6 0M113.5 343.9a2.3 2.3 0 1 0 4.6 0a2.3 2.3 0 1 0-4.6 0M94.5 362.4a2.3 2.3 0 1 0 4.6 0a2.3 2.3 0 1 0-4.6 0M47.3 410.5a2.3 2.3 0 1 0 4.6 0a2.3 2.3 0 1 0-4.6 0M47.1 410.7a2.3 2.3 0 1 0 4.6 0a2.3 2.3 0 1 0-4.6 0M105.7 352.7a2.3 2.3 0 1 0 4.6 0a2.3 2.3 0 1 0-4.6 0M85.7 371.2a2.3 2.3 0 1 0 4.6 0a2.3 2.3 0 1 0-4.6 0M66.3 392.5a2.3 2.3 0 1 0 4.6 0a2.3 2.3 0 1 0-4.6 0M49.3 411.1a2.3 2.3 0 1 0 4.6 0a2.3 2.3 0 1 0-4.6 0M105.5 362.3a2.3 2.3 0 1 0 4.6 0a2.3 2.3 0 1 0-4.6 0M68.5 393.1a2.3 2.3 0 1 0 4.6 0a2.3 2.3 0 1 0-4.6 0M86.0 380.0a2.3 2.3 0 1 0 4.6 0a2.3 2.3 0 1 0-4.6 0M139.8 316.0a2.3 2.3 0 1 0 4.6 0a2.3 2.3 0 1 0-4.6 0M102.2 354.4a2.3 2.3 0 1 0 4.6 0a2.3 2.3 0 1 0-4.6 0M51.9 411.1a2.3 2.3 0 1 0 4.6 0a2.3 2.3 0 1 0-4.6 0M79.9 382.6a2.3 2.3 0 1 0 4.6 0a2.3 2.3 0 1 0-4.6 0M67.6 399.4a2.3 2.3 0 1 0 4.6 0a2.3 2.3 0 1 0-4.6 0M69.4 400.9a2.3 2.3 0 1 0 4.6 0a2.3 2.3 0 1 0-4.6 0M101.0 357.8a2.3 2.3 0 1 0 4.6 0a2.3 2.3 0 1 0-4.6 0M65.0 400.2a2.3 2.3 0 1 0 4.6 0a2.3 2.3 0 1 0-4.6 0M150.9 305.2a2.3 2.3 0 1 0 4.6 0a2.3 2.3 0 1 0-4.6 0M108.7 348.6a2.3 2.3 0 1 0 4.6 0a2.3 2.3 0 1 0-4.6 0M54.8 410.7a2.3 2.3 0 1 0 4.6 0a2.3 2.3 0 1 0-4.6 0M132.1 327.2a2.3 2.3 0 1 0 4.6 0a2.3 2.3 0 1 0-4.6 0M141.3 318.9a2.3 2.3 0 1 0 4.6 0a2.3 2.3 0 1 0-4.6 0M121.4 335.8a2.3 2.3 0 1 0 4.6 0a2.3 2.3 0 1 0-4.6 0M65.9 410.7a2.3 2.3 0 1 0 4.6 0a2.3 2.3 0 1 0-4.6 0M149.5 303.2a2.3 2.3 0 1 0 4.6 0a2.3 2.3 0 1 0-4.6 0M91.5 373.5a2.3 2.3 0 1 0 4.6 0a2.3 2.3 0 1 0-4.6 0M76.4 381.7a2.3 2.3 0 1 0 4.6 0a2.3 2.3 0 1 0-4.6 0M56.0 410.7a2.3 2.3 0 1 0 4.6 0a2.3 2.3 0 1 0-4.6 0M51.7 410.7a2.3 2.3 0 1 0 4.6 0a2.3 2.3 0 1 0-4.6 0M72.7 383.4a2.3 2.3 0 1 0 4.6 0a2.3 2.3 0 1 0-4.6 0M138.2 318.3a2.3 2.3 0 1 0 4.6 0a2.3 2.3 0 1 0-4.6 0M100.7 359.0a2.3 2.3 0 1 0 4.6 0a2.3 2.3 0 1 0-4.6 0M163.3 291.3a2.3 2.3 0 1 0 4.6 0a2.3 2.3 0 1 0-4.6 0M174.7 274.7a2.3 2.3 0 1 0 4.6 0a2.3 2.3 0 1 0-4.6 0M65.5 398.7a2.3 2.3 0 1 0 4.6 0a2.3 2.3 0 1 0-4.6 0M59.9 404.2a2.3 2.3 0 1 0 4.6 0a2.3 2.3 0 1 0-4.6 0M98.5 361.4a2.3 2.3 0 1 0 4.6 0a2.3 2.3 0 1 0-4.6 0M87.7 386.1a2.3 2.3 0 1 0 4.6 0a2.3 2.3 0 1 0-4.6 0M72.9 399.8a2.3 2.3 0 1 0 4.6 0a2.3 2.3 0 1 0-4.6 0M61.3 399.0a2.3 2.3 0 1 0 4.6 0a2.3 2.3 0 1 0-4.6 0M98.3 363.0a2.3 2.3 0 1 0 4.6 0a2.3 2.3 0 1 0-4.6 0M81.7 380.4a2.3 2.3 0 1 0 4.6 0a2.3 2.3 0 1 0-4.6 0M125.6 329.0a2.3 2.3 0 1 0 4.6 0a2.3 2.3 0 1 0-4.6 0M99.2 356.7a2.3 2.3 0 1 0 4.6 0a2.3 2.3 0 1 0-4.6 0M105.8 350.6a2.3 2.3 0 1 0 4.6 0a2.3 2.3 0 1 0-4.6 0M89.6 369.5a2.3 2.3 0 1 0 4.6 0a2.3 2.3 0 1 0-4.6 0M156.3 296.1a2.3 2.3 0 1 0 4.6 0a2.3 2.3 0 1 0-4.6 0M126.2 341.8a2.3 2.3 0 1 0 4.6 0a2.3 2.3 0 1 0-4.6 0M137.8 315.4a2.3 2.3 0 1 0 4.6 0a2.3 2.3 0 1 0-4.6 0M58.7 404.7a2.3 2.3 0 1 0 4.6 0a2.3 2.3 0 1 0-4.6 0M57.7 410.3a2.3 2.3 0 1 0 4.6 0a2.3 2.3 0 1 0-4.6 0M74.6 384.2a2.3 2.3 0 1 0 4.6 0a2.3 2.3 0 1 0-4.6 0M73.2 398.7a2.3 2.3 0 1 0 4.6 0a2.3 2.3 0 1 0-4.6 0M146.7 311.1a2.3 2.3 0 1 0 4.6 0a2.3 2.3 0 1 0-4.6 0M122.6 335.4a2.3 2.3 0 1 0 4.6 0a2.3 2.3 0 1 0-4.6 0M82.8 380.8a2.3 2.3 0 1 0 4.6 0a2.3 2.3 0 1 0-4.6 0M114.7 354.7a2.3 2.3 0 1 0 4.6 0a2.3 2.3 0 1 0-4.6 0M96.2 358.0a2.3 2.3 0 1 0 4.6 0a2.3 2.3 0 1 0-4.6 0M74.1 384.6a2.3 2.3 0 1 0 4.6 0a2.3 2.3 0 1 0-4.6 0M54.8 410.4a2.3 2.3 0 1 0 4.6 0a2.3 2.3 0 1 0-4.6 0M76.6 377.8a2.3 2.3 0 1 0 4.6 0a2.3 2.3 0 1 0-4.6 0M132.3 321.2a2.3 2.3 0 1 0 4.6 0a2.3 2.3 0 1 0-4.6 0M90.7 366.0a2.3 2.3 0 1 0 4.6 0a2.3 2.3 0 1 0-4.6 0M54.1 410.8a2.3 2.3 0 1 0 4.6 0a2.3 2.3 0 1 0-4.6 0M115.5 338.1a2.3 2.3 0 1 0 4.6 0a2.3 2.3 0 1 0-4.6 0M133.0 323.2a2.3 2.3 0 1 0 4.6 0a2.3 2.3 0 1 0-4.6 0M166.9 283.8a2.3 2.3 0 1 0 4.6 0a2.3 2.3 0 1 0-4.6 0M115.0 346.7a2.3 2.3 0 1 0 4.6 0a2.3 2.3 0 1 0-4.6 0M57.9 410.4a2.3 2.3 0 1 0 4.6 0a2.3 2.3 0 1 0-4.6 0M121.0 332.3a2.3 2.3 0 1 0 4.6 0a2.3 2.3 0 1 0-4.6 0M129.4 331.4a2.3 2.3 0 1 0 4.6 0a2.3 2.3 0 1 0-4.6 0M125.8 326.0a2.3 2.3 0 1 0 4.6 0a2.3 2.3 0 1 0-4.6 0M192.9 259.7a2.3 2.3 0 1 0 4.6 0a2.3 2.3 0 1 0-4.6 0M101.7 360.4a2.3 2.3 0 1 0 4.6 0a2.3 2.3 0 1 0-4.6 0M88.6 378.1a2.3 2.3 0 1 0 4.6 0a2.3 2.3 0 1 0-4.6 0M172.1 282.7a2.3 2.3 0 1 0 4.6 0a2.3 2.3 0 1 0-4.6 0M104.5 368.1a2.3 2.3 0 1 0 4.6 0a2.3 2.3 0 1 0-4.6 0M68.3 390.1a2.3 2.3 0 1 0 4.6 0a2.3 2.3 0 1 0-4.6 0M134.7 322.8a2.3 2.3 0 1 0 4.6 0a2.3 2.3 0 1 0-4.6 0M91.8 366.5a2.3 2.3 0 1 0 4.6 0a2.3 2.3 0 1 0-4.6 0M73.0 400.1a2.3 2.3 0 1 0 4.6 0a2.3 2.3 0 1 0-4.6 0M151.3 301.7a2.3 2.3 0 1 0 4.6 0a2.3 2.3 0 1 0-4.6 0M116.5 349.2a2.3 2.3 0 1 0 4.6 0a2.3 2.3 0 1 0-4.6 0M124.5 331.9a2.3 2.3 0 1 0 4.6 0a2.3 2.3 0 1 0-4.6 0M63.3 398.5a2.3 2.3 0 1 0 4.6 0a2.3 2.3 0 1 0-4.6 0M64.1 411.2a2.3 2.3 0 1 0 4.6 0a2.3 2.3 0 1 0-4.6 0M123.1 346.3a2.3 2.3 0 1 0 4.6 0a2.3 2.3 0 1 0-4.6 0M65.6 401.0a2.3 2.3 0 1 0 4.6 0a2.3 2.3 0 1 0-4.6 0M81.8 376.0a2.3 2.3 0 1 0 4.6 0a2.3 2.3 0 1 0-4.6 0M91.5 386.1a2.3 2.3 0 1 0 4.6 0a2.3 2.3 0 1 0-4.6 0M120.2 334.9a2.3 2.3 0 1 0 4.6 0a2.3 2.3 0 1 0-4.6 0M80.3 376.1a2.3 2.3 0 1 0 4.6 0a2.3 2.3 0 1 0-4.6 0M74.4 386.7a2.3 2.3 0 1 0 4.6 0a2.3 2.3 0 1 0-4.6 0M84.0 387.5a2.3 2.3 0 1 0 4.6 0a2.3 2.3 0 1 0-4.6 0M123.2 332.3a2.3 2.3 0 1 0 4.6 0a2.3 2.3 0 1 0-4.6 0M84.6 381.0a2.3 2.3 0 1 0 4.6 0a2.3 2.3 0 1 0-4.6 0M69.1 398.7a2.3 2.3 0 1 0 4.6 0a2.3 2.3 0 1 0-4.6 0M92.4 366.1a2.3 2.3 0 1 0 4.6 0a2.3 2.3 0 1 0-4.6 0M121.2 337.0a2.3 2.3 0 1 0 4.6 0a2.3 2.3 0 1 0-4.6 0M126.5 328.8a2.3 2.3 0 1 0 4.6 0a2.3 2.3 0 1 0-4.6 0M113.3 350.2a2.3 2.3 0 1 0 4.6 0a2.3 2.3 0 1 0-4.6 0M198.8 249.1a2.3 2.3 0 1 0 4.6 0a2.3 2.3 0 1 0-4.6 0M81.7 399.5a2.3 2.3 0 1 0 4.6 0a2.3 2.3 0 1 0-4.6 0M103.5 362.8a2.3 2.3 0 1 0 4.6 0a2.3 2.3 0 1 0-4.6 0M56.6 410.7a2.3 2.3 0 1 0 4.6 0a2.3 2.3 0 1 0-4.6 0M195.8 249.6a2.3 2.3 0 1 0 4.6 0a2.3 2.3 0 1 0-4.6 0M63.6 394.1a2.3 2.3 0 1 0 4.6 0a2.3 2.3 0 1 0-4.6 0M64.1 395.2a2.3 2.3 0 1 0 4.6 0a2.3 2.3 0 1 0-4.6 0M57.7 410.5a2.3 2.3 0 1 0 4.6 0a2.3 2.3 0 1 0-4.6 0M80.2 383.6a2.3 2.3 0 1 0 4.6 0a2.3 2.3 0 1 0-4.6 0M57.2 411.0a2.3 2.3 0 1 0 4.6 0a2.3 2.3 0 1 0-4.6 0M147.6 305.1a2.3 2.3 0 1 0 4.6 0a2.3 2.3 0 1 0-4.6 0M72.2 390.0a2.3 2.3 0 1 0 4.6 0a2.3 2.3 0 1 0-4.6 0M119.2 339.3a2.3 2.3 0 1 0 4.6 0a2.3 2.3 0 1 0-4.6 0M123.3 336.2a2.3 2.3 0 1 0 4.6 0a2.3 2.3 0 1 0-4.6 0M96.0 363.3a2.3 2.3 0 1 0 4.6 0a2.3 2.3 0 1 0-4.6 0M97.2 358.8a2.3 2.3 0 1 0 4.6 0a2.3 2.3 0 1 0-4.6 0M59.7 406.8a2.3 2.3 0 1 0 4.6 0a2.3 2.3 0 1 0-4.6 0M97.5 358.4a2.3 2.3 0 1 0 4.6 0a2.3 2.3 0 1 0-4.6 0M159.4 301.0a2.3 2.3 0 1 0 4.6 0a2.3 2.3 0 1 0-4.6 0M61.3 398.6a2.3 2.3 0 1 0 4.6 0a2.3 2.3 0 1 0-4.6 0M62.6 410.4a2.3 2.3 0 1 0 4.6 0a2.3 2.3 0 1 0-4.6 0M72.9 399.1a2.3 2.3 0 1 0 4.6 0a2.3 2.3 0 1 0-4.6 0M56.3 406.8a2.3 2.3 0 1 0 4.6 0a2.3 2.3 0 1 0-4.6 0M58.7 410.9a2.3 2.3 0 1 0 4.6 0a2.3 2.3 0 1 0-4.6 0M105.3 358.6a2.3 2.3 0 1 0 4.6 0a2.3 2.3 0 1 0-4.6 0M181.2 273.0a2.3 2.3 0 1 0 4.6 0a2.3 2.3 0 1 0-4.6 0M53.5 410.7a2.3 2.3 0 1 0 4.6 0a2.3 2.3 0 1 0-4.6 0M86.6 369.2a2.3 2.3 0 1 0 4.6 0a2.3 2.3 0 1 0-4.6 0M72.0 385.5a2.3 2.3 0 1 0 4.6 0a2.3 2.3 0 1 0-4.6 0M63.0 406.2a2.3 2.3 0 1 0 4.6 0a2.3 2.3 0 1 0-4.6 0M86.0 377.2a2.3 2.3 0 1 0 4.6 0a2.3 2.3 0 1 0-4.6 0M54.1 410.9a2.3 2.3 0 1 0 4.6 0a2.3 2.3 0 1 0-4.6 0M58.5 405.8a2.3 2.3 0 1 0 4.6 0a2.3 2.3 0 1 0-4.6 0M100.0 356.5a2.3 2.3 0 1 0 4.6 0a2.3 2.3 0 1 0-4.6 0M55.9 410.3a2.3 2.3 0 1 0 4.6 0a2.3 2.3 0 1 0-4.6 0M127.7 330.0a2.3 2.3 0 1 0 4.6 0a2.3 2.3 0 1 0-4.6 0M91.9 376.6a2.3 2.3 0 1 0 4.6 0a2.3 2.3 0 1 0-4.6 0M101.4 369.9a2.3 2.3 0 1 0 4.6 0a2.3 2.3 0 1 0-4.6 0M116.9 343.9a2.3 2.3 0 1 0 4.6 0a2.3 2.3 0 1 0-4.6 0M98.0 361.8a2.3 2.3 0 1 0 4.6 0a2.3 2.3 0 1 0-4.6 0M126.8 326.1a2.3 2.3 0 1 0 4.6 0a2.3 2.3 0 1 0-4.6 0M114.4 348.6a2.3 2.3 0 1 0 4.6 0a2.3 2.3 0 1 0-4.6 0M111.1 356.5a2.3 2.3 0 1 0 4.6 0a2.3 2.3 0 1 0-4.6 0M64.2 400.1a2.3 2.3 0 1 0 4.6 0a2.3 2.3 0 1 0-4.6 0M49.5 410.5a2.3 2.3 0 1 0 4.6 0a2.3 2.3 0 1 0-4.6 0M99.0 363.4a2.3 2.3 0 1 0 4.6 0a2.3 2.3 0 1 0-4.6 0M106.3 358.6a2.3 2.3 0 1 0 4.6 0a2.3 2.3 0 1 0-4.6 0M107.8 369.0a2.3 2.3 0 1 0 4.6 0a2.3 2.3 0 1 0-4.6 0M97.6 356.3a2.3 2.3 0 1 0 4.6 0a2.3 2.3 0 1 0-4.6 0M145.0 313.2a2.3 2.3 0 1 0 4.6 0a2.3 2.3 0 1 0-4.6 0M183.7 269.1a2.3 2.3 0 1 0 4.6 0a2.3 2.3 0 1 0-4.6 0M48.4 410.3a2.3 2.3 0 1 0 4.6 0a2.3 2.3 0 1 0-4.6 0M101.1 355.7a2.3 2.3 0 1 0 4.6 0a2.3 2.3 0 1 0-4.6 0M80.7 378.7a2.3 2.3 0 1 0 4.6 0a2.3 2.3 0 1 0-4.6 0M79.7 379.7a2.3 2.3 0 1 0 4.6 0a2.3 2.3 0 1 0-4.6 0M105.1 358.6a2.3 2.3 0 1 0 4.6 0a2.3 2.3 0 1 0-4.6 0M185.0 271.0a2.3 2.3 0 1 0 4.6 0a2.3 2.3 0 1 0-4.6 0M133.2 322.4a2.3 2.3 0 1 0 4.6 0a2.3 2.3 0 1 0-4.6 0M105.4 364.5a2.3 2.3 0 1 0 4.6 0a2.3 2.3 0 1 0-4.6 0M104.0 359.5a2.3 2.3 0 1 0 4.6 0a2.3 2.3 0 1 0-4.6 0M83.7 376.7a2.3 2.3 0 1 0 4.6 0a2.3 2.3 0 1 0-4.6 0M100.0 357.8a2.3 2.3 0 1 0 4.6 0a2.3 2.3 0 1 0-4.6 0M96.6 366.0a2.3 2.3 0 1 0 4.6 0a2.3 2.3 0 1 0-4.6 0M90.9 369.8a2.3 2.3 0 1 0 4.6 0a2.3 2.3 0 1 0-4.6 0M86.0 374.9a2.3 2.3 0 1 0 4.6 0a2.3 2.3 0 1 0-4.6 0M51.9 410.7a2.3 2.3 0 1 0 4.6 0a2.3 2.3 0 1 0-4.6 0M80.4 379.8a2.3 2.3 0 1 0 4.6 0a2.3 2.3 0 1 0-4.6 0M177.4 273.1a2.3 2.3 0 1 0 4.6 0a2.3 2.3 0 1 0-4.6 0M125.9 331.0a2.3 2.3 0 1 0 4.6 0a2.3 2.3 0 1 0-4.6 0M125.4 331.9a2.3 2.3 0 1 0 4.6 0a2.3 2.3 0 1 0-4.6 0M120.9 338.0a2.3 2.3 0 1 0 4.6 0a2.3 2.3 0 1 0-4.6 0M112.1 349.9a2.3 2.3 0 1 0 4.6 0a2.3 2.3 0 1 0-4.6 0M61.5 405.5a2.3 2.3 0 1 0 4.6 0a2.3 2.3 0 1 0-4.6 0M86.1 375.4a2.3 2.3 0 1 0 4.6 0a2.3 2.3 0 1 0-4.6 0M64.4 396.7a2.3 2.3 0 1 0 4.6 0a2.3 2.3 0 1 0-4.6 0M98.1 355.4a2.3 2.3 0 1 0 4.6 0a2.3 2.3 0 1 0-4.6 0M200.9 250.2a2.3 2.3 0 1 0 4.6 0a2.3 2.3 0 1 0-4.6 0M98.5 361.7a2.3 2.3 0 1 0 4.6 0a2.3 2.3 0 1 0-4.6 0M122.8 337.5a2.3 2.3 0 1 0 4.6 0a2.3 2.3 0 1 0-4.6 0M79.2 386.2a2.3 2.3 0 1 0 4.6 0a2.3 2.3 0 1 0-4.6 0M97.3 363.3a2.3 2.3 0 1 0 4.6 0a2.3 2.3 0 1 0-4.6 0M51.9 410.7a2.3 2.3 0 1 0 4.6 0a2.3 2.3 0 1 0-4.6 0M148.2 308.5a2.3 2.3 0 1 0 4.6 0a2.3 2.3 0 1 0-4.6 0M81.1 386.6a2.3 2.3 0 1 0 4.6 0a2.3 2.3 0 1 0-4.6 0M62.6 400.5a2.3 2.3 0 1 0 4.6 0a2.3 2.3 0 1 0-4.6 0M71.2 390.4a2.3 2.3 0 1 0 4.6 0a2.3 2.3 0 1 0-4.6 0M56.4 410.5a2.3 2.3 0 1 0 4.6 0a2.3 2.3 0 1 0-4.6 0M87.7 374.1a2.3 2.3 0 1 0 4.6 0a2.3 2.3 0 1 0-4.6 0M147.2 307.2a2.3 2.3 0 1 0 4.6 0a2.3 2.3 0 1 0-4.6 0M76.0 386.0a2.3 2.3 0 1 0 4.6 0a2.3 2.3 0 1 0-4.6 0M62.3 410.8a2.3 2.3 0 1 0 4.6 0a2.3 2.3 0 1 0-4.6 0M62.1 410.9a2.3 2.3 0 1 0 4.6 0a2.3 2.3 0 1 0-4.6 0M63.9 411.0a2.3 2.3 0 1 0 4.6 0a2.3 2.3 0 1 0-4.6 0M81.3 379.3a2.3 2.3 0 1 0 4.6 0a2.3 2.3 0 1 0-4.6 0M62.3 411.0a2.3 2.3 0 1 0 4.6 0a2.3 2.3 0 1 0-4.6 0M98.7 374.8a2.3 2.3 0 1 0 4.6 0a2.3 2.3 0 1 0-4.6 0M62.6 404.7a2.3 2.3 0 1 0 4.6 0a2.3 2.3 0 1 0-4.6 0M87.3 372.4a2.3 2.3 0 1 0 4.6 0a2.3 2.3 0 1 0-4.6 0M83.8 371.1a2.3 2.3 0 1 0 4.6 0a2.3 2.3 0 1 0-4.6 0M110.6 350.0a2.3 2.3 0 1 0 4.6 0a2.3 2.3 0 1 0-4.6 0M140.7 316.8a2.3 2.3 0 1 0 4.6 0a2.3 2.3 0 1 0-4.6 0M96.7 364.4a2.3 2.3 0 1 0 4.6 0a2.3 2.3 0 1 0-4.6 0M63.9 395.0a2.3 2.3 0 1 0 4.6 0a2.3 2.3 0 1 0-4.6 0M192.9 255.2a2.3 2.3 0 1 0 4.6 0a2.3 2.3 0 1 0-4.6 0M107.4 347.9a2.3 2.3 0 1 0 4.6 0a2.3 2.3 0 1 0-4.6 0M87.3 380.4a2.3 2.3 0 1 0 4.6 0a2.3 2.3 0 1 0-4.6 0M110.9 350.7a2.3 2.3 0 1 0 4.6 0a2.3 2.3 0 1 0-4.6 0M44.9 410.4a2.3 2.3 0 1 0 4.6 0a2.3 2.3 0 1 0-4.6 0M203.5 246.5a2.3 2.3 0 1 0 4.6 0a2.3 2.3 0 1 0-4.6 0M80.9 376.4a2.3 2.3 0 1 0 4.6 0a2.3 2.3 0 1 0-4.6 0M183.5 265.7a2.3 2.3 0 1 0 4.6 0a2.3 2.3 0 1 0-4.6 0M67.9 394.1a2.3 2.3 0 1 0 4.6 0a2.3 2.3 0 1 0-4.6 0M125.6 333.0a2.3 2.3 0 1 0 4.6 0a2.3 2.3 0 1 0-4.6 0M90.8 370.2a2.3 2.3 0 1 0 4.6 0a2.3 2.3 0 1 0-4.6 0M59.5 410.8a2.3 2.3 0 1 0 4.6 0a2.3 2.3 0 1 0-4.6 0M62.2 410.5a2.3 2.3 0 1 0 4.6 0a2.3 2.3 0 1 0-4.6 0M151.3 309.4a2.3 2.3 0 1 0 4.6 0a2.3 2.3 0 1 0-4.6 0M53.2 411.2a2.3 2.3 0 1 0 4.6 0a2.3 2.3 0 1 0-4.6 0M50.7 410.7a2.3 2.3 0 1 0 4.6 0a2.3 2.3 0 1 0-4.6 0M138.6 314.9a2.3 2.3 0 1 0 4.6 0a2.3 2.3 0 1 0-4.6 0M75.4 381.2a2.3 2.3 0 1 0 4.6 0a2.3 2.3 0 1 0-4.6 0M195.1 257.9a2.3 2.3 0 1 0 4.6 0a2.3 2.3 0 1 0-4.6 0M108.0 348.1a2.3 2.3 0 1 0 4.6 0a2.3 2.3 0 1 0-4.6 0M124.8 333.1a2.3 2.3 0 1 0 4.6 0a2.3 2.3 0 1 0-4.6 0M194.0 257.1a2.3 2.3 0 1 0 4.6 0a2.3 2.3 0 1 0-4.6 0M74.6 396.0a2.3 2.3 0 1 0 4.6 0a2.3 2.3 0 1 0-4.6 0M74.2 383.7a2.3 2.3 0 1 0 4.6 0a2.3 2.3 0 1 0-4.6 0M137.7 315.2a2.3 2.3 0 1 0 4.6 0a2.3 2.3 0 1 0-4.6 0M157.4 293.4a2.3 2.3 0 1 0 4.6 0a2.3 2.3 0 1 0-4.6 0M48.1 410.3a2.3 2.3 0 1 0 4.6 0a2.3 2.3 0 1 0-4.6 0M68.5 389.4a2.3 2.3 0 1 0 4.6 0a2.3 2.3 0 1 0-4.6 0M57.8 405.0a2.3 2.3 0 1 0 4.6 0a2.3 2.3 0 1 0-4.6 0M55.6 410.6a2.3 2.3 0 1 0 4.6 0a2.3 2.3 0 1 0-4.6 0M173.2 280.1a2.3 2.3 0 1 0 4.6 0a2.3 2.3 0 1 0-4.6 0M189.0 264.6a2.3 2.3 0 1 0 4.6 0a2.3 2.3 0 1 0-4.6 0M79.7 386.5a2.3 2.3 0 1 0 4.6 0a2.3 2.3 0 1 0-4.6 0M110.7 345.0a2.3 2.3 0 1 0 4.6 0a2.3 2.3 0 1 0-4.6 0M75.0 387.0a2.3 2.3 0 1 0 4.6 0a2.3 2.3 0 1 0-4.6 0M120.5 343.5a2.3 2.3 0 1 0 4.6 0a2.3 2.3 0 1 0-4.6 0M109.1 357.3a2.3 2.3 0 1 0 4.6 0a2.3 2.3 0 1 0-4.6 0M85.2 372.9a2.3 2.3 0 1 0 4.6 0a2.3 2.3 0 1 0-4.6 0M81.0 383.9a2.3 2.3 0 1 0 4.6 0a2.3 2.3 0 1 0-4.6 0M67.3 394.1a2.3 2.3 0 1 0 4.6 0a2.3 2.3 0 1 0-4.6 0M67.5 397.2a2.3 2.3 0 1 0 4.6 0a2.3 2.3 0 1 0-4.6 0M91.2 379.2a2.3 2.3 0 1 0 4.6 0a2.3 2.3 0 1 0-4.6 0M102.3 367.2a2.3 2.3 0 1 0 4.6 0a2.3 2.3 0 1 0-4.6 0M139.8 322.4a2.3 2.3 0 1 0 4.6 0a2.3 2.3 0 1 0-4.6 0M76.4 382.8a2.3 2.3 0 1 0 4.6 0a2.3 2.3 0 1 0-4.6 0M64.1 410.7a2.3 2.3 0 1 0 4.6 0a2.3 2.3 0 1 0-4.6 0M63.4 406.2a2.3 2.3 0 1 0 4.6 0a2.3 2.3 0 1 0-4.6 0M181.3 270.6a2.3 2.3 0 1 0 4.6 0a2.3 2.3 0 1 0-4.6 0M56.0 410.8a2.3 2.3 0 1 0 4.6 0a2.3 2.3 0 1 0-4.6 0M70.0 393.3a2.3 2.3 0 1 0 4.6 0a2.3 2.3 0 1 0-4.6 0M64.0 398.4a2.3 2.3 0 1 0 4.6 0a2.3 2.3 0 1 0-4.6 0M85.4 373.8a2.3 2.3 0 1 0 4.6 0a2.3 2.3 0 1 0-4.6 0M131.4 321.1a2.3 2.3 0 1 0 4.6 0a2.3 2.3 0 1 0-4.6 0M65.2 401.9a2.3 2.3 0 1 0 4.6 0a2.3 2.3 0 1 0-4.6 0M108.6 354.1a2.3 2.3 0 1 0 4.6 0a2.3 2.3 0 1 0-4.6 0M77.4 396.5a2.3 2.3 0 1 0 4.6 0a2.3 2.3 0 1 0-4.6 0M118.4 336.5a2.3 2.3 0 1 0 4.6 0a2.3 2.3 0 1 0-4.6 0M101.1 363.8a2.3 2.3 0 1 0 4.6 0a2.3 2.3 0 1 0-4.6 0M66.7 400.1a2.3 2.3 0 1 0 4.6 0a2.3 2.3 0 1 0-4.6 0M73.6 390.0a2.3 2.3 0 1 0 4.6 0a2.3 2.3 0 1 0-4.6 0M66.3 392.4a2.3 2.3 0 1 0 4.6 0a2.3 2.3 0 1 0-4.6 0M126.2 332.3a2.3 2.3 0 1 0 4.6 0a2.3 2.3 0 1 0-4.6 0M89.0 374.5a2.3 2.3 0 1 0 4.6 0a2.3 2.3 0 1 0-4.6 0M107.0 349.9a2.3 2.3 0 1 0 4.6 0a2.3 2.3 0 1 0-4.6 0M128.5 329.8a2.3 2.3 0 1 0 4.6 0a2.3 2.3 0 1 0-4.6 0M57.7 410.4a2.3 2.3 0 1 0 4.6 0a2.3 2.3 0 1 0-4.6 0M80.0 380.3a2.3 2.3 0 1 0 4.6 0a2.3 2.3 0 1 0-4.6 0M84.4 378.1a2.3 2.3 0 1 0 4.6 0a2.3 2.3 0 1 0-4.6 0M99.1 357.3a2.3 2.3 0 1 0 4.6 0a2.3 2.3 0 1 0-4.6 0M74.3 392.7a2.3 2.3 0 1 0 4.6 0a2.3 2.3 0 1 0-4.6 0M84.0 372.4a2.3 2.3 0 1 0 4.6 0a2.3 2.3 0 1 0-4.6 0M67.5 395.0a2.3 2.3 0 1 0 4.6 0a2.3 2.3 0 1 0-4.6 0M103.0 359.3a2.3 2.3 0 1 0 4.6 0a2.3 2.3 0 1 0-4.6 0M76.2 393.9a2.3 2.3 0 1 0 4.6 0a2.3 2.3 0 1 0-4.6 0M78.5 378.1a2.3 2.3 0 1 0 4.6 0a2.3 2.3 0 1 0-4.6 0M173.6 281.9a2.3 2.3 0 1 0 4.6 0a2.3 2.3 0 1 0-4.6 0M103.3 356.4a2.3 2.3 0 1 0 4.6 0a2.3 2.3 0 1 0-4.6 0M142.7 321.6a2.3 2.3 0 1 0 4.6 0a2.3 2.3 0 1 0-4.6 0M51.2 410.8a2.3 2.3 0 1 0 4.6 0a2.3 2.3 0 1 0-4.6 0M59.8 410.6a2.3 2.3 0 1 0 4.6 0a2.3 2.3 0 1 0-4.6 0M187.6 259.0a2.3 2.3 0 1 0 4.6 0a2.3 2.3 0 1 0-4.6 0M97.1 363.7a2.3 2.3 0 1 0 4.6 0a2.3 2.3 0 1 0-4.6 0M93.8 362.6a2.3 2.3 0 1 0 4.6 0a2.3 2.3 0 1 0-4.6 0M47.4 410.2a2.3 2.3 0 1 0 4.6 0a2.3 2.3 0 1 0-4.6 0M150.8 302.6a2.3 2.3 0 1 0 4.6 0a2.3 2.3 0 1 0-4.6 0M77.3 386.6a2.3 2.3 0 1 0 4.6 0a2.3 2.3 0 1 0-4.6 0M97.5 357.3a2.3 2.3 0 1 0 4.6 0a2.3 2.3 0 1 0-4.6 0M77.4 381.8a2.3 2.3 0 1 0 4.6 0a2.3 2.3 0 1 0-4.6 0M63.9 403.4a2.3 2.3 0 1 0 4.6 0a2.3 2.3 0 1 0-4.6 0M113.4 347.3a2.3 2.3 0 1 0 4.6 0a2.3 2.3 0 1 0-4.6 0M86.3 374.7a2.3 2.3 0 1 0 4.6 0a2.3 2.3 0 1 0-4.6 0M171.4 278.6a2.3 2.3 0 1 0 4.6 0a2.3 2.3 0 1 0-4.6 0M50.1 411.2a2.3 2.3 0 1 0 4.6 0a2.3 2.3 0 1 0-4.6 0M123.0 349.6a2.3 2.3 0 1 0 4.6 0a2.3 2.3 0 1 0-4.6 0M90.9 379.2a2.3 2.3 0 1 0 4.6 0a2.3 2.3 0 1 0-4.6 0M60.9 410.5a2.3 2.3 0 1 0 4.6 0a2.3 2.3 0 1 0-4.6 0M91.0 368.5a2.3 2.3 0 1 0 4.6 0a2.3 2.3 0 1 0-4.6 0M61.9 410.6a2.3 2.3 0 1 0 4.6 0a2.3 2.3 0 1 0-4.6 0M61.1 410.7a2.3 2.3 0 1 0 4.6 0a2.3 2.3 0 1 0-4.6 0M66.8 395.1a2.3 2.3 0 1 0 4.6 0a2.3 2.3 0 1 0-4.6 0M153.2 303.7a2.3 2.3 0 1 0 4.6 0a2.3 2.3 0 1 0-4.6 0M131.2 322.6a2.3 2.3 0 1 0 4.6 0a2.3 2.3 0 1 0-4.6 0M81.2 394.3a2.3 2.3 0 1 0 4.6 0a2.3 2.3 0 1 0-4.6 0M102.6 358.0a2.3 2.3 0 1 0 4.6 0a2.3 2.3 0 1 0-4.6 0M139.8 318.4a2.3 2.3 0 1 0 4.6 0a2.3 2.3 0 1 0-4.6 0M179.9 268.5a2.3 2.3 0 1 0 4.6 0a2.3 2.3 0 1 0-4.6 0M136.4 319.8a2.3 2.3 0 1 0 4.6 0a2.3 2.3 0 1 0-4.6 0M99.0 360.1a2.3 2.3 0 1 0 4.6 0a2.3 2.3 0 1 0-4.6 0M144.6 310.5a2.3 2.3 0 1 0 4.6 0a2.3 2.3 0 1 0-4.6 0M103.6 364.0a2.3 2.3 0 1 0 4.6 0a2.3 2.3 0 1 0-4.6 0M53.0 411.0a2.3 2.3 0 1 0 4.6 0a2.3 2.3 0 1 0-4.6 0M132.1 323.0a2.3 2.3 0 1 0 4.6 0a2.3 2.3 0 1 0-4.6 0M105.9 350.9a2.3 2.3 0 1 0 4.6 0a2.3 2.3 0 1 0-4.6 0M90.6 371.1a2.3 2.3 0 1 0 4.6 0a2.3 2.3 0 1 0-4.6 0M81.5 385.7a2.3 2.3 0 1 0 4.6 0a2.3 2.3 0 1 0-4.6 0M140.2 318.1a2.3 2.3 0 1 0 4.6 0a2.3 2.3 0 1 0-4.6 0M50.5 410.8a2.3 2.3 0 1 0 4.6 0a2.3 2.3 0 1 0-4.6 0M201.9 246.9a2.3 2.3 0 1 0 4.6 0a2.3 2.3 0 1 0-4.6 0M75.7 397.3a2.3 2.3 0 1 0 4.6 0a2.3 2.3 0 1 0-4.6 0M80.6 382.1a2.3 2.3 0 1 0 4.6 0a2.3 2.3 0 1 0-4.6 0M111.8 362.8a2.3 2.3 0 1 0 4.6 0a2.3 2.3 0 1 0-4.6 0M60.6 404.4a2.3 2.3 0 1 0 4.6 0a2.3 2.3 0 1 0-4.6 0M72.8 385.7a2.3 2.3 0 1 0 4.6 0a2.3 2.3 0 1 0-4.6 0M194.1 254.9a2.3 2.3 0 1 0 4.6 0a2.3 2.3 0 1 0-4.6 0M189.8 259.8a2.3 2.3 0 1 0 4.6 0a2.3 2.3 0 1 0-4.6 0M133.2 329.7a2.3 2.3 0 1 0 4.6 0a2.3 2.3 0 1 0-4.6 0M69.0 399.9a2.3 2.3 0 1 0 4.6 0a2.3 2.3 0 1 0-4.6 0M99.8 363.9a2.3 2.3 0 1 0 4.6 0a2.3 2.3 0 1 0-4.6 0M85.9 377.7a2.3 2.3 0 1 0 4.6 0a2.3 2.3 0 1 0-4.6 0M125.4 324.1a2.3 2.3 0 1 0 4.6 0a2.3 2.3 0 1 0-4.6 0M103.4 363.0a2.3 2.3 0 1 0 4.6 0a2.3 2.3 0 1 0-4.6 0M130.7 322.5a2.3 2.3 0 1 0 4.6 0a2.3 2.3 0 1 0-4.6 0M150.7 310.1a2.3 2.3 0 1 0 4.6 0a2.3 2.3 0 1 0-4.6 0M92.2 363.2a2.3 2.3 0 1 0 4.6 0a2.3 2.3 0 1 0-4.6 0M68.1 398.1a2.3 2.3 0 1 0 4.6 0a2.3 2.3 0 1 0-4.6 0M67.2 402.1a2.3 2.3 0 1 0 4.6 0a2.3 2.3 0 1 0-4.6 0M123.9 332.3a2.3 2.3 0 1 0 4.6 0a2.3 2.3 0 1 0-4.6 0M56.3 410.5a2.3 2.3 0 1 0 4.6 0a2.3 2.3 0 1 0-4.6 0M52.6 410.5a2.3 2.3 0 1 0 4.6 0a2.3 2.3 0 1 0-4.6 0M109.3 356.3a2.3 2.3 0 1 0 4.6 0a2.3 2.3 0 1 0-4.6 0M48.1 410.0a2.3 2.3 0 1 0 4.6 0a2.3 2.3 0 1 0-4.6 0M76.3 383.6a2.3 2.3 0 1 0 4.6 0a2.3 2.3 0 1 0-4.6 0M127.1 338.6a2.3 2.3 0 1 0 4.6 0a2.3 2.3 0 1 0-4.6 0M85.7 389.1a2.3 2.3 0 1 0 4.6 0a2.3 2.3 0 1 0-4.6 0M67.2 411.0a2.3 2.3 0 1 0 4.6 0a2.3 2.3 0 1 0-4.6 0M93.7 362.2a2.3 2.3 0 1 0 4.6 0a2.3 2.3 0 1 0-4.6 0M61.8 401.1a2.3 2.3 0 1 0 4.6 0a2.3 2.3 0 1 0-4.6 0M86.8 381.6a2.3 2.3 0 1 0 4.6 0a2.3 2.3 0 1 0-4.6 0M188.6 255.3a2.3 2.3 0 1 0 4.6 0a2.3 2.3 0 1 0-4.6 0M67.4 395.8a2.3 2.3 0 1 0 4.6 0a2.3 2.3 0 1 0-4.6 0M97.8 368.1a2.3 2.3 0 1 0 4.6 0a2.3 2.3 0 1 0-4.6 0M81.3 377.7a2.3 2.3 0 1 0 4.6 0a2.3 2.3 0 1 0-4.6 0M82.6 386.4a2.3 2.3 0 1 0 4.6 0a2.3 2.3 0 1 0-4.6 0M121.3 343.8a2.3 2.3 0 1 0 4.6 0a2.3 2.3 0 1 0-4.6 0M56.4 410.5a2.3 2.3 0 1 0 4.6 0a2.3 2.3 0 1 0-4.6 0M46.7 410.4a2.3 2.3 0 1 0 4.6 0a2.3 2.3 0 1 0-4.6 0M107.4 349.2a2.3 2.3 0 1 0 4.6 0a2.3 2.3 0 1 0-4.6 0M132.7 325.3a2.3 2.3 0 1 0 4.6 0a2.3 2.3 0 1 0-4.6 0M68.1 387.6a2.3 2.3 0 1 0 4.6 0a2.3 2.3 0 1 0-4.6 0M112.6 343.2a2.3 2.3 0 1 0 4.6 0a2.3 2.3 0 1 0-4.6 0M73.3 397.0a2.3 2.3 0 1 0 4.6 0a2.3 2.3 0 1 0-4.6 0M69.9 393.7a2.3 2.3 0 1 0 4.6 0a2.3 2.3 0 1 0-4.6 0M72.3 389.9a2.3 2.3 0 1 0 4.6 0a2.3 2.3 0 1 0-4.6 0M73.8 405.8a2.3 2.3 0 1 0 4.6 0a2.3 2.3 0 1 0-4.6 0M144.8 304.8a2.3 2.3 0 1 0 4.6 0a2.3 2.3 0 1 0-4.6 0M82.5 378.0a2.3 2.3 0 1 0 4.6 0a2.3 2.3 0 1 0-4.6 0M144.0 310.4a2.3 2.3 0 1 0 4.6 0a2.3 2.3 0 1 0-4.6 0M197.6 252.1a2.3 2.3 0 1 0 4.6 0a2.3 2.3 0 1 0-4.6 0M187.5 259.3a2.3 2.3 0 1 0 4.6 0a2.3 2.3 0 1 0-4.6 0M108.1 353.3a2.3 2.3 0 1 0 4.6 0a2.3 2.3 0 1 0-4.6 0M203.5 246.9a2.3 2.3 0 1 0 4.6 0a2.3 2.3 0 1 0-4.6 0M67.5 388.6a2.3 2.3 0 1 0 4.6 0a2.3 2.3 0 1 0-4.6 0M85.5 372.1a2.3 2.3 0 1 0 4.6 0a2.3 2.3 0 1 0-4.6 0M166.4 281.9a2.3 2.3 0 1 0 4.6 0a2.3 2.3 0 1 0-4.6 0M110.9 354.2a2.3 2.3 0 1 0 4.6 0a2.3 2.3 0 1 0-4.6 0M71.6 398.7a2.3 2.3 0 1 0 4.6 0a2.3 2.3 0 1 0-4.6 0M86.7 375.1a2.3 2.3 0 1 0 4.6 0a2.3 2.3 0 1 0-4.6 0M87.9 377.9a2.3 2.3 0 1 0 4.6 0a2.3 2.3 0 1 0-4.6 0M100.2 358.4a2.3 2.3 0 1 0 4.6 0a2.3 2.3 0 1 0-4.6 0M155.9 297.4a2.3 2.3 0 1 0 4.6 0a2.3 2.3 0 1 0-4.6 0M83.9 383.2a2.3 2.3 0 1 0 4.6 0a2.3 2.3 0 1 0-4.6 0M203.8 242.9a2.3 2.3 0 1 0 4.6 0a2.3 2.3 0 1 0-4.6 0M145.9 309.3a2.3 2.3 0 1 0 4.6 0a2.3 2.3 0 1 0-4.6 0M103.9 355.3a2.3 2.3 0 1 0 4.6 0a2.3 2.3 0 1 0-4.6 0M97.2 359.9a2.3 2.3 0 1 0 4.6 0a2.3 2.3 0 1 0-4.6 0M99.0 369.3a2.3 2.3 0 1 0 4.6 0a2.3 2.3 0 1 0-4.6 0M80.2 376.6a2.3 2.3 0 1 0 4.6 0a2.3 2.3 0 1 0-4.6 0M100.0 358.1a2.3 2.3 0 1 0 4.6 0a2.3 2.3 0 1 0-4.6 0M119.7 343.2a2.3 2.3 0 1 0 4.6 0a2.3 2.3 0 1 0-4.6 0M61.9 403.3a2.3 2.3 0 1 0 4.6 0a2.3 2.3 0 1 0-4.6 0M49.1 411.1a2.3 2.3 0 1 0 4.6 0a2.3 2.3 0 1 0-4.6 0M98.6 365.2a2.3 2.3 0 1 0 4.6 0a2.3 2.3 0 1 0-4.6 0M81.6 381.7a2.3 2.3 0 1 0 4.6 0a2.3 2.3 0 1 0-4.6 0M71.6 387.9a2.3 2.3 0 1 0 4.6 0a2.3 2.3 0 1 0-4.6 0M80.6 381.8a2.3 2.3 0 1 0 4.6 0a2.3 2.3 0 1 0-4.6 0M85.4 391.2a2.3 2.3 0 1 0 4.6 0a2.3 2.3 0 1 0-4.6 0M79.3 382.6a2.3 2.3 0 1 0 4.6 0a2.3 2.3 0 1 0-4.6 0M75.6 382.3a2.3 2.3 0 1 0 4.6 0a2.3 2.3 0 1 0-4.6 0M120.5 338.3a2.3 2.3 0 1 0 4.6 0a2.3 2.3 0 1 0-4.6 0M116.8 344.9a2.3 2.3 0 1 0 4.6 0a2.3 2.3 0 1 0-4.6 0M70.5 392.4a2.3 2.3 0 1 0 4.6 0a2.3 2.3 0 1 0-4.6 0M162.2 290.0a2.3 2.3 0 1 0 4.6 0a2.3 2.3 0 1 0-4.6 0M63.1 399.0a2.3 2.3 0 1 0 4.6 0a2.3 2.3 0 1 0-4.6 0M109.7 342.3a2.3 2.3 0 1 0 4.6 0a2.3 2.3 0 1 0-4.6 0M66.6 395.0a2.3 2.3 0 1 0 4.6 0a2.3 2.3 0 1 0-4.6 0M205.1 239.9a2.3 2.3 0 1 0 4.6 0a2.3 2.3 0 1 0-4.6 0M67.6 393.6a2.3 2.3 0 1 0 4.6 0a2.3 2.3 0 1 0-4.6 0M57.5 410.9a2.3 2.3 0 1 0 4.6 0a2.3 2.3 0 1 0-4.6 0M126.3 326.0a2.3 2.3 0 1 0 4.6 0a2.3 2.3 0 1 0-4.6 0M52.7 410.8a2.3 2.3 0 1 0 4.6 0a2.3 2.3 0 1 0-4.6 0M77.5 379.6a2.3 2.3 0 1 0 4.6 0a2.3 2.3 0 1 0-4.6 0M101.7 359.9a2.3 2.3 0 1 0 4.6 0a2.3 2.3 0 1 0-4.6 0M102.1 364.0a2.3 2.3 0 1 0 4.6 0a2.3 2.3 0 1 0-4.6 0M201.9 245.7a2.3 2.3 0 1 0 4.6 0a2.3 2.3 0 1 0-4.6 0M54.1 410.1a2.3 2.3 0 1 0 4.6 0a2.3 2.3 0 1 0-4.6 0M102.6 359.0a2.3 2.3 0 1 0 4.6 0a2.3 2.3 0 1 0-4.6 0M138.1 317.4a2.3 2.3 0 1 0 4.6 0a2.3 2.3 0 1 0-4.6 0M91.1 366.6a2.3 2.3 0 1 0 4.6 0a2.3 2.3 0 1 0-4.6 0M70.5 402.6a2.3 2.3 0 1 0 4.6 0a2.3 2.3 0 1 0-4.6 0M75.5 390.3a2.3 2.3 0 1 0 4.6 0a2.3 2.3 0 1 0-4.6 0M77.7 390.8a2.3 2.3 0 1 0 4.6 0a2.3 2.3 0 1 0-4.6 0M187.3 260.3a2.3 2.3 0 1 0 4.6 0a2.3 2.3 0 1 0-4.6 0M57.0 410.8a2.3 2.3 0 1 0 4.6 0a2.3 2.3 0 1 0-4.6 0M100.8 369.3a2.3 2.3 0 1 0 4.6 0a2.3 2.3 0 1 0-4.6 0M131.1 324.5a2.3 2.3 0 1 0 4.6 0a2.3 2.3 0 1 0-4.6 0M67.0 401.2a2.3 2.3 0 1 0 4.6 0a2.3 2.3 0 1 0-4.6 0M117.2 341.2a2.3 2.3 0 1 0 4.6 0a2.3 2.3 0 1 0-4.6 0M84.9 371.6a2.3 2.3 0 1 0 4.6 0a2.3 2.3 0 1 0-4.6 0M64.5 401.1a2.3 2.3 0 1 0 4.6 0a2.3 2.3 0 1 0-4.6 0M106.5 353.0a2.3 2.3 0 1 0 4.6 0a2.3 2.3 0 1 0-4.6 0M126.6 329.0a2.3 2.3 0 1 0 4.6 0a2.3 2.3 0 1 0-4.6 0M98.2 366.3a2.3 2.3 0 1 0 4.6 0a2.3 2.3 0 1 0-4.6 0M97.4 372.2a2.3 2.3 0 1 0 4.6 0a2.3 2.3 0 1 0-4.6 0M58.4 403.6a2.3 2.3 0 1 0 4.6 0a2.3 2.3 0 1 0-4.6 0M54.5 410.4a2.3 2.3 0 1 0 4.6 0a2.3 2.3 0 1 0-4.6 0M116.5 345.0a2.3 2.3 0 1 0 4.6 0a2.3 2.3 0 1 0-4.6 0M84.5 380.7a2.3 2.3 0 1 0 4.6 0a2.3 2.3 0 1 0-4.6 0M88.4 381.2a2.3 2.3 0 1 0 4.6 0a2.3 2.3 0 1 0-4.6 0M58.8 411.4a2.3 2.3 0 1 0 4.6 0a2.3 2.3 0 1 0-4.6 0M95.6 366.4a2.3 2.3 0 1 0 4.6 0a2.3 2.3 0 1 0-4.6 0M81.3 375.4a2.3 2.3 0 1 0 4.6 0a2.3 2.3 0 1 0-4.6 0M148.1 308.0a2.3 2.3 0 1 0 4.6 0a2.3 2.3 0 1 0-4.6 0M89.4 376.6a2.3 2.3 0 1 0 4.6 0a2.3 2.3 0 1 0-4.6 0M80.8 387.0a2.3 2.3 0 1 0 4.6 0a2.3 2.3 0 1 0-4.6 0M102.5 356.1a2.3 2.3 0 1 0 4.6 0a2.3 2.3 0 1 0-4.6 0M114.3 345.2a2.3 2.3 0 1 0 4.6 0a2.3 2.3 0 1 0-4.6 0M119.1 333.2a2.3 2.3 0 1 0 4.6 0a2.3 2.3 0 1 0-4.6 0M87.2 372.8a2.3 2.3 0 1 0 4.6 0a2.3 2.3 0 1 0-4.6 0M107.4 345.3a2.3 2.3 0 1 0 4.6 0a2.3 2.3 0 1 0-4.6 0M102.8 357.6a2.3 2.3 0 1 0 4.6 0a2.3 2.3 0 1 0-4.6 0M80.7 378.7a2.3 2.3 0 1 0 4.6 0a2.3 2.3 0 1 0-4.6 0M147.2 313.2a2.3 2.3 0 1 0 4.6 0a2.3 2.3 0 1 0-4.6 0M90.7 366.9a2.3 2.3 0 1 0 4.6 0a2.3 2.3 0 1 0-4.6 0M85.3 379.6a2.3 2.3 0 1 0 4.6 0a2.3 2.3 0 1 0-4.6 0M146.0 307.8a2.3 2.3 0 1 0 4.6 0a2.3 2.3 0 1 0-4.6 0M138.0 310.2a2.3 2.3 0 1 0 4.6 0a2.3 2.3 0 1 0-4.6 0M89.2 376.4a2.3 2.3 0 1 0 4.6 0a2.3 2.3 0 1 0-4.6 0M173.4 279.7a2.3 2.3 0 1 0 4.6 0a2.3 2.3 0 1 0-4.6 0M106.7 346.7a2.3 2.3 0 1 0 4.6 0a2.3 2.3 0 1 0-4.6 0M53.7 410.6a2.3 2.3 0 1 0 4.6 0a2.3 2.3 0 1 0-4.6 0M137.5 326.8a2.3 2.3 0 1 0 4.6 0a2.3 2.3 0 1 0-4.6 0M95.2 369.8a2.3 2.3 0 1 0 4.6 0a2.3 2.3 0 1 0-4.6 0M172.0 293.5a2.3 2.3 0 1 0 4.6 0a2.3 2.3 0 1 0-4.6 0M148.9 301.9a2.3 2.3 0 1 0 4.6 0a2.3 2.3 0 1 0-4.6 0" fill="none" stroke="#6a6a6a" stroke-width="0.55"/>
</g>
<g clip-path="url(#c3)"><line x1="-2.07" y1="467.80" x2="276.78" y2="169.30" stroke="#181818" stroke-width="1.1"/></g>
<line x1="39.55" y1="233.00" x2="39.55" y2="419.80" stroke="#7a7a7a" stroke-width="1.00"/>
<line x1="218.45" y1="233.00" x2="218.45" y2="419.80" stroke="#444" stroke-width="1.00"/>
<line x1="39.55" y1="233.50" x2="218.45" y2="233.50" stroke="#6c6c6c" stroke-width="1.00"/>
<line x1="39.55" y1="419.00" x2="218.45" y2="419.00" stroke="#595959" stroke-width="1.60"/>
<path d="M53.70 419.00v3.6M39.55 408.10h-3.6M90.88 419.00v3.6M39.55 368.30h-3.6M128.06 419.00v3.6M39.55 328.50h-3.6M165.24 419.00v3.6M39.55 288.70h-3.6M202.42 419.00v3.6M39.55 248.90h-3.6" stroke="#4a4a4a" stroke-width="1.1" fill="none"/>
<text x="53.70" y="433.80" font-size="11.0" fill="#111" text-anchor="middle">0.0</text>
<text x="33.25" y="412.95" font-size="11.0" fill="#111" text-anchor="end">0.0</text>
<text x="90.88" y="433.80" font-size="11.0" fill="#111" text-anchor="middle">0.2</text>
<text x="33.25" y="373.15" font-size="11.0" fill="#111" text-anchor="end">0.2</text>
<text x="128.06" y="433.80" font-size="11.0" fill="#111" text-anchor="middle">0.4</text>
<text x="33.25" y="333.35" font-size="11.0" fill="#111" text-anchor="end">0.4</text>
<text x="165.24" y="433.80" font-size="11.0" fill="#111" text-anchor="middle">0.6</text>
<text x="33.25" y="293.55" font-size="11.0" fill="#111" text-anchor="end">0.6</text>
<text x="202.42" y="433.80" font-size="11.0" fill="#111" text-anchor="middle">0.8</text>
<text x="33.25" y="253.75" font-size="11.0" fill="#111" text-anchor="end">0.8</text>
<text x="129.15" y="451.30" font-size="14.1" fill="#111" text-anchor="middle" letter-spacing="0.3">PCR-CV</text>
<text transform="translate(11.25 324.85) rotate(-90)" font-size="14.1" fill="#111" text-anchor="middle">PLS-CV</text>
<clipPath id="c4"><rect x="272.50" y="233.50" width="178.45" height="185.50"/></clipPath>
<g clip-path="url(#c4)">
<path d="M321.6 345.0a2.3 2.3 0 1 0 4.6 0a2.3 2.3 0 1 0-4.6 0M323.6 359.1a2.3 2.3 0 1 0 4.6 0a2.3 2.3 0 1 0-4.6 0M302.6 385.1a2.3 2.3 0 1 0 4.6 0a2.3 2.3 0 1 0-4.6 0M346.7 334.6a2.3 2.3 0 1 0 4.6 0a2.3 2.3 0 1 0-4.6 0M292.3 399.5a2.3 2.3 0 1 0 4.6 0a2.3 2.3 0 1 0-4.6 0M294.7 383.3a2.3 2.3 0 1 0 4.6 0a2.3 2.3 0 1 0-4.6 0M347.1 324.7a2.3 2.3 0 1 0 4.6 0a2.3 2.3 0 1 0-4.6 0M303.6 365.4a2.3 2.3 0 1 0 4.6 0a2.3 2.3 0 1 0-4.6 0M351.3 335.7a2.3 2.3 0 1 0 4.6 0a2.3 2.3 0 1 0-4.6 0M342.2 344.8a2.3 2.3 0 1 0 4.6 0a2.3 2.3 0 1 0-4.6 0M327.2 351.0a2.3 2.3 0 1 0 4.6 0a2.3 2.3 0 1 0-4.6 0M356.7 329.1a2.3 2.3 0 1 0 4.6 0a2.3 2.3 0 1 0-4.6 0M329.8 344.5a2.3 2.3 0 1 0 4.6 0a2.3 2.3 0 1 0-4.6 0M294.2 385.7a2.3 2.3 0 1 0 4.6 0a2.3 2.3 0 1 0-4.6 0M281.1 402.1a2.3 2.3 0 1 0 4.6 0a2.3 2.3 0 1 0-4.6 0M359.9 325.6a2.3 2.3 0 1 0 4.6 0a2.3 2.3 0 1 0-4.6 0M356.2 331.8a2.3 2.3 0 1 0 4.6 0a2.3 2.3 0 1 0-4.6 0M389.6 278.2a2.3 2.3 0 1 0 4.6 0a2.3 2.3 0 1 0-4.6 0M294.1 396.5a2.3 2.3 0 1 0 4.6 0a2.3 2.3 0 1 0-4.6 0M294.5 386.5a2.3 2.3 0 1 0 4.6 0a2.3 2.3 0 1 0-4.6 0M400.0 285.0a2.3 2.3 0 1 0 4.6 0a2.3 2.3 0 1 0-4.6 0M326.4 353.7a2.3 2.3 0 1 0 4.6 0a2.3 2.3 0 1 0-4.6 0M427.7 255.1a2.3 2.3 0 1 0 4.6 0a2.3 2.3 0 1 0-4.6 0M299.9 392.7a2.3 2.3 0 1 0 4.6 0a2.3 2.3 0 1 0-4.6 0M290.6 396.7a2.3 2.3 0 1 0 4.6 0a2.3 2.3 0 1 0-4.6 0M419.9 265.9a2.3 2.3 0 1 0 4.6 0a2.3 2.3 0 1 0-4.6 0M345.0 344.9a2.3 2.3 0 1 0 4.6 0a2.3 2.3 0 1 0-4.6 0M289.2 407.0a2.3 2.3 0 1 0 4.6 0a2.3 2.3 0 1 0-4.6 0M298.0 394.8a2.3 2.3 0 1 0 4.6 0a2.3 2.3 0 1 0-4.6 0M411.8 274.7a2.3 2.3 0 1 0 4.6 0a2.3 2.3 0 1 0-4.6 0M319.9 361.8a2.3 2.3 0 1 0 4.6 0a2.3 2.3 0 1 0-4.6 0M287.1 396.6a2.3 2.3 0 1 0 4.6 0a2.3 2.3 0 1 0-4.6 0M328.4 357.4a2.3 2.3 0 1 0 4.6 0a2.3 2.3 0 1 0-4.6 0M336.2 332.4a2.3 2.3 0 1 0 4.6 0a2.3 2.3 0 1 0-4.6 0M328.4 348.6a2.3 2.3 0 1 0 4.6 0a2.3 2.3 0 1 0-4.6 0M313.8 380.0a2.3 2.3 0 1 0 4.6 0a2.3 2.3 0 1 0-4.6 0M364.4 313.5a2.3 2.3 0 1 0 4.6 0a2.3 2.3 0 1 0-4.6 0M327.8 361.9a2.3 2.3 0 1 0 4.6 0a2.3 2.3 0 1 0-4.6 0M287.6 394.6a2.3 2.3 0 1 0 4.6 0a2.3 2.3 0 1 0-4.6 0M396.9 281.8a2.3 2.3 0 1 0 4.6 0a2.3 2.3 0 1 0-4.6 0M416.2 272.5a2.3 2.3 0 1 0 4.6 0a2.3 2.3 0 1 0-4.6 0M314.7 372.8a2.3 2.3 0 1 0 4.6 0a2.3 2.3 0 1 0-4.6 0M301.1 377.5a2.3 2.3 0 1 0 4.6 0a2.3 2.3 0 1 0-4.6 0M334.9 353.2a2.3 2.3 0 1 0 4.6 0a2.3 2.3 0 1 0-4.6 0M426.8 254.6a2.3 2.3 0 1 0 4.6 0a2.3 2.3 0 1 0-4.6 0M324.6 365.6a2.3 2.3 0 1 0 4.6 0a2.3 2.3 0 1 0-4.6 0M317.5 371.0a2.3 2.3 0 1 0 4.6 0a2.3 2.3 0 1 0-4.6 0M297.0 395.6a2.3 2.3 0 1 0 4.6 0a2.3 2.3 0 1 0-4.6 0M377.3 315.5a2.3 2.3 0 1 0 4.6 0a2.3 2.3 0 1 0-4.6 0M331.1 346.3a2.3 2.3 0 1 0 4.6 0a2.3 2.3 0 1 0-4.6 0M307.7 371.8a2.3 2.3 0 1 0 4.6 0a2.3 2.3 0 1 0-4.6 0M341.7 338.0a2.3 2.3 0 1 0 4.6 0a2.3 2.3 0 1 0-4.6 0M336.2 344.0a2.3 2.3 0 1 0 4.6 0a2.3 2.3 0 1 0-4.6 0M357.9 332.8a2.3 2.3 0 1 0 4.6 0a2.3 2.3 0 1 0-4.6 0M289.4 408.8a2.3 2.3 0 1 0 4.6 0a2.3 2.3 0 1 0-4.6 0M348.1 334.9a2.3 2.3 0 1 0 4.6 0a2.3 2.3 0 1 0-4.6 0M374.8 297.0a2.3 2.3 0 1 0 4.6 0a2.3 2.3 0 1 0-4.6 0M395.0 287.8a2.3 2.3 0 1 0 4.6 0a2.3 2.3 0 1 0-4.6 0M299.5 392.1a2.3 2.3 0 1 0 4.6 0a2.3 2.3 0 1 0-4.6 0M301.8 384.5a2.3 2.3 0 1 0 4.6 0a2.3 2.3 0 1 0-4.6 0M318.2 369.2a2.3 2.3 0 1 0 4.6 0a2.3 2.3 0 1 0-4.6 0M292.6 396.7a2.3 2.3 0 1 0 4.6 0a2.3 2.3 0 1 0-4.6 0M311.7 368.1a2.3 2.3 0 1 0 4.6 0a2.3 2.3 0 1 0-4.6 0M285.8 397.2a2.3 2.3 0 1 0 4.6 0a2.3 2.3 0 1 0-4.6 0M307.5 382.0a2.3 2.3 0 1 0 4.6 0a2.3 2.3 0 1 0-4.6 0M439.6 246.0a2.3 2.3 0 1 0 4.6 0a2.3 2.3 0 1 0-4.6 0M293.6 399.3a2.3 2.3 0 1 0 4.6 0a2.3 2.3 0 1 0-4.6 0M312.6 381.6a2.3 2.3 0 1 0 4.6 0a2.3 2.3 0 1 0-4.6 0M311.1 367.8a2.3 2.3 0 1 0 4.6 0a2.3 2.3 0 1 0-4.6 0M431.7 253.6a2.3 2.3 0 1 0 4.6 0a2.3 2.3 0 1 0-4.6 0M354.8 332.7a2.3 2.3 0 1 0 4.6 0a2.3 2.3 0 1 0-4.6 0M355.6 325.7a2.3 2.3 0 1 0 4.6 0a2.3 2.3 0 1 0-4.6 0M299.7 390.8a2.3 2.3 0 1 0 4.6 0a2.3 2.3 0 1 0-4.6 0M350.5 325.7a2.3 2.3 0 1 0 4.6 0a2.3 2.3 0 1 0-4.6 0M297.2 393.9a2.3 2.3 0 1 0 4.6 0a2.3 2.3 0 1 0-4.6 0M286.9 410.0a2.3 2.3 0 1 0 4.6 0a2.3 2.3 0 1 0-4.6 0M404.8 277.2a2.3 2.3 0 1 0 4.6 0a2.3 2.3 0 1 0-4.6 0M356.6 331.0a2.3 2.3 0 1 0 4.6 0a2.3 2.3 0 1 0-4.6 0M347.1 341.6a2.3 2.3 0 1 0 4.6 0a2.3 2.3 0 1 0-4.6 0M389.5 295.5a2.3 2.3 0 1 0 4.6 0a2.3 2.3 0 1 0-4.6 0M314.0 361.4a2.3 2.3 0 1 0 4.6 0a2.3 2.3 0 1 0-4.6 0M365.5 314.0a2.3 2.3 0 1 0 4.6 0a2.3 2.3 0 1 0-4.6 0M363.7 315.0a2.3 2.3 0 1 0 4.6 0a2.3 2.3 0 1 0-4.6 0M285.9 404.9a2.3 2.3 0 1 0 4.6 0a2.3 2.3 0 1 0-4.6 0M427.7 255.8a2.3 2.3 0 1 0 4.6 0a2.3 2.3 0 1 0-4.6 0M353.8 330.4a2.3 2.3 0 1 0 4.6 0a2.3 2.3 0 1 0-4.6 0M308.0 381.8a2.3 2.3 0 1 0 4.6 0a2.3 2.3 0 1 0-4.6 0M341.7 334.5a2.3 2.3 0 1 0 4.6 0a2.3 2.3 0 1 0-4.6 0M300.4 381.1a2.3 2.3 0 1 0 4.6 0a2.3 2.3 0 1 0-4.6 0M287.9 399.8a2.3 2.3 0 1 0 4.6 0a2.3 2.3 0 1 0-4.6 0M343.6 339.1a2.3 2.3 0 1 0 4.6 0a2.3 2.3 0 1 0-4.6 0M332.5 359.9a2.3 2.3 0 1 0 4.6 0a2.3 2.3 0 1 0-4.6 0M313.9 360.6a2.3 2.3 0 1 0 4.6 0a2.3 2.3 0 1 0-4.6 0M348.0 334.4a2.3 2.3 0 1 0 4.6 0a2.3 2.3 0 1 0-4.6 0M329.4 348.0a2.3 2.3 0 1 0 4.6 0a2.3 2.3 0 1 0-4.6 0M314.7 373.3a2.3 2.3 0 1 0 4.6 0a2.3 2.3 0 1 0-4.6 0M289.5 385.7a2.3 2.3 0 1 0 4.6 0a2.3 2.3 0 1 0-4.6 0M303.2 389.7a2.3 2.3 0 1 0 4.6 0a2.3 2.3 0 1 0-4.6 0M333.7 346.7a2.3 2.3 0 1 0 4.6 0a2.3 2.3 0 1 0-4.6 0M303.1 381.1a2.3 2.3 0 1 0 4.6 0a2.3 2.3 0 1 0-4.6 0M333.2 337.1a2.3 2.3 0 1 0 4.6 0a2.3 2.3 0 1 0-4.6 0M306.4 377.7a2.3 2.3 0 1 0 4.6 0a2.3 2.3 0 1 0-4.6 0M294.2 397.2a2.3 2.3 0 1 0 4.6 0a2.3 2.3 0 1 0-4.6 0M309.5 374.7a2.3 2.3 0 1 0 4.6 0a2.3 2.3 0 1 0-4.6 0M396.0 284.6a2.3 2.3 0 1 0 4.6 0a2.3 2.3 0 1 0-4.6 0M288.0 399.1a2.3 2.3 0 1 0 4.6 0a2.3 2.3 0 1 0-4.6 0M314.5 361.8a2.3 2.3 0 1 0 4.6 0a2.3 2.3 0 1 0-4.6 0M322.2 367.8a2.3 2.3 0 1 0 4.6 0a2.3 2.3 0 1 0-4.6 0M427.6 259.0a2.3 2.3 0 1 0 4.6 0a2.3 2.3 0 1 0-4.6 0M291.0 394.5a2.3 2.3 0 1 0 4.6 0a2.3 2.3 0 1 0-4.6 0M315.4 365.5a2.3 2.3 0 1 0 4.6 0a2.3 2.3 0 1 0-4.6 0M304.5 385.9a2.3 2.3 0 1 0 4.6 0a2.3 2.3 0 1 0-4.6 0M432.3 252.6a2.3 2.3 0 1 0 4.6 0a2.3 2.3 0 1 0-4.6 0M334.7 343.5a2.3 2.3 0 1 0 4.6 0a2.3 2.3 0 1 0-4.6 0M288.2 400.3a2.3 2.3 0 1 0 4.6 0a2.3 2.3 0 1 0-4.6 0M321.5 370.1a2.3 2.3 0 1 0 4.6 0a2.3 2.3 0 1 0-4.6 0M308.9 364.1a2.3 2.3 0 1 0 4.6 0a2.3 2.3 0 1 0-4.6 0M292.6 388.4a2.3 2.3 0 1 0 4.6 0a2.3 2.3 0 1 0-4.6 0M303.3 383.6a2.3 2.3 0 1 0 4.6 0a2.3 2.3 0 1 0-4.6 0M298.4 396.8a2.3 2.3 0 1 0 4.6 0a2.3 2.3 0 1 0-4.6 0M294.9 394.2a2.3 2.3 0 1 0 4.6 0a2.3 2.3 0 1 0-4.6 0M312.1 382.0a2.3 2.3 0 1 0 4.6 0a2.3 2.3 0 1 0-4.6 0M307.0 373.9a2.3 2.3 0 1 0 4.6 0a2.3 2.3 0 1 0-4.6 0M313.4 370.2a2.3 2.3 0 1 0 4.6 0a2.3 2.3 0 1 0-4.6 0M348.1 340.8a2.3 2.3 0 1 0 4.6 0a2.3 2.3 0 1 0-4.6 0M313.4 345.4a2.3 2.3 0 1 0 4.6 0a2.3 2.3 0 1 0-4.6 0M317.3 372.3a2.3 2.3 0 1 0 4.6 0a2.3 2.3 0 1 0-4.6 0M283.2 403.5a2.3 2.3 0 1 0 4.6 0a2.3 2.3 0 1 0-4.6 0M281.5 401.0a2.3 2.3 0 1 0 4.6 0a2.3 2.3 0 1 0-4.6 0M361.1 323.9a2.3 2.3 0 1 0 4.6 0a2.3 2.3 0 1 0-4.6 0M340.8 345.7a2.3 2.3 0 1 0 4.6 0a2.3 2.3 0 1 0-4.6 0M346.0 343.0a2.3 2.3 0 1 0 4.6 0a2.3 2.3 0 1 0-4.6 0M343.5 347.0a2.3 2.3 0 1 0 4.6 0a2.3 2.3 0 1 0-4.6 0M321.7 364.5a2.3 2.3 0 1 0 4.6 0a2.3 2.3 0 1 0-4.6 0M365.3 323.6a2.3 2.3 0 1 0 4.6 0a2.3 2.3 0 1 0-4.6 0M281.4 405.8a2.3 2.3 0 1 0 4.6 0a2.3 2.3 0 1 0-4.6 0M324.1 362.0a2.3 2.3 0 1 0 4.6 0a2.3 2.3 0 1 0-4.6 0M328.4 363.7a2.3 2.3 0 1 0 4.6 0a2.3 2.3 0 1 0-4.6 0M333.8 354.6a2.3 2.3 0 1 0 4.6 0a2.3 2.3 0 1 0-4.6 0M354.9 323.1a2.3 2.3 0 1 0 4.6 0a2.3 2.3 0 1 0-4.6 0M358.4 327.5a2.3 2.3 0 1 0 4.6 0a2.3 2.3 0 1 0-4.6 0M284.8 407.8a2.3 2.3 0 1 0 4.6 0a2.3 2.3 0 1 0-4.6 0M328.3 360.5a2.3 2.3 0 1 0 4.6 0a2.3 2.3 0 1 0-4.6 0M358.2 331.7a2.3 2.3 0 1 0 4.6 0a2.3 2.3 0 1 0-4.6 0M397.2 286.1a2.3 2.3 0 1 0 4.6 0a2.3 2.3 0 1 0-4.6 0M321.3 371.3a2.3 2.3 0 1 0 4.6 0a2.3 2.3 0 1 0-4.6 0M373.8 310.2a2.3 2.3 0 1 0 4.6 0a2.3 2.3 0 1 0-4.6 0M296.8 397.1a2.3 2.3 0 1 0 4.6 0a2.3 2.3 0 1 0-4.6 0M314.6 362.1a2.3 2.3 0 1 0 4.6 0a2.3 2.3 0 1 0-4.6 0M316.4 358.1a2.3 2.3 0 1 0 4.6 0a2.3 2.3 0 1 0-4.6 0M315.5 364.8a2.3 2.3 0 1 0 4.6 0a2.3 2.3 0 1 0-4.6 0M327.2 359.6a2.3 2.3 0 1 0 4.6 0a2.3 2.3 0 1 0-4.6 0M359.3 327.5a2.3 2.3 0 1 0 4.6 0a2.3 2.3 0 1 0-4.6 0M323.5 350.6a2.3 2.3 0 1 0 4.6 0a2.3 2.3 0 1 0-4.6 0M294.0 382.1a2.3 2.3 0 1 0 4.6 0a2.3 2.3 0 1 0-4.6 0M319.8 356.3a2.3 2.3 0 1 0 4.6 0a2.3 2.3 0 1 0-4.6 0M336.5 332.1a2.3 2.3 0 1 0 4.6 0a2.3 2.3 0 1 0-4.6 0M337.7 344.4a2.3 2.3 0 1 0 4.6 0a2.3 2.3 0 1 0-4.6 0M395.5 288.8a2.3 2.3 0 1 0 4.6 0a2.3 2.3 0 1 0-4.6 0M287.5 400.5a2.3 2.3 0 1 0 4.6 0a2.3 2.3 0 1 0-4.6 0M324.1 361.0a2.3 2.3 0 1 0 4.6 0a2.3 2.3 0 1 0-4.6 0M341.7 348.1a2.3 2.3 0 1 0 4.6 0a2.3 2.3 0 1 0-4.6 0M328.0 356.7a2.3 2.3 0 1 0 4.6 0a2.3 2.3 0 1 0-4.6 0M284.0 383.9a2.3 2.3 0 1 0 4.6 0a2.3 2.3 0 1 0-4.6 0M330.9 345.0a2.3 2.3 0 1 0 4.6 0a2.3 2.3 0 1 0-4.6 0M371.7 302.2a2.3 2.3 0 1 0 4.6 0a2.3 2.3 0 1 0-4.6 0M376.7 310.4a2.3 2.3 0 1 0 4.6 0a2.3 2.3 0 1 0-4.6 0M320.1 358.1a2.3 2.3 0 1 0 4.6 0a2.3 2.3 0 1 0-4.6 0M291.2 397.9a2.3 2.3 0 1 0 4.6 0a2.3 2.3 0 1 0-4.6 0M329.6 356.2a2.3 2.3 0 1 0 4.6 0a2.3 2.3 0 1 0-4.6 0M419.9 267.8a2.3 2.3 0 1 0 4.6 0a2.3 2.3 0 1 0-4.6 0M371.6 316.0a2.3 2.3 0 1 0 4.6 0a2.3 2.3 0 1 0-4.6 0M408.9 270.4a2.3 2.3 0 1 0 4.6 0a2.3 2.3 0 1 0-4.6 0M426.7 258.6a2.3 2.3 0 1 0 4.6 0a2.3 2.3 0 1 0-4.6 0M314.7 377.9a2.3 2.3 0 1 0 4.6 0a2.3 2.3 0 1 0-4.6 0M433.7 254.1a2.3 2.3 0 1 0 4.6 0a2.3 2.3 0 1 0-4.6 0M331.7 353.5a2.3 2.3 0 1 0 4.6 0a2.3 2.3 0 1 0-4.6 0M280.0 404.0a2.3 2.3 0 1 0 4.6 0a2.3 2.3 0 1 0-4.6 0M418.9 266.9a2.3 2.3 0 1 0 4.6 0a2.3 2.3 0 1 0-4.6 0M326.0 347.6a2.3 2.3 0 1 0 4.6 0a2.3 2.3 0 1 0-4.6 0M317.0 374.0a2.3 2.3 0 1 0 4.6 0a2.3 2.3 0 1 0-4.6 0M309.8 384.6a2.3 2.3 0 1 0 4.6 0a2.3 2.3 0 1 0-4.6 0M353.4 331.9a2.3 2.3 0 1 0 4.6 0a2.3 2.3 0 1 0-4.6 0M376.7 299.7a2.3 2.3 0 1 0 4.6 0a2.3 2.3 0 1 0-4.6 0M315.7 369.6a2.3 2.3 0 1 0 4.6 0a2.3 2.3 0 1 0-4.6 0M308.5 382.2a2.3 2.3 0 1 0 4.6 0a2.3 2.3 0 1 0-4.6 0M332.1 357.8a2.3 2.3 0 1 0 4.6 0a2.3 2.3 0 1 0-4.6 0M328.1 357.2a2.3 2.3 0 1 0 4.6 0a2.3 2.3 0 1 0-4.6 0M406.6 281.8a2.3 2.3 0 1 0 4.6 0a2.3 2.3 0 1 0-4.6 0M355.8 322.0a2.3 2.3 0 1 0 4.6 0a2.3 2.3 0 1 0-4.6 0M308.2 370.2a2.3 2.3 0 1 0 4.6 0a2.3 2.3 0 1 0-4.6 0M327.5 358.0a2.3 2.3 0 1 0 4.6 0a2.3 2.3 0 1 0-4.6 0M328.6 351.7a2.3 2.3 0 1 0 4.6 0a2.3 2.3 0 1 0-4.6 0M343.3 345.0a2.3 2.3 0 1 0 4.6 0a2.3 2.3 0 1 0-4.6 0M434.6 251.8a2.3 2.3 0 1 0 4.6 0a2.3 2.3 0 1 0-4.6 0M308.9 375.1a2.3 2.3 0 1 0 4.6 0a2.3 2.3 0 1 0-4.6 0M317.5 371.5a2.3 2.3 0 1 0 4.6 0a2.3 2.3 0 1 0-4.6 0M314.1 349.3a2.3 2.3 0 1 0 4.6 0a2.3 2.3 0 1 0-4.6 0M290.1 405.4a2.3 2.3 0 1 0 4.6 0a2.3 2.3 0 1 0-4.6 0M364.4 312.1a2.3 2.3 0 1 0 4.6 0a2.3 2.3 0 1 0-4.6 0M317.4 359.0a2.3 2.3 0 1 0 4.6 0a2.3 2.3 0 1 0-4.6 0M294.6 386.7a2.3 2.3 0 1 0 4.6 0a2.3 2.3 0 1 0-4.6 0M351.0 312.7a2.3 2.3 0 1 0 4.6 0a2.3 2.3 0 1 0-4.6 0M347.4 341.8a2.3 2.3 0 1 0 4.6 0a2.3 2.3 0 1 0-4.6 0M290.0 398.4a2.3 2.3 0 1 0 4.6 0a2.3 2.3 0 1 0-4.6 0M327.5 369.3a2.3 2.3 0 1 0 4.6 0a2.3 2.3 0 1 0-4.6 0M301.5 378.7a2.3 2.3 0 1 0 4.6 0a2.3 2.3 0 1 0-4.6 0M282.5 404.0a2.3 2.3 0 1 0 4.6 0a2.3 2.3 0 1 0-4.6 0M311.0 376.0a2.3 2.3 0 1 0 4.6 0a2.3 2.3 0 1 0-4.6 0M407.8 277.6a2.3 2.3 0 1 0 4.6 0a2.3 2.3 0 1 0-4.6 0M319.4 375.9a2.3 2.3 0 1 0 4.6 0a2.3 2.3 0 1 0-4.6 0M281.2 407.6a2.3 2.3 0 1 0 4.6 0a2.3 2.3 0 1 0-4.6 0M317.3 349.4a2.3 2.3 0 1 0 4.6 0a2.3 2.3 0 1 0-4.6 0M421.9 264.7a2.3 2.3 0 1 0 4.6 0a2.3 2.3 0 1 0-4.6 0M321.8 364.8a2.3 2.3 0 1 0 4.6 0a2.3 2.3 0 1 0-4.6 0M354.1 333.4a2.3 2.3 0 1 0 4.6 0a2.3 2.3 0 1 0-4.6 0M282.8 408.1a2.3 2.3 0 1 0 4.6 0a2.3 2.3 0 1 0-4.6 0M318.4 367.0a2.3 2.3 0 1 0 4.6 0a2.3 2.3 0 1 0-4.6 0M333.7 345.7a2.3 2.3 0 1 0 4.6 0a2.3 2.3 0 1 0-4.6 0M360.7 327.6a2.3 2.3 0 1 0 4.6 0a2.3 2.3 0 1 0-4.6 0M325.7 340.9a2.3 2.3 0 1 0 4.6 0a2.3 2.3 0 1 0-4.6 0M336.7 355.4a2.3 2.3 0 1 0 4.6 0a2.3 2.3 0 1 0-4.6 0M371.4 298.8a2.3 2.3 0 1 0 4.6 0a2.3 2.3 0 1 0-4.6 0M353.5 317.4a2.3 2.3 0 1 0 4.6 0a2.3 2.3 0 1 0-4.6 0M378.1 298.1a2.3 2.3 0 1 0 4.6 0a2.3 2.3 0 1 0-4.6 0M373.2 303.0a2.3 2.3 0 1 0 4.6 0a2.3 2.3 0 1 0-4.6 0M284.4 399.9a2.3 2.3 0 1 0 4.6 0a2.3 2.3 0 1 0-4.6 0M349.0 338.0a2.3 2.3 0 1 0 4.6 0a2.3 2.3 0 1 0-4.6 0M338.1 340.4a2.3 2.3 0 1 0 4.6 0a2.3 2.3 0 1 0-4.6 0M412.2 273.1a2.3 2.3 0 1 0 4.6 0a2.3 2.3 0 1 0-4.6 0M311.1 387.2a2.3 2.3 0 1 0 4.6 0a2.3 2.3 0 1 0-4.6 0M371.9 308.3a2.3 2.3 0 1 0 4.6 0a2.3 2.3 0 1 0-4.6 0M361.6 325.2a2.3 2.3 0 1 0 4.6 0a2.3 2.3 0 1 0-4.6 0M355.8 332.7a2.3 2.3 0 1 0 4.6 0a2.3 2.3 0 1 0-4.6 0M295.4 379.4a2.3 2.3 0 1 0 4.6 0a2.3 2.3 0 1 0-4.6 0M437.8 246.7a2.3 2.3 0 1 0 4.6 0a2.3 2.3 0 1 0-4.6 0M310.6 375.1a2.3 2.3 0 1 0 4.6 0a2.3 2.3 0 1 0-4.6 0M287.6 383.5a2.3 2.3 0 1 0 4.6 0a2.3 2.3 0 1 0-4.6 0M342.8 346.0a2.3 2.3 0 1 0 4.6 0a2.3 2.3 0 1 0-4.6 0M393.7 285.7a2.3 2.3 0 1 0 4.6 0a2.3 2.3 0 1 0-4.6 0M337.4 357.0a2.3 2.3 0 1 0 4.6 0a2.3 2.3 0 1 0-4.6 0M350.5 336.9a2.3 2.3 0 1 0 4.6 0a2.3 2.3 0 1 0-4.6 0M323.9 362.3a2.3 2.3 0 1 0 4.6 0a2.3 2.3 0 1 0-4.6 0M284.1 401.8a2.3 2.3 0 1 0 4.6 0a2.3 2.3 0 1 0-4.6 0M387.2 297.0a2.3 2.3 0 1 0 4.6 0a2.3 2.3 0 1 0-4.6 0M384.0 301.3a2.3 2.3 0 1 0 4.6 0a2.3 2.3 0 1 0-4.6 0M316.4 363.9a2.3 2.3 0 1 0 4.6 0a2.3 2.3 0 1 0-4.6 0M303.1 388.7a2.3 2.3 0 1 0 4.6 0a2.3 2.3 0 1 0-4.6 0M288.8 402.9a2.3 2.3 0 1 0 4.6 0a2.3 2.3 0 1 0-4.6 0M350.3 321.6a2.3 2.3 0 1 0 4.6 0a2.3 2.3 0 1 0-4.6 0M310.7 373.4a2.3 2.3 0 1 0 4.6 0a2.3 2.3 0 1 0-4.6 0M288.6 396.1a2.3 2.3 0 1 0 4.6 0a2.3 2.3 0 1 0-4.6 0M302.2 384.9a2.3 2.3 0 1 0 4.6 0a2.3 2.3 0 1 0-4.6 0M359.6 321.7a2.3 2.3 0 1 0 4.6 0a2.3 2.3 0 1 0-4.6 0M312.0 364.5a2.3 2.3 0 1 0 4.6 0a2.3 2.3 0 1 0-4.6 0M408.9 277.1a2.3 2.3 0 1 0 4.6 0a2.3 2.3 0 1 0-4.6 0M316.7 361.1a2.3 2.3 0 1 0 4.6 0a2.3 2.3 0 1 0-4.6 0M337.5 333.7a2.3 2.3 0 1 0 4.6 0a2.3 2.3 0 1 0-4.6 0M320.4 366.9a2.3 2.3 0 1 0 4.6 0a2.3 2.3 0 1 0-4.6 0M339.6 349.2a2.3 2.3 0 1 0 4.6 0a2.3 2.3 0 1 0-4.6 0M320.9 357.2a2.3 2.3 0 1 0 4.6 0a2.3 2.3 0 1 0-4.6 0M364.6 316.7a2.3 2.3 0 1 0 4.6 0a2.3 2.3 0 1 0-4.6 0M382.7 293.8a2.3 2.3 0 1 0 4.6 0a2.3 2.3 0 1 0-4.6 0M290.5 389.5a2.3 2.3 0 1 0 4.6 0a2.3 2.3 0 1 0-4.6 0M292.4 404.6a2.3 2.3 0 1 0 4.6 0a2.3 2.3 0 1 0-4.6 0M360.9 321.4a2.3 2.3 0 1 0 4.6 0a2.3 2.3 0 1 0-4.6 0M292.7 398.3a2.3 2.3 0 1 0 4.6 0a2.3 2.3 0 1 0-4.6 0M343.6 344.9a2.3 2.3 0 1 0 4.6 0a2.3 2.3 0 1 0-4.6 0M317.3 347.3a2.3 2.3 0 1 0 4.6 0a2.3 2.3 0 1 0-4.6 0M338.9 350.8a2.3 2.3 0 1 0 4.6 0a2.3 2.3 0 1 0-4.6 0M428.9 258.8a2.3 2.3 0 1 0 4.6 0a2.3 2.3 0 1 0-4.6 0M346.5 342.4a2.3 2.3 0 1 0 4.6 0a2.3 2.3 0 1 0-4.6 0M313.6 369.6a2.3 2.3 0 1 0 4.6 0a2.3 2.3 0 1 0-4.6 0M288.4 404.7a2.3 2.3 0 1 0 4.6 0a2.3 2.3 0 1 0-4.6 0M334.8 355.0a2.3 2.3 0 1 0 4.6 0a2.3 2.3 0 1 0-4.6 0M299.5 384.3a2.3 2.3 0 1 0 4.6 0a2.3 2.3 0 1 0-4.6 0M292.0 401.5a2.3 2.3 0 1 0 4.6 0a2.3 2.3 0 1 0-4.6 0M385.1 288.2a2.3 2.3 0 1 0 4.6 0a2.3 2.3 0 1 0-4.6 0M331.7 356.3a2.3 2.3 0 1 0 4.6 0a2.3 2.3 0 1 0-4.6 0M298.3 379.6a2.3 2.3 0 1 0 4.6 0a2.3 2.3 0 1 0-4.6 0M343.2 342.2a2.3 2.3 0 1 0 4.6 0a2.3 2.3 0 1 0-4.6 0M367.7 325.7a2.3 2.3 0 1 0 4.6 0a2.3 2.3 0 1 0-4.6 0M332.2 346.5a2.3 2.3 0 1 0 4.6 0a2.3 2.3 0 1 0-4.6 0M290.8 398.1a2.3 2.3 0 1 0 4.6 0a2.3 2.3 0 1 0-4.6 0M367.3 317.5a2.3 2.3 0 1 0 4.6 0a2.3 2.3 0 1 0-4.6 0M302.6 386.6a2.3 2.3 0 1 0 4.6 0a2.3 2.3 0 1 0-4.6 0M318.7 350.9a2.3 2.3 0 1 0 4.6 0a2.3 2.3 0 1 0-4.6 0M305.8 367.1a2.3 2.3 0 1 0 4.6 0a2.3 2.3 0 1 0-4.6 0M296.3 393.0a2.3 2.3 0 1 0 4.6 0a2.3 2.3 0 1 0-4.6 0M418.5 262.5a2.3 2.3 0 1 0 4.6 0a2.3 2.3 0 1 0-4.6 0M290.9 398.8a2.3 2.3 0 1 0 4.6 0a2.3 2.3 0 1 0-4.6 0M331.9 340.1a2.3 2.3 0 1 0 4.6 0a2.3 2.3 0 1 0-4.6 0M329.5 353.8a2.3 2.3 0 1 0 4.6 0a2.3 2.3 0 1 0-4.6 0M309.9 377.6a2.3 2.3 0 1 0 4.6 0a2.3 2.3 0 1 0-4.6 0M304.8 382.6a2.3 2.3 0 1 0 4.6 0a2.3 2.3 0 1 0-4.6 0M354.8 316.8a2.3 2.3 0 1 0 4.6 0a2.3 2.3 0 1 0-4.6 0M296.0 389.4a2.3 2.3 0 1 0 4.6 0a2.3 2.3 0 1 0-4.6 0M314.4 352.5a2.3 2.3 0 1 0 4.6 0a2.3 2.3 0 1 0-4.6 0M284.6 405.6a2.3 2.3 0 1 0 4.6 0a2.3 2.3 0 1 0-4.6 0M291.3 399.8a2.3 2.3 0 1 0 4.6 0a2.3 2.3 0 1 0-4.6 0M338.5 343.3a2.3 2.3 0 1 0 4.6 0a2.3 2.3 0 1 0-4.6 0M377.1 304.7a2.3 2.3 0 1 0 4.6 0a2.3 2.3 0 1 0-4.6 0M328.8 348.5a2.3 2.3 0 1 0 4.6 0a2.3 2.3 0 1 0-4.6 0M350.3 338.5a2.3 2.3 0 1 0 4.6 0a2.3 2.3 0 1 0-4.6 0M303.5 359.2a2.3 2.3 0 1 0 4.6 0a2.3 2.3 0 1 0-4.6 0M294.5 383.5a2.3 2.3 0 1 0 4.6 0a2.3 2.3 0 1 0-4.6 0M336.2 360.4a2.3 2.3 0 1 0 4.6 0a2.3 2.3 0 1 0-4.6 0M287.4 404.7a2.3 2.3 0 1 0 4.6 0a2.3 2.3 0 1 0-4.6 0M328.1 353.1a2.3 2.3 0 1 0 4.6 0a2.3 2.3 0 1 0-4.6 0M356.5 310.4a2.3 2.3 0 1 0 4.6 0a2.3 2.3 0 1 0-4.6 0M317.0 361.6a2.3 2.3 0 1 0 4.6 0a2.3 2.3 0 1 0-4.6 0M367.5 311.5a2.3 2.3 0 1 0 4.6 0a2.3 2.3 0 1 0-4.6 0M335.2 355.8a2.3 2.3 0 1 0 4.6 0a2.3 2.3 0 1 0-4.6 0M390.3 286.6a2.3 2.3 0 1 0 4.6 0a2.3 2.3 0 1 0-4.6 0M291.1 391.9a2.3 2.3 0 1 0 4.6 0a2.3 2.3 0 1 0-4.6 0M330.5 333.4a2.3 2.3 0 1 0 4.6 0a2.3 2.3 0 1 0-4.6 0M360.1 321.1a2.3 2.3 0 1 0 4.6 0a2.3 2.3 0 1 0-4.6 0M291.1 401.6a2.3 2.3 0 1 0 4.6 0a2.3 2.3 0 1 0-4.6 0M293.6 392.2a2.3 2.3 0 1 0 4.6 0a2.3 2.3 0 1 0-4.6 0M287.5 400.8a2.3 2.3 0 1 0 4.6 0a2.3 2.3 0 1 0-4.6 0M436.8 244.8a2.3 2.3 0 1 0 4.6 0a2.3 2.3 0 1 0-4.6 0M434.6 251.3a2.3 2.3 0 1 0 4.6 0a2.3 2.3 0 1 0-4.6 0M351.2 325.1a2.3 2.3 0 1 0 4.6 0a2.3 2.3 0 1 0-4.6 0M328.1 360.7a2.3 2.3 0 1 0 4.6 0a2.3 2.3 0 1 0-4.6 0M321.2 370.4a2.3 2.3 0 1 0 4.6 0a2.3 2.3 0 1 0-4.6 0M297.2 386.1a2.3 2.3 0 1 0 4.6 0a2.3 2.3 0 1 0-4.6 0M334.5 352.8a2.3 2.3 0 1 0 4.6 0a2.3 2.3 0 1 0-4.6 0M320.7 374.5a2.3 2.3 0 1 0 4.6 0a2.3 2.3 0 1 0-4.6 0M404.4 284.1a2.3 2.3 0 1 0 4.6 0a2.3 2.3 0 1 0-4.6 0M390.4 294.9a2.3 2.3 0 1 0 4.6 0a2.3 2.3 0 1 0-4.6 0M336.0 355.6a2.3 2.3 0 1 0 4.6 0a2.3 2.3 0 1 0-4.6 0M281.5 412.9a2.3 2.3 0 1 0 4.6 0a2.3 2.3 0 1 0-4.6 0M314.3 366.5a2.3 2.3 0 1 0 4.6 0a2.3 2.3 0 1 0-4.6 0M419.6 265.9a2.3 2.3 0 1 0 4.6 0a2.3 2.3 0 1 0-4.6 0M332.0 352.3a2.3 2.3 0 1 0 4.6 0a2.3 2.3 0 1 0-4.6 0M389.4 296.9a2.3 2.3 0 1 0 4.6 0a2.3 2.3 0 1 0-4.6 0M341.2 338.2a2.3 2.3 0 1 0 4.6 0a2.3 2.3 0 1 0-4.6 0M312.2 351.1a2.3 2.3 0 1 0 4.6 0a2.3 2.3 0 1 0-4.6 0M396.6 285.0a2.3 2.3 0 1 0 4.6 0a2.3 2.3 0 1 0-4.6 0M419.5 264.1a2.3 2.3 0 1 0 4.6 0a2.3 2.3 0 1 0-4.6 0M321.4 361.1a2.3 2.3 0 1 0 4.6 0a2.3 2.3 0 1 0-4.6 0M312.4 372.6a2.3 2.3 0 1 0 4.6 0a2.3 2.3 0 1 0-4.6 0M288.7 398.4a2.3 2.3 0 1 0 4.6 0a2.3 2.3 0 1 0-4.6 0M295.6 398.9a2.3 2.3 0 1 0 4.6 0a2.3 2.3 0 1 0-4.6 0M319.8 365.9a2.3 2.3 0 1 0 4.6 0a2.3 2.3 0 1 0-4.6 0M293.9 390.9a2.3 2.3 0 1 0 4.6 0a2.3 2.3 0 1 0-4.6 0M386.3 298.5a2.3 2.3 0 1 0 4.6 0a2.3 2.3 0 1 0-4.6 0M417.8 269.9a2.3 2.3 0 1 0 4.6 0a2.3 2.3 0 1 0-4.6 0M315.8 372.6a2.3 2.3 0 1 0 4.6 0a2.3 2.3 0 1 0-4.6 0M297.7 389.0a2.3 2.3 0 1 0 4.6 0a2.3 2.3 0 1 0-4.6 0M324.5 366.2a2.3 2.3 0 1 0 4.6 0a2.3 2.3 0 1 0-4.6 0M310.0 383.9a2.3 2.3 0 1 0 4.6 0a2.3 2.3 0 1 0-4.6 0M305.6 390.3a2.3 2.3 0 1 0 4.6 0a2.3 2.3 0 1 0-4.6 0M311.3 365.9a2.3 2.3 0 1 0 4.6 0a2.3 2.3 0 1 0-4.6 0M356.8 324.6a2.3 2.3 0 1 0 4.6 0a2.3 2.3 0 1 0-4.6 0M361.8 322.6a2.3 2.3 0 1 0 4.6 0a2.3 2.3 0 1 0-4.6 0M290.9 400.6a2.3 2.3 0 1 0 4.6 0a2.3 2.3 0 1 0-4.6 0M292.4 388.9a2.3 2.3 0 1 0 4.6 0a2.3 2.3 0 1 0-4.6 0M298.2 372.4a2.3 2.3 0 1 0 4.6 0a2.3 2.3 0 1 0-4.6 0M324.1 347.8a2.3 2.3 0 1 0 4.6 0a2.3 2.3 0 1 0-4.6 0M435.9 252.6a2.3 2.3 0 1 0 4.6 0a2.3 2.3 0 1 0-4.6 0M358.7 327.2a2.3 2.3 0 1 0 4.6 0a2.3 2.3 0 1 0-4.6 0M290.6 397.0a2.3 2.3 0 1 0 4.6 0a2.3 2.3 0 1 0-4.6 0M330.3 360.6a2.3 2.3 0 1 0 4.6 0a2.3 2.3 0 1 0-4.6 0M314.9 374.9a2.3 2.3 0 1 0 4.6 0a2.3 2.3 0 1 0-4.6 0M322.5 363.6a2.3 2.3 0 1 0 4.6 0a2.3 2.3 0 1 0-4.6 0M334.5 337.7a2.3 2.3 0 1 0 4.6 0a2.3 2.3 0 1 0-4.6 0M352.9 332.7a2.3 2.3 0 1 0 4.6 0a2.3 2.3 0 1 0-4.6 0M294.8 382.6a2.3 2.3 0 1 0 4.6 0a2.3 2.3 0 1 0-4.6 0M316.7 377.2a2.3 2.3 0 1 0 4.6 0a2.3 2.3 0 1 0-4.6 0M294.6 396.5a2.3 2.3 0 1 0 4.6 0a2.3 2.3 0 1 0-4.6 0M369.9 322.9a2.3 2.3 0 1 0 4.6 0a2.3 2.3 0 1 0-4.6 0M308.4 354.0a2.3 2.3 0 1 0 4.6 0a2.3 2.3 0 1 0-4.6 0M297.1 400.3a2.3 2.3 0 1 0 4.6 0a2.3 2.3 0 1 0-4.6 0M340.4 332.0a2.3 2.3 0 1 0 4.6 0a2.3 2.3 0 1 0-4.6 0M344.2 342.2a2.3 2.3 0 1 0 4.6 0a2.3 2.3 0 1 0-4.6 0M303.5 372.6a2.3 2.3 0 1 0 4.6 0a2.3 2.3 0 1 0-4.6 0M359.4 329.3a2.3 2.3 0 1 0 4.6 0a2.3 2.3 0 1 0-4.6 0M303.9 374.4a2.3 2.3 0 1 0 4.6 0a2.3 2.3 0 1 0-4.6 0M346.5 344.6a2.3 2.3 0 1 0 4.6 0a2.3 2.3 0 1 0-4.6 0M403.5 284.4a2.3 2.3 0 1 0 4.6 0a2.3 2.3 0 1 0-4.6 0M329.0 350.2a2.3 2.3 0 1 0 4.6 0a2.3 2.3 0 1 0-4.6 0M293.9 377.9a2.3 2.3 0 1 0 4.6 0a2.3 2.3 0 1 0-4.6 0M327.6 364.2a2.3 2.3 0 1 0 4.6 0a2.3 2.3 0 1 0-4.6 0M307.4 386.6a2.3 2.3 0 1 0 4.6 0a2.3 2.3 0 1 0-4.6 0M293.2 396.2a2.3 2.3 0 1 0 4.6 0a2.3 2.3 0 1 0-4.6 0M420.5 267.0a2.3 2.3 0 1 0 4.6 0a2.3 2.3 0 1 0-4.6 0M386.9 298.3a2.3 2.3 0 1 0 4.6 0a2.3 2.3 0 1 0-4.6 0M286.5 389.1a2.3 2.3 0 1 0 4.6 0a2.3 2.3 0 1 0-4.6 0M397.0 291.3a2.3 2.3 0 1 0 4.6 0a2.3 2.3 0 1 0-4.6 0M284.0 402.5a2.3 2.3 0 1 0 4.6 0a2.3 2.3 0 1 0-4.6 0M329.7 356.2a2.3 2.3 0 1 0 4.6 0a2.3 2.3 0 1 0-4.6 0M368.1 324.8a2.3 2.3 0 1 0 4.6 0a2.3 2.3 0 1 0-4.6 0M286.4 401.0a2.3 2.3 0 1 0 4.6 0a2.3 2.3 0 1 0-4.6 0M302.2 392.4a2.3 2.3 0 1 0 4.6 0a2.3 2.3 0 1 0-4.6 0M341.3 354.2a2.3 2.3 0 1 0 4.6 0a2.3 2.3 0 1 0-4.6 0M294.0 394.4a2.3 2.3 0 1 0 4.6 0a2.3 2.3 0 1 0-4.6 0M363.8 323.3a2.3 2.3 0 1 0 4.6 0a2.3 2.3 0 1 0-4.6 0M303.5 380.5a2.3 2.3 0 1 0 4.6 0a2.3 2.3 0 1 0-4.6 0M309.5 382.9a2.3 2.3 0 1 0 4.6 0a2.3 2.3 0 1 0-4.6 0M309.7 380.0a2.3 2.3 0 1 0 4.6 0a2.3 2.3 0 1 0-4.6 0M425.1 263.7a2.3 2.3 0 1 0 4.6 0a2.3 2.3 0 1 0-4.6 0M382.8 304.7a2.3 2.3 0 1 0 4.6 0a2.3 2.3 0 1 0-4.6 0M369.3 312.1a2.3 2.3 0 1 0 4.6 0a2.3 2.3 0 1 0-4.6 0M305.5 384.8a2.3 2.3 0 1 0 4.6 0a2.3 2.3 0 1 0-4.6 0M434.2 251.3a2.3 2.3 0 1 0 4.6 0a2.3 2.3 0 1 0-4.6 0M323.0 352.6a2.3 2.3 0 1 0 4.6 0a2.3 2.3 0 1 0-4.6 0M336.6 349.4a2.3 2.3 0 1 0 4.6 0a2.3 2.3 0 1 0-4.6 0M358.6 331.1a2.3 2.3 0 1 0 4.6 0a2.3 2.3 0 1 0-4.6 0M357.8 327.9a2.3 2.3 0 1 0 4.6 0a2.3 2.3 0 1 0-4.6 0M382.9 307.6a2.3 2.3 0 1 0 4.6 0a2.3 2.3 0 1 0-4.6 0M298.4 372.8a2.3 2.3 0 1 0 4.6 0a2.3 2.3 0 1 0-4.6 0M285.1 395.7a2.3 2.3 0 1 0 4.6 0a2.3 2.3 0 1 0-4.6 0M321.8 376.8a2.3 2.3 0 1 0 4.6 0a2.3 2.3 0 1 0-4.6 0M374.5 304.3a2.3 2.3 0 1 0 4.6 0a2.3 2.3 0 1 0-4.6 0M439.1 245.7a2.3 2.3 0 1 0 4.6 0a2.3 2.3 0 1 0-4.6 0M287.6 401.8a2.3 2.3 0 1 0 4.6 0a2.3 2.3 0 1 0-4.6 0M299.3 378.6a2.3 2.3 0 1 0 4.6 0a2.3 2.3 0 1 0-4.6 0M354.8 332.8a2.3 2.3 0 1 0 4.6 0a2.3 2.3 0 1 0-4.6 0M323.1 359.5a2.3 2.3 0 1 0 4.6 0a2.3 2.3 0 1 0-4.6 0M312.6 364.8a2.3 2.3 0 1 0 4.6 0a2.3 2.3 0 1 0-4.6 0M389.8 290.1a2.3 2.3 0 1 0 4.6 0a2.3 2.3 0 1 0-4.6 0M315.3 349.6a2.3 2.3 0 1 0 4.6 0a2.3 2.3 0 1 0-4.6 0M295.9 389.4a2.3 2.3 0 1 0 4.6 0a2.3 2.3 0 1 0-4.6 0M289.7 402.6a2.3 2.3 0 1 0 4.6 0a2.3 2.3 0 1 0-4.6 0M335.7 353.1a2.3 2.3 0 1 0 4.6 0a2.3 2.3 0 1 0-4.6 0M309.1 378.2a2.3 2.3 0 1 0 4.6 0a2.3 2.3 0 1 0-4.6 0M312.1 371.8a2.3 2.3 0 1 0 4.6 0a2.3 2.3 0 1 0-4.6 0M426.1 264.8a2.3 2.3 0 1 0 4.6 0a2.3 2.3 0 1 0-4.6 0M289.0 394.7a2.3 2.3 0 1 0 4.6 0a2.3 2.3 0 1 0-4.6 0M387.4 299.2a2.3 2.3 0 1 0 4.6 0a2.3 2.3 0 1 0-4.6 0M337.1 357.7a2.3 2.3 0 1 0 4.6 0a2.3 2.3 0 1 0-4.6 0M392.8 286.9a2.3 2.3 0 1 0 4.6 0a2.3 2.3 0 1 0-4.6 0M354.1 333.8a2.3 2.3 0 1 0 4.6 0a2.3 2.3 0 1 0-4.6 0M308.1 376.4a2.3 2.3 0 1 0 4.6 0a2.3 2.3 0 1 0-4.6 0M401.6 288.5a2.3 2.3 0 1 0 4.6 0a2.3 2.3 0 1 0-4.6 0M288.8 405.1a2.3 2.3 0 1 0 4.6 0a2.3 2.3 0 1 0-4.6 0M283.9 411.8a2.3 2.3 0 1 0 4.6 0a2.3 2.3 0 1 0-4.6 0M356.0 339.4a2.3 2.3 0 1 0 4.6 0a2.3 2.3 0 1 0-4.6 0M311.0 356.3a2.3 2.3 0 1 0 4.6 0a2.3 2.3 0 1 0-4.6 0M417.3 267.6a2.3 2.3 0 1 0 4.6 0a2.3 2.3 0 1 0-4.6 0M324.0 354.2a2.3 2.3 0 1 0 4.6 0a2.3 2.3 0 1 0-4.6 0M312.7 372.5a2.3 2.3 0 1 0 4.6 0a2.3 2.3 0 1 0-4.6 0M327.7 369.4a2.3 2.3 0 1 0 4.6 0a2.3 2.3 0 1 0-4.6 0M325.3 363.2a2.3 2.3 0 1 0 4.6 0a2.3 2.3 0 1 0-4.6 0M290.9 383.0a2.3 2.3 0 1 0 4.6 0a2.3 2.3 0 1 0-4.6 0M319.1 368.6a2.3 2.3 0 1 0 4.6 0a2.3 2.3 0 1 0-4.6 0M280.1 415.5a2.3 2.3 0 1 0 4.6 0a2.3 2.3 0 1 0-4.6 0M290.9 389.7a2.3 2.3 0 1 0 4.6 0a2.3 2.3 0 1 0-4.6 0M292.9 390.7a2.3 2.3 0 1 0 4.6 0a2.3 2.3 0 1 0-4.6 0M288.3 404.5a2.3 2.3 0 1 0 4.6 0a2.3 2.3 0 1 0-4.6 0M415.5 275.2a2.3 2.3 0 1 0 4.6 0a2.3 2.3 0 1 0-4.6 0M342.1 344.2a2.3 2.3 0 1 0 4.6 0a2.3 2.3 0 1 0-4.6 0M296.2 395.3a2.3 2.3 0 1 0 4.6 0a2.3 2.3 0 1 0-4.6 0M337.7 343.8a2.3 2.3 0 1 0 4.6 0a2.3 2.3 0 1 0-4.6 0M429.9 250.2a2.3 2.3 0 1 0 4.6 0a2.3 2.3 0 1 0-4.6 0M386.3 294.0a2.3 2.3 0 1 0 4.6 0a2.3 2.3 0 1 0-4.6 0M299.3 389.6a2.3 2.3 0 1 0 4.6 0a2.3 2.3 0 1 0-4.6 0M283.3 398.1a2.3 2.3 0 1 0 4.6 0a2.3 2.3 0 1 0-4.6 0M383.1 297.5a2.3 2.3 0 1 0 4.6 0a2.3 2.3 0 1 0-4.6 0M293.3 390.7a2.3 2.3 0 1 0 4.6 0a2.3 2.3 0 1 0-4.6 0M289.0 393.5a2.3 2.3 0 1 0 4.6 0a2.3 2.3 0 1 0-4.6 0M381.4 296.6a2.3 2.3 0 1 0 4.6 0a2.3 2.3 0 1 0-4.6 0M438.7 245.7a2.3 2.3 0 1 0 4.6 0a2.3 2.3 0 1 0-4.6 0M323.9 370.6a2.3 2.3 0 1 0 4.6 0a2.3 2.3 0 1 0-4.6 0M292.0 398.0a2.3 2.3 0 1 0 4.6 0a2.3 2.3 0 1 0-4.6 0M388.3 296.6a2.3 2.3 0 1 0 4.6 0a2.3 2.3 0 1 0-4.6 0M295.5 393.3a2.3 2.3 0 1 0 4.6 0a2.3 2.3 0 1 0-4.6 0M395.5 292.7a2.3 2.3 0 1 0 4.6 0a2.3 2.3 0 1 0-4.6 0M314.2 356.1a2.3 2.3 0 1 0 4.6 0a2.3 2.3 0 1 0-4.6 0M309.7 370.3a2.3 2.3 0 1 0 4.6 0a2.3 2.3 0 1 0-4.6 0M375.7 302.4a2.3 2.3 0 1 0 4.6 0a2.3 2.3 0 1 0-4.6 0M289.1 385.6a2.3 2.3 0 1 0 4.6 0a2.3 2.3 0 1 0-4.6 0M362.2 328.0a2.3 2.3 0 1 0 4.6 0a2.3 2.3 0 1 0-4.6 0M322.6 361.9a2.3 2.3 0 1 0 4.6 0a2.3 2.3 0 1 0-4.6 0M338.3 350.6a2.3 2.3 0 1 0 4.6 0a2.3 2.3 0 1 0-4.6 0M308.4 382.0a2.3 2.3 0 1 0 4.6 0a2.3 2.3 0 1 0-4.6 0M289.8 403.4a2.3 2.3 0 1 0 4.6 0a2.3 2.3 0 1 0-4.6 0M283.1 408.9a2.3 2.3 0 1 0 4.6 0a2.3 2.3 0 1 0-4.6 0M325.5 368.8a2.3 2.3 0 1 0 4.6 0a2.3 2.3 0 1 0-4.6 0M347.9 337.8a2.3 2.3 0 1 0 4.6 0a2.3 2.3 0 1 0-4.6 0M311.7 382.3a2.3 2.3 0 1 0 4.6 0a2.3 2.3 0 1 0-4.6 0M332.5 346.7a2.3 2.3 0 1 0 4.6 0a2.3 2.3 0 1 0-4.6 0M308.9 387.9a2.3 2.3 0 1 0 4.6 0a2.3 2.3 0 1 0-4.6 0M305.8 382.9a2.3 2.3 0 1 0 4.6 0a2.3 2.3 0 1 0-4.6 0M326.3 347.2a2.3 2.3 0 1 0 4.6 0a2.3 2.3 0 1 0-4.6 0M337.9 336.6a2.3 2.3 0 1 0 4.6 0a2.3 2.3 0 1 0-4.6 0M334.0 330.7a2.3 2.3 0 1 0 4.6 0a2.3 2.3 0 1 0-4.6 0M368.5 317.0a2.3 2.3 0 1 0 4.6 0a2.3 2.3 0 1 0-4.6 0M305.5 377.7a2.3 2.3 0 1 0 4.6 0a2.3 2.3 0 1 0-4.6 0M322.3 366.2a2.3 2.3 0 1 0 4.6 0a2.3 2.3 0 1 0-4.6 0M335.3 342.2a2.3 2.3 0 1 0 4.6 0a2.3 2.3 0 1 0-4.6 0M291.0 399.6a2.3 2.3 0 1 0 4.6 0a2.3 2.3 0 1 0-4.6 0M299.0 382.5a2.3 2.3 0 1 0 4.6 0a2.3 2.3 0 1 0-4.6 0M287.9 393.7a2.3 2.3 0 1 0 4.6 0a2.3 2.3 0 1 0-4.6 0M368.1 297.7a2.3 2.3 0 1 0 4.6 0a2.3 2.3 0 1 0-4.6 0M354.5 326.3a2.3 2.3 0 1 0 4.6 0a2.3 2.3 0 1 0-4.6 0M335.9 355.8a2.3 2.3 0 1 0 4.6 0a2.3 2.3 0 1 0-4.6 0M383.0 292.9a2.3 2.3 0 1 0 4.6 0a2.3 2.3 0 1 0-4.6 0M334.8 355.0a2.3 2.3 0 1 0 4.6 0a2.3 2.3 0 1 0-4.6 0M382.8 305.8a2.3 2.3 0 1 0 4.6 0a2.3 2.3 0 1 0-4.6 0M302.0 384.7a2.3 2.3 0 1 0 4.6 0a2.3 2.3 0 1 0-4.6 0M337.9 331.5a2.3 2.3 0 1 0 4.6 0a2.3 2.3 0 1 0-4.6 0M389.8 298.7a2.3 2.3 0 1 0 4.6 0a2.3 2.3 0 1 0-4.6 0M300.6 389.5a2.3 2.3 0 1 0 4.6 0a2.3 2.3 0 1 0-4.6 0M316.2 372.1a2.3 2.3 0 1 0 4.6 0a2.3 2.3 0 1 0-4.6 0M358.2 307.9a2.3 2.3 0 1 0 4.6 0a2.3 2.3 0 1 0-4.6 0M292.8 379.9a2.3 2.3 0 1 0 4.6 0a2.3 2.3 0 1 0-4.6 0M427.1 258.0a2.3 2.3 0 1 0 4.6 0a2.3 2.3 0 1 0-4.6 0M280.8 410.7a2.3 2.3 0 1 0 4.6 0a2.3 2.3 0 1 0-4.6 0M359.1 312.7a2.3 2.3 0 1 0 4.6 0a2.3 2.3 0 1 0-4.6 0M432.1 253.4a2.3 2.3 0 1 0 4.6 0a2.3 2.3 0 1 0-4.6 0M334.8 341.6a2.3 2.3 0 1 0 4.6 0a2.3 2.3 0 1 0-4.6 0M340.6 345.2a2.3 2.3 0 1 0 4.6 0a2.3 2.3 0 1 0-4.6 0M326.2 356.7a2.3 2.3 0 1 0 4.6 0a2.3 2.3 0 1 0-4.6 0M298.2 384.9a2.3 2.3 0 1 0 4.6 0a2.3 2.3 0 1 0-4.6 0M283.8 412.0a2.3 2.3 0 1 0 4.6 0a2.3 2.3 0 1 0-4.6 0M330.0 344.1a2.3 2.3 0 1 0 4.6 0a2.3 2.3 0 1 0-4.6 0M365.0 326.6a2.3 2.3 0 1 0 4.6 0a2.3 2.3 0 1 0-4.6 0M297.9 380.3a2.3 2.3 0 1 0 4.6 0a2.3 2.3 0 1 0-4.6 0M374.1 302.5a2.3 2.3 0 1 0 4.6 0a2.3 2.3 0 1 0-4.6 0M342.9 348.6a2.3 2.3 0 1 0 4.6 0a2.3 2.3 0 1 0-4.6 0M406.4 274.3a2.3 2.3 0 1 0 4.6 0a2.3 2.3 0 1 0-4.6 0M297.0 389.6a2.3 2.3 0 1 0 4.6 0a2.3 2.3 0 1 0-4.6 0M420.5 267.0a2.3 2.3 0 1 0 4.6 0a2.3 2.3 0 1 0-4.6 0M308.3 363.7a2.3 2.3 0 1 0 4.6 0a2.3 2.3 0 1 0-4.6 0M347.9 335.6a2.3 2.3 0 1 0 4.6 0a2.3 2.3 0 1 0-4.6 0M287.8 385.8a2.3 2.3 0 1 0 4.6 0a2.3 2.3 0 1 0-4.6 0M308.3 369.3a2.3 2.3 0 1 0 4.6 0a2.3 2.3 0 1 0-4.6 0M353.8 326.2a2.3 2.3 0 1 0 4.6 0a2.3 2.3 0 1 0-4.6 0M301.7 374.0a2.3 2.3 0 1 0 4.6 0a2.3 2.3 0 1 0-4.6 0M300.6 385.2a2.3 2.3 0 1 0 4.6 0a2.3 2.3 0 1 0-4.6 0M333.2 343.1a2.3 2.3 0 1 0 4.6 0a2.3 2.3 0 1 0-4.6 0M315.6 365.1a2.3 2.3 0 1 0 4.6 0a2.3 2.3 0 1 0-4.6 0M281.1 401.8a2.3 2.3 0 1 0 4.6 0a2.3 2.3 0 1 0-4.6 0M382.8 302.1a2.3 2.3 0 1 0 4.6 0a2.3 2.3 0 1 0-4.6 0M288.0 383.9a2.3 2.3 0 1 0 4.6 0a2.3 2.3 0 1 0-4.6 0M332.1 358.2a2.3 2.3 0 1 0 4.6 0a2.3 2.3 0 1 0-4.6 0M306.1 377.7a2.3 2.3 0 1 0 4.6 0a2.3 2.3 0 1 0-4.6 0M324.4 358.1a2.3 2.3 0 1 0 4.6 0a2.3 2.3 0 1 0-4.6 0M322.9 359.6a2.3 2.3 0 1 0 4.6 0a2.3 2.3 0 1 0-4.6 0M310.7 368.2a2.3 2.3 0 1 0 4.6 0a2.3 2.3 0 1 0-4.6 0M326.4 337.4a2.3 2.3 0 1 0 4.6 0a2.3 2.3 0 1 0-4.6 0M312.6 377.3a2.3 2.3 0 1 0 4.6 0a2.3 2.3 0 1 0-4.6 0M325.4 356.1a2.3 2.3 0 1 0 4.6 0a2.3 2.3 0 1 0-4.6 0M294.8 396.7a2.3 2.3 0 1 0 4.6 0a2.3 2.3 0 1 0-4.6 0M301.2 380.3a2.3 2.3 0 1 0 4.6 0a2.3 2.3 0 1 0-4.6 0M319.9 346.8a2.3 2.3 0 1 0 4.6 0a2.3 2.3 0 1 0-4.6 0M331.6 342.5a2.3 2.3 0 1 0 4.6 0a2.3 2.3 0 1 0-4.6 0M318.1 350.7a2.3 2.3 0 1 0 4.6 0a2.3 2.3 0 1 0-4.6 0M331.9 343.9a2.3 2.3 0 1 0 4.6 0a2.3 2.3 0 1 0-4.6 0M328.2 360.2a2.3 2.3 0 1 0 4.6 0a2.3 2.3 0 1 0-4.6 0M315.1 372.2a2.3 2.3 0 1 0 4.6 0a2.3 2.3 0 1 0-4.6 0M410.1 271.3a2.3 2.3 0 1 0 4.6 0a2.3 2.3 0 1 0-4.6 0M288.9 387.6a2.3 2.3 0 1 0 4.6 0a2.3 2.3 0 1 0-4.6 0M336.1 354.1a2.3 2.3 0 1 0 4.6 0a2.3 2.3 0 1 0-4.6 0M438.8 246.5a2.3 2.3 0 1 0 4.6 0a2.3 2.3 0 1 0-4.6 0M285.3 409.0a2.3 2.3 0 1 0 4.6 0a2.3 2.3 0 1 0-4.6 0M304.7 382.4a2.3 2.3 0 1 0 4.6 0a2.3 2.3 0 1 0-4.6 0M393.4 296.7a2.3 2.3 0 1 0 4.6 0a2.3 2.3 0 1 0-4.6 0M334.6 347.4a2.3 2.3 0 1 0 4.6 0a2.3 2.3 0 1 0-4.6 0M415.4 267.4a2.3 2.3 0 1 0 4.6 0a2.3 2.3 0 1 0-4.6 0M368.7 315.8a2.3 2.3 0 1 0 4.6 0a2.3 2.3 0 1 0-4.6 0M325.6 363.6a2.3 2.3 0 1 0 4.6 0a2.3 2.3 0 1 0-4.6 0M359.8 315.4a2.3 2.3 0 1 0 4.6 0a2.3 2.3 0 1 0-4.6 0M306.3 380.1a2.3 2.3 0 1 0 4.6 0a2.3 2.3 0 1 0-4.6 0M322.8 357.0a2.3 2.3 0 1 0 4.6 0a2.3 2.3 0 1 0-4.6 0M295.6 392.8a2.3 2.3 0 1 0 4.6 0a2.3 2.3 0 1 0-4.6 0M388.2 293.5a2.3 2.3 0 1 0 4.6 0a2.3 2.3 0 1 0-4.6 0M282.6 403.8a2.3 2.3 0 1 0 4.6 0a2.3 2.3 0 1 0-4.6 0M324.4 369.2a2.3 2.3 0 1 0 4.6 0a2.3 2.3 0 1 0-4.6 0M332.4 357.4a2.3 2.3 0 1 0 4.6 0a2.3 2.3 0 1 0-4.6 0M335.8 344.4a2.3 2.3 0 1 0 4.6 0a2.3 2.3 0 1 0-4.6 0M331.8 345.9a2.3 2.3 0 1 0 4.6 0a2.3 2.3 0 1 0-4.6 0M306.0 385.9a2.3 2.3 0 1 0 4.6 0a2.3 2.3 0 1 0-4.6 0M278.9 411.1a2.3 2.3 0 1 0 4.6 0a2.3 2.3 0 1 0-4.6 0M359.7 304.3a2.3 2.3 0 1 0 4.6 0a2.3 2.3 0 1 0-4.6 0M296.4 381.5a2.3 2.3 0 1 0 4.6 0a2.3 2.3 0 1 0-4.6 0M315.7 361.8a2.3 2.3 0 1 0 4.6 0a2.3 2.3 0 1 0-4.6 0M289.6 398.8a2.3 2.3 0 1 0 4.6 0a2.3 2.3 0 1 0-4.6 0M418.4 264.4a2.3 2.3 0 1 0 4.6 0a2.3 2.3 0 1 0-4.6 0M336.3 346.8a2.3 2.3 0 1 0 4.6 0a2.3 2.3 0 1 0-4.6 0M321.6 373.8a2.3 2.3 0 1 0 4.6 0a2.3 2.3 0 1 0-4.6 0M286.7 407.2a2.3 2.3 0 1 0 4.6 0a2.3 2.3 0 1 0-4.6 0M284.9 403.4a2.3 2.3 0 1 0 4.6 0a2.3 2.3 0 1 0-4.6 0M326.4 362.0a2.3 2.3 0 1 0 4.6 0a2.3 2.3 0 1 0-4.6 0M422.4 261.6a2.3 2.3 0 1 0 4.6 0a2.3 2.3 0 1 0-4.6 0M359.4 325.5a2.3 2.3 0 1 0 4.6 0a2.3 2.3 0 1 0-4.6 0M390.9 292.0a2.3 2.3 0 1 0 4.6 0a2.3 2.3 0 1 0-4.6 0M324.2 357.6a2.3 2.3 0 1 0 4.6 0a2.3 2.3 0 1 0-4.6 0M334.7 352.9a2.3 2.3 0 1 0 4.6 0a2.3 2.3 0 1 0-4.6 0M293.5 396.0a2.3 2.3 0 1 0 4.6 0a2.3 2.3 0 1 0-4.6 0M304.0 385.9a2.3 2.3 0 1 0 4.6 0a2.3 2.3 0 1 0-4.6 0M313.3 364.5a2.3 2.3 0 1 0 4.6 0a2.3 2.3 0 1 0-4.6 0M337.6 348.1a2.3 2.3 0 1 0 4.6 0a2.3 2.3 0 1 0-4.6 0M379.7 306.4a2.3 2.3 0 1 0 4.6 0a2.3 2.3 0 1 0-4.6 0M294.8 398.2a2.3 2.3 0 1 0 4.6 0a2.3 2.3 0 1 0-4.6 0M324.6 357.7a2.3 2.3 0 1 0 4.6 0a2.3 2.3 0 1 0-4.6 0M296.7 383.7a2.3 2.3 0 1 0 4.6 0a2.3 2.3 0 1 0-4.6 0M340.8 344.9a2.3 2.3 0 1 0 4.6 0a2.3 2.3 0 1 0-4.6 0M342.2 338.3a2.3 2.3 0 1 0 4.6 0a2.3 2.3 0 1 0-4.6 0M336.4 336.5a2.3 2.3 0 1 0 4.6 0a2.3 2.3 0 1 0-4.6 0M318.5 364.4a2.3 2.3 0 1 0 4.6 0a2.3 2.3 0 1 0-4.6 0M381.3 311.0a2.3 2.3 0 1 0 4.6 0a2.3 2.3 0 1 0-4.6 0M359.1 329.2a2.3 2.3 0 1 0 4.6 0a2.3 2.3 0 1 0-4.6 0M347.6 341.1a2.3 2.3 0 1 0 4.6 0a2.3 2.3 0 1 0-4.6 0M313.9 359.1a2.3 2.3 0 1 0 4.6 0a2.3 2.3 0 1 0-4.6 0M326.8 367.8a2.3 2.3 0 1 0 4.6 0a2.3 2.3 0 1 0-4.6 0M344.9 340.8a2.3 2.3 0 1 0 4.6 0a2.3 2.3 0 1 0-4.6 0M290.1 402.0a2.3 2.3 0 1 0 4.6 0a2.3 2.3 0 1 0-4.6 0M302.5 387.6a2.3 2.3 0 1 0 4.6 0a2.3 2.3 0 1 0-4.6 0M329.0 356.4a2.3 2.3 0 1 0 4.6 0a2.3 2.3 0 1 0-4.6 0M332.4 362.5a2.3 2.3 0 1 0 4.6 0a2.3 2.3 0 1 0-4.6 0M316.3 372.9a2.3 2.3 0 1 0 4.6 0a2.3 2.3 0 1 0-4.6 0M307.2 376.9a2.3 2.3 0 1 0 4.6 0a2.3 2.3 0 1 0-4.6 0M401.7 281.4a2.3 2.3 0 1 0 4.6 0a2.3 2.3 0 1 0-4.6 0M357.6 324.2a2.3 2.3 0 1 0 4.6 0a2.3 2.3 0 1 0-4.6 0M297.1 377.1a2.3 2.3 0 1 0 4.6 0a2.3 2.3 0 1 0-4.6 0M282.0 411.8a2.3 2.3 0 1 0 4.6 0a2.3 2.3 0 1 0-4.6 0M392.2 291.7a2.3 2.3 0 1 0 4.6 0a2.3 2.3 0 1 0-4.6 0M320.6 367.9a2.3 2.3 0 1 0 4.6 0a2.3 2.3 0 1 0-4.6 0M391.3 295.5a2.3 2.3 0 1 0 4.6 0a2.3 2.3 0 1 0-4.6 0M358.1 315.9a2.3 2.3 0 1 0 4.6 0a2.3 2.3 0 1 0-4.6 0M290.6 375.6a2.3 2.3 0 1 0 4.6 0a2.3 2.3 0 1 0-4.6 0M432.1 253.1a2.3 2.3 0 1 0 4.6 0a2.3 2.3 0 1 0-4.6 0M332.7 361.9a2.3 2.3 0 1 0 4.6 0a2.3 2.3 0 1 0-4.6 0M363.2 317.0a2.3 2.3 0 1 0 4.6 0a2.3 2.3 0 1 0-4.6 0M329.7 359.9a2.3 2.3 0 1 0 4.6 0a2.3 2.3 0 1 0-4.6 0M293.2 382.1a2.3 2.3 0 1 0 4.6 0a2.3 2.3 0 1 0-4.6 0M299.2 375.2a2.3 2.3 0 1 0 4.6 0a2.3 2.3 0 1 0-4.6 0M439.8 242.0a2.3 2.3 0 1 0 4.6 0a2.3 2.3 0 1 0-4.6 0M375.6 304.0a2.3 2.3 0 1 0 4.6 0a2.3 2.3 0 1 0-4.6 0M382.4 298.1a2.3 2.3 0 1 0 4.6 0a2.3 2.3 0 1 0-4.6 0M327.7 361.9a2.3 2.3 0 1 0 4.6 0a2.3 2.3 0 1 0-4.6 0M347.9 345.4a2.3 2.3 0 1 0 4.6 0a2.3 2.3 0 1 0-4.6 0M293.4 386.8a2.3 2.3 0 1 0 4.6 0a2.3 2.3 0 1 0-4.6 0M341.0 340.0a2.3 2.3 0 1 0 4.6 0a2.3 2.3 0 1 0-4.6 0M391.2 299.7a2.3 2.3 0 1 0 4.6 0a2.3 2.3 0 1 0-4.6 0M289.3 403.0a2.3 2.3 0 1 0 4.6 0a2.3 2.3 0 1 0-4.6 0M287.6 406.0a2.3 2.3 0 1 0 4.6 0a2.3 2.3 0 1 0-4.6 0M317.0 369.9a2.3 2.3 0 1 0 4.6 0a2.3 2.3 0 1 0-4.6 0M299.9 386.4a2.3 2.3 0 1 0 4.6 0a2.3 2.3 0 1 0-4.6 0M294.9 398.4a2.3 2.3 0 1 0 4.6 0a2.3 2.3 0 1 0-4.6 0M288.0 390.0a2.3 2.3 0 1 0 4.6 0a2.3 2.3 0 1 0-4.6 0M308.4 373.0a2.3 2.3 0 1 0 4.6 0a2.3 2.3 0 1 0-4.6 0M288.8 389.5a2.3 2.3 0 1 0 4.6 0a2.3 2.3 0 1 0-4.6 0M318.9 352.4a2.3 2.3 0 1 0 4.6 0a2.3 2.3 0 1 0-4.6 0M296.7 377.2a2.3 2.3 0 1 0 4.6 0a2.3 2.3 0 1 0-4.6 0M322.2 347.6a2.3 2.3 0 1 0 4.6 0a2.3 2.3 0 1 0-4.6 0M300.1 387.2a2.3 2.3 0 1 0 4.6 0a2.3 2.3 0 1 0-4.6 0M436.6 248.8a2.3 2.3 0 1 0 4.6 0a2.3 2.3 0 1 0-4.6 0M394.1 294.4a2.3 2.3 0 1 0 4.6 0a2.3 2.3 0 1 0-4.6 0M352.4 335.4a2.3 2.3 0 1 0 4.6 0a2.3 2.3 0 1 0-4.6 0M419.2 269.4a2.3 2.3 0 1 0 4.6 0a2.3 2.3 0 1 0-4.6 0M390.7 292.5a2.3 2.3 0 1 0 4.6 0a2.3 2.3 0 1 0-4.6 0M292.1 388.2a2.3 2.3 0 1 0 4.6 0a2.3 2.3 0 1 0-4.6 0M332.4 348.8a2.3 2.3 0 1 0 4.6 0a2.3 2.3 0 1 0-4.6 0M304.6 393.3a2.3 2.3 0 1 0 4.6 0a2.3 2.3 0 1 0-4.6 0M285.3 388.0a2.3 2.3 0 1 0 4.6 0a2.3 2.3 0 1 0-4.6 0M405.3 284.0a2.3 2.3 0 1 0 4.6 0a2.3 2.3 0 1 0-4.6 0M359.2 323.3a2.3 2.3 0 1 0 4.6 0a2.3 2.3 0 1 0-4.6 0M363.5 328.2a2.3 2.3 0 1 0 4.6 0a2.3 2.3 0 1 0-4.6 0M347.7 304.8a2.3 2.3 0 1 0 4.6 0a2.3 2.3 0 1 0-4.6 0M348.0 341.0a2.3 2.3 0 1 0 4.6 0a2.3 2.3 0 1 0-4.6 0M285.8 395.2a2.3 2.3 0 1 0 4.6 0a2.3 2.3 0 1 0-4.6 0M294.6 390.5a2.3 2.3 0 1 0 4.6 0a2.3 2.3 0 1 0-4.6 0M349.4 336.6a2.3 2.3 0 1 0 4.6 0a2.3 2.3 0 1 0-4.6 0M339.8 338.2a2.3 2.3 0 1 0 4.6 0a2.3 2.3 0 1 0-4.6 0M385.6 296.0a2.3 2.3 0 1 0 4.6 0a2.3 2.3 0 1 0-4.6 0M323.4 344.2a2.3 2.3 0 1 0 4.6 0a2.3 2.3 0 1 0-4.6 0M328.3 348.4a2.3 2.3 0 1 0 4.6 0a2.3 2.3 0 1 0-4.6 0M327.5 351.7a2.3 2.3 0 1 0 4.6 0a2.3 2.3 0 1 0-4.6 0M368.7 310.1a2.3 2.3 0 1 0 4.6 0a2.3 2.3 0 1 0-4.6 0M337.0 345.3a2.3 2.3 0 1 0 4.6 0a2.3 2.3 0 1 0-4.6 0M340.4 345.4a2.3 2.3 0 1 0 4.6 0a2.3 2.3 0 1 0-4.6 0M289.2 395.4a2.3 2.3 0 1 0 4.6 0a2.3 2.3 0 1 0-4.6 0M357.2 323.7a2.3 2.3 0 1 0 4.6 0a2.3 2.3 0 1 0-4.6 0M300.3 393.1a2.3 2.3 0 1 0 4.6 0a2.3 2.3 0 1 0-4.6 0M335.3 330.9a2.3 2.3 0 1 0 4.6 0a2.3 2.3 0 1 0-4.6 0M334.4 348.7a2.3 2.3 0 1 0 4.6 0a2.3 2.3 0 1 0-4.6 0M377.2 312.6a2.3 2.3 0 1 0 4.6 0a2.3 2.3 0 1 0-4.6 0M442.2 238.1a2.3 2.3 0 1 0 4.6 0a2.3 2.3 0 1 0-4.6 0M303.1 387.2a2.3 2.3 0 1 0 4.6 0a2.3 2.3 0 1 0-4.6 0M335.8 342.3a2.3 2.3 0 1 0 4.6 0a2.3 2.3 0 1 0-4.6 0M299.3 388.3a2.3 2.3 0 1 0 4.6 0a2.3 2.3 0 1 0-4.6 0M322.4 361.8a2.3 2.3 0 1 0 4.6 0a2.3 2.3 0 1 0-4.6 0M331.6 356.4a2.3 2.3 0 1 0 4.6 0a2.3 2.3 0 1 0-4.6 0M391.5 293.2a2.3 2.3 0 1 0 4.6 0a2.3 2.3 0 1 0-4.6 0M303.7 377.7a2.3 2.3 0 1 0 4.6 0a2.3 2.3 0 1 0-4.6 0M290.8 398.6a2.3 2.3 0 1 0 4.6 0a2.3 2.3 0 1 0-4.6 0M299.4 388.4a2.3 2.3 0 1 0 4.6 0a2.3 2.3 0 1 0-4.6 0M304.9 377.4a2.3 2.3 0 1 0 4.6 0a2.3 2.3 0 1 0-4.6 0M288.0 399.5a2.3 2.3 0 1 0 4.6 0a2.3 2.3 0 1 0-4.6 0M294.5 383.5a2.3 2.3 0 1 0 4.6 0a2.3 2.3 0 1 0-4.6 0M315.4 375.9a2.3 2.3 0 1 0 4.6 0a2.3 2.3 0 1 0-4.6 0M300.9 389.1a2.3 2.3 0 1 0 4.6 0a2.3 2.3 0 1 0-4.6 0M424.6 260.5a2.3 2.3 0 1 0 4.6 0a2.3 2.3 0 1 0-4.6 0M437.6 247.7a2.3 2.3 0 1 0 4.6 0a2.3 2.3 0 1 0-4.6 0M316.5 371.3a2.3 2.3 0 1 0 4.6 0a2.3 2.3 0 1 0-4.6 0M340.6 352.9a2.3 2.3 0 1 0 4.6 0a2.3 2.3 0 1 0-4.6 0M419.0 266.7a2.3 2.3 0 1 0 4.6 0a2.3 2.3 0 1 0-4.6 0M319.2 367.8a2.3 2.3 0 1 0 4.6 0a2.3 2.3 0 1 0-4.6 0M314.3 362.6a2.3 2.3 0 1 0 4.6 0a2.3 2.3 0 1 0-4.6 0M323.1 371.3a2.3 2.3 0 1 0 4.6 0a2.3 2.3 0 1 0-4.6 0M280.7 416.2a2.3 2.3 0 1 0 4.6 0a2.3 2.3 0 1 0-4.6 0M331.6 354.8a2.3 2.3 0 1 0 4.6 0a2.3 2.3 0 1 0-4.6 0M340.9 354.8a2.3 2.3 0 1 0 4.6 0a2.3 2.3 0 1 0-4.6 0M290.4 387.5a2.3 2.3 0 1 0 4.6 0a2.3 2.3 0 1 0-4.6 0M352.7 333.2a2.3 2.3 0 1 0 4.6 0a2.3 2.3 0 1 0-4.6 0M320.8 358.9a2.3 2.3 0 1 0 4.6 0a2.3 2.3 0 1 0-4.6 0M364.1 319.5a2.3 2.3 0 1 0 4.6 0a2.3 2.3 0 1 0-4.6 0M283.0 380.6a2.3 2.3 0 1 0 4.6 0a2.3 2.3 0 1 0-4.6 0M338.8 352.0a2.3 2.3 0 1 0 4.6 0a2.3 2.3 0 1 0-4.6 0M301.3 388.5a2.3 2.3 0 1 0 4.6 0a2.3 2.3 0 1 0-4.6 0M348.6 330.9a2.3 2.3 0 1 0 4.6 0a2.3 2.3 0 1 0-4.6 0M288.7 393.0a2.3 2.3 0 1 0 4.6 0a2.3 2.3 0 1 0-4.6 0M329.3 360.5a2.3 2.3 0 1 0 4.6 0a2.3 2.3 0 1 0-4.6 0M298.1 378.2a2.3 2.3 0 1 0 4.6 0a2.3 2.3 0 1 0-4.6 0M328.8 345.2a2.3 2.3 0 1 0 4.6 0a2.3 2.3 0 1 0-4.6 0M362.9 325.2a2.3 2.3 0 1 0 4.6 0a2.3 2.3 0 1 0-4.6 0M293.1 383.1a2.3 2.3 0 1 0 4.6 0a2.3 2.3 0 1 0-4.6 0M338.2 341.0a2.3 2.3 0 1 0 4.6 0a2.3 2.3 0 1 0-4.6 0M324.5 365.1a2.3 2.3 0 1 0 4.6 0a2.3 2.3 0 1 0-4.6 0M439.9 245.7a2.3 2.3 0 1 0 4.6 0a2.3 2.3 0 1 0-4.6 0M291.6 370.5a2.3 2.3 0 1 0 4.6 0a2.3 2.3 0 1 0-4.6 0M311.0 382.8a2.3 2.3 0 1 0 4.6 0a2.3 2.3 0 1 0-4.6 0M315.2 377.5a2.3 2.3 0 1 0 4.6 0a2.3 2.3 0 1 0-4.6 0M286.4 398.2a2.3 2.3 0 1 0 4.6 0a2.3 2.3 0 1 0-4.6 0M279.7 412.3a2.3 2.3 0 1 0 4.6 0a2.3 2.3 0 1 0-4.6 0M287.9 403.1a2.3 2.3 0 1 0 4.6 0a2.3 2.3 0 1 0-4.6 0M333.4 359.5a2.3 2.3 0 1 0 4.6 0a2.3 2.3 0 1 0-4.6 0M329.1 346.5a2.3 2.3 0 1 0 4.6 0a2.3 2.3 0 1 0-4.6 0M353.6 334.8a2.3 2.3 0 1 0 4.6 0a2.3 2.3 0 1 0-4.6 0M388.2 290.0a2.3 2.3 0 1 0 4.6 0a2.3 2.3 0 1 0-4.6 0M359.0 315.1a2.3 2.3 0 1 0 4.6 0a2.3 2.3 0 1 0-4.6 0M308.4 375.6a2.3 2.3 0 1 0 4.6 0a2.3 2.3 0 1 0-4.6 0M412.3 267.3a2.3 2.3 0 1 0 4.6 0a2.3 2.3 0 1 0-4.6 0M344.6 344.7a2.3 2.3 0 1 0 4.6 0a2.3 2.3 0 1 0-4.6 0M330.3 333.7a2.3 2.3 0 1 0 4.6 0a2.3 2.3 0 1 0-4.6 0M297.5 394.0a2.3 2.3 0 1 0 4.6 0a2.3 2.3 0 1 0-4.6 0M343.5 340.9a2.3 2.3 0 1 0 4.6 0a2.3 2.3 0 1 0-4.6 0M288.2 401.9a2.3 2.3 0 1 0 4.6 0a2.3 2.3 0 1 0-4.6 0M358.5 315.6a2.3 2.3 0 1 0 4.6 0a2.3 2.3 0 1 0-4.6 0M320.8 354.8a2.3 2.3 0 1 0 4.6 0a2.3 2.3 0 1 0-4.6 0M385.8 300.0a2.3 2.3 0 1 0 4.6 0a2.3 2.3 0 1 0-4.6 0M292.8 401.2a2.3 2.3 0 1 0 4.6 0a2.3 2.3 0 1 0-4.6 0M289.2 402.1a2.3 2.3 0 1 0 4.6 0a2.3 2.3 0 1 0-4.6 0M291.5 405.4a2.3 2.3 0 1 0 4.6 0a2.3 2.3 0 1 0-4.6 0M367.2 318.1a2.3 2.3 0 1 0 4.6 0a2.3 2.3 0 1 0-4.6 0M286.7 400.2a2.3 2.3 0 1 0 4.6 0a2.3 2.3 0 1 0-4.6 0M316.4 368.2a2.3 2.3 0 1 0 4.6 0a2.3 2.3 0 1 0-4.6 0M299.8 392.7a2.3 2.3 0 1 0 4.6 0a2.3 2.3 0 1 0-4.6 0M290.8 385.2a2.3 2.3 0 1 0 4.6 0a2.3 2.3 0 1 0-4.6 0M308.5 387.2a2.3 2.3 0 1 0 4.6 0a2.3 2.3 0 1 0-4.6 0M390.2 297.9a2.3 2.3 0 1 0 4.6 0a2.3 2.3 0 1 0-4.6 0M321.2 368.2a2.3 2.3 0 1 0 4.6 0a2.3 2.3 0 1 0-4.6 0M310.2 381.0a2.3 2.3 0 1 0 4.6 0a2.3 2.3 0 1 0-4.6 0M371.0 313.3a2.3 2.3 0 1 0 4.6 0a2.3 2.3 0 1 0-4.6 0M329.2 352.3a2.3 2.3 0 1 0 4.6 0a2.3 2.3 0 1 0-4.6 0M342.4 339.9a2.3 2.3 0 1 0 4.6 0a2.3 2.3 0 1 0-4.6 0M302.3 365.8a2.3 2.3 0 1 0 4.6 0a2.3 2.3 0 1 0-4.6 0M296.6 386.4a2.3 2.3 0 1 0 4.6 0a2.3 2.3 0 1 0-4.6 0M400.5 285.6a2.3 2.3 0 1 0 4.6 0a2.3 2.3 0 1 0-4.6 0M297.0 373.1a2.3 2.3 0 1 0 4.6 0a2.3 2.3 0 1 0-4.6 0M350.8 340.8a2.3 2.3 0 1 0 4.6 0a2.3 2.3 0 1 0-4.6 0M313.1 363.7a2.3 2.3 0 1 0 4.6 0a2.3 2.3 0 1 0-4.6 0M364.9 309.5a2.3 2.3 0 1 0 4.6 0a2.3 2.3 0 1 0-4.6 0M340.7 348.6a2.3 2.3 0 1 0 4.6 0a2.3 2.3 0 1 0-4.6 0M374.9 312.7a2.3 2.3 0 1 0 4.6 0a2.3 2.3 0 1 0-4.6 0M283.3 411.2a2.3 2.3 0 1 0 4.6 0a2.3 2.3 0 1 0-4.6 0M299.8 372.1a2.3 2.3 0 1 0 4.6 0a2.3 2.3 0 1 0-4.6 0M308.5 368.0a2.3 2.3 0 1 0 4.6 0a2.3 2.3 0 1 0-4.6 0M286.4 390.8a2.3 2.3 0 1 0 4.6 0a2.3 2.3 0 1 0-4.6 0M326.7 365.2a2.3 2.3 0 1 0 4.6 0a2.3 2.3 0 1 0-4.6 0M373.8 312.5a2.3 2.3 0 1 0 4.6 0a2.3 2.3 0 1 0-4.6 0M319.3 362.4a2.3 2.3 0 1 0 4.6 0a2.3 2.3 0 1 0-4.6 0M313.1 376.6a2.3 2.3 0 1 0 4.6 0a2.3 2.3 0 1 0-4.6 0M280.7 405.5a2.3 2.3 0 1 0 4.6 0a2.3 2.3 0 1 0-4.6 0M371.9 311.5a2.3 2.3 0 1 0 4.6 0a2.3 2.3 0 1 0-4.6 0M371.5 312.4a2.3 2.3 0 1 0 4.6 0a2.3 2.3 0 1 0-4.6 0M333.4 344.8a2.3 2.3 0 1 0 4.6 0a2.3 2.3 0 1 0-4.6 0M314.0 364.1a2.3 2.3 0 1 0 4.6 0a2.3 2.3 0 1 0-4.6 0M287.9 394.1a2.3 2.3 0 1 0 4.6 0a2.3 2.3 0 1 0-4.6 0M382.1 308.2a2.3 2.3 0 1 0 4.6 0a2.3 2.3 0 1 0-4.6 0M336.3 351.5a2.3 2.3 0 1 0 4.6 0a2.3 2.3 0 1 0-4.6 0M347.7 331.0a2.3 2.3 0 1 0 4.6 0a2.3 2.3 0 1 0-4.6 0M323.9 362.1a2.3 2.3 0 1 0 4.6 0a2.3 2.3 0 1 0-4.6 0M314.0 367.7a2.3 2.3 0 1 0 4.6 0a2.3 2.3 0 1 0-4.6 0M325.6 371.1a2.3 2.3 0 1 0 4.6 0a2.3 2.3 0 1 0-4.6 0M297.6 397.4a2.3 2.3 0 1 0 4.6 0a2.3 2.3 0 1 0-4.6 0M367.0 319.4a2.3 2.3 0 1 0 4.6 0a2.3 2.3 0 1 0-4.6 0M342.2 350.9a2.3 2.3 0 1 0 4.6 0a2.3 2.3 0 1 0-4.6 0M388.7 296.1a2.3 2.3 0 1 0 4.6 0a2.3 2.3 0 1 0-4.6 0M307.8 380.2a2.3 2.3 0 1 0 4.6 0a2.3 2.3 0 1 0-4.6 0M353.7 333.3a2.3 2.3 0 1 0 4.6 0a2.3 2.3 0 1 0-4.6 0M311.2 357.8a2.3 2.3 0 1 0 4.6 0a2.3 2.3 0 1 0-4.6 0M341.2 327.5a2.3 2.3 0 1 0 4.6 0a2.3 2.3 0 1 0-4.6 0M358.9 322.9a2.3 2.3 0 1 0 4.6 0a2.3 2.3 0 1 0-4.6 0M388.3 302.2a2.3 2.3 0 1 0 4.6 0a2.3 2.3 0 1 0-4.6 0M413.9 268.7a2.3 2.3 0 1 0 4.6 0a2.3 2.3 0 1 0-4.6 0M304.3 380.1a2.3 2.3 0 1 0 4.6 0a2.3 2.3 0 1 0-4.6 0M285.7 399.4a2.3 2.3 0 1 0 4.6 0a2.3 2.3 0 1 0-4.6 0M369.0 312.7a2.3 2.3 0 1 0 4.6 0a2.3 2.3 0 1 0-4.6 0M320.6 355.9a2.3 2.3 0 1 0 4.6 0a2.3 2.3 0 1 0-4.6 0M287.4 399.8a2.3 2.3 0 1 0 4.6 0a2.3 2.3 0 1 0-4.6 0M299.9 382.5a2.3 2.3 0 1 0 4.6 0a2.3 2.3 0 1 0-4.6 0M324.6 367.9a2.3 2.3 0 1 0 4.6 0a2.3 2.3 0 1 0-4.6 0M337.0 337.0a2.3 2.3 0 1 0 4.6 0a2.3 2.3 0 1 0-4.6 0M315.0 369.6a2.3 2.3 0 1 0 4.6 0a2.3 2.3 0 1 0-4.6 0M355.3 329.4a2.3 2.3 0 1 0 4.6 0a2.3 2.3 0 1 0-4.6 0M306.9 380.8a2.3 2.3 0 1 0 4.6 0a2.3 2.3 0 1 0-4.6 0M352.7 336.6a2.3 2.3 0 1 0 4.6 0a2.3 2.3 0 1 0-4.6 0M327.7 364.2a2.3 2.3 0 1 0 4.6 0a2.3 2.3 0 1 0-4.6 0M280.6 414.9a2.3 2.3 0 1 0 4.6 0a2.3 2.3 0 1 0-4.6 0M309.9 380.9a2.3 2.3 0 1 0 4.6 0a2.3 2.3 0 1 0-4.6 0M278.4 406.7a2.3 2.3 0 1 0 4.6 0a2.3 2.3 0 1 0-4.6 0M431.8 254.1a2.3 2.3 0 1 0 4.6 0a2.3 2.3 0 1 0-4.6 0M429.1 258.1a2.3 2.3 0 1 0 4.6 0a2.3 2.3 0 1 0-4.6 0M333.7 346.8a2.3 2.3 0 1 0 4.6 0a2.3 2.3 0 1 0-4.6 0M285.8 389.1a2.3 2.3 0 1 0 4.6 0a2.3 2.3 0 1 0-4.6 0M308.4 392.0a2.3 2.3 0 1 0 4.6 0a2.3 2.3 0 1 0-4.6 0M321.9 359.1a2.3 2.3 0 1 0 4.6 0a2.3 2.3 0 1 0-4.6 0M364.8 308.1a2.3 2.3 0 1 0 4.6 0a2.3 2.3 0 1 0-4.6 0M317.3 373.4a2.3 2.3 0 1 0 4.6 0a2.3 2.3 0 1 0-4.6 0M431.4 253.5a2.3 2.3 0 1 0 4.6 0a2.3 2.3 0 1 0-4.6 0M346.3 325.2a2.3 2.3 0 1 0 4.6 0a2.3 2.3 0 1 0-4.6 0M334.5 349.2a2.3 2.3 0 1 0 4.6 0a2.3 2.3 0 1 0-4.6 0M383.7 301.7a2.3 2.3 0 1 0 4.6 0a2.3 2.3 0 1 0-4.6 0M329.7 348.8a2.3 2.3 0 1 0 4.6 0a2.3 2.3 0 1 0-4.6 0M292.9 389.8a2.3 2.3 0 1 0 4.6 0a2.3 2.3 0 1 0-4.6 0M314.3 379.0a2.3 2.3 0 1 0 4.6 0a2.3 2.3 0 1 0-4.6 0M295.5 392.1a2.3 2.3 0 1 0 4.6 0a2.3 2.3 0 1 0-4.6 0M420.3 264.7a2.3 2.3 0 1 0 4.6 0a2.3 2.3 0 1 0-4.6 0M304.9 381.8a2.3 2.3 0 1 0 4.6 0a2.3 2.3 0 1 0-4.6 0M360.3 323.0a2.3 2.3 0 1 0 4.6 0a2.3 2.3 0 1 0-4.6 0M285.4 402.0a2.3 2.3 0 1 0 4.6 0a2.3 2.3 0 1 0-4.6 0M301.9 371.8a2.3 2.3 0 1 0 4.6 0a2.3 2.3 0 1 0-4.6 0M293.5 398.7a2.3 2.3 0 1 0 4.6 0a2.3 2.3 0 1 0-4.6 0M305.2 380.7a2.3 2.3 0 1 0 4.6 0a2.3 2.3 0 1 0-4.6 0M307.0 383.3a2.3 2.3 0 1 0 4.6 0a2.3 2.3 0 1 0-4.6 0M339.2 333.3a2.3 2.3 0 1 0 4.6 0a2.3 2.3 0 1 0-4.6 0M432.6 257.3a2.3 2.3 0 1 0 4.6 0a2.3 2.3 0 1 0-4.6 0M329.0 354.1a2.3 2.3 0 1 0 4.6 0a2.3 2.3 0 1 0-4.6 0M341.1 348.8a2.3 2.3 0 1 0 4.6 0a2.3 2.3 0 1 0-4.6 0M347.8 332.8a2.3 2.3 0 1 0 4.6 0a2.3 2.3 0 1 0-4.6 0M334.8 350.6a2.3 2.3 0 1 0 4.6 0a2.3 2.3 0 1 0-4.6 0M323.1 363.8a2.3 2.3 0 1 0 4.6 0a2.3 2.3 0 1 0-4.6 0M324.7 364.4a2.3 2.3 0 1 0 4.6 0a2.3 2.3 0 1 0-4.6 0M315.9 372.2a2.3 2.3 0 1 0 4.6 0a2.3 2.3 0 1 0-4.6 0M294.3 391.5a2.3 2.3 0 1 0 4.6 0a2.3 2.3 0 1 0-4.6 0M385.0 296.2a2.3 2.3 0 1 0 4.6 0a2.3 2.3 0 1 0-4.6 0M287.1 399.8a2.3 2.3 0 1 0 4.6 0a2.3 2.3 0 1 0-4.6 0M318.7 372.2a2.3 2.3 0 1 0 4.6 0a2.3 2.3 0 1 0-4.6 0M292.8 384.8a2.3 2.3 0 1 0 4.6 0a2.3 2.3 0 1 0-4.6 0M302.6 386.3a2.3 2.3 0 1 0 4.6 0a2.3 2.3 0 1 0-4.6 0M434.0 247.8a2.3 2.3 0 1 0 4.6 0a2.3 2.3 0 1 0-4.6 0M359.3 313.0a2.3 2.3 0 1 0 4.6 0a2.3 2.3 0 1 0-4.6 0M425.8 263.2a2.3 2.3 0 1 0 4.6 0a2.3 2.3 0 1 0-4.6 0M292.2 385.7a2.3 2.3 0 1 0 4.6 0a2.3 2.3 0 1 0-4.6 0M428.3 258.2a2.3 2.3 0 1 0 4.6 0a2.3 2.3 0 1 0-4.6 0M312.5 352.3a2.3 2.3 0 1 0 4.6 0a2.3 2.3 0 1 0-4.6 0M283.3 390.7a2.3 2.3 0 1 0 4.6 0a2.3 2.3 0 1 0-4.6 0M298.1 396.3a2.3 2.3 0 1 0 4.6 0a2.3 2.3 0 1 0-4.6 0M334.5 340.0a2.3 2.3 0 1 0 4.6 0a2.3 2.3 0 1 0-4.6 0M409.4 277.6a2.3 2.3 0 1 0 4.6 0a2.3 2.3 0 1 0-4.6 0M298.9 387.4a2.3 2.3 0 1 0 4.6 0a2.3 2.3 0 1 0-4.6 0M329.5 354.1a2.3 2.3 0 1 0 4.6 0a2.3 2.3 0 1 0-4.6 0M347.4 343.0a2.3 2.3 0 1 0 4.6 0a2.3 2.3 0 1 0-4.6 0M345.1 340.3a2.3 2.3 0 1 0 4.6 0a2.3 2.3 0 1 0-4.6 0M316.3 368.4a2.3 2.3 0 1 0 4.6 0a2.3 2.3 0 1 0-4.6 0M308.8 383.8a2.3 2.3 0 1 0 4.6 0a2.3 2.3 0 1 0-4.6 0M308.3 383.9a2.3 2.3 0 1 0 4.6 0a2.3 2.3 0 1 0-4.6 0M375.8 318.5a2.3 2.3 0 1 0 4.6 0a2.3 2.3 0 1 0-4.6 0M328.2 360.5a2.3 2.3 0 1 0 4.6 0a2.3 2.3 0 1 0-4.6 0M421.3 265.2a2.3 2.3 0 1 0 4.6 0a2.3 2.3 0 1 0-4.6 0M335.0 342.8a2.3 2.3 0 1 0 4.6 0a2.3 2.3 0 1 0-4.6 0M289.1 405.7a2.3 2.3 0 1 0 4.6 0a2.3 2.3 0 1 0-4.6 0M325.4 368.8a2.3 2.3 0 1 0 4.6 0a2.3 2.3 0 1 0-4.6 0M294.7 395.1a2.3 2.3 0 1 0 4.6 0a2.3 2.3 0 1 0-4.6 0M291.9 398.6a2.3 2.3 0 1 0 4.6 0a2.3 2.3 0 1 0-4.6 0M345.4 330.6a2.3 2.3 0 1 0 4.6 0a2.3 2.3 0 1 0-4.6 0M425.4 256.1a2.3 2.3 0 1 0 4.6 0a2.3 2.3 0 1 0-4.6 0M435.0 246.7a2.3 2.3 0 1 0 4.6 0a2.3 2.3 0 1 0-4.6 0M295.3 393.1a2.3 2.3 0 1 0 4.6 0a2.3 2.3 0 1 0-4.6 0M283.2 393.4a2.3 2.3 0 1 0 4.6 0a2.3 2.3 0 1 0-4.6 0M295.3 399.0a2.3 2.3 0 1 0 4.6 0a2.3 2.3 0 1 0-4.6 0M317.0 373.3a2.3 2.3 0 1 0 4.6 0a2.3 2.3 0 1 0-4.6 0M293.8 398.5a2.3 2.3 0 1 0 4.6 0a2.3 2.3 0 1 0-4.6 0M319.7 361.8a2.3 2.3 0 1 0 4.6 0a2.3 2.3 0 1 0-4.6 0M319.2 362.4a2.3 2.3 0 1 0 4.6 0a2.3 2.3 0 1 0-4.6 0M316.3 374.0a2.3 2.3 0 1 0 4.6 0a2.3 2.3 0 1 0-4.6 0M322.3 365.3a2.3 2.3 0 1 0 4.6 0a2.3 2.3 0 1 0-4.6 0M381.2 309.2a2.3 2.3 0 1 0 4.6 0a2.3 2.3 0 1 0-4.6 0M315.0 368.0a2.3 2.3 0 1 0 4.6 0a2.3 2.3 0 1 0-4.6 0M318.6 364.8a2.3 2.3 0 1 0 4.6 0a2.3 2.3 0 1 0-4.6 0M341.6 337.0a2.3 2.3 0 1 0 4.6 0a2.3 2.3 0 1 0-4.6 0M318.3 357.7a2.3 2.3 0 1 0 4.6 0a2.3 2.3 0 1 0-4.6 0M296.5 387.4a2.3 2.3 0 1 0 4.6 0a2.3 2.3 0 1 0-4.6 0M359.1 332.9a2.3 2.3 0 1 0 4.6 0a2.3 2.3 0 1 0-4.6 0M314.2 380.2a2.3 2.3 0 1 0 4.6 0a2.3 2.3 0 1 0-4.6 0M433.4 252.5a2.3 2.3 0 1 0 4.6 0a2.3 2.3 0 1 0-4.6 0M435.1 247.9a2.3 2.3 0 1 0 4.6 0a2.3 2.3 0 1 0-4.6 0M293.7 376.5a2.3 2.3 0 1 0 4.6 0a2.3 2.3 0 1 0-4.6 0M312.0 367.7a2.3 2.3 0 1 0 4.6 0a2.3 2.3 0 1 0-4.6 0M304.6 383.5a2.3 2.3 0 1 0 4.6 0a2.3 2.3 0 1 0-4.6 0M325.2 362.6a2.3 2.3 0 1 0 4.6 0a2.3 2.3 0 1 0-4.6 0M335.7 341.6a2.3 2.3 0 1 0 4.6 0a2.3 2.3 0 1 0-4.6 0M310.2 373.9a2.3 2.3 0 1 0 4.6 0a2.3 2.3 0 1 0-4.6 0M283.8 411.2a2.3 2.3 0 1 0 4.6 0a2.3 2.3 0 1 0-4.6 0M390.5 286.4a2.3 2.3 0 1 0 4.6 0a2.3 2.3 0 1 0-4.6 0M409.0 272.7a2.3 2.3 0 1 0 4.6 0a2.3 2.3 0 1 0-4.6 0M312.1 363.1a2.3 2.3 0 1 0 4.6 0a2.3 2.3 0 1 0-4.6 0M317.1 364.4a2.3 2.3 0 1 0 4.6 0a2.3 2.3 0 1 0-4.6 0M335.1 350.8a2.3 2.3 0 1 0 4.6 0a2.3 2.3 0 1 0-4.6 0M305.8 380.6a2.3 2.3 0 1 0 4.6 0a2.3 2.3 0 1 0-4.6 0M316.1 370.8a2.3 2.3 0 1 0 4.6 0a2.3 2.3 0 1 0-4.6 0M304.3 374.2a2.3 2.3 0 1 0 4.6 0a2.3 2.3 0 1 0-4.6 0M299.5 382.8a2.3 2.3 0 1 0 4.6 0a2.3 2.3 0 1 0-4.6 0M382.3 293.3a2.3 2.3 0 1 0 4.6 0a2.3 2.3 0 1 0-4.6 0M413.0 274.0a2.3 2.3 0 1 0 4.6 0a2.3 2.3 0 1 0-4.6 0M307.4 381.5a2.3 2.3 0 1 0 4.6 0a2.3 2.3 0 1 0-4.6 0M358.5 330.9a2.3 2.3 0 1 0 4.6 0a2.3 2.3 0 1 0-4.6 0M291.7 402.0a2.3 2.3 0 1 0 4.6 0a2.3 2.3 0 1 0-4.6 0M327.5 356.0a2.3 2.3 0 1 0 4.6 0a2.3 2.3 0 1 0-4.6 0M328.0 360.6a2.3 2.3 0 1 0 4.6 0a2.3 2.3 0 1 0-4.6 0M281.9 408.6a2.3 2.3 0 1 0 4.6 0a2.3 2.3 0 1 0-4.6 0M344.9 338.3a2.3 2.3 0 1 0 4.6 0a2.3 2.3 0 1 0-4.6 0M386.6 293.7a2.3 2.3 0 1 0 4.6 0a2.3 2.3 0 1 0-4.6 0M280.8 411.1a2.3 2.3 0 1 0 4.6 0a2.3 2.3 0 1 0-4.6 0M346.3 335.5a2.3 2.3 0 1 0 4.6 0a2.3 2.3 0 1 0-4.6 0M315.8 374.8a2.3 2.3 0 1 0 4.6 0a2.3 2.3 0 1 0-4.6 0M419.4 267.9a2.3 2.3 0 1 0 4.6 0a2.3 2.3 0 1 0-4.6 0M339.9 355.8a2.3 2.3 0 1 0 4.6 0a2.3 2.3 0 1 0-4.6 0M394.8 292.9a2.3 2.3 0 1 0 4.6 0a2.3 2.3 0 1 0-4.6 0M371.7 319.0a2.3 2.3 0 1 0 4.6 0a2.3 2.3 0 1 0-4.6 0M331.5 343.4a2.3 2.3 0 1 0 4.6 0a2.3 2.3 0 1 0-4.6 0M283.7 395.1a2.3 2.3 0 1 0 4.6 0a2.3 2.3 0 1 0-4.6 0M296.5 391.3a2.3 2.3 0 1 0 4.6 0a2.3 2.3 0 1 0-4.6 0M319.4 362.8a2.3 2.3 0 1 0 4.6 0a2.3 2.3 0 1 0-4.6 0M293.4 391.8a2.3 2.3 0 1 0 4.6 0a2.3 2.3 0 1 0-4.6 0M398.2 288.3a2.3 2.3 0 1 0 4.6 0a2.3 2.3 0 1 0-4.6 0M302.1 379.8a2.3 2.3 0 1 0 4.6 0a2.3 2.3 0 1 0-4.6 0M299.3 394.8a2.3 2.3 0 1 0 4.6 0a2.3 2.3 0 1 0-4.6 0M305.1 376.1a2.3 2.3 0 1 0 4.6 0a2.3 2.3 0 1 0-4.6 0M311.0 382.9a2.3 2.3 0 1 0 4.6 0a2.3 2.3 0 1 0-4.6 0M292.8 398.9a2.3 2.3 0 1 0 4.6 0a2.3 2.3 0 1 0-4.6 0M306.1 382.5a2.3 2.3 0 1 0 4.6 0a2.3 2.3 0 1 0-4.6 0M332.5 355.5a2.3 2.3 0 1 0 4.6 0a2.3 2.3 0 1 0-4.6 0M318.8 363.3a2.3 2.3 0 1 0 4.6 0a2.3 2.3 0 1 0-4.6 0M389.9 294.7a2.3 2.3 0 1 0 4.6 0a2.3 2.3 0 1 0-4.6 0M402.4 281.0a2.3 2.3 0 1 0 4.6 0a2.3 2.3 0 1 0-4.6 0M376.5 309.7a2.3 2.3 0 1 0 4.6 0a2.3 2.3 0 1 0-4.6 0M300.5 377.6a2.3 2.3 0 1 0 4.6 0a2.3 2.3 0 1 0-4.6 0" fill="none" stroke="#6a6a6a" stroke-width="0.55"/>
</g>
<g clip-path="url(#c4)"><line x1="230.52" y1="467.92" x2="509.90" y2="174.30" stroke="#181818" stroke-width="1.1"/></g>
<line x1="272.50" y1="233.00" x2="272.50" y2="419.80" stroke="#727272" stroke-width="1.00"/>
<line x1="450.95" y1="233.00" x2="450.95" y2="419.80" stroke="#505050" stroke-width="1.40"/>
<line x1="272.50" y1="233.50" x2="450.95" y2="233.50" stroke="#6c6c6c" stroke-width="1.00"/>
<line x1="272.50" y1="419.00" x2="450.95" y2="419.00" stroke="#595959" stroke-width="1.60"/>
<path d="M286.40 419.00v3.6M272.50 409.20h-3.6M323.65 419.00v3.6M272.50 370.05h-3.6M360.90 419.00v3.6M272.50 330.90h-3.6M398.15 419.00v3.6M272.50 291.75h-3.6M435.40 419.00v3.6M272.50 252.60h-3.6" stroke="#4a4a4a" stroke-width="1.1" fill="none"/>
<text x="286.40" y="433.80" font-size="11.0" fill="#111" text-anchor="middle">0.0</text>
<text x="266.20" y="414.05" font-size="11.0" fill="#111" text-anchor="end">0.0</text>
<text x="323.65" y="433.80" font-size="11.0" fill="#111" text-anchor="middle">0.2</text>
<text x="266.20" y="374.90" font-size="11.0" fill="#111" text-anchor="end">0.2</text>
<text x="360.90" y="433.80" font-size="11.0" fill="#111" text-anchor="middle">0.4</text>
<text x="266.20" y="335.75" font-size="11.0" fill="#111" text-anchor="end">0.4</text>
<text x="398.15" y="433.80" font-size="11.0" fill="#111" text-anchor="middle">0.6</text>
<text x="266.20" y="296.60" font-size="11.0" fill="#111" text-anchor="end">0.6</text>
<text x="435.40" y="433.80" font-size="11.0" fill="#111" text-anchor="middle">0.8</text>
<text x="266.20" y="257.45" font-size="11.0" fill="#111" text-anchor="end">0.8</text>
<text x="361.88" y="451.30" font-size="14.1" fill="#111" text-anchor="middle" letter-spacing="0.3">PCR-CV</text>
<text transform="translate(244.20 324.85) rotate(-90)" font-size="14.1" fill="#111" text-anchor="middle">BLUP-HAT</text>
<clipPath id="c5"><rect x="505.00" y="233.50" width="178.50" height="185.50"/></clipPath>
<g clip-path="url(#c5)">
<path d="M541.7 371.1a2.3 2.3 0 1 0 4.6 0a2.3 2.3 0 1 0-4.6 0M523.8 375.5a2.3 2.3 0 1 0 4.6 0a2.3 2.3 0 1 0-4.6 0M643.2 263.9a2.3 2.3 0 1 0 4.6 0a2.3 2.3 0 1 0-4.6 0M584.4 319.3a2.3 2.3 0 1 0 4.6 0a2.3 2.3 0 1 0-4.6 0M540.7 365.3a2.3 2.3 0 1 0 4.6 0a2.3 2.3 0 1 0-4.6 0M643.8 274.4a2.3 2.3 0 1 0 4.6 0a2.3 2.3 0 1 0-4.6 0M527.3 380.0a2.3 2.3 0 1 0 4.6 0a2.3 2.3 0 1 0-4.6 0M535.6 373.5a2.3 2.3 0 1 0 4.6 0a2.3 2.3 0 1 0-4.6 0M598.6 320.4a2.3 2.3 0 1 0 4.6 0a2.3 2.3 0 1 0-4.6 0M530.6 379.1a2.3 2.3 0 1 0 4.6 0a2.3 2.3 0 1 0-4.6 0M541.4 362.7a2.3 2.3 0 1 0 4.6 0a2.3 2.3 0 1 0-4.6 0M573.9 347.5a2.3 2.3 0 1 0 4.6 0a2.3 2.3 0 1 0-4.6 0M658.4 255.3a2.3 2.3 0 1 0 4.6 0a2.3 2.3 0 1 0-4.6 0M553.6 352.7a2.3 2.3 0 1 0 4.6 0a2.3 2.3 0 1 0-4.6 0M518.2 379.9a2.3 2.3 0 1 0 4.6 0a2.3 2.3 0 1 0-4.6 0M555.6 356.4a2.3 2.3 0 1 0 4.6 0a2.3 2.3 0 1 0-4.6 0M550.6 351.7a2.3 2.3 0 1 0 4.6 0a2.3 2.3 0 1 0-4.6 0M606.1 311.0a2.3 2.3 0 1 0 4.6 0a2.3 2.3 0 1 0-4.6 0M549.7 354.2a2.3 2.3 0 1 0 4.6 0a2.3 2.3 0 1 0-4.6 0M613.0 306.2a2.3 2.3 0 1 0 4.6 0a2.3 2.3 0 1 0-4.6 0M567.8 334.1a2.3 2.3 0 1 0 4.6 0a2.3 2.3 0 1 0-4.6 0M542.2 346.8a2.3 2.3 0 1 0 4.6 0a2.3 2.3 0 1 0-4.6 0M542.8 359.6a2.3 2.3 0 1 0 4.6 0a2.3 2.3 0 1 0-4.6 0M585.4 332.6a2.3 2.3 0 1 0 4.6 0a2.3 2.3 0 1 0-4.6 0M543.3 370.8a2.3 2.3 0 1 0 4.6 0a2.3 2.3 0 1 0-4.6 0M547.8 362.8a2.3 2.3 0 1 0 4.6 0a2.3 2.3 0 1 0-4.6 0M627.3 289.3a2.3 2.3 0 1 0 4.6 0a2.3 2.3 0 1 0-4.6 0M546.3 365.3a2.3 2.3 0 1 0 4.6 0a2.3 2.3 0 1 0-4.6 0M535.7 368.6a2.3 2.3 0 1 0 4.6 0a2.3 2.3 0 1 0-4.6 0M544.9 361.9a2.3 2.3 0 1 0 4.6 0a2.3 2.3 0 1 0-4.6 0M511.6 404.2a2.3 2.3 0 1 0 4.6 0a2.3 2.3 0 1 0-4.6 0M522.6 385.0a2.3 2.3 0 1 0 4.6 0a2.3 2.3 0 1 0-4.6 0M606.2 305.9a2.3 2.3 0 1 0 4.6 0a2.3 2.3 0 1 0-4.6 0M511.6 389.5a2.3 2.3 0 1 0 4.6 0a2.3 2.3 0 1 0-4.6 0M541.3 361.8a2.3 2.3 0 1 0 4.6 0a2.3 2.3 0 1 0-4.6 0M562.9 343.5a2.3 2.3 0 1 0 4.6 0a2.3 2.3 0 1 0-4.6 0M519.5 383.5a2.3 2.3 0 1 0 4.6 0a2.3 2.3 0 1 0-4.6 0M532.7 379.9a2.3 2.3 0 1 0 4.6 0a2.3 2.3 0 1 0-4.6 0M511.4 397.1a2.3 2.3 0 1 0 4.6 0a2.3 2.3 0 1 0-4.6 0M556.8 350.8a2.3 2.3 0 1 0 4.6 0a2.3 2.3 0 1 0-4.6 0M549.9 358.0a2.3 2.3 0 1 0 4.6 0a2.3 2.3 0 1 0-4.6 0M570.2 340.6a2.3 2.3 0 1 0 4.6 0a2.3 2.3 0 1 0-4.6 0M660.2 252.7a2.3 2.3 0 1 0 4.6 0a2.3 2.3 0 1 0-4.6 0M589.2 319.9a2.3 2.3 0 1 0 4.6 0a2.3 2.3 0 1 0-4.6 0M525.8 374.6a2.3 2.3 0 1 0 4.6 0a2.3 2.3 0 1 0-4.6 0M611.1 300.5a2.3 2.3 0 1 0 4.6 0a2.3 2.3 0 1 0-4.6 0M523.6 385.6a2.3 2.3 0 1 0 4.6 0a2.3 2.3 0 1 0-4.6 0M536.9 370.7a2.3 2.3 0 1 0 4.6 0a2.3 2.3 0 1 0-4.6 0M511.7 393.8a2.3 2.3 0 1 0 4.6 0a2.3 2.3 0 1 0-4.6 0M550.2 346.0a2.3 2.3 0 1 0 4.6 0a2.3 2.3 0 1 0-4.6 0M518.5 381.7a2.3 2.3 0 1 0 4.6 0a2.3 2.3 0 1 0-4.6 0M536.7 365.1a2.3 2.3 0 1 0 4.6 0a2.3 2.3 0 1 0-4.6 0M511.6 403.7a2.3 2.3 0 1 0 4.6 0a2.3 2.3 0 1 0-4.6 0M566.8 340.3a2.3 2.3 0 1 0 4.6 0a2.3 2.3 0 1 0-4.6 0M527.9 372.6a2.3 2.3 0 1 0 4.6 0a2.3 2.3 0 1 0-4.6 0M527.1 378.5a2.3 2.3 0 1 0 4.6 0a2.3 2.3 0 1 0-4.6 0M578.4 322.2a2.3 2.3 0 1 0 4.6 0a2.3 2.3 0 1 0-4.6 0M522.5 384.9a2.3 2.3 0 1 0 4.6 0a2.3 2.3 0 1 0-4.6 0M547.9 365.1a2.3 2.3 0 1 0 4.6 0a2.3 2.3 0 1 0-4.6 0M524.8 387.4a2.3 2.3 0 1 0 4.6 0a2.3 2.3 0 1 0-4.6 0M526.5 386.1a2.3 2.3 0 1 0 4.6 0a2.3 2.3 0 1 0-4.6 0M554.7 334.5a2.3 2.3 0 1 0 4.6 0a2.3 2.3 0 1 0-4.6 0M557.9 354.4a2.3 2.3 0 1 0 4.6 0a2.3 2.3 0 1 0-4.6 0M545.4 358.7a2.3 2.3 0 1 0 4.6 0a2.3 2.3 0 1 0-4.6 0M589.4 328.3a2.3 2.3 0 1 0 4.6 0a2.3 2.3 0 1 0-4.6 0M548.8 364.2a2.3 2.3 0 1 0 4.6 0a2.3 2.3 0 1 0-4.6 0M515.7 388.5a2.3 2.3 0 1 0 4.6 0a2.3 2.3 0 1 0-4.6 0M570.4 347.2a2.3 2.3 0 1 0 4.6 0a2.3 2.3 0 1 0-4.6 0M577.5 340.1a2.3 2.3 0 1 0 4.6 0a2.3 2.3 0 1 0-4.6 0M651.3 262.5a2.3 2.3 0 1 0 4.6 0a2.3 2.3 0 1 0-4.6 0M612.0 300.9a2.3 2.3 0 1 0 4.6 0a2.3 2.3 0 1 0-4.6 0M652.9 257.9a2.3 2.3 0 1 0 4.6 0a2.3 2.3 0 1 0-4.6 0M581.7 318.4a2.3 2.3 0 1 0 4.6 0a2.3 2.3 0 1 0-4.6 0M555.5 350.1a2.3 2.3 0 1 0 4.6 0a2.3 2.3 0 1 0-4.6 0M511.5 404.6a2.3 2.3 0 1 0 4.6 0a2.3 2.3 0 1 0-4.6 0M529.8 362.9a2.3 2.3 0 1 0 4.6 0a2.3 2.3 0 1 0-4.6 0M545.5 360.2a2.3 2.3 0 1 0 4.6 0a2.3 2.3 0 1 0-4.6 0M581.0 323.2a2.3 2.3 0 1 0 4.6 0a2.3 2.3 0 1 0-4.6 0M532.5 365.2a2.3 2.3 0 1 0 4.6 0a2.3 2.3 0 1 0-4.6 0M591.9 323.1a2.3 2.3 0 1 0 4.6 0a2.3 2.3 0 1 0-4.6 0M523.5 387.2a2.3 2.3 0 1 0 4.6 0a2.3 2.3 0 1 0-4.6 0M607.1 300.6a2.3 2.3 0 1 0 4.6 0a2.3 2.3 0 1 0-4.6 0M649.9 263.0a2.3 2.3 0 1 0 4.6 0a2.3 2.3 0 1 0-4.6 0M518.1 391.9a2.3 2.3 0 1 0 4.6 0a2.3 2.3 0 1 0-4.6 0M558.2 353.8a2.3 2.3 0 1 0 4.6 0a2.3 2.3 0 1 0-4.6 0M561.0 348.2a2.3 2.3 0 1 0 4.6 0a2.3 2.3 0 1 0-4.6 0M511.5 401.3a2.3 2.3 0 1 0 4.6 0a2.3 2.3 0 1 0-4.6 0M539.6 361.2a2.3 2.3 0 1 0 4.6 0a2.3 2.3 0 1 0-4.6 0M554.0 355.3a2.3 2.3 0 1 0 4.6 0a2.3 2.3 0 1 0-4.6 0M545.8 364.2a2.3 2.3 0 1 0 4.6 0a2.3 2.3 0 1 0-4.6 0M543.8 368.1a2.3 2.3 0 1 0 4.6 0a2.3 2.3 0 1 0-4.6 0M556.6 355.7a2.3 2.3 0 1 0 4.6 0a2.3 2.3 0 1 0-4.6 0M631.7 278.4a2.3 2.3 0 1 0 4.6 0a2.3 2.3 0 1 0-4.6 0M555.9 352.6a2.3 2.3 0 1 0 4.6 0a2.3 2.3 0 1 0-4.6 0M511.6 399.1a2.3 2.3 0 1 0 4.6 0a2.3 2.3 0 1 0-4.6 0M539.4 368.7a2.3 2.3 0 1 0 4.6 0a2.3 2.3 0 1 0-4.6 0M560.1 349.4a2.3 2.3 0 1 0 4.6 0a2.3 2.3 0 1 0-4.6 0M578.7 337.1a2.3 2.3 0 1 0 4.6 0a2.3 2.3 0 1 0-4.6 0M552.8 358.4a2.3 2.3 0 1 0 4.6 0a2.3 2.3 0 1 0-4.6 0M536.0 375.0a2.3 2.3 0 1 0 4.6 0a2.3 2.3 0 1 0-4.6 0M567.9 346.5a2.3 2.3 0 1 0 4.6 0a2.3 2.3 0 1 0-4.6 0M566.7 345.4a2.3 2.3 0 1 0 4.6 0a2.3 2.3 0 1 0-4.6 0M534.4 373.0a2.3 2.3 0 1 0 4.6 0a2.3 2.3 0 1 0-4.6 0M559.6 334.0a2.3 2.3 0 1 0 4.6 0a2.3 2.3 0 1 0-4.6 0M517.9 391.0a2.3 2.3 0 1 0 4.6 0a2.3 2.3 0 1 0-4.6 0M524.2 366.7a2.3 2.3 0 1 0 4.6 0a2.3 2.3 0 1 0-4.6 0M556.5 351.3a2.3 2.3 0 1 0 4.6 0a2.3 2.3 0 1 0-4.6 0M511.7 397.5a2.3 2.3 0 1 0 4.6 0a2.3 2.3 0 1 0-4.6 0M534.3 376.8a2.3 2.3 0 1 0 4.6 0a2.3 2.3 0 1 0-4.6 0M576.5 335.5a2.3 2.3 0 1 0 4.6 0a2.3 2.3 0 1 0-4.6 0M526.6 382.8a2.3 2.3 0 1 0 4.6 0a2.3 2.3 0 1 0-4.6 0M511.3 395.1a2.3 2.3 0 1 0 4.6 0a2.3 2.3 0 1 0-4.6 0M557.7 348.2a2.3 2.3 0 1 0 4.6 0a2.3 2.3 0 1 0-4.6 0M548.7 364.8a2.3 2.3 0 1 0 4.6 0a2.3 2.3 0 1 0-4.6 0M544.1 354.7a2.3 2.3 0 1 0 4.6 0a2.3 2.3 0 1 0-4.6 0M601.7 311.4a2.3 2.3 0 1 0 4.6 0a2.3 2.3 0 1 0-4.6 0M587.3 329.8a2.3 2.3 0 1 0 4.6 0a2.3 2.3 0 1 0-4.6 0M531.0 383.6a2.3 2.3 0 1 0 4.6 0a2.3 2.3 0 1 0-4.6 0M518.3 391.1a2.3 2.3 0 1 0 4.6 0a2.3 2.3 0 1 0-4.6 0M547.2 361.0a2.3 2.3 0 1 0 4.6 0a2.3 2.3 0 1 0-4.6 0M564.0 351.2a2.3 2.3 0 1 0 4.6 0a2.3 2.3 0 1 0-4.6 0M602.8 312.4a2.3 2.3 0 1 0 4.6 0a2.3 2.3 0 1 0-4.6 0M522.6 383.3a2.3 2.3 0 1 0 4.6 0a2.3 2.3 0 1 0-4.6 0M520.9 386.3a2.3 2.3 0 1 0 4.6 0a2.3 2.3 0 1 0-4.6 0M580.9 340.9a2.3 2.3 0 1 0 4.6 0a2.3 2.3 0 1 0-4.6 0M549.6 354.9a2.3 2.3 0 1 0 4.6 0a2.3 2.3 0 1 0-4.6 0M569.9 343.8a2.3 2.3 0 1 0 4.6 0a2.3 2.3 0 1 0-4.6 0M580.4 323.6a2.3 2.3 0 1 0 4.6 0a2.3 2.3 0 1 0-4.6 0M609.0 298.2a2.3 2.3 0 1 0 4.6 0a2.3 2.3 0 1 0-4.6 0M611.0 301.6a2.3 2.3 0 1 0 4.6 0a2.3 2.3 0 1 0-4.6 0M547.8 348.7a2.3 2.3 0 1 0 4.6 0a2.3 2.3 0 1 0-4.6 0M600.4 299.6a2.3 2.3 0 1 0 4.6 0a2.3 2.3 0 1 0-4.6 0M653.1 264.7a2.3 2.3 0 1 0 4.6 0a2.3 2.3 0 1 0-4.6 0M519.5 389.6a2.3 2.3 0 1 0 4.6 0a2.3 2.3 0 1 0-4.6 0M539.5 371.2a2.3 2.3 0 1 0 4.6 0a2.3 2.3 0 1 0-4.6 0M615.3 295.0a2.3 2.3 0 1 0 4.6 0a2.3 2.3 0 1 0-4.6 0M568.7 331.1a2.3 2.3 0 1 0 4.6 0a2.3 2.3 0 1 0-4.6 0M512.0 391.7a2.3 2.3 0 1 0 4.6 0a2.3 2.3 0 1 0-4.6 0M550.0 354.4a2.3 2.3 0 1 0 4.6 0a2.3 2.3 0 1 0-4.6 0M579.4 336.2a2.3 2.3 0 1 0 4.6 0a2.3 2.3 0 1 0-4.6 0M580.5 333.9a2.3 2.3 0 1 0 4.6 0a2.3 2.3 0 1 0-4.6 0M657.4 255.0a2.3 2.3 0 1 0 4.6 0a2.3 2.3 0 1 0-4.6 0M613.6 299.5a2.3 2.3 0 1 0 4.6 0a2.3 2.3 0 1 0-4.6 0M511.3 391.4a2.3 2.3 0 1 0 4.6 0a2.3 2.3 0 1 0-4.6 0M511.3 407.9a2.3 2.3 0 1 0 4.6 0a2.3 2.3 0 1 0-4.6 0M536.5 373.5a2.3 2.3 0 1 0 4.6 0a2.3 2.3 0 1 0-4.6 0M524.9 379.5a2.3 2.3 0 1 0 4.6 0a2.3 2.3 0 1 0-4.6 0M631.6 285.7a2.3 2.3 0 1 0 4.6 0a2.3 2.3 0 1 0-4.6 0M511.6 403.8a2.3 2.3 0 1 0 4.6 0a2.3 2.3 0 1 0-4.6 0M558.3 350.7a2.3 2.3 0 1 0 4.6 0a2.3 2.3 0 1 0-4.6 0M549.9 355.5a2.3 2.3 0 1 0 4.6 0a2.3 2.3 0 1 0-4.6 0M534.5 367.8a2.3 2.3 0 1 0 4.6 0a2.3 2.3 0 1 0-4.6 0M511.4 409.7a2.3 2.3 0 1 0 4.6 0a2.3 2.3 0 1 0-4.6 0M537.0 374.0a2.3 2.3 0 1 0 4.6 0a2.3 2.3 0 1 0-4.6 0M646.5 265.9a2.3 2.3 0 1 0 4.6 0a2.3 2.3 0 1 0-4.6 0M581.2 331.9a2.3 2.3 0 1 0 4.6 0a2.3 2.3 0 1 0-4.6 0M616.7 294.1a2.3 2.3 0 1 0 4.6 0a2.3 2.3 0 1 0-4.6 0M546.9 340.0a2.3 2.3 0 1 0 4.6 0a2.3 2.3 0 1 0-4.6 0M554.4 361.2a2.3 2.3 0 1 0 4.6 0a2.3 2.3 0 1 0-4.6 0M538.5 371.0a2.3 2.3 0 1 0 4.6 0a2.3 2.3 0 1 0-4.6 0M511.4 392.9a2.3 2.3 0 1 0 4.6 0a2.3 2.3 0 1 0-4.6 0M584.3 328.9a2.3 2.3 0 1 0 4.6 0a2.3 2.3 0 1 0-4.6 0M562.0 349.2a2.3 2.3 0 1 0 4.6 0a2.3 2.3 0 1 0-4.6 0M536.6 373.4a2.3 2.3 0 1 0 4.6 0a2.3 2.3 0 1 0-4.6 0M594.2 313.4a2.3 2.3 0 1 0 4.6 0a2.3 2.3 0 1 0-4.6 0M623.2 290.6a2.3 2.3 0 1 0 4.6 0a2.3 2.3 0 1 0-4.6 0M525.5 384.1a2.3 2.3 0 1 0 4.6 0a2.3 2.3 0 1 0-4.6 0M556.8 355.7a2.3 2.3 0 1 0 4.6 0a2.3 2.3 0 1 0-4.6 0M602.8 312.3a2.3 2.3 0 1 0 4.6 0a2.3 2.3 0 1 0-4.6 0M545.5 351.0a2.3 2.3 0 1 0 4.6 0a2.3 2.3 0 1 0-4.6 0M550.7 353.5a2.3 2.3 0 1 0 4.6 0a2.3 2.3 0 1 0-4.6 0M529.9 377.5a2.3 2.3 0 1 0 4.6 0a2.3 2.3 0 1 0-4.6 0M550.3 351.5a2.3 2.3 0 1 0 4.6 0a2.3 2.3 0 1 0-4.6 0M552.8 350.4a2.3 2.3 0 1 0 4.6 0a2.3 2.3 0 1 0-4.6 0M593.8 320.4a2.3 2.3 0 1 0 4.6 0a2.3 2.3 0 1 0-4.6 0M511.4 401.7a2.3 2.3 0 1 0 4.6 0a2.3 2.3 0 1 0-4.6 0M550.1 350.6a2.3 2.3 0 1 0 4.6 0a2.3 2.3 0 1 0-4.6 0M547.8 352.5a2.3 2.3 0 1 0 4.6 0a2.3 2.3 0 1 0-4.6 0M619.6 294.6a2.3 2.3 0 1 0 4.6 0a2.3 2.3 0 1 0-4.6 0M573.7 341.7a2.3 2.3 0 1 0 4.6 0a2.3 2.3 0 1 0-4.6 0M589.5 325.1a2.3 2.3 0 1 0 4.6 0a2.3 2.3 0 1 0-4.6 0M641.8 262.3a2.3 2.3 0 1 0 4.6 0a2.3 2.3 0 1 0-4.6 0M541.9 351.1a2.3 2.3 0 1 0 4.6 0a2.3 2.3 0 1 0-4.6 0M669.4 246.0a2.3 2.3 0 1 0 4.6 0a2.3 2.3 0 1 0-4.6 0M609.7 308.6a2.3 2.3 0 1 0 4.6 0a2.3 2.3 0 1 0-4.6 0M667.6 247.8a2.3 2.3 0 1 0 4.6 0a2.3 2.3 0 1 0-4.6 0M552.4 360.8a2.3 2.3 0 1 0 4.6 0a2.3 2.3 0 1 0-4.6 0M511.5 386.9a2.3 2.3 0 1 0 4.6 0a2.3 2.3 0 1 0-4.6 0M511.4 393.6a2.3 2.3 0 1 0 4.6 0a2.3 2.3 0 1 0-4.6 0M566.0 333.6a2.3 2.3 0 1 0 4.6 0a2.3 2.3 0 1 0-4.6 0M552.7 355.3a2.3 2.3 0 1 0 4.6 0a2.3 2.3 0 1 0-4.6 0M587.8 324.2a2.3 2.3 0 1 0 4.6 0a2.3 2.3 0 1 0-4.6 0M658.1 256.8a2.3 2.3 0 1 0 4.6 0a2.3 2.3 0 1 0-4.6 0M591.6 327.2a2.3 2.3 0 1 0 4.6 0a2.3 2.3 0 1 0-4.6 0M622.3 286.8a2.3 2.3 0 1 0 4.6 0a2.3 2.3 0 1 0-4.6 0M573.9 333.9a2.3 2.3 0 1 0 4.6 0a2.3 2.3 0 1 0-4.6 0M524.6 371.6a2.3 2.3 0 1 0 4.6 0a2.3 2.3 0 1 0-4.6 0M537.1 361.9a2.3 2.3 0 1 0 4.6 0a2.3 2.3 0 1 0-4.6 0M559.6 339.4a2.3 2.3 0 1 0 4.6 0a2.3 2.3 0 1 0-4.6 0M531.0 357.7a2.3 2.3 0 1 0 4.6 0a2.3 2.3 0 1 0-4.6 0M589.2 327.6a2.3 2.3 0 1 0 4.6 0a2.3 2.3 0 1 0-4.6 0M544.0 346.1a2.3 2.3 0 1 0 4.6 0a2.3 2.3 0 1 0-4.6 0M555.4 337.7a2.3 2.3 0 1 0 4.6 0a2.3 2.3 0 1 0-4.6 0M586.2 329.0a2.3 2.3 0 1 0 4.6 0a2.3 2.3 0 1 0-4.6 0M588.4 329.5a2.3 2.3 0 1 0 4.6 0a2.3 2.3 0 1 0-4.6 0M653.4 256.4a2.3 2.3 0 1 0 4.6 0a2.3 2.3 0 1 0-4.6 0M550.1 358.5a2.3 2.3 0 1 0 4.6 0a2.3 2.3 0 1 0-4.6 0M553.5 362.4a2.3 2.3 0 1 0 4.6 0a2.3 2.3 0 1 0-4.6 0M545.5 362.1a2.3 2.3 0 1 0 4.6 0a2.3 2.3 0 1 0-4.6 0M667.6 245.7a2.3 2.3 0 1 0 4.6 0a2.3 2.3 0 1 0-4.6 0M596.8 321.1a2.3 2.3 0 1 0 4.6 0a2.3 2.3 0 1 0-4.6 0M586.4 325.5a2.3 2.3 0 1 0 4.6 0a2.3 2.3 0 1 0-4.6 0M557.9 354.2a2.3 2.3 0 1 0 4.6 0a2.3 2.3 0 1 0-4.6 0M539.1 365.5a2.3 2.3 0 1 0 4.6 0a2.3 2.3 0 1 0-4.6 0M635.9 282.6a2.3 2.3 0 1 0 4.6 0a2.3 2.3 0 1 0-4.6 0M592.7 319.8a2.3 2.3 0 1 0 4.6 0a2.3 2.3 0 1 0-4.6 0M540.0 371.4a2.3 2.3 0 1 0 4.6 0a2.3 2.3 0 1 0-4.6 0M552.5 342.9a2.3 2.3 0 1 0 4.6 0a2.3 2.3 0 1 0-4.6 0M511.7 403.1a2.3 2.3 0 1 0 4.6 0a2.3 2.3 0 1 0-4.6 0M547.0 351.8a2.3 2.3 0 1 0 4.6 0a2.3 2.3 0 1 0-4.6 0M532.0 361.1a2.3 2.3 0 1 0 4.6 0a2.3 2.3 0 1 0-4.6 0M566.6 349.7a2.3 2.3 0 1 0 4.6 0a2.3 2.3 0 1 0-4.6 0M575.5 343.7a2.3 2.3 0 1 0 4.6 0a2.3 2.3 0 1 0-4.6 0M618.2 299.1a2.3 2.3 0 1 0 4.6 0a2.3 2.3 0 1 0-4.6 0M544.3 360.7a2.3 2.3 0 1 0 4.6 0a2.3 2.3 0 1 0-4.6 0M546.0 368.5a2.3 2.3 0 1 0 4.6 0a2.3 2.3 0 1 0-4.6 0M550.9 361.4a2.3 2.3 0 1 0 4.6 0a2.3 2.3 0 1 0-4.6 0M541.9 366.8a2.3 2.3 0 1 0 4.6 0a2.3 2.3 0 1 0-4.6 0M584.4 314.3a2.3 2.3 0 1 0 4.6 0a2.3 2.3 0 1 0-4.6 0M546.5 360.5a2.3 2.3 0 1 0 4.6 0a2.3 2.3 0 1 0-4.6 0M511.6 409.0a2.3 2.3 0 1 0 4.6 0a2.3 2.3 0 1 0-4.6 0M557.2 355.4a2.3 2.3 0 1 0 4.6 0a2.3 2.3 0 1 0-4.6 0M585.2 334.6a2.3 2.3 0 1 0 4.6 0a2.3 2.3 0 1 0-4.6 0M532.5 365.2a2.3 2.3 0 1 0 4.6 0a2.3 2.3 0 1 0-4.6 0M537.3 372.2a2.3 2.3 0 1 0 4.6 0a2.3 2.3 0 1 0-4.6 0M573.5 341.2a2.3 2.3 0 1 0 4.6 0a2.3 2.3 0 1 0-4.6 0M546.6 350.9a2.3 2.3 0 1 0 4.6 0a2.3 2.3 0 1 0-4.6 0M511.7 407.8a2.3 2.3 0 1 0 4.6 0a2.3 2.3 0 1 0-4.6 0M540.0 365.8a2.3 2.3 0 1 0 4.6 0a2.3 2.3 0 1 0-4.6 0M524.2 379.0a2.3 2.3 0 1 0 4.6 0a2.3 2.3 0 1 0-4.6 0M547.5 355.7a2.3 2.3 0 1 0 4.6 0a2.3 2.3 0 1 0-4.6 0M541.3 371.1a2.3 2.3 0 1 0 4.6 0a2.3 2.3 0 1 0-4.6 0M671.0 241.7a2.3 2.3 0 1 0 4.6 0a2.3 2.3 0 1 0-4.6 0M567.3 343.6a2.3 2.3 0 1 0 4.6 0a2.3 2.3 0 1 0-4.6 0M638.7 278.6a2.3 2.3 0 1 0 4.6 0a2.3 2.3 0 1 0-4.6 0M566.2 343.7a2.3 2.3 0 1 0 4.6 0a2.3 2.3 0 1 0-4.6 0M662.3 252.8a2.3 2.3 0 1 0 4.6 0a2.3 2.3 0 1 0-4.6 0M619.7 288.6a2.3 2.3 0 1 0 4.6 0a2.3 2.3 0 1 0-4.6 0M517.4 390.2a2.3 2.3 0 1 0 4.6 0a2.3 2.3 0 1 0-4.6 0M536.0 378.5a2.3 2.3 0 1 0 4.6 0a2.3 2.3 0 1 0-4.6 0M560.1 348.5a2.3 2.3 0 1 0 4.6 0a2.3 2.3 0 1 0-4.6 0M511.8 391.1a2.3 2.3 0 1 0 4.6 0a2.3 2.3 0 1 0-4.6 0M603.5 301.9a2.3 2.3 0 1 0 4.6 0a2.3 2.3 0 1 0-4.6 0M583.7 322.7a2.3 2.3 0 1 0 4.6 0a2.3 2.3 0 1 0-4.6 0M542.6 357.5a2.3 2.3 0 1 0 4.6 0a2.3 2.3 0 1 0-4.6 0M560.2 353.2a2.3 2.3 0 1 0 4.6 0a2.3 2.3 0 1 0-4.6 0M584.7 316.8a2.3 2.3 0 1 0 4.6 0a2.3 2.3 0 1 0-4.6 0M523.7 374.1a2.3 2.3 0 1 0 4.6 0a2.3 2.3 0 1 0-4.6 0M610.7 303.6a2.3 2.3 0 1 0 4.6 0a2.3 2.3 0 1 0-4.6 0M521.2 358.9a2.3 2.3 0 1 0 4.6 0a2.3 2.3 0 1 0-4.6 0M521.6 387.8a2.3 2.3 0 1 0 4.6 0a2.3 2.3 0 1 0-4.6 0M540.2 362.4a2.3 2.3 0 1 0 4.6 0a2.3 2.3 0 1 0-4.6 0M521.6 376.8a2.3 2.3 0 1 0 4.6 0a2.3 2.3 0 1 0-4.6 0M550.7 360.7a2.3 2.3 0 1 0 4.6 0a2.3 2.3 0 1 0-4.6 0M511.2 407.3a2.3 2.3 0 1 0 4.6 0a2.3 2.3 0 1 0-4.6 0M524.4 383.9a2.3 2.3 0 1 0 4.6 0a2.3 2.3 0 1 0-4.6 0M613.6 303.0a2.3 2.3 0 1 0 4.6 0a2.3 2.3 0 1 0-4.6 0M565.4 347.7a2.3 2.3 0 1 0 4.6 0a2.3 2.3 0 1 0-4.6 0M554.8 354.3a2.3 2.3 0 1 0 4.6 0a2.3 2.3 0 1 0-4.6 0M605.8 307.0a2.3 2.3 0 1 0 4.6 0a2.3 2.3 0 1 0-4.6 0M546.2 361.1a2.3 2.3 0 1 0 4.6 0a2.3 2.3 0 1 0-4.6 0M511.6 385.7a2.3 2.3 0 1 0 4.6 0a2.3 2.3 0 1 0-4.6 0M533.5 368.8a2.3 2.3 0 1 0 4.6 0a2.3 2.3 0 1 0-4.6 0M587.1 321.3a2.3 2.3 0 1 0 4.6 0a2.3 2.3 0 1 0-4.6 0M570.9 336.4a2.3 2.3 0 1 0 4.6 0a2.3 2.3 0 1 0-4.6 0M566.9 348.5a2.3 2.3 0 1 0 4.6 0a2.3 2.3 0 1 0-4.6 0M571.4 346.0a2.3 2.3 0 1 0 4.6 0a2.3 2.3 0 1 0-4.6 0M606.4 312.8a2.3 2.3 0 1 0 4.6 0a2.3 2.3 0 1 0-4.6 0M656.2 253.9a2.3 2.3 0 1 0 4.6 0a2.3 2.3 0 1 0-4.6 0M543.7 368.5a2.3 2.3 0 1 0 4.6 0a2.3 2.3 0 1 0-4.6 0M565.0 349.8a2.3 2.3 0 1 0 4.6 0a2.3 2.3 0 1 0-4.6 0M519.8 392.0a2.3 2.3 0 1 0 4.6 0a2.3 2.3 0 1 0-4.6 0M518.1 392.9a2.3 2.3 0 1 0 4.6 0a2.3 2.3 0 1 0-4.6 0M587.4 316.9a2.3 2.3 0 1 0 4.6 0a2.3 2.3 0 1 0-4.6 0M591.9 327.6a2.3 2.3 0 1 0 4.6 0a2.3 2.3 0 1 0-4.6 0M647.6 259.8a2.3 2.3 0 1 0 4.6 0a2.3 2.3 0 1 0-4.6 0M667.8 249.2a2.3 2.3 0 1 0 4.6 0a2.3 2.3 0 1 0-4.6 0M529.8 372.1a2.3 2.3 0 1 0 4.6 0a2.3 2.3 0 1 0-4.6 0M511.5 403.3a2.3 2.3 0 1 0 4.6 0a2.3 2.3 0 1 0-4.6 0M511.7 398.6a2.3 2.3 0 1 0 4.6 0a2.3 2.3 0 1 0-4.6 0M521.7 382.9a2.3 2.3 0 1 0 4.6 0a2.3 2.3 0 1 0-4.6 0M558.6 358.5a2.3 2.3 0 1 0 4.6 0a2.3 2.3 0 1 0-4.6 0M576.5 337.1a2.3 2.3 0 1 0 4.6 0a2.3 2.3 0 1 0-4.6 0M553.6 358.6a2.3 2.3 0 1 0 4.6 0a2.3 2.3 0 1 0-4.6 0M518.5 386.9a2.3 2.3 0 1 0 4.6 0a2.3 2.3 0 1 0-4.6 0M586.5 332.5a2.3 2.3 0 1 0 4.6 0a2.3 2.3 0 1 0-4.6 0M562.4 349.9a2.3 2.3 0 1 0 4.6 0a2.3 2.3 0 1 0-4.6 0M575.6 332.0a2.3 2.3 0 1 0 4.6 0a2.3 2.3 0 1 0-4.6 0M527.6 379.5a2.3 2.3 0 1 0 4.6 0a2.3 2.3 0 1 0-4.6 0M535.0 360.9a2.3 2.3 0 1 0 4.6 0a2.3 2.3 0 1 0-4.6 0M556.4 357.8a2.3 2.3 0 1 0 4.6 0a2.3 2.3 0 1 0-4.6 0M521.5 380.0a2.3 2.3 0 1 0 4.6 0a2.3 2.3 0 1 0-4.6 0M540.1 372.9a2.3 2.3 0 1 0 4.6 0a2.3 2.3 0 1 0-4.6 0M522.9 376.3a2.3 2.3 0 1 0 4.6 0a2.3 2.3 0 1 0-4.6 0M549.0 356.0a2.3 2.3 0 1 0 4.6 0a2.3 2.3 0 1 0-4.6 0M537.0 364.5a2.3 2.3 0 1 0 4.6 0a2.3 2.3 0 1 0-4.6 0M518.9 392.0a2.3 2.3 0 1 0 4.6 0a2.3 2.3 0 1 0-4.6 0M570.5 345.8a2.3 2.3 0 1 0 4.6 0a2.3 2.3 0 1 0-4.6 0M583.5 315.6a2.3 2.3 0 1 0 4.6 0a2.3 2.3 0 1 0-4.6 0M563.5 351.8a2.3 2.3 0 1 0 4.6 0a2.3 2.3 0 1 0-4.6 0M573.3 334.2a2.3 2.3 0 1 0 4.6 0a2.3 2.3 0 1 0-4.6 0M527.3 370.8a2.3 2.3 0 1 0 4.6 0a2.3 2.3 0 1 0-4.6 0M579.5 320.6a2.3 2.3 0 1 0 4.6 0a2.3 2.3 0 1 0-4.6 0M516.3 389.5a2.3 2.3 0 1 0 4.6 0a2.3 2.3 0 1 0-4.6 0M566.4 346.9a2.3 2.3 0 1 0 4.6 0a2.3 2.3 0 1 0-4.6 0M511.8 391.3a2.3 2.3 0 1 0 4.6 0a2.3 2.3 0 1 0-4.6 0M533.6 374.2a2.3 2.3 0 1 0 4.6 0a2.3 2.3 0 1 0-4.6 0M559.2 348.0a2.3 2.3 0 1 0 4.6 0a2.3 2.3 0 1 0-4.6 0M653.2 266.1a2.3 2.3 0 1 0 4.6 0a2.3 2.3 0 1 0-4.6 0M521.5 376.3a2.3 2.3 0 1 0 4.6 0a2.3 2.3 0 1 0-4.6 0M653.4 257.3a2.3 2.3 0 1 0 4.6 0a2.3 2.3 0 1 0-4.6 0M550.4 347.4a2.3 2.3 0 1 0 4.6 0a2.3 2.3 0 1 0-4.6 0M565.5 344.0a2.3 2.3 0 1 0 4.6 0a2.3 2.3 0 1 0-4.6 0M531.8 376.4a2.3 2.3 0 1 0 4.6 0a2.3 2.3 0 1 0-4.6 0M530.7 379.8a2.3 2.3 0 1 0 4.6 0a2.3 2.3 0 1 0-4.6 0M610.9 294.1a2.3 2.3 0 1 0 4.6 0a2.3 2.3 0 1 0-4.6 0M664.4 250.9a2.3 2.3 0 1 0 4.6 0a2.3 2.3 0 1 0-4.6 0M625.3 289.8a2.3 2.3 0 1 0 4.6 0a2.3 2.3 0 1 0-4.6 0M511.4 384.1a2.3 2.3 0 1 0 4.6 0a2.3 2.3 0 1 0-4.6 0M611.8 304.9a2.3 2.3 0 1 0 4.6 0a2.3 2.3 0 1 0-4.6 0M570.7 335.3a2.3 2.3 0 1 0 4.6 0a2.3 2.3 0 1 0-4.6 0M511.1 409.9a2.3 2.3 0 1 0 4.6 0a2.3 2.3 0 1 0-4.6 0M517.4 388.9a2.3 2.3 0 1 0 4.6 0a2.3 2.3 0 1 0-4.6 0M613.4 300.8a2.3 2.3 0 1 0 4.6 0a2.3 2.3 0 1 0-4.6 0M526.3 383.9a2.3 2.3 0 1 0 4.6 0a2.3 2.3 0 1 0-4.6 0M581.0 336.9a2.3 2.3 0 1 0 4.6 0a2.3 2.3 0 1 0-4.6 0M611.3 299.3a2.3 2.3 0 1 0 4.6 0a2.3 2.3 0 1 0-4.6 0M592.9 320.1a2.3 2.3 0 1 0 4.6 0a2.3 2.3 0 1 0-4.6 0M552.2 361.9a2.3 2.3 0 1 0 4.6 0a2.3 2.3 0 1 0-4.6 0M608.9 300.5a2.3 2.3 0 1 0 4.6 0a2.3 2.3 0 1 0-4.6 0M618.2 295.5a2.3 2.3 0 1 0 4.6 0a2.3 2.3 0 1 0-4.6 0M582.7 336.2a2.3 2.3 0 1 0 4.6 0a2.3 2.3 0 1 0-4.6 0M511.8 389.1a2.3 2.3 0 1 0 4.6 0a2.3 2.3 0 1 0-4.6 0M519.2 375.3a2.3 2.3 0 1 0 4.6 0a2.3 2.3 0 1 0-4.6 0M640.8 266.2a2.3 2.3 0 1 0 4.6 0a2.3 2.3 0 1 0-4.6 0M562.9 339.7a2.3 2.3 0 1 0 4.6 0a2.3 2.3 0 1 0-4.6 0M518.0 388.9a2.3 2.3 0 1 0 4.6 0a2.3 2.3 0 1 0-4.6 0M526.8 379.1a2.3 2.3 0 1 0 4.6 0a2.3 2.3 0 1 0-4.6 0M558.4 342.4a2.3 2.3 0 1 0 4.6 0a2.3 2.3 0 1 0-4.6 0M547.2 362.5a2.3 2.3 0 1 0 4.6 0a2.3 2.3 0 1 0-4.6 0M526.2 376.7a2.3 2.3 0 1 0 4.6 0a2.3 2.3 0 1 0-4.6 0M655.2 260.4a2.3 2.3 0 1 0 4.6 0a2.3 2.3 0 1 0-4.6 0M516.0 392.0a2.3 2.3 0 1 0 4.6 0a2.3 2.3 0 1 0-4.6 0M624.6 283.8a2.3 2.3 0 1 0 4.6 0a2.3 2.3 0 1 0-4.6 0M613.8 290.9a2.3 2.3 0 1 0 4.6 0a2.3 2.3 0 1 0-4.6 0M554.2 362.1a2.3 2.3 0 1 0 4.6 0a2.3 2.3 0 1 0-4.6 0M539.5 371.0a2.3 2.3 0 1 0 4.6 0a2.3 2.3 0 1 0-4.6 0M521.6 389.6a2.3 2.3 0 1 0 4.6 0a2.3 2.3 0 1 0-4.6 0M540.0 368.9a2.3 2.3 0 1 0 4.6 0a2.3 2.3 0 1 0-4.6 0M548.9 363.3a2.3 2.3 0 1 0 4.6 0a2.3 2.3 0 1 0-4.6 0M529.7 380.7a2.3 2.3 0 1 0 4.6 0a2.3 2.3 0 1 0-4.6 0M641.3 262.7a2.3 2.3 0 1 0 4.6 0a2.3 2.3 0 1 0-4.6 0M511.6 408.5a2.3 2.3 0 1 0 4.6 0a2.3 2.3 0 1 0-4.6 0M519.1 386.1a2.3 2.3 0 1 0 4.6 0a2.3 2.3 0 1 0-4.6 0M558.3 349.9a2.3 2.3 0 1 0 4.6 0a2.3 2.3 0 1 0-4.6 0M535.8 366.6a2.3 2.3 0 1 0 4.6 0a2.3 2.3 0 1 0-4.6 0M548.4 357.0a2.3 2.3 0 1 0 4.6 0a2.3 2.3 0 1 0-4.6 0M548.0 359.7a2.3 2.3 0 1 0 4.6 0a2.3 2.3 0 1 0-4.6 0M532.3 366.7a2.3 2.3 0 1 0 4.6 0a2.3 2.3 0 1 0-4.6 0M535.9 373.1a2.3 2.3 0 1 0 4.6 0a2.3 2.3 0 1 0-4.6 0M553.6 357.5a2.3 2.3 0 1 0 4.6 0a2.3 2.3 0 1 0-4.6 0M644.6 270.5a2.3 2.3 0 1 0 4.6 0a2.3 2.3 0 1 0-4.6 0M648.9 262.4a2.3 2.3 0 1 0 4.6 0a2.3 2.3 0 1 0-4.6 0M511.9 405.9a2.3 2.3 0 1 0 4.6 0a2.3 2.3 0 1 0-4.6 0M566.1 341.0a2.3 2.3 0 1 0 4.6 0a2.3 2.3 0 1 0-4.6 0M551.8 347.1a2.3 2.3 0 1 0 4.6 0a2.3 2.3 0 1 0-4.6 0M546.4 354.1a2.3 2.3 0 1 0 4.6 0a2.3 2.3 0 1 0-4.6 0M562.5 349.2a2.3 2.3 0 1 0 4.6 0a2.3 2.3 0 1 0-4.6 0M592.3 319.6a2.3 2.3 0 1 0 4.6 0a2.3 2.3 0 1 0-4.6 0M650.9 266.2a2.3 2.3 0 1 0 4.6 0a2.3 2.3 0 1 0-4.6 0M511.8 398.9a2.3 2.3 0 1 0 4.6 0a2.3 2.3 0 1 0-4.6 0M526.6 376.5a2.3 2.3 0 1 0 4.6 0a2.3 2.3 0 1 0-4.6 0M519.0 391.2a2.3 2.3 0 1 0 4.6 0a2.3 2.3 0 1 0-4.6 0M591.3 322.6a2.3 2.3 0 1 0 4.6 0a2.3 2.3 0 1 0-4.6 0M511.8 406.7a2.3 2.3 0 1 0 4.6 0a2.3 2.3 0 1 0-4.6 0M523.0 386.7a2.3 2.3 0 1 0 4.6 0a2.3 2.3 0 1 0-4.6 0M597.1 318.3a2.3 2.3 0 1 0 4.6 0a2.3 2.3 0 1 0-4.6 0M531.2 378.8a2.3 2.3 0 1 0 4.6 0a2.3 2.3 0 1 0-4.6 0M568.4 337.7a2.3 2.3 0 1 0 4.6 0a2.3 2.3 0 1 0-4.6 0M560.9 358.8a2.3 2.3 0 1 0 4.6 0a2.3 2.3 0 1 0-4.6 0M511.6 397.2a2.3 2.3 0 1 0 4.6 0a2.3 2.3 0 1 0-4.6 0M552.4 358.9a2.3 2.3 0 1 0 4.6 0a2.3 2.3 0 1 0-4.6 0M539.7 366.9a2.3 2.3 0 1 0 4.6 0a2.3 2.3 0 1 0-4.6 0M561.2 345.1a2.3 2.3 0 1 0 4.6 0a2.3 2.3 0 1 0-4.6 0M563.6 352.2a2.3 2.3 0 1 0 4.6 0a2.3 2.3 0 1 0-4.6 0M581.6 333.0a2.3 2.3 0 1 0 4.6 0a2.3 2.3 0 1 0-4.6 0M591.1 320.8a2.3 2.3 0 1 0 4.6 0a2.3 2.3 0 1 0-4.6 0M572.3 336.7a2.3 2.3 0 1 0 4.6 0a2.3 2.3 0 1 0-4.6 0M604.8 311.5a2.3 2.3 0 1 0 4.6 0a2.3 2.3 0 1 0-4.6 0M623.8 282.7a2.3 2.3 0 1 0 4.6 0a2.3 2.3 0 1 0-4.6 0M661.7 251.0a2.3 2.3 0 1 0 4.6 0a2.3 2.3 0 1 0-4.6 0M545.7 355.6a2.3 2.3 0 1 0 4.6 0a2.3 2.3 0 1 0-4.6 0M579.6 338.9a2.3 2.3 0 1 0 4.6 0a2.3 2.3 0 1 0-4.6 0M537.7 360.6a2.3 2.3 0 1 0 4.6 0a2.3 2.3 0 1 0-4.6 0M511.3 383.8a2.3 2.3 0 1 0 4.6 0a2.3 2.3 0 1 0-4.6 0M518.6 384.6a2.3 2.3 0 1 0 4.6 0a2.3 2.3 0 1 0-4.6 0M535.8 365.5a2.3 2.3 0 1 0 4.6 0a2.3 2.3 0 1 0-4.6 0M589.7 326.1a2.3 2.3 0 1 0 4.6 0a2.3 2.3 0 1 0-4.6 0M531.1 377.4a2.3 2.3 0 1 0 4.6 0a2.3 2.3 0 1 0-4.6 0M598.8 316.4a2.3 2.3 0 1 0 4.6 0a2.3 2.3 0 1 0-4.6 0M515.9 380.9a2.3 2.3 0 1 0 4.6 0a2.3 2.3 0 1 0-4.6 0M526.2 379.7a2.3 2.3 0 1 0 4.6 0a2.3 2.3 0 1 0-4.6 0M625.3 276.9a2.3 2.3 0 1 0 4.6 0a2.3 2.3 0 1 0-4.6 0M532.5 365.9a2.3 2.3 0 1 0 4.6 0a2.3 2.3 0 1 0-4.6 0M624.6 291.2a2.3 2.3 0 1 0 4.6 0a2.3 2.3 0 1 0-4.6 0M536.4 376.1a2.3 2.3 0 1 0 4.6 0a2.3 2.3 0 1 0-4.6 0M554.5 350.1a2.3 2.3 0 1 0 4.6 0a2.3 2.3 0 1 0-4.6 0M530.2 373.3a2.3 2.3 0 1 0 4.6 0a2.3 2.3 0 1 0-4.6 0M523.0 385.2a2.3 2.3 0 1 0 4.6 0a2.3 2.3 0 1 0-4.6 0M576.7 344.2a2.3 2.3 0 1 0 4.6 0a2.3 2.3 0 1 0-4.6 0M536.2 361.5a2.3 2.3 0 1 0 4.6 0a2.3 2.3 0 1 0-4.6 0M651.3 261.1a2.3 2.3 0 1 0 4.6 0a2.3 2.3 0 1 0-4.6 0M530.4 377.5a2.3 2.3 0 1 0 4.6 0a2.3 2.3 0 1 0-4.6 0M526.5 378.3a2.3 2.3 0 1 0 4.6 0a2.3 2.3 0 1 0-4.6 0M532.8 374.4a2.3 2.3 0 1 0 4.6 0a2.3 2.3 0 1 0-4.6 0M553.9 355.9a2.3 2.3 0 1 0 4.6 0a2.3 2.3 0 1 0-4.6 0M560.4 351.5a2.3 2.3 0 1 0 4.6 0a2.3 2.3 0 1 0-4.6 0M571.4 345.1a2.3 2.3 0 1 0 4.6 0a2.3 2.3 0 1 0-4.6 0M590.3 326.5a2.3 2.3 0 1 0 4.6 0a2.3 2.3 0 1 0-4.6 0M511.6 408.9a2.3 2.3 0 1 0 4.6 0a2.3 2.3 0 1 0-4.6 0M525.4 386.1a2.3 2.3 0 1 0 4.6 0a2.3 2.3 0 1 0-4.6 0M602.3 310.9a2.3 2.3 0 1 0 4.6 0a2.3 2.3 0 1 0-4.6 0M543.9 364.8a2.3 2.3 0 1 0 4.6 0a2.3 2.3 0 1 0-4.6 0M587.3 329.4a2.3 2.3 0 1 0 4.6 0a2.3 2.3 0 1 0-4.6 0M570.7 337.4a2.3 2.3 0 1 0 4.6 0a2.3 2.3 0 1 0-4.6 0M618.8 299.6a2.3 2.3 0 1 0 4.6 0a2.3 2.3 0 1 0-4.6 0M573.9 326.5a2.3 2.3 0 1 0 4.6 0a2.3 2.3 0 1 0-4.6 0M586.0 322.5a2.3 2.3 0 1 0 4.6 0a2.3 2.3 0 1 0-4.6 0M519.5 387.3a2.3 2.3 0 1 0 4.6 0a2.3 2.3 0 1 0-4.6 0M549.9 361.1a2.3 2.3 0 1 0 4.6 0a2.3 2.3 0 1 0-4.6 0M519.9 388.1a2.3 2.3 0 1 0 4.6 0a2.3 2.3 0 1 0-4.6 0M656.5 258.1a2.3 2.3 0 1 0 4.6 0a2.3 2.3 0 1 0-4.6 0M549.8 356.4a2.3 2.3 0 1 0 4.6 0a2.3 2.3 0 1 0-4.6 0M524.5 381.1a2.3 2.3 0 1 0 4.6 0a2.3 2.3 0 1 0-4.6 0M511.6 393.3a2.3 2.3 0 1 0 4.6 0a2.3 2.3 0 1 0-4.6 0M550.3 361.4a2.3 2.3 0 1 0 4.6 0a2.3 2.3 0 1 0-4.6 0M597.7 311.7a2.3 2.3 0 1 0 4.6 0a2.3 2.3 0 1 0-4.6 0M518.6 382.2a2.3 2.3 0 1 0 4.6 0a2.3 2.3 0 1 0-4.6 0M626.0 287.4a2.3 2.3 0 1 0 4.6 0a2.3 2.3 0 1 0-4.6 0M534.5 375.0a2.3 2.3 0 1 0 4.6 0a2.3 2.3 0 1 0-4.6 0M550.5 352.0a2.3 2.3 0 1 0 4.6 0a2.3 2.3 0 1 0-4.6 0M660.9 250.4a2.3 2.3 0 1 0 4.6 0a2.3 2.3 0 1 0-4.6 0M535.5 372.6a2.3 2.3 0 1 0 4.6 0a2.3 2.3 0 1 0-4.6 0M599.2 308.9a2.3 2.3 0 1 0 4.6 0a2.3 2.3 0 1 0-4.6 0M611.8 303.2a2.3 2.3 0 1 0 4.6 0a2.3 2.3 0 1 0-4.6 0M583.1 333.2a2.3 2.3 0 1 0 4.6 0a2.3 2.3 0 1 0-4.6 0M511.6 391.5a2.3 2.3 0 1 0 4.6 0a2.3 2.3 0 1 0-4.6 0M545.1 355.4a2.3 2.3 0 1 0 4.6 0a2.3 2.3 0 1 0-4.6 0M546.1 367.8a2.3 2.3 0 1 0 4.6 0a2.3 2.3 0 1 0-4.6 0M612.0 300.2a2.3 2.3 0 1 0 4.6 0a2.3 2.3 0 1 0-4.6 0M540.3 362.5a2.3 2.3 0 1 0 4.6 0a2.3 2.3 0 1 0-4.6 0M522.9 374.6a2.3 2.3 0 1 0 4.6 0a2.3 2.3 0 1 0-4.6 0M545.7 365.7a2.3 2.3 0 1 0 4.6 0a2.3 2.3 0 1 0-4.6 0M511.6 405.3a2.3 2.3 0 1 0 4.6 0a2.3 2.3 0 1 0-4.6 0M567.2 339.7a2.3 2.3 0 1 0 4.6 0a2.3 2.3 0 1 0-4.6 0M531.4 363.1a2.3 2.3 0 1 0 4.6 0a2.3 2.3 0 1 0-4.6 0M596.8 310.3a2.3 2.3 0 1 0 4.6 0a2.3 2.3 0 1 0-4.6 0M574.9 333.7a2.3 2.3 0 1 0 4.6 0a2.3 2.3 0 1 0-4.6 0M578.2 332.9a2.3 2.3 0 1 0 4.6 0a2.3 2.3 0 1 0-4.6 0M545.5 367.7a2.3 2.3 0 1 0 4.6 0a2.3 2.3 0 1 0-4.6 0M516.8 392.9a2.3 2.3 0 1 0 4.6 0a2.3 2.3 0 1 0-4.6 0M542.1 371.4a2.3 2.3 0 1 0 4.6 0a2.3 2.3 0 1 0-4.6 0M662.0 248.0a2.3 2.3 0 1 0 4.6 0a2.3 2.3 0 1 0-4.6 0M574.0 342.3a2.3 2.3 0 1 0 4.6 0a2.3 2.3 0 1 0-4.6 0M659.6 258.2a2.3 2.3 0 1 0 4.6 0a2.3 2.3 0 1 0-4.6 0M577.0 337.3a2.3 2.3 0 1 0 4.6 0a2.3 2.3 0 1 0-4.6 0M554.6 360.6a2.3 2.3 0 1 0 4.6 0a2.3 2.3 0 1 0-4.6 0M568.4 332.3a2.3 2.3 0 1 0 4.6 0a2.3 2.3 0 1 0-4.6 0M586.2 321.3a2.3 2.3 0 1 0 4.6 0a2.3 2.3 0 1 0-4.6 0M541.5 354.0a2.3 2.3 0 1 0 4.6 0a2.3 2.3 0 1 0-4.6 0M538.6 374.2a2.3 2.3 0 1 0 4.6 0a2.3 2.3 0 1 0-4.6 0M519.9 389.0a2.3 2.3 0 1 0 4.6 0a2.3 2.3 0 1 0-4.6 0M521.7 383.1a2.3 2.3 0 1 0 4.6 0a2.3 2.3 0 1 0-4.6 0M522.6 376.1a2.3 2.3 0 1 0 4.6 0a2.3 2.3 0 1 0-4.6 0M553.2 352.2a2.3 2.3 0 1 0 4.6 0a2.3 2.3 0 1 0-4.6 0M613.0 304.8a2.3 2.3 0 1 0 4.6 0a2.3 2.3 0 1 0-4.6 0M543.4 365.0a2.3 2.3 0 1 0 4.6 0a2.3 2.3 0 1 0-4.6 0M573.8 339.5a2.3 2.3 0 1 0 4.6 0a2.3 2.3 0 1 0-4.6 0M511.7 407.0a2.3 2.3 0 1 0 4.6 0a2.3 2.3 0 1 0-4.6 0M523.1 389.3a2.3 2.3 0 1 0 4.6 0a2.3 2.3 0 1 0-4.6 0M517.4 382.8a2.3 2.3 0 1 0 4.6 0a2.3 2.3 0 1 0-4.6 0M649.7 259.9a2.3 2.3 0 1 0 4.6 0a2.3 2.3 0 1 0-4.6 0M556.7 355.5a2.3 2.3 0 1 0 4.6 0a2.3 2.3 0 1 0-4.6 0M616.3 298.0a2.3 2.3 0 1 0 4.6 0a2.3 2.3 0 1 0-4.6 0M566.6 328.9a2.3 2.3 0 1 0 4.6 0a2.3 2.3 0 1 0-4.6 0M532.7 370.1a2.3 2.3 0 1 0 4.6 0a2.3 2.3 0 1 0-4.6 0M551.3 361.6a2.3 2.3 0 1 0 4.6 0a2.3 2.3 0 1 0-4.6 0M559.1 353.3a2.3 2.3 0 1 0 4.6 0a2.3 2.3 0 1 0-4.6 0M636.3 273.9a2.3 2.3 0 1 0 4.6 0a2.3 2.3 0 1 0-4.6 0M511.4 407.7a2.3 2.3 0 1 0 4.6 0a2.3 2.3 0 1 0-4.6 0M578.4 341.9a2.3 2.3 0 1 0 4.6 0a2.3 2.3 0 1 0-4.6 0M621.3 289.6a2.3 2.3 0 1 0 4.6 0a2.3 2.3 0 1 0-4.6 0M589.7 325.0a2.3 2.3 0 1 0 4.6 0a2.3 2.3 0 1 0-4.6 0M646.9 266.6a2.3 2.3 0 1 0 4.6 0a2.3 2.3 0 1 0-4.6 0M527.7 384.7a2.3 2.3 0 1 0 4.6 0a2.3 2.3 0 1 0-4.6 0M594.3 311.4a2.3 2.3 0 1 0 4.6 0a2.3 2.3 0 1 0-4.6 0M546.6 355.9a2.3 2.3 0 1 0 4.6 0a2.3 2.3 0 1 0-4.6 0M536.7 376.5a2.3 2.3 0 1 0 4.6 0a2.3 2.3 0 1 0-4.6 0M585.5 324.5a2.3 2.3 0 1 0 4.6 0a2.3 2.3 0 1 0-4.6 0M579.4 329.8a2.3 2.3 0 1 0 4.6 0a2.3 2.3 0 1 0-4.6 0M562.3 351.3a2.3 2.3 0 1 0 4.6 0a2.3 2.3 0 1 0-4.6 0M648.9 269.6a2.3 2.3 0 1 0 4.6 0a2.3 2.3 0 1 0-4.6 0M579.8 338.1a2.3 2.3 0 1 0 4.6 0a2.3 2.3 0 1 0-4.6 0M511.5 383.7a2.3 2.3 0 1 0 4.6 0a2.3 2.3 0 1 0-4.6 0M511.4 396.8a2.3 2.3 0 1 0 4.6 0a2.3 2.3 0 1 0-4.6 0M543.3 369.2a2.3 2.3 0 1 0 4.6 0a2.3 2.3 0 1 0-4.6 0M570.7 342.6a2.3 2.3 0 1 0 4.6 0a2.3 2.3 0 1 0-4.6 0M621.8 288.6a2.3 2.3 0 1 0 4.6 0a2.3 2.3 0 1 0-4.6 0M525.5 374.7a2.3 2.3 0 1 0 4.6 0a2.3 2.3 0 1 0-4.6 0M656.9 258.8a2.3 2.3 0 1 0 4.6 0a2.3 2.3 0 1 0-4.6 0M542.1 370.2a2.3 2.3 0 1 0 4.6 0a2.3 2.3 0 1 0-4.6 0M541.1 363.2a2.3 2.3 0 1 0 4.6 0a2.3 2.3 0 1 0-4.6 0M530.8 370.8a2.3 2.3 0 1 0 4.6 0a2.3 2.3 0 1 0-4.6 0M527.8 383.5a2.3 2.3 0 1 0 4.6 0a2.3 2.3 0 1 0-4.6 0M549.0 367.5a2.3 2.3 0 1 0 4.6 0a2.3 2.3 0 1 0-4.6 0M544.5 357.1a2.3 2.3 0 1 0 4.6 0a2.3 2.3 0 1 0-4.6 0M511.5 405.5a2.3 2.3 0 1 0 4.6 0a2.3 2.3 0 1 0-4.6 0M610.3 307.0a2.3 2.3 0 1 0 4.6 0a2.3 2.3 0 1 0-4.6 0M650.6 260.6a2.3 2.3 0 1 0 4.6 0a2.3 2.3 0 1 0-4.6 0M596.5 315.2a2.3 2.3 0 1 0 4.6 0a2.3 2.3 0 1 0-4.6 0M560.0 346.8a2.3 2.3 0 1 0 4.6 0a2.3 2.3 0 1 0-4.6 0M576.0 330.5a2.3 2.3 0 1 0 4.6 0a2.3 2.3 0 1 0-4.6 0M541.1 353.0a2.3 2.3 0 1 0 4.6 0a2.3 2.3 0 1 0-4.6 0M531.1 372.1a2.3 2.3 0 1 0 4.6 0a2.3 2.3 0 1 0-4.6 0M647.3 256.9a2.3 2.3 0 1 0 4.6 0a2.3 2.3 0 1 0-4.6 0M525.7 378.4a2.3 2.3 0 1 0 4.6 0a2.3 2.3 0 1 0-4.6 0M552.7 355.1a2.3 2.3 0 1 0 4.6 0a2.3 2.3 0 1 0-4.6 0M562.6 345.1a2.3 2.3 0 1 0 4.6 0a2.3 2.3 0 1 0-4.6 0M634.7 281.2a2.3 2.3 0 1 0 4.6 0a2.3 2.3 0 1 0-4.6 0M525.3 379.5a2.3 2.3 0 1 0 4.6 0a2.3 2.3 0 1 0-4.6 0M559.6 353.4a2.3 2.3 0 1 0 4.6 0a2.3 2.3 0 1 0-4.6 0M540.5 374.1a2.3 2.3 0 1 0 4.6 0a2.3 2.3 0 1 0-4.6 0M559.9 354.4a2.3 2.3 0 1 0 4.6 0a2.3 2.3 0 1 0-4.6 0M534.5 362.9a2.3 2.3 0 1 0 4.6 0a2.3 2.3 0 1 0-4.6 0M627.9 281.5a2.3 2.3 0 1 0 4.6 0a2.3 2.3 0 1 0-4.6 0M558.4 350.7a2.3 2.3 0 1 0 4.6 0a2.3 2.3 0 1 0-4.6 0M587.9 326.6a2.3 2.3 0 1 0 4.6 0a2.3 2.3 0 1 0-4.6 0M517.7 375.4a2.3 2.3 0 1 0 4.6 0a2.3 2.3 0 1 0-4.6 0M520.0 384.6a2.3 2.3 0 1 0 4.6 0a2.3 2.3 0 1 0-4.6 0M534.4 347.9a2.3 2.3 0 1 0 4.6 0a2.3 2.3 0 1 0-4.6 0M531.4 380.9a2.3 2.3 0 1 0 4.6 0a2.3 2.3 0 1 0-4.6 0M557.5 356.8a2.3 2.3 0 1 0 4.6 0a2.3 2.3 0 1 0-4.6 0M511.5 403.3a2.3 2.3 0 1 0 4.6 0a2.3 2.3 0 1 0-4.6 0M524.4 385.7a2.3 2.3 0 1 0 4.6 0a2.3 2.3 0 1 0-4.6 0M517.6 393.5a2.3 2.3 0 1 0 4.6 0a2.3 2.3 0 1 0-4.6 0M539.1 359.0a2.3 2.3 0 1 0 4.6 0a2.3 2.3 0 1 0-4.6 0M556.9 346.0a2.3 2.3 0 1 0 4.6 0a2.3 2.3 0 1 0-4.6 0M518.5 388.9a2.3 2.3 0 1 0 4.6 0a2.3 2.3 0 1 0-4.6 0M525.5 381.2a2.3 2.3 0 1 0 4.6 0a2.3 2.3 0 1 0-4.6 0M548.5 348.8a2.3 2.3 0 1 0 4.6 0a2.3 2.3 0 1 0-4.6 0M523.9 381.1a2.3 2.3 0 1 0 4.6 0a2.3 2.3 0 1 0-4.6 0M649.4 268.6a2.3 2.3 0 1 0 4.6 0a2.3 2.3 0 1 0-4.6 0M531.5 376.1a2.3 2.3 0 1 0 4.6 0a2.3 2.3 0 1 0-4.6 0M569.7 347.5a2.3 2.3 0 1 0 4.6 0a2.3 2.3 0 1 0-4.6 0M554.3 347.3a2.3 2.3 0 1 0 4.6 0a2.3 2.3 0 1 0-4.6 0M574.4 316.8a2.3 2.3 0 1 0 4.6 0a2.3 2.3 0 1 0-4.6 0M610.9 304.9a2.3 2.3 0 1 0 4.6 0a2.3 2.3 0 1 0-4.6 0M595.6 322.7a2.3 2.3 0 1 0 4.6 0a2.3 2.3 0 1 0-4.6 0M558.0 349.4a2.3 2.3 0 1 0 4.6 0a2.3 2.3 0 1 0-4.6 0M570.4 335.9a2.3 2.3 0 1 0 4.6 0a2.3 2.3 0 1 0-4.6 0M538.5 367.8a2.3 2.3 0 1 0 4.6 0a2.3 2.3 0 1 0-4.6 0M549.7 357.9a2.3 2.3 0 1 0 4.6 0a2.3 2.3 0 1 0-4.6 0M522.4 370.3a2.3 2.3 0 1 0 4.6 0a2.3 2.3 0 1 0-4.6 0M583.5 333.0a2.3 2.3 0 1 0 4.6 0a2.3 2.3 0 1 0-4.6 0M547.8 362.6a2.3 2.3 0 1 0 4.6 0a2.3 2.3 0 1 0-4.6 0M640.8 271.4a2.3 2.3 0 1 0 4.6 0a2.3 2.3 0 1 0-4.6 0M511.6 391.4a2.3 2.3 0 1 0 4.6 0a2.3 2.3 0 1 0-4.6 0M618.6 295.7a2.3 2.3 0 1 0 4.6 0a2.3 2.3 0 1 0-4.6 0M589.0 323.5a2.3 2.3 0 1 0 4.6 0a2.3 2.3 0 1 0-4.6 0M536.0 378.0a2.3 2.3 0 1 0 4.6 0a2.3 2.3 0 1 0-4.6 0M511.7 394.8a2.3 2.3 0 1 0 4.6 0a2.3 2.3 0 1 0-4.6 0M557.6 358.7a2.3 2.3 0 1 0 4.6 0a2.3 2.3 0 1 0-4.6 0M530.9 376.2a2.3 2.3 0 1 0 4.6 0a2.3 2.3 0 1 0-4.6 0M620.4 281.3a2.3 2.3 0 1 0 4.6 0a2.3 2.3 0 1 0-4.6 0M520.3 392.8a2.3 2.3 0 1 0 4.6 0a2.3 2.3 0 1 0-4.6 0M623.2 292.0a2.3 2.3 0 1 0 4.6 0a2.3 2.3 0 1 0-4.6 0M527.3 373.4a2.3 2.3 0 1 0 4.6 0a2.3 2.3 0 1 0-4.6 0M633.8 277.0a2.3 2.3 0 1 0 4.6 0a2.3 2.3 0 1 0-4.6 0M635.0 278.5a2.3 2.3 0 1 0 4.6 0a2.3 2.3 0 1 0-4.6 0M645.7 271.4a2.3 2.3 0 1 0 4.6 0a2.3 2.3 0 1 0-4.6 0M511.4 400.1a2.3 2.3 0 1 0 4.6 0a2.3 2.3 0 1 0-4.6 0M539.0 369.2a2.3 2.3 0 1 0 4.6 0a2.3 2.3 0 1 0-4.6 0M581.1 338.9a2.3 2.3 0 1 0 4.6 0a2.3 2.3 0 1 0-4.6 0M548.7 364.7a2.3 2.3 0 1 0 4.6 0a2.3 2.3 0 1 0-4.6 0M529.8 369.8a2.3 2.3 0 1 0 4.6 0a2.3 2.3 0 1 0-4.6 0M584.7 331.8a2.3 2.3 0 1 0 4.6 0a2.3 2.3 0 1 0-4.6 0M655.2 260.5a2.3 2.3 0 1 0 4.6 0a2.3 2.3 0 1 0-4.6 0M511.8 383.9a2.3 2.3 0 1 0 4.6 0a2.3 2.3 0 1 0-4.6 0M585.9 331.0a2.3 2.3 0 1 0 4.6 0a2.3 2.3 0 1 0-4.6 0M594.0 315.9a2.3 2.3 0 1 0 4.6 0a2.3 2.3 0 1 0-4.6 0M597.6 317.6a2.3 2.3 0 1 0 4.6 0a2.3 2.3 0 1 0-4.6 0M563.7 353.0a2.3 2.3 0 1 0 4.6 0a2.3 2.3 0 1 0-4.6 0M542.9 370.7a2.3 2.3 0 1 0 4.6 0a2.3 2.3 0 1 0-4.6 0M520.8 388.7a2.3 2.3 0 1 0 4.6 0a2.3 2.3 0 1 0-4.6 0M511.6 409.2a2.3 2.3 0 1 0 4.6 0a2.3 2.3 0 1 0-4.6 0M604.1 312.4a2.3 2.3 0 1 0 4.6 0a2.3 2.3 0 1 0-4.6 0M521.5 385.5a2.3 2.3 0 1 0 4.6 0a2.3 2.3 0 1 0-4.6 0M611.0 299.7a2.3 2.3 0 1 0 4.6 0a2.3 2.3 0 1 0-4.6 0M561.3 335.6a2.3 2.3 0 1 0 4.6 0a2.3 2.3 0 1 0-4.6 0M668.1 247.0a2.3 2.3 0 1 0 4.6 0a2.3 2.3 0 1 0-4.6 0M564.2 345.0a2.3 2.3 0 1 0 4.6 0a2.3 2.3 0 1 0-4.6 0M511.4 402.3a2.3 2.3 0 1 0 4.6 0a2.3 2.3 0 1 0-4.6 0M620.8 295.0a2.3 2.3 0 1 0 4.6 0a2.3 2.3 0 1 0-4.6 0M580.2 325.2a2.3 2.3 0 1 0 4.6 0a2.3 2.3 0 1 0-4.6 0M606.6 304.3a2.3 2.3 0 1 0 4.6 0a2.3 2.3 0 1 0-4.6 0M526.2 381.4a2.3 2.3 0 1 0 4.6 0a2.3 2.3 0 1 0-4.6 0M603.3 312.1a2.3 2.3 0 1 0 4.6 0a2.3 2.3 0 1 0-4.6 0M548.2 353.6a2.3 2.3 0 1 0 4.6 0a2.3 2.3 0 1 0-4.6 0M518.2 389.0a2.3 2.3 0 1 0 4.6 0a2.3 2.3 0 1 0-4.6 0M541.4 363.0a2.3 2.3 0 1 0 4.6 0a2.3 2.3 0 1 0-4.6 0M597.5 317.5a2.3 2.3 0 1 0 4.6 0a2.3 2.3 0 1 0-4.6 0M521.9 378.5a2.3 2.3 0 1 0 4.6 0a2.3 2.3 0 1 0-4.6 0M535.5 379.4a2.3 2.3 0 1 0 4.6 0a2.3 2.3 0 1 0-4.6 0M552.7 355.8a2.3 2.3 0 1 0 4.6 0a2.3 2.3 0 1 0-4.6 0M563.1 350.0a2.3 2.3 0 1 0 4.6 0a2.3 2.3 0 1 0-4.6 0M660.8 255.5a2.3 2.3 0 1 0 4.6 0a2.3 2.3 0 1 0-4.6 0M611.1 301.9a2.3 2.3 0 1 0 4.6 0a2.3 2.3 0 1 0-4.6 0M555.8 354.4a2.3 2.3 0 1 0 4.6 0a2.3 2.3 0 1 0-4.6 0M558.6 349.5a2.3 2.3 0 1 0 4.6 0a2.3 2.3 0 1 0-4.6 0M615.0 294.4a2.3 2.3 0 1 0 4.6 0a2.3 2.3 0 1 0-4.6 0M544.0 369.6a2.3 2.3 0 1 0 4.6 0a2.3 2.3 0 1 0-4.6 0M543.1 368.5a2.3 2.3 0 1 0 4.6 0a2.3 2.3 0 1 0-4.6 0M635.9 277.0a2.3 2.3 0 1 0 4.6 0a2.3 2.3 0 1 0-4.6 0M543.2 359.2a2.3 2.3 0 1 0 4.6 0a2.3 2.3 0 1 0-4.6 0M566.5 348.4a2.3 2.3 0 1 0 4.6 0a2.3 2.3 0 1 0-4.6 0M515.8 387.6a2.3 2.3 0 1 0 4.6 0a2.3 2.3 0 1 0-4.6 0M511.5 409.4a2.3 2.3 0 1 0 4.6 0a2.3 2.3 0 1 0-4.6 0M549.3 365.1a2.3 2.3 0 1 0 4.6 0a2.3 2.3 0 1 0-4.6 0M599.1 317.6a2.3 2.3 0 1 0 4.6 0a2.3 2.3 0 1 0-4.6 0M562.9 353.4a2.3 2.3 0 1 0 4.6 0a2.3 2.3 0 1 0-4.6 0M593.0 319.8a2.3 2.3 0 1 0 4.6 0a2.3 2.3 0 1 0-4.6 0M629.9 279.7a2.3 2.3 0 1 0 4.6 0a2.3 2.3 0 1 0-4.6 0M511.8 407.8a2.3 2.3 0 1 0 4.6 0a2.3 2.3 0 1 0-4.6 0M527.3 373.7a2.3 2.3 0 1 0 4.6 0a2.3 2.3 0 1 0-4.6 0M565.4 351.5a2.3 2.3 0 1 0 4.6 0a2.3 2.3 0 1 0-4.6 0M554.4 333.5a2.3 2.3 0 1 0 4.6 0a2.3 2.3 0 1 0-4.6 0M547.6 361.7a2.3 2.3 0 1 0 4.6 0a2.3 2.3 0 1 0-4.6 0M635.6 276.6a2.3 2.3 0 1 0 4.6 0a2.3 2.3 0 1 0-4.6 0M520.7 353.4a2.3 2.3 0 1 0 4.6 0a2.3 2.3 0 1 0-4.6 0M628.5 285.8a2.3 2.3 0 1 0 4.6 0a2.3 2.3 0 1 0-4.6 0M592.6 308.4a2.3 2.3 0 1 0 4.6 0a2.3 2.3 0 1 0-4.6 0M531.0 366.9a2.3 2.3 0 1 0 4.6 0a2.3 2.3 0 1 0-4.6 0M602.6 319.9a2.3 2.3 0 1 0 4.6 0a2.3 2.3 0 1 0-4.6 0M573.9 336.3a2.3 2.3 0 1 0 4.6 0a2.3 2.3 0 1 0-4.6 0M542.1 350.1a2.3 2.3 0 1 0 4.6 0a2.3 2.3 0 1 0-4.6 0M554.0 357.0a2.3 2.3 0 1 0 4.6 0a2.3 2.3 0 1 0-4.6 0M560.2 346.2a2.3 2.3 0 1 0 4.6 0a2.3 2.3 0 1 0-4.6 0M612.2 298.9a2.3 2.3 0 1 0 4.6 0a2.3 2.3 0 1 0-4.6 0M538.2 366.8a2.3 2.3 0 1 0 4.6 0a2.3 2.3 0 1 0-4.6 0M533.3 365.3a2.3 2.3 0 1 0 4.6 0a2.3 2.3 0 1 0-4.6 0M611.4 308.1a2.3 2.3 0 1 0 4.6 0a2.3 2.3 0 1 0-4.6 0M538.9 366.0a2.3 2.3 0 1 0 4.6 0a2.3 2.3 0 1 0-4.6 0M617.5 287.3a2.3 2.3 0 1 0 4.6 0a2.3 2.3 0 1 0-4.6 0M642.1 275.6a2.3 2.3 0 1 0 4.6 0a2.3 2.3 0 1 0-4.6 0M546.7 358.5a2.3 2.3 0 1 0 4.6 0a2.3 2.3 0 1 0-4.6 0M578.5 338.4a2.3 2.3 0 1 0 4.6 0a2.3 2.3 0 1 0-4.6 0M551.1 355.1a2.3 2.3 0 1 0 4.6 0a2.3 2.3 0 1 0-4.6 0M614.5 299.3a2.3 2.3 0 1 0 4.6 0a2.3 2.3 0 1 0-4.6 0M517.2 391.5a2.3 2.3 0 1 0 4.6 0a2.3 2.3 0 1 0-4.6 0M541.9 371.0a2.3 2.3 0 1 0 4.6 0a2.3 2.3 0 1 0-4.6 0M543.8 366.6a2.3 2.3 0 1 0 4.6 0a2.3 2.3 0 1 0-4.6 0M542.0 369.8a2.3 2.3 0 1 0 4.6 0a2.3 2.3 0 1 0-4.6 0M617.2 302.0a2.3 2.3 0 1 0 4.6 0a2.3 2.3 0 1 0-4.6 0M563.7 333.0a2.3 2.3 0 1 0 4.6 0a2.3 2.3 0 1 0-4.6 0M538.4 377.2a2.3 2.3 0 1 0 4.6 0a2.3 2.3 0 1 0-4.6 0M532.9 372.4a2.3 2.3 0 1 0 4.6 0a2.3 2.3 0 1 0-4.6 0M563.4 343.8a2.3 2.3 0 1 0 4.6 0a2.3 2.3 0 1 0-4.6 0M556.0 343.4a2.3 2.3 0 1 0 4.6 0a2.3 2.3 0 1 0-4.6 0M580.0 337.3a2.3 2.3 0 1 0 4.6 0a2.3 2.3 0 1 0-4.6 0M590.7 317.4a2.3 2.3 0 1 0 4.6 0a2.3 2.3 0 1 0-4.6 0M587.2 327.4a2.3 2.3 0 1 0 4.6 0a2.3 2.3 0 1 0-4.6 0M605.7 308.0a2.3 2.3 0 1 0 4.6 0a2.3 2.3 0 1 0-4.6 0M662.9 257.4a2.3 2.3 0 1 0 4.6 0a2.3 2.3 0 1 0-4.6 0M530.3 379.6a2.3 2.3 0 1 0 4.6 0a2.3 2.3 0 1 0-4.6 0M564.2 333.1a2.3 2.3 0 1 0 4.6 0a2.3 2.3 0 1 0-4.6 0M546.4 367.9a2.3 2.3 0 1 0 4.6 0a2.3 2.3 0 1 0-4.6 0M543.2 344.9a2.3 2.3 0 1 0 4.6 0a2.3 2.3 0 1 0-4.6 0M527.3 380.8a2.3 2.3 0 1 0 4.6 0a2.3 2.3 0 1 0-4.6 0M535.9 371.8a2.3 2.3 0 1 0 4.6 0a2.3 2.3 0 1 0-4.6 0M525.5 376.9a2.3 2.3 0 1 0 4.6 0a2.3 2.3 0 1 0-4.6 0M583.7 325.8a2.3 2.3 0 1 0 4.6 0a2.3 2.3 0 1 0-4.6 0M571.5 336.2a2.3 2.3 0 1 0 4.6 0a2.3 2.3 0 1 0-4.6 0M529.5 378.8a2.3 2.3 0 1 0 4.6 0a2.3 2.3 0 1 0-4.6 0M661.9 253.9a2.3 2.3 0 1 0 4.6 0a2.3 2.3 0 1 0-4.6 0M541.3 364.1a2.3 2.3 0 1 0 4.6 0a2.3 2.3 0 1 0-4.6 0M551.4 362.3a2.3 2.3 0 1 0 4.6 0a2.3 2.3 0 1 0-4.6 0M548.8 361.4a2.3 2.3 0 1 0 4.6 0a2.3 2.3 0 1 0-4.6 0M511.7 388.6a2.3 2.3 0 1 0 4.6 0a2.3 2.3 0 1 0-4.6 0M569.5 338.7a2.3 2.3 0 1 0 4.6 0a2.3 2.3 0 1 0-4.6 0M541.3 370.9a2.3 2.3 0 1 0 4.6 0a2.3 2.3 0 1 0-4.6 0M545.4 362.1a2.3 2.3 0 1 0 4.6 0a2.3 2.3 0 1 0-4.6 0M554.0 353.1a2.3 2.3 0 1 0 4.6 0a2.3 2.3 0 1 0-4.6 0M522.9 389.6a2.3 2.3 0 1 0 4.6 0a2.3 2.3 0 1 0-4.6 0M532.5 378.2a2.3 2.3 0 1 0 4.6 0a2.3 2.3 0 1 0-4.6 0M582.0 336.5a2.3 2.3 0 1 0 4.6 0a2.3 2.3 0 1 0-4.6 0M590.1 309.4a2.3 2.3 0 1 0 4.6 0a2.3 2.3 0 1 0-4.6 0M545.7 360.8a2.3 2.3 0 1 0 4.6 0a2.3 2.3 0 1 0-4.6 0M561.2 345.6a2.3 2.3 0 1 0 4.6 0a2.3 2.3 0 1 0-4.6 0M520.2 371.8a2.3 2.3 0 1 0 4.6 0a2.3 2.3 0 1 0-4.6 0M556.6 361.8a2.3 2.3 0 1 0 4.6 0a2.3 2.3 0 1 0-4.6 0M557.2 356.3a2.3 2.3 0 1 0 4.6 0a2.3 2.3 0 1 0-4.6 0M546.3 363.7a2.3 2.3 0 1 0 4.6 0a2.3 2.3 0 1 0-4.6 0M526.8 382.0a2.3 2.3 0 1 0 4.6 0a2.3 2.3 0 1 0-4.6 0M511.6 384.3a2.3 2.3 0 1 0 4.6 0a2.3 2.3 0 1 0-4.6 0M548.8 350.3a2.3 2.3 0 1 0 4.6 0a2.3 2.3 0 1 0-4.6 0M580.8 331.9a2.3 2.3 0 1 0 4.6 0a2.3 2.3 0 1 0-4.6 0M628.2 280.5a2.3 2.3 0 1 0 4.6 0a2.3 2.3 0 1 0-4.6 0M541.3 366.4a2.3 2.3 0 1 0 4.6 0a2.3 2.3 0 1 0-4.6 0M560.0 348.1a2.3 2.3 0 1 0 4.6 0a2.3 2.3 0 1 0-4.6 0M517.7 373.1a2.3 2.3 0 1 0 4.6 0a2.3 2.3 0 1 0-4.6 0M564.2 354.4a2.3 2.3 0 1 0 4.6 0a2.3 2.3 0 1 0-4.6 0M545.3 362.0a2.3 2.3 0 1 0 4.6 0a2.3 2.3 0 1 0-4.6 0M627.9 281.3a2.3 2.3 0 1 0 4.6 0a2.3 2.3 0 1 0-4.6 0M575.0 326.9a2.3 2.3 0 1 0 4.6 0a2.3 2.3 0 1 0-4.6 0M661.6 252.2a2.3 2.3 0 1 0 4.6 0a2.3 2.3 0 1 0-4.6 0M564.3 347.3a2.3 2.3 0 1 0 4.6 0a2.3 2.3 0 1 0-4.6 0M511.8 409.6a2.3 2.3 0 1 0 4.6 0a2.3 2.3 0 1 0-4.6 0M585.1 336.0a2.3 2.3 0 1 0 4.6 0a2.3 2.3 0 1 0-4.6 0M572.6 341.3a2.3 2.3 0 1 0 4.6 0a2.3 2.3 0 1 0-4.6 0M518.4 383.3a2.3 2.3 0 1 0 4.6 0a2.3 2.3 0 1 0-4.6 0M511.3 406.2a2.3 2.3 0 1 0 4.6 0a2.3 2.3 0 1 0-4.6 0M670.5 243.2a2.3 2.3 0 1 0 4.6 0a2.3 2.3 0 1 0-4.6 0M522.1 376.5a2.3 2.3 0 1 0 4.6 0a2.3 2.3 0 1 0-4.6 0M542.1 353.7a2.3 2.3 0 1 0 4.6 0a2.3 2.3 0 1 0-4.6 0M557.1 352.2a2.3 2.3 0 1 0 4.6 0a2.3 2.3 0 1 0-4.6 0M538.6 372.0a2.3 2.3 0 1 0 4.6 0a2.3 2.3 0 1 0-4.6 0M511.8 386.5a2.3 2.3 0 1 0 4.6 0a2.3 2.3 0 1 0-4.6 0M511.4 398.7a2.3 2.3 0 1 0 4.6 0a2.3 2.3 0 1 0-4.6 0M526.5 386.9a2.3 2.3 0 1 0 4.6 0a2.3 2.3 0 1 0-4.6 0M555.0 358.6a2.3 2.3 0 1 0 4.6 0a2.3 2.3 0 1 0-4.6 0M534.3 375.1a2.3 2.3 0 1 0 4.6 0a2.3 2.3 0 1 0-4.6 0M511.6 395.9a2.3 2.3 0 1 0 4.6 0a2.3 2.3 0 1 0-4.6 0M542.8 372.1a2.3 2.3 0 1 0 4.6 0a2.3 2.3 0 1 0-4.6 0M603.6 312.9a2.3 2.3 0 1 0 4.6 0a2.3 2.3 0 1 0-4.6 0M622.8 291.1a2.3 2.3 0 1 0 4.6 0a2.3 2.3 0 1 0-4.6 0M517.1 393.4a2.3 2.3 0 1 0 4.6 0a2.3 2.3 0 1 0-4.6 0M540.7 358.0a2.3 2.3 0 1 0 4.6 0a2.3 2.3 0 1 0-4.6 0M602.1 315.0a2.3 2.3 0 1 0 4.6 0a2.3 2.3 0 1 0-4.6 0M552.8 357.2a2.3 2.3 0 1 0 4.6 0a2.3 2.3 0 1 0-4.6 0M529.1 381.8a2.3 2.3 0 1 0 4.6 0a2.3 2.3 0 1 0-4.6 0M569.5 349.3a2.3 2.3 0 1 0 4.6 0a2.3 2.3 0 1 0-4.6 0M589.3 329.3a2.3 2.3 0 1 0 4.6 0a2.3 2.3 0 1 0-4.6 0M553.6 350.2a2.3 2.3 0 1 0 4.6 0a2.3 2.3 0 1 0-4.6 0M515.6 386.7a2.3 2.3 0 1 0 4.6 0a2.3 2.3 0 1 0-4.6 0M519.2 387.0a2.3 2.3 0 1 0 4.6 0a2.3 2.3 0 1 0-4.6 0M560.3 353.2a2.3 2.3 0 1 0 4.6 0a2.3 2.3 0 1 0-4.6 0M574.9 345.0a2.3 2.3 0 1 0 4.6 0a2.3 2.3 0 1 0-4.6 0M603.7 310.5a2.3 2.3 0 1 0 4.6 0a2.3 2.3 0 1 0-4.6 0M537.2 363.4a2.3 2.3 0 1 0 4.6 0a2.3 2.3 0 1 0-4.6 0M554.4 342.5a2.3 2.3 0 1 0 4.6 0a2.3 2.3 0 1 0-4.6 0M546.7 363.0a2.3 2.3 0 1 0 4.6 0a2.3 2.3 0 1 0-4.6 0M519.0 368.6a2.3 2.3 0 1 0 4.6 0a2.3 2.3 0 1 0-4.6 0M544.8 356.9a2.3 2.3 0 1 0 4.6 0a2.3 2.3 0 1 0-4.6 0M551.9 352.7a2.3 2.3 0 1 0 4.6 0a2.3 2.3 0 1 0-4.6 0M537.5 376.7a2.3 2.3 0 1 0 4.6 0a2.3 2.3 0 1 0-4.6 0M559.2 346.9a2.3 2.3 0 1 0 4.6 0a2.3 2.3 0 1 0-4.6 0M627.5 290.6a2.3 2.3 0 1 0 4.6 0a2.3 2.3 0 1 0-4.6 0M511.6 400.8a2.3 2.3 0 1 0 4.6 0a2.3 2.3 0 1 0-4.6 0M558.5 349.9a2.3 2.3 0 1 0 4.6 0a2.3 2.3 0 1 0-4.6 0M619.7 290.9a2.3 2.3 0 1 0 4.6 0a2.3 2.3 0 1 0-4.6 0M511.5 400.8a2.3 2.3 0 1 0 4.6 0a2.3 2.3 0 1 0-4.6 0M594.8 324.1a2.3 2.3 0 1 0 4.6 0a2.3 2.3 0 1 0-4.6 0M539.4 362.5a2.3 2.3 0 1 0 4.6 0a2.3 2.3 0 1 0-4.6 0M530.1 369.6a2.3 2.3 0 1 0 4.6 0a2.3 2.3 0 1 0-4.6 0M511.9 385.9a2.3 2.3 0 1 0 4.6 0a2.3 2.3 0 1 0-4.6 0M511.6 383.7a2.3 2.3 0 1 0 4.6 0a2.3 2.3 0 1 0-4.6 0M533.6 373.2a2.3 2.3 0 1 0 4.6 0a2.3 2.3 0 1 0-4.6 0M575.6 334.8a2.3 2.3 0 1 0 4.6 0a2.3 2.3 0 1 0-4.6 0M535.0 375.1a2.3 2.3 0 1 0 4.6 0a2.3 2.3 0 1 0-4.6 0M511.2 390.3a2.3 2.3 0 1 0 4.6 0a2.3 2.3 0 1 0-4.6 0M511.9 386.7a2.3 2.3 0 1 0 4.6 0a2.3 2.3 0 1 0-4.6 0M570.0 348.6a2.3 2.3 0 1 0 4.6 0a2.3 2.3 0 1 0-4.6 0M565.7 344.9a2.3 2.3 0 1 0 4.6 0a2.3 2.3 0 1 0-4.6 0M527.1 388.4a2.3 2.3 0 1 0 4.6 0a2.3 2.3 0 1 0-4.6 0M560.7 352.1a2.3 2.3 0 1 0 4.6 0a2.3 2.3 0 1 0-4.6 0M544.0 366.9a2.3 2.3 0 1 0 4.6 0a2.3 2.3 0 1 0-4.6 0M556.5 349.7a2.3 2.3 0 1 0 4.6 0a2.3 2.3 0 1 0-4.6 0M528.3 362.7a2.3 2.3 0 1 0 4.6 0a2.3 2.3 0 1 0-4.6 0M591.7 320.6a2.3 2.3 0 1 0 4.6 0a2.3 2.3 0 1 0-4.6 0M594.9 311.1a2.3 2.3 0 1 0 4.6 0a2.3 2.3 0 1 0-4.6 0M528.1 379.8a2.3 2.3 0 1 0 4.6 0a2.3 2.3 0 1 0-4.6 0M590.7 326.5a2.3 2.3 0 1 0 4.6 0a2.3 2.3 0 1 0-4.6 0M561.3 336.7a2.3 2.3 0 1 0 4.6 0a2.3 2.3 0 1 0-4.6 0M529.5 369.9a2.3 2.3 0 1 0 4.6 0a2.3 2.3 0 1 0-4.6 0M511.3 409.9a2.3 2.3 0 1 0 4.6 0a2.3 2.3 0 1 0-4.6 0M517.4 384.7a2.3 2.3 0 1 0 4.6 0a2.3 2.3 0 1 0-4.6 0M540.1 371.9a2.3 2.3 0 1 0 4.6 0a2.3 2.3 0 1 0-4.6 0M608.3 304.1a2.3 2.3 0 1 0 4.6 0a2.3 2.3 0 1 0-4.6 0M559.7 351.3a2.3 2.3 0 1 0 4.6 0a2.3 2.3 0 1 0-4.6 0M524.4 380.1a2.3 2.3 0 1 0 4.6 0a2.3 2.3 0 1 0-4.6 0M511.5 388.3a2.3 2.3 0 1 0 4.6 0a2.3 2.3 0 1 0-4.6 0M554.5 357.5a2.3 2.3 0 1 0 4.6 0a2.3 2.3 0 1 0-4.6 0M524.8 387.5a2.3 2.3 0 1 0 4.6 0a2.3 2.3 0 1 0-4.6 0M562.1 347.4a2.3 2.3 0 1 0 4.6 0a2.3 2.3 0 1 0-4.6 0M557.9 354.5a2.3 2.3 0 1 0 4.6 0a2.3 2.3 0 1 0-4.6 0M521.0 382.2a2.3 2.3 0 1 0 4.6 0a2.3 2.3 0 1 0-4.6 0M666.8 241.7a2.3 2.3 0 1 0 4.6 0a2.3 2.3 0 1 0-4.6 0M565.2 332.9a2.3 2.3 0 1 0 4.6 0a2.3 2.3 0 1 0-4.6 0M564.4 339.4a2.3 2.3 0 1 0 4.6 0a2.3 2.3 0 1 0-4.6 0M542.8 367.1a2.3 2.3 0 1 0 4.6 0a2.3 2.3 0 1 0-4.6 0M602.2 314.2a2.3 2.3 0 1 0 4.6 0a2.3 2.3 0 1 0-4.6 0M604.1 309.6a2.3 2.3 0 1 0 4.6 0a2.3 2.3 0 1 0-4.6 0M511.5 399.6a2.3 2.3 0 1 0 4.6 0a2.3 2.3 0 1 0-4.6 0M560.0 357.1a2.3 2.3 0 1 0 4.6 0a2.3 2.3 0 1 0-4.6 0M544.4 364.7a2.3 2.3 0 1 0 4.6 0a2.3 2.3 0 1 0-4.6 0M609.4 305.6a2.3 2.3 0 1 0 4.6 0a2.3 2.3 0 1 0-4.6 0M550.2 357.6a2.3 2.3 0 1 0 4.6 0a2.3 2.3 0 1 0-4.6 0M597.9 318.2a2.3 2.3 0 1 0 4.6 0a2.3 2.3 0 1 0-4.6 0M602.4 308.0a2.3 2.3 0 1 0 4.6 0a2.3 2.3 0 1 0-4.6 0M611.5 306.9a2.3 2.3 0 1 0 4.6 0a2.3 2.3 0 1 0-4.6 0M534.5 357.7a2.3 2.3 0 1 0 4.6 0a2.3 2.3 0 1 0-4.6 0M522.4 381.2a2.3 2.3 0 1 0 4.6 0a2.3 2.3 0 1 0-4.6 0M511.7 385.1a2.3 2.3 0 1 0 4.6 0a2.3 2.3 0 1 0-4.6 0M532.2 373.1a2.3 2.3 0 1 0 4.6 0a2.3 2.3 0 1 0-4.6 0M606.5 303.1a2.3 2.3 0 1 0 4.6 0a2.3 2.3 0 1 0-4.6 0M511.5 386.9a2.3 2.3 0 1 0 4.6 0a2.3 2.3 0 1 0-4.6 0M522.5 374.9a2.3 2.3 0 1 0 4.6 0a2.3 2.3 0 1 0-4.6 0M532.0 378.9a2.3 2.3 0 1 0 4.6 0a2.3 2.3 0 1 0-4.6 0M533.2 376.2a2.3 2.3 0 1 0 4.6 0a2.3 2.3 0 1 0-4.6 0M569.2 338.8a2.3 2.3 0 1 0 4.6 0a2.3 2.3 0 1 0-4.6 0M543.7 364.2a2.3 2.3 0 1 0 4.6 0a2.3 2.3 0 1 0-4.6 0M531.9 371.4a2.3 2.3 0 1 0 4.6 0a2.3 2.3 0 1 0-4.6 0M541.7 361.9a2.3 2.3 0 1 0 4.6 0a2.3 2.3 0 1 0-4.6 0M558.0 348.0a2.3 2.3 0 1 0 4.6 0a2.3 2.3 0 1 0-4.6 0M517.5 387.0a2.3 2.3 0 1 0 4.6 0a2.3 2.3 0 1 0-4.6 0M589.8 316.1a2.3 2.3 0 1 0 4.6 0a2.3 2.3 0 1 0-4.6 0M548.0 363.1a2.3 2.3 0 1 0 4.6 0a2.3 2.3 0 1 0-4.6 0M544.6 365.8a2.3 2.3 0 1 0 4.6 0a2.3 2.3 0 1 0-4.6 0M599.8 316.7a2.3 2.3 0 1 0 4.6 0a2.3 2.3 0 1 0-4.6 0M673.2 240.9a2.3 2.3 0 1 0 4.6 0a2.3 2.3 0 1 0-4.6 0M526.0 373.6a2.3 2.3 0 1 0 4.6 0a2.3 2.3 0 1 0-4.6 0M645.4 275.5a2.3 2.3 0 1 0 4.6 0a2.3 2.3 0 1 0-4.6 0M581.2 338.4a2.3 2.3 0 1 0 4.6 0a2.3 2.3 0 1 0-4.6 0M571.6 347.0a2.3 2.3 0 1 0 4.6 0a2.3 2.3 0 1 0-4.6 0M527.4 378.0a2.3 2.3 0 1 0 4.6 0a2.3 2.3 0 1 0-4.6 0M629.3 286.1a2.3 2.3 0 1 0 4.6 0a2.3 2.3 0 1 0-4.6 0M532.7 366.2a2.3 2.3 0 1 0 4.6 0a2.3 2.3 0 1 0-4.6 0M555.3 359.5a2.3 2.3 0 1 0 4.6 0a2.3 2.3 0 1 0-4.6 0M553.3 357.4a2.3 2.3 0 1 0 4.6 0a2.3 2.3 0 1 0-4.6 0M547.5 363.0a2.3 2.3 0 1 0 4.6 0a2.3 2.3 0 1 0-4.6 0M555.7 356.0a2.3 2.3 0 1 0 4.6 0a2.3 2.3 0 1 0-4.6 0M601.5 316.7a2.3 2.3 0 1 0 4.6 0a2.3 2.3 0 1 0-4.6 0M553.7 355.5a2.3 2.3 0 1 0 4.6 0a2.3 2.3 0 1 0-4.6 0M511.5 410.0a2.3 2.3 0 1 0 4.6 0a2.3 2.3 0 1 0-4.6 0M529.7 382.7a2.3 2.3 0 1 0 4.6 0a2.3 2.3 0 1 0-4.6 0M583.1 334.7a2.3 2.3 0 1 0 4.6 0a2.3 2.3 0 1 0-4.6 0M520.2 378.0a2.3 2.3 0 1 0 4.6 0a2.3 2.3 0 1 0-4.6 0M626.4 289.1a2.3 2.3 0 1 0 4.6 0a2.3 2.3 0 1 0-4.6 0M601.9 299.7a2.3 2.3 0 1 0 4.6 0a2.3 2.3 0 1 0-4.6 0M549.2 355.5a2.3 2.3 0 1 0 4.6 0a2.3 2.3 0 1 0-4.6 0M533.3 371.2a2.3 2.3 0 1 0 4.6 0a2.3 2.3 0 1 0-4.6 0M547.1 366.7a2.3 2.3 0 1 0 4.6 0a2.3 2.3 0 1 0-4.6 0M624.2 285.5a2.3 2.3 0 1 0 4.6 0a2.3 2.3 0 1 0-4.6 0M527.2 385.8a2.3 2.3 0 1 0 4.6 0a2.3 2.3 0 1 0-4.6 0M569.2 342.6a2.3 2.3 0 1 0 4.6 0a2.3 2.3 0 1 0-4.6 0M541.2 368.3a2.3 2.3 0 1 0 4.6 0a2.3 2.3 0 1 0-4.6 0M525.9 381.6a2.3 2.3 0 1 0 4.6 0a2.3 2.3 0 1 0-4.6 0M611.8 305.4a2.3 2.3 0 1 0 4.6 0a2.3 2.3 0 1 0-4.6 0M558.4 335.9a2.3 2.3 0 1 0 4.6 0a2.3 2.3 0 1 0-4.6 0M545.6 366.4a2.3 2.3 0 1 0 4.6 0a2.3 2.3 0 1 0-4.6 0M555.6 357.6a2.3 2.3 0 1 0 4.6 0a2.3 2.3 0 1 0-4.6 0M531.1 379.9a2.3 2.3 0 1 0 4.6 0a2.3 2.3 0 1 0-4.6 0M670.0 242.5a2.3 2.3 0 1 0 4.6 0a2.3 2.3 0 1 0-4.6 0M565.6 344.2a2.3 2.3 0 1 0 4.6 0a2.3 2.3 0 1 0-4.6 0M550.2 360.6a2.3 2.3 0 1 0 4.6 0a2.3 2.3 0 1 0-4.6 0M541.3 362.2a2.3 2.3 0 1 0 4.6 0a2.3 2.3 0 1 0-4.6 0M511.4 396.2a2.3 2.3 0 1 0 4.6 0a2.3 2.3 0 1 0-4.6 0M542.1 367.7a2.3 2.3 0 1 0 4.6 0a2.3 2.3 0 1 0-4.6 0M521.9 372.1a2.3 2.3 0 1 0 4.6 0a2.3 2.3 0 1 0-4.6 0M558.9 352.3a2.3 2.3 0 1 0 4.6 0a2.3 2.3 0 1 0-4.6 0M571.5 340.1a2.3 2.3 0 1 0 4.6 0a2.3 2.3 0 1 0-4.6 0M511.3 409.6a2.3 2.3 0 1 0 4.6 0a2.3 2.3 0 1 0-4.6 0M542.3 372.2a2.3 2.3 0 1 0 4.6 0a2.3 2.3 0 1 0-4.6 0M622.3 292.8a2.3 2.3 0 1 0 4.6 0a2.3 2.3 0 1 0-4.6 0M565.4 343.5a2.3 2.3 0 1 0 4.6 0a2.3 2.3 0 1 0-4.6 0M557.8 339.9a2.3 2.3 0 1 0 4.6 0a2.3 2.3 0 1 0-4.6 0M619.1 294.7a2.3 2.3 0 1 0 4.6 0a2.3 2.3 0 1 0-4.6 0M534.4 373.3a2.3 2.3 0 1 0 4.6 0a2.3 2.3 0 1 0-4.6 0M547.7 369.4a2.3 2.3 0 1 0 4.6 0a2.3 2.3 0 1 0-4.6 0M561.8 346.6a2.3 2.3 0 1 0 4.6 0a2.3 2.3 0 1 0-4.6 0M633.8 282.8a2.3 2.3 0 1 0 4.6 0a2.3 2.3 0 1 0-4.6 0M511.7 392.7a2.3 2.3 0 1 0 4.6 0a2.3 2.3 0 1 0-4.6 0M556.7 355.1a2.3 2.3 0 1 0 4.6 0a2.3 2.3 0 1 0-4.6 0M620.2 293.9a2.3 2.3 0 1 0 4.6 0a2.3 2.3 0 1 0-4.6 0M523.2 376.4a2.3 2.3 0 1 0 4.6 0a2.3 2.3 0 1 0-4.6 0M653.2 263.0a2.3 2.3 0 1 0 4.6 0a2.3 2.3 0 1 0-4.6 0M511.1 408.9a2.3 2.3 0 1 0 4.6 0a2.3 2.3 0 1 0-4.6 0M623.6 274.5a2.3 2.3 0 1 0 4.6 0a2.3 2.3 0 1 0-4.6 0M603.4 298.4a2.3 2.3 0 1 0 4.6 0a2.3 2.3 0 1 0-4.6 0M516.3 387.8a2.3 2.3 0 1 0 4.6 0a2.3 2.3 0 1 0-4.6 0M543.7 361.4a2.3 2.3 0 1 0 4.6 0a2.3 2.3 0 1 0-4.6 0M557.0 349.0a2.3 2.3 0 1 0 4.6 0a2.3 2.3 0 1 0-4.6 0M585.4 326.0a2.3 2.3 0 1 0 4.6 0a2.3 2.3 0 1 0-4.6 0M540.3 357.8a2.3 2.3 0 1 0 4.6 0a2.3 2.3 0 1 0-4.6 0M562.5 341.3a2.3 2.3 0 1 0 4.6 0a2.3 2.3 0 1 0-4.6 0M596.3 320.5a2.3 2.3 0 1 0 4.6 0a2.3 2.3 0 1 0-4.6 0M538.1 374.4a2.3 2.3 0 1 0 4.6 0a2.3 2.3 0 1 0-4.6 0M517.6 383.9a2.3 2.3 0 1 0 4.6 0a2.3 2.3 0 1 0-4.6 0M511.6 408.6a2.3 2.3 0 1 0 4.6 0a2.3 2.3 0 1 0-4.6 0M590.1 325.3a2.3 2.3 0 1 0 4.6 0a2.3 2.3 0 1 0-4.6 0M578.7 325.8a2.3 2.3 0 1 0 4.6 0a2.3 2.3 0 1 0-4.6 0M550.5 359.8a2.3 2.3 0 1 0 4.6 0a2.3 2.3 0 1 0-4.6 0M518.9 390.0a2.3 2.3 0 1 0 4.6 0a2.3 2.3 0 1 0-4.6 0M599.7 308.3a2.3 2.3 0 1 0 4.6 0a2.3 2.3 0 1 0-4.6 0M540.9 371.3a2.3 2.3 0 1 0 4.6 0a2.3 2.3 0 1 0-4.6 0M544.1 368.0a2.3 2.3 0 1 0 4.6 0a2.3 2.3 0 1 0-4.6 0M557.2 356.2a2.3 2.3 0 1 0 4.6 0a2.3 2.3 0 1 0-4.6 0M556.0 345.9a2.3 2.3 0 1 0 4.6 0a2.3 2.3 0 1 0-4.6 0M536.1 364.4a2.3 2.3 0 1 0 4.6 0a2.3 2.3 0 1 0-4.6 0M548.6 356.3a2.3 2.3 0 1 0 4.6 0a2.3 2.3 0 1 0-4.6 0M545.4 368.3a2.3 2.3 0 1 0 4.6 0a2.3 2.3 0 1 0-4.6 0M550.8 361.5a2.3 2.3 0 1 0 4.6 0a2.3 2.3 0 1 0-4.6 0M587.2 321.6a2.3 2.3 0 1 0 4.6 0a2.3 2.3 0 1 0-4.6 0M646.5 260.3a2.3 2.3 0 1 0 4.6 0a2.3 2.3 0 1 0-4.6 0M517.8 391.2a2.3 2.3 0 1 0 4.6 0a2.3 2.3 0 1 0-4.6 0M616.6 304.0a2.3 2.3 0 1 0 4.6 0a2.3 2.3 0 1 0-4.6 0M586.5 329.3a2.3 2.3 0 1 0 4.6 0a2.3 2.3 0 1 0-4.6 0M558.5 345.5a2.3 2.3 0 1 0 4.6 0a2.3 2.3 0 1 0-4.6 0M589.0 314.2a2.3 2.3 0 1 0 4.6 0a2.3 2.3 0 1 0-4.6 0M628.6 281.9a2.3 2.3 0 1 0 4.6 0a2.3 2.3 0 1 0-4.6 0M659.0 254.1a2.3 2.3 0 1 0 4.6 0a2.3 2.3 0 1 0-4.6 0M566.0 344.3a2.3 2.3 0 1 0 4.6 0a2.3 2.3 0 1 0-4.6 0M662.9 248.2a2.3 2.3 0 1 0 4.6 0a2.3 2.3 0 1 0-4.6 0M605.8 307.2a2.3 2.3 0 1 0 4.6 0a2.3 2.3 0 1 0-4.6 0M654.4 257.4a2.3 2.3 0 1 0 4.6 0a2.3 2.3 0 1 0-4.6 0M556.6 347.7a2.3 2.3 0 1 0 4.6 0a2.3 2.3 0 1 0-4.6 0M525.5 386.1a2.3 2.3 0 1 0 4.6 0a2.3 2.3 0 1 0-4.6 0M516.3 371.6a2.3 2.3 0 1 0 4.6 0a2.3 2.3 0 1 0-4.6 0M598.1 322.4a2.3 2.3 0 1 0 4.6 0a2.3 2.3 0 1 0-4.6 0M558.0 355.6a2.3 2.3 0 1 0 4.6 0a2.3 2.3 0 1 0-4.6 0M555.5 351.2a2.3 2.3 0 1 0 4.6 0a2.3 2.3 0 1 0-4.6 0M511.8 391.2a2.3 2.3 0 1 0 4.6 0a2.3 2.3 0 1 0-4.6 0M552.2 362.0a2.3 2.3 0 1 0 4.6 0a2.3 2.3 0 1 0-4.6 0M654.0 258.2a2.3 2.3 0 1 0 4.6 0a2.3 2.3 0 1 0-4.6 0M542.5 368.3a2.3 2.3 0 1 0 4.6 0a2.3 2.3 0 1 0-4.6 0M533.3 364.9a2.3 2.3 0 1 0 4.6 0a2.3 2.3 0 1 0-4.6 0M634.0 280.0a2.3 2.3 0 1 0 4.6 0a2.3 2.3 0 1 0-4.6 0M566.2 350.0a2.3 2.3 0 1 0 4.6 0a2.3 2.3 0 1 0-4.6 0M649.0 263.8a2.3 2.3 0 1 0 4.6 0a2.3 2.3 0 1 0-4.6 0M621.9 298.2a2.3 2.3 0 1 0 4.6 0a2.3 2.3 0 1 0-4.6 0M547.8 364.1a2.3 2.3 0 1 0 4.6 0a2.3 2.3 0 1 0-4.6 0M511.6 400.5a2.3 2.3 0 1 0 4.6 0a2.3 2.3 0 1 0-4.6 0M511.4 405.3a2.3 2.3 0 1 0 4.6 0a2.3 2.3 0 1 0-4.6 0" fill="none" stroke="#6a6a6a" stroke-width="0.55"/>
</g>
<g clip-path="url(#c5)"><line x1="457.62" y1="467.92" x2="744.50" y2="174.30" stroke="#181818" stroke-width="1.1"/></g>
<line x1="505.00" y1="233.00" x2="505.00" y2="419.80" stroke="#888" stroke-width="1.60"/>
<line x1="683.50" y1="233.00" x2="683.50" y2="419.80" stroke="#3a3a3a" stroke-width="1.00"/>
<line x1="505.00" y1="233.50" x2="683.50" y2="233.50" stroke="#6c6c6c" stroke-width="1.00"/>
<line x1="505.00" y1="419.00" x2="683.50" y2="419.00" stroke="#595959" stroke-width="1.60"/>
<path d="M515.00 419.00v3.6M505.00 409.20h-3.6M553.25 419.00v3.6M505.00 370.05h-3.6M591.50 419.00v3.6M505.00 330.90h-3.6M629.75 419.00v3.6M505.00 291.75h-3.6M668.00 419.00v3.6M505.00 252.60h-3.6" stroke="#4a4a4a" stroke-width="1.1" fill="none"/>
<text x="515.00" y="433.80" font-size="11.0" fill="#111" text-anchor="middle">0.0</text>
<text x="498.70" y="414.05" font-size="11.0" fill="#111" text-anchor="end">0.0</text>
<text x="553.25" y="433.80" font-size="11.0" fill="#111" text-anchor="middle">0.2</text>
<text x="498.70" y="374.90" font-size="11.0" fill="#111" text-anchor="end">0.2</text>
<text x="591.50" y="433.80" font-size="11.0" fill="#111" text-anchor="middle">0.4</text>
<text x="498.70" y="335.75" font-size="11.0" fill="#111" text-anchor="end">0.4</text>
<text x="629.75" y="433.80" font-size="11.0" fill="#111" text-anchor="middle">0.6</text>
<text x="498.70" y="296.60" font-size="11.0" fill="#111" text-anchor="end">0.6</text>
<text x="668.00" y="433.80" font-size="11.0" fill="#111" text-anchor="middle">0.8</text>
<text x="498.70" y="257.45" font-size="11.0" fill="#111" text-anchor="end">0.8</text>
<text x="594.40" y="451.30" font-size="14.1" fill="#111" text-anchor="middle" letter-spacing="0.3">PLS-CV</text>
<text transform="translate(476.70 324.85) rotate(-90)" font-size="14.1" fill="#111" text-anchor="middle">BLUP-HAT</text>
</svg></body></html>
